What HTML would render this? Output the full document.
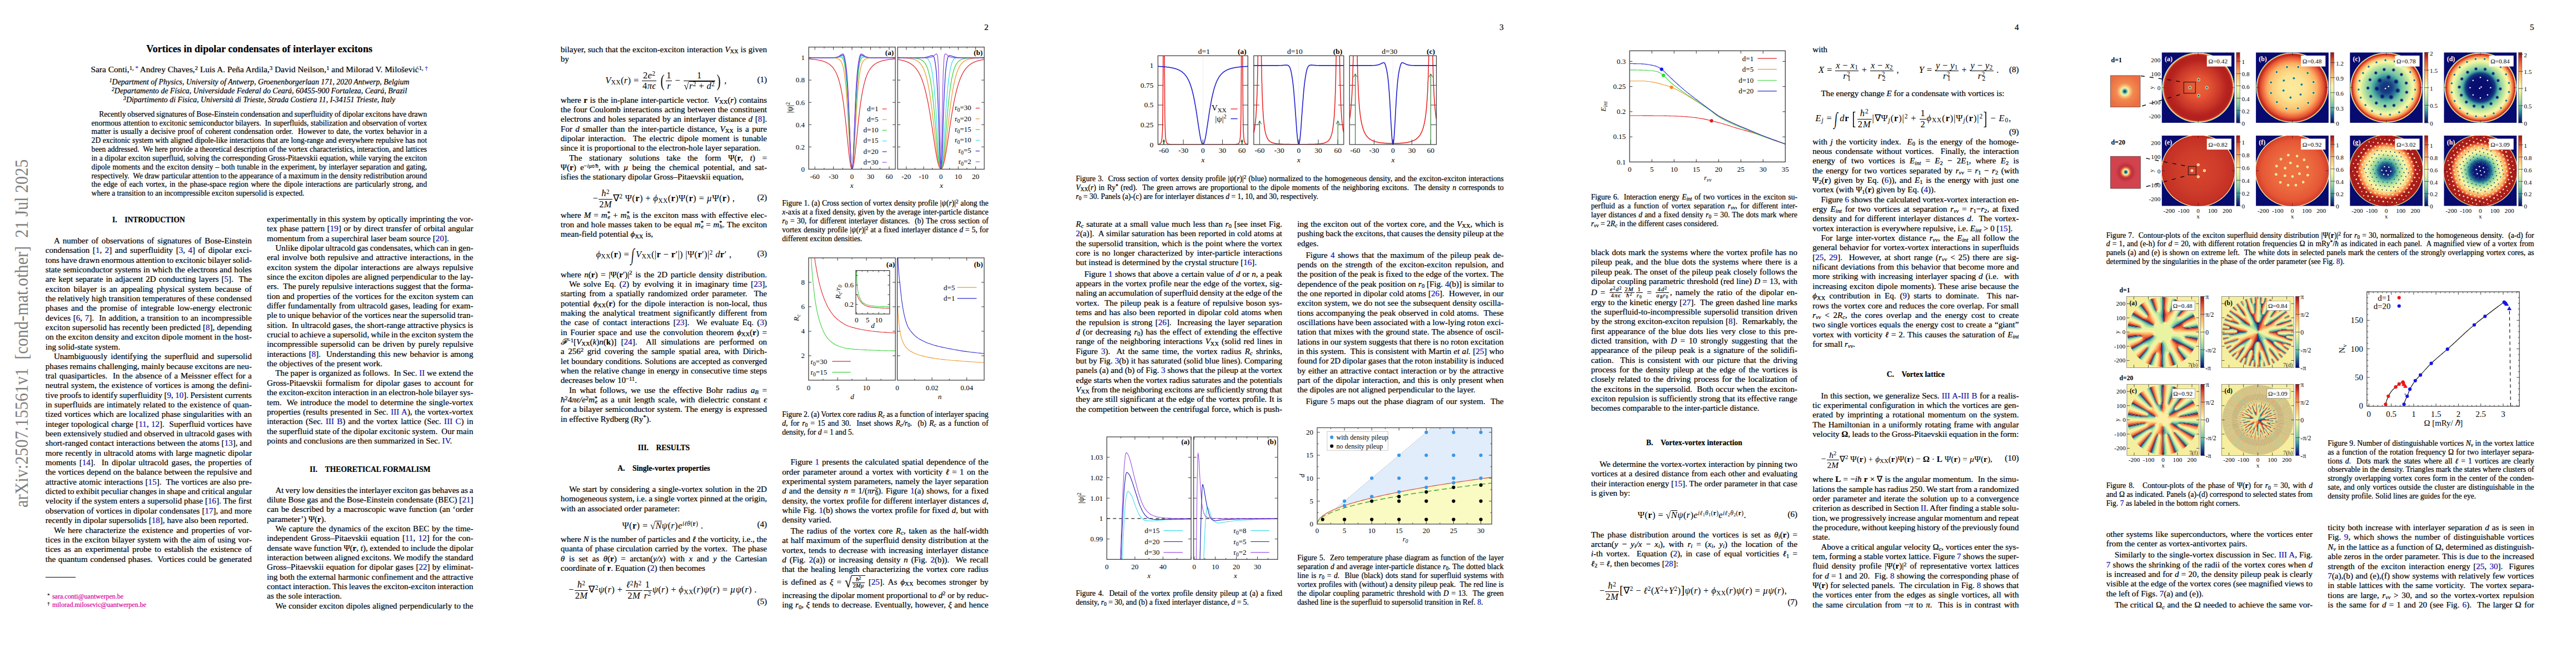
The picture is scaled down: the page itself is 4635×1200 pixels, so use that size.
<!DOCTYPE html>
<html lang="en"><head><meta charset="utf-8"><title>Vortices in dipolar condensates of interlayer excitons</title>
<style>
html,body{margin:0;padding:0;background:#fff}
body{width:4635px;height:1200px;position:relative;overflow:hidden;font-family:"Liberation Serif",serif;color:#000}
.pg{position:absolute;top:0;width:927px;height:1200px;overflow:hidden}
.l{-webkit-text-stroke-width:.22px}
.l{position:absolute;white-space:pre;height:17.354px;line-height:17.354px;font-size:15.09px}
.s{height:15.845px;line-height:15.845px;font-size:13.58px}
.g{display:inline-block;width:13.5px}
.c{text-align:center}
.r{text-align:right}
a{color:#1212aa}
.m{color:#d4009e}
.k{color:#3a3ae0}
sub.u{margin-left:-.45em}
.sq{display:inline-block;transform:scaleY(1.15)}
.ov{border-top:.8px solid #000;display:inline-block;line-height:1.0;vertical-align:baseline}
.big2{font-size:210%;vertical-align:middle;display:inline-block;transform:scaleX(.6);font-weight:100;margin:0 -2px;position:relative;top:-2px}
.int{font-size:190%;vertical-align:middle;display:inline-block;transform:scaleX(.6) skewX(-8deg);margin:0 -3px}
sub,sup{font-size:70%;line-height:0;position:relative;vertical-align:baseline}
sub{top:.22em}sup{top:-.42em}
.fr{display:inline-block;vertical-align:middle;text-align:center;line-height:1.12;margin:0 1px}
.fr>span{display:block;padding:0 1px}
.fr>span:first-child{border-bottom:.8px solid #000}
.eq{position:absolute;white-space:pre;text-align:center;font-size:15.09px;line-height:17.354px;letter-spacing:.35px}
.big{font-size:185%;vertical-align:middle;font-weight:100;display:inline-block;transform:scaleX(.7)}
svg{position:absolute;overflow:visible}
svg text{font-family:"Liberation Serif",serif}
</style></head>
<body>
<div class="pg" style="left:0px">
<div id="stamp" style="position:absolute;left:0;top:0;width:0;height:0"><div style="position:absolute;white-space:pre;font-size:30.3px;line-height:30px;color:#7f7f7f;transform-origin:0 0;transform:translate(22.7px,913px) rotate(-90deg) scale(.998,1.1)">arXiv:2507.15561v1  [cond-mat.other]  21 Jul 2025</div></div>
<div class="l c" style="left:81.80px;top:75.89px;font-size:18.10px;height:24.00px;line-height:24.00px;width:769.70px;"><b>Vortices in dipolar condensates of interlayer excitons</b></div>
<div class="l c" style="left:81.80px;top:116.14px;font-size:15.36px;width:769.70px;">Sara Conti,<sup>1,</sup><sup><a class="k"> *</a></sup> Andrey Chaves,<sup>2</sup> Luis A. Peña Ardila,<sup>3</sup> David Neilson,<sup>1</sup> and Milorad V. Milošević<sup>1,</sup><sup><a class="k"> †</a></sup></div>
<div class="l s c" style="left:81.80px;top:140.19px;font-size:13.88px;width:769.70px;"><i><sup>1</sup>Department of Physics, University of Antwerp, Groenenborgerlaan 171, 2020 Antwerp, Belgium</i></div>
<div class="l s c" style="left:81.80px;top:156.22px;font-size:13.88px;width:769.70px;"><i><sup>2</sup>Departamento de Física, Universidade Federal do Ceará, 60455-900 Fortaleza, Ceará, Brazil</i></div>
<div class="l s c" style="left:81.80px;top:172.25px;font-size:13.88px;width:769.70px;"><i><sup>3</sup>Dipartimento di Fisica, Università di Trieste, Strada Costiera 11, I-34151 Trieste, Italy</i></div>
<div class="l s" style="word-spacing:-0.48px;left:178.20px;top:197.66px;">Recently observed signatures of Bose-Einstein condensation and superfluidity of dipolar excitons have drawn</div>
<div class="l s" style="word-spacing:0.11px;left:164.60px;top:213.50px;">enormous attention to excitonic semiconductor bilayers.  In superfluids, stabilization and observation of vortex</div>
<div class="l s" style="word-spacing:0.94px;left:164.60px;top:229.35px;">matter is usually a decisive proof of coherent condensation order.  However to date, the vortex behavior in a</div>
<div class="l s" style="word-spacing:0.13px;left:164.60px;top:245.19px;">2D excitonic system with aligned dipole-like interactions that are long-range and everywhere repulsive has not</div>
<div class="l s" style="word-spacing:0.06px;left:164.60px;top:261.04px;">been addressed.  We here provide a theoretical description of the vortex characteristics, interaction, and lattices</div>
<div class="l s" style="word-spacing:0.28px;left:164.60px;top:276.88px;">in a dipolar exciton superfluid, solving the corresponding Gross-Pitaevskii equation, while varying the exciton</div>
<div class="l s" style="word-spacing:0.58px;left:164.60px;top:292.73px;">dipole moments and the exciton density – both tunable in the experiment, by interlayer separation and gating,</div>
<div class="l s" style="word-spacing:-0.05px;left:164.60px;top:308.57px;">respectively.  We draw particular attention to the appearance of a maximum in the density redistribution around</div>
<div class="l s" style="word-spacing:1.39px;left:164.60px;top:324.42px;">the edge of each vortex, in the phase-space region where the dipole interactions are particularly strong, and</div>
<div class="l s" style="left:164.60px;top:340.26px;">where a transition to an incompressible exciton supersolid is expected.</div>
<div class="l  c" style="left:81.80px;top:386.91px;font-size:13.58px;width:371.20px;"><b>I.<span class="g"></span>INTRODUCTION</b></div>
<div class="l" style="word-spacing:1.99px;left:96.90px;top:424.93px;">A number of observations of signatures of Bose-Einstein</div>
<div class="l" style="word-spacing:1.74px;left:81.80px;top:442.28px;">condensation [<a>1</a>, <a>2</a>] and superfluidity [<a>3</a>, <a>4</a>] of dipolar exci-</div>
<div class="l" style="word-spacing:-0.71px;left:81.80px;top:459.63px;">tons have drawn enormous attention to excitonic bilayer solid-</div>
<div class="l" style="word-spacing:0.23px;left:81.80px;top:476.99px;">state semiconductor systems in which the electrons and holes</div>
<div class="l" style="word-spacing:1.18px;left:81.80px;top:494.34px;">are kept separate in adjacent 2D conducting layers [<a>5</a>].  The</div>
<div class="l" style="word-spacing:2.44px;left:81.80px;top:511.70px;">exciton bilayer is an appealing physical system because of</div>
<div class="l" style="word-spacing:0.09px;left:81.80px;top:529.05px;">the relatively high transition temperatures of these condensed</div>
<div class="l" style="word-spacing:2.17px;left:81.80px;top:546.40px;">phases and the promise of integrable low-energy electronic</div>
<div class="l" style="word-spacing:0.89px;left:81.80px;top:563.76px;">devices [<a>6</a>, <a>7</a>].  In addition, a transition to an incompressible</div>
<div class="l" style="word-spacing:0.15px;left:81.80px;top:581.11px;">exciton supersolid has recently been predicted [<a>8</a>], depending</div>
<div class="l" style="word-spacing:-0.15px;left:81.80px;top:598.47px;">on the exciton density and exciton dipole moment in the host-</div>
<div class="l" style="left:81.80px;top:615.82px;">ing solid-state system.</div>
<div class="l" style="word-spacing:2.29px;left:96.90px;top:633.17px;">Unambiguously identifying the superfluid and supersolid</div>
<div class="l" style="word-spacing:-0.32px;left:81.80px;top:650.53px;">phases remains challenging, mainly because excitons are neu-</div>
<div class="l" style="word-spacing:1.04px;left:81.80px;top:667.88px;">tral quasiparticles.  In the absence of a Meissner effect for a</div>
<div class="l" style="word-spacing:0.58px;left:81.80px;top:685.24px;">neutral system, the existence of vortices is among the defini-</div>
<div class="l" style="word-spacing:-0.40px;left:81.80px;top:702.59px;">tive proofs to identify superfluidity [<a>9</a>, <a>10</a>]. Persistent currents</div>
<div class="l" style="word-spacing:0.54px;left:81.80px;top:719.94px;">in superfluids are intimately related to the existence of quan-</div>
<div class="l" style="word-spacing:0.66px;left:81.80px;top:737.30px;">tized vortices which are localized phase singularities with an</div>
<div class="l" style="word-spacing:0.55px;left:81.80px;top:754.65px;">integer topological charge [<a>11</a>, <a>12</a>].  Superfluid vortices have</div>
<div class="l" style="word-spacing:-0.08px;left:81.80px;top:772.01px;">been extensively studied and observed in ultracold gases with</div>
<div class="l" style="word-spacing:-0.09px;left:81.80px;top:789.36px;">short-ranged contact interactions between the atoms [<a>13</a>], and</div>
<div class="l" style="word-spacing:0.69px;left:81.80px;top:806.71px;">more recently in ultracold atoms with large magnetic dipolar</div>
<div class="l" style="word-spacing:1.84px;left:81.80px;top:824.07px;">moments [<a>14</a>].  In dipolar ultracold gases, the properties of</div>
<div class="l" style="word-spacing:0.26px;left:81.80px;top:841.42px;">the vortices depend on the balance between the repulsive and</div>
<div class="l" style="word-spacing:0.34px;left:81.80px;top:858.78px;">attractive atomic interactions [<a>15</a>].  The vortices are also pre-</div>
<div class="l" style="word-spacing:-0.58px;left:81.80px;top:876.13px;">dicted to exhibit peculiar changes in shape and critical angular</div>
<div class="l" style="word-spacing:0.00px;left:81.80px;top:893.48px;">velocity if the system enters a supersolid phase [<a>16</a>]. The first</div>
<div class="l" style="word-spacing:0.18px;left:81.80px;top:910.84px;">observation of vortices in dipolar condensates [<a>17</a>], and more</div>
<div class="l" style="left:81.80px;top:928.19px;">recently in dipolar supersolids [<a>18</a>], have also been reported.</div>
<div class="l" style="word-spacing:1.69px;left:96.90px;top:945.55px;">We here characterize the existence and properties of vor-</div>
<div class="l" style="word-spacing:0.54px;left:81.80px;top:962.90px;">tices in the exciton bilayer system with the aim of using vor-</div>
<div class="l" style="word-spacing:2.03px;left:81.80px;top:980.25px;">tices as an experimental probe to establish the existence of</div>
<div class="l" style="word-spacing:0.88px;left:81.80px;top:997.61px;">the quantum condensed phases.  Vortices could be generated</div>
<div style="position:absolute;left:81.8px;top:1037.6px;width:54.5px;height:0;border-top:.8px solid #000"></div>
<div class="l" style="left:85.30px;top:1066.23px;font-size:12.07px;height:14.00px;line-height:14.00px;"><sup style="color:#000">*</sup></div>
<div class="l" style="left:93.90px;top:1066.23px;font-size:12.07px;height:14.00px;line-height:14.00px;"><span class="m">sara.conti@uantwerpen.be</span></div>
<div class="l" style="left:85.30px;top:1081.33px;font-size:12.07px;height:14.00px;line-height:14.00px;"><sup style="color:#000">†</sup></div>
<div class="l" style="left:93.90px;top:1081.33px;font-size:12.07px;height:14.00px;line-height:14.00px;"><span class="m">milorad.milosevic@uantwerpen.be</span></div>
<div class="l" style="word-spacing:0.06px;left:480.30px;top:385.83px;">experimentally in this system by optically imprinting the vor-</div>
<div class="l" style="word-spacing:0.86px;left:480.30px;top:403.18px;">tex phase pattern [<a>19</a>] or by direct transfer of orbital angular</div>
<div class="l" style="left:480.30px;top:420.53px;">momentum from a superchiral laser beam source [<a>20</a>].</div>
<div class="l" style="word-spacing:-0.55px;left:495.40px;top:437.89px;">Unlike dipolar ultracold gas condensates, which can in gen-</div>
<div class="l" style="word-spacing:1.13px;left:480.30px;top:455.24px;">eral involve both repulsive and attractive interactions, in the</div>
<div class="l" style="word-spacing:1.65px;left:480.30px;top:472.60px;">exciton system the dipolar interactions are always repulsive</div>
<div class="l" style="word-spacing:0.07px;left:480.30px;top:489.95px;">since the exciton dipoles are aligned perpendicular to the lay-</div>
<div class="l" style="word-spacing:0.15px;left:480.30px;top:507.30px;">ers.  The purely repulsive interactions suggest that the forma-</div>
<div class="l" style="word-spacing:0.61px;left:480.30px;top:524.66px;">tion and properties of the vortices for the exciton system can</div>
<div class="l" style="word-spacing:0.79px;left:480.30px;top:542.01px;">differ fundamentally from ultracold gases, leading for exam-</div>
<div class="l" style="word-spacing:-0.40px;left:480.30px;top:559.37px;">ple to unique behavior of the vortices near the supersolid tran-</div>
<div class="l" style="word-spacing:-0.12px;left:480.30px;top:576.72px;">sition.  In ultracold gases, the short-range attractive physics is</div>
<div class="l" style="word-spacing:-0.61px;left:480.30px;top:594.07px;">crucial to achieve a supersolid, while in the exciton system the</div>
<div class="l" style="word-spacing:1.29px;left:480.30px;top:611.43px;">incompressible supersolid can be driven by purely repulsive</div>
<div class="l" style="word-spacing:1.22px;left:480.30px;top:628.78px;">interactions [<a>8</a>].  Understanding this new behavior is among</div>
<div class="l" style="left:480.30px;top:646.14px;">the objectives of the present work.</div>
<div class="l" style="word-spacing:-0.10px;left:495.40px;top:663.49px;">The paper is organized as follows.  In Sec. <a>II</a> we extend the</div>
<div class="l" style="word-spacing:2.00px;left:480.30px;top:680.84px;">Gross-Pitaevskii formalism for dipolar gases to account for</div>
<div class="l" style="word-spacing:-0.50px;left:480.30px;top:698.20px;">the exciton-exciton interaction in an electron-hole bilayer sys-</div>
<div class="l" style="word-spacing:0.93px;left:480.30px;top:715.55px;">tem.  We introduce the model to determine the single-vortex</div>
<div class="l" style="word-spacing:0.86px;left:480.30px;top:732.91px;">properties (results presented in Sec. <a>III A</a>), the vortex-vortex</div>
<div class="l" style="word-spacing:1.51px;left:480.30px;top:750.26px;">interaction (Sec. <a>III B</a>) and the vortex lattice (Sec. <a>III C</a>) in</div>
<div class="l" style="word-spacing:-0.19px;left:480.30px;top:767.61px;">the superfluid state of the dipolar excitonic system.  Our main</div>
<div class="l" style="left:480.30px;top:784.97px;">points and conclusions are then summarized in Sec. <a>IV</a>.</div>
<div class="l  c" style="left:480.30px;top:836.01px;font-size:13.58px;width:371.20px;"><b>II.<span class="g"></span>THEORETICAL FORMALISM</b></div>
<div class="l" style="word-spacing:-0.73px;left:495.40px;top:873.53px;">At very low densities the interlayer exciton gas behaves as a</div>
<div class="l" style="word-spacing:0.02px;left:480.30px;top:890.88px;">dilute Bose gas and the Bose-Einstein condensate (BEC) [<a>21</a>]</div>
<div class="l" style="word-spacing:0.91px;left:480.30px;top:908.23px;">can be described by a macroscopic wave function (an ‘order</div>
<div class="l" style="left:480.30px;top:925.59px;">parameter’) Ψ(<b>r</b>).</div>
<div class="l" style="word-spacing:0.81px;left:495.40px;top:942.94px;">We capture the dynamics of the exciton BEC by the time-</div>
<div class="l" style="word-spacing:1.54px;left:480.30px;top:960.30px;">independent Gross–Pitaevskii equation [<a>11</a>, <a>12</a>] for the con-</div>
<div class="l" style="word-spacing:-0.14px;left:480.30px;top:977.65px;">densate wave function Ψ(<b>r</b>, <i>t</i>), extended to include the dipolar</div>
<div class="l" style="word-spacing:-0.11px;left:480.30px;top:995.00px;">interaction between aligned excitons. We modify the standard</div>
<div class="l" style="word-spacing:0.44px;left:480.30px;top:1012.36px;">Gross–Pitaevskii equation for dipolar gases [<a>22</a>] by eliminat-</div>
<div class="l" style="word-spacing:-0.07px;left:480.30px;top:1029.71px;">ing both the external harmonic confinement and the attractive</div>
<div class="l" style="word-spacing:-0.68px;left:480.30px;top:1047.07px;">contact interaction. This leaves the exciton-exciton interaction</div>
<div class="l" style="left:480.30px;top:1064.42px;">as the sole interaction.</div>
<div class="l" style="word-spacing:0.26px;left:495.40px;top:1081.77px;">We consider exciton dipoles aligned perpendicularly to the</div>
</div>
<div class="pg" style="left:927px">
<div class="l r" style="left:81.80px;top:41.03px;width:769.70px;">2</div>
<div class="l" style="word-spacing:0.13px;left:81.80px;top:80.63px;">bilayer, such that the exciton-exciton interaction <i>V</i><sub>XX</sub> is given</div>
<div class="l" style="left:81.80px;top:97.98px;">by</div>
<div class="eq" style="left:85.8px;top:122.5px;width:371.2px;height:44px;line-height:44px;font-size:16.50px"><i>V</i><sub>XX</sub>(<i>r</i>) = <span class="fr"><span>2<i>e</i><sup>2</sup></span><span>4<i>πϵ</i></span></span> <span class="big">(</span><span class="fr"><span>1</span><span><i>r</i></span></span> − <span class="fr"><span>1</span><span><span class="sq">√</span><span class="ov"><i>r</i><sup>2</sup> + <i>d</i><sup>2</sup></span></span></span><span class="big">)</span> ,</div>
<div class="l r" style="left:81.80px;top:134.53px;width:371.20px;">(1)</div>
<div class="l" style="word-spacing:0.78px;left:81.80px;top:171.53px;">where <b>r</b> is the in-plane inter-particle vector.  <i>V</i><sub>XX</sub>(<i>r</i>) contains</div>
<div class="l" style="word-spacing:0.45px;left:81.80px;top:188.88px;">the four Coulomb interactions acting between the constituent</div>
<div class="l" style="word-spacing:0.77px;left:81.80px;top:206.23px;">electrons and holes separated by an interlayer distance <i>d</i> [<a>8</a>].</div>
<div class="l" style="word-spacing:1.75px;left:81.80px;top:223.59px;">For <i>d</i> smaller than the inter-particle distance, <i>V</i><sub>XX</sub> is a pure</div>
<div class="l" style="word-spacing:2.63px;left:81.80px;top:240.94px;">dipolar interaction.  The electric dipole moment is tunable</div>
<div class="l" style="left:81.80px;top:258.30px;">since it is proportional to the electron-hole layer separation.</div>
<div class="l" style="word-spacing:8.92px;left:96.90px;top:275.65px;">The stationary solutions take the form Ψ(<b>r</b>, <i>t</i>) =</div>
<div class="l" style="word-spacing:3.43px;left:81.80px;top:293.00px;">Ψ(<b>r</b>) e<sup>−<i>iµt/<i class="h">ħ</i></i></sup>, with <i>µ</i> being the chemical potential, and sat-</div>
<div class="l" style="left:81.80px;top:310.36px;">isfies the stationary dipolar Gross–Pitaevskii equation,</div>
<div class="eq" style="left:81.8px;top:335.1px;width:371.2px;height:44px;line-height:44px;font-size:16.50px">−<span class="fr"><span><i class="h">ħ</i><sup>2</sup></span><span>2<i>M</i></span></span>∇<sup>2</sup> Ψ(<b>r</b>) + <i>ϕ</i><sub>XX</sub>(<b>r</b>)Ψ(<b>r</b>) = <i>µ</i>Ψ(<b>r</b>) ,</div>
<div class="l r" style="left:81.80px;top:347.13px;width:371.20px;">(2)</div>
<div class="l" style="word-spacing:1.26px;left:81.80px;top:378.53px;">where <i>M</i> = <i>m</i><sup>*</sup><sub class="u"><i>e</i></sub> + <i>m</i><sup>*</sup><sub class="u"><i>h</i></sub> is the exciton mass with effective elec-</div>
<div class="l" style="word-spacing:0.61px;left:81.80px;top:395.88px;">tron and hole masses taken to be equal <i>m</i><sup>*</sup><sub class="u"><i>e</i></sub> = <i>m</i><sup>*</sup><sub class="u"><i>h</i></sub>. The exciton</div>
<div class="l" style="left:81.80px;top:413.23px;">mean-field potential <i>ϕ</i><sub>XX</sub> is,</div>
<div class="eq" style="left:81.8px;top:435.8px;width:371.2px;height:44px;line-height:44px;font-size:16.50px"><i>ϕ</i><sub>XX</sub>(<b>r</b>) = <span class="int">∫</span> <i>V</i><sub>XX</sub>(|<b>r</b> − <b>r</b>′|) |Ψ(<b>r</b>′)|<sup>2</sup> <i>d</i><b>r</b>′ ,</div>
<div class="l r" style="left:81.80px;top:447.83px;width:371.20px;">(3)</div>
<div class="l" style="word-spacing:1.79px;left:81.80px;top:485.53px;">where <i>n</i>(<b>r</b>) = |Ψ(<b>r</b>′)|<sup>2</sup> is the 2D particle density distribution.</div>
<div class="l" style="word-spacing:2.40px;left:96.90px;top:502.88px;">We solve Eq. (<a>2</a>) by evolving it in imaginary time [<a>23</a>],</div>
<div class="l" style="word-spacing:2.42px;left:81.80px;top:520.23px;">starting from a spatially randomized order parameter.  The</div>
<div class="l" style="word-spacing:1.80px;left:81.80px;top:537.59px;">potential <i>ϕ</i><sub>XX</sub>(<b>r</b>) for the dipole interaction is non-local, thus</div>
<div class="l" style="word-spacing:2.18px;left:81.80px;top:554.94px;">making the analytical treatment significantly different from</div>
<div class="l" style="word-spacing:2.60px;left:81.80px;top:572.30px;">the case of contact interactions [<a>23</a>].  We evaluate Eq. (<a>3</a>)</div>
<div class="l" style="word-spacing:1.96px;left:81.80px;top:589.65px;">in Fourier space and use the convolution theorem <i>ϕ</i><sub>XX</sub>(<b>r</b>) =</div>
<div class="l" style="word-spacing:4.45px;left:81.80px;top:607.00px;"><i>ℱ</i><sup>−1</sup>[<i>V</i><sub>XX</sub>(<i>k</i>)<i>n</i>(<b>k</b>)] [<a>24</a>].  All simulations are performed on</div>
<div class="l" style="word-spacing:2.88px;left:81.80px;top:624.36px;">a 256<sup>2</sup> grid covering the sample spatial area, with Dirich-</div>
<div class="l" style="word-spacing:0.43px;left:81.80px;top:641.71px;">let boundary conditions. Solutions are accepted as converged</div>
<div class="l" style="word-spacing:0.66px;left:81.80px;top:659.07px;">when the relative change in energy in consecutive time steps</div>
<div class="l" style="left:81.80px;top:676.42px;">decreases below 10<sup>−11</sup>.</div>
<div class="l" style="word-spacing:2.94px;left:96.90px;top:693.77px;">In what follows, we use the effective Bohr radius <i>a<sub>B</sub></i> =</div>
<div class="l" style="word-spacing:1.94px;left:81.80px;top:711.13px;"><i class="h">ħ</i><sup>2</sup>4<i>πϵ/e</i><sup>2</sup><i>m</i><sup>*</sup><sub class="u"><i>e</i></sub> as a unit length scale, with dielectric constant <i>ϵ</i></div>
<div class="l" style="word-spacing:0.88px;left:81.80px;top:728.48px;">for a bilayer semiconductor system. The energy is expressed</div>
<div class="l" style="left:81.80px;top:745.84px;">in effective Rydberg (Ry<sup>*</sup>).</div>
<div class="l  c" style="left:81.80px;top:796.51px;font-size:13.58px;width:371.20px;"><b>III.<span class="g"></span>RESULTS</b></div>
<div class="l  c" style="left:81.80px;top:833.81px;font-size:13.58px;width:371.20px;"><b>A.<span class="g"></span>Single-vortex properties</b></div>
<div class="l" style="word-spacing:0.85px;left:96.90px;top:872.03px;">We start by considering a single-vortex solution in the 2D</div>
<div class="l" style="word-spacing:-0.21px;left:81.80px;top:889.38px;">homogeneous system, i.e. a single vortex pinned at the origin,</div>
<div class="l" style="left:81.80px;top:906.73px;">with an associated order parameter:</div>
<div class="eq" style="left:79.8px;top:923.5px;width:371.2px;height:44px;line-height:44px;font-size:16.50px">Ψ(<b>r</b>) = <span class="sq">√</span><span class="ov"><i>N</i></span><i>ψ</i>(<i>r</i>)<i>e</i><sup><i>iℓθ</i>(<b>r</b>)</sup> .</div>
<div class="l r" style="left:81.80px;top:935.03px;width:371.20px;">(4)</div>
<div class="l" style="word-spacing:-0.01px;left:81.80px;top:962.13px;">where <i>N</i> is the number of particles and <i>ℓ</i> the vorticity, i.e., the</div>
<div class="l" style="word-spacing:0.68px;left:81.80px;top:979.48px;">quanta of phase circulation carried by the vortex.  The phase</div>
<div class="l" style="word-spacing:3.72px;left:81.80px;top:996.83px;"><i>θ</i> is set as <i>θ</i>(<b>r</b>) = arctan(<i>y/x</i>) with <i>x</i> and <i>y</i> the Cartesian</div>
<div class="l" style="left:81.80px;top:1014.19px;">coordinate of <b>r</b>. Equation (<a>2</a>) then becomes</div>
<div class="eq" style="left:79.8px;top:1039.1px;width:371.2px;height:44px;line-height:44px;font-size:16.50px">−<span class="fr"><span><i class="h">ħ</i><sup>2</sup></span><span>2<i>M</i></span></span>∇<sup>2</sup><i>ψ</i>(<i>r</i>) + <span class="fr"><span><i>ℓ</i><sup>2</sup><i class="h">ħ</i><sup>2</sup></span><span>2<i>M</i></span></span><span class="fr"><span>1</span><span><i>r</i><sup>2</sup></span></span><i>ψ</i>(<i>r</i>) + <i>ϕ</i><sub>XX</sub>(<i>r</i>)<i>ψ</i>(<i>r</i>) = <i>µψ</i>(<i>r</i>) .</div>
<div class="l r" style="left:81.80px;top:1074.33px;width:371.20px;">(5)</div>
<div class="l s" style="word-spacing:0.24px;left:480.30px;top:358.46px;">Figure 1. (a) Cross section of vortex density profile |<i>ψ</i>(<i>r</i>)|<sup>2</sup> along the</div>
<div class="l s" style="word-spacing:0.25px;left:480.30px;top:374.30px;"><i>x</i>-axis at a fixed density, given by the average inter-particle distance</div>
<div class="l s" style="word-spacing:1.16px;left:480.30px;top:390.15px;"><i>r</i><sub>0</sub> = 30, for different interlayer distances.  (b) The cross section of</div>
<div class="l s" style="word-spacing:0.55px;left:480.30px;top:405.99px;">vortex density profile |<i>ψ</i>(<i>r</i>)|<sup>2</sup> at a fixed interlayer distance <i>d</i> = 5, for</div>
<div class="l s" style="left:480.30px;top:421.84px;">different exciton densities.</div>
<div class="l s" style="word-spacing:-0.20px;left:480.30px;top:737.86px;">Figure 2. (a) Vortex core radius <i>R<sub>c</sub></i> as a function of interlayer spacing</div>
<div class="l s" style="word-spacing:1.60px;left:480.30px;top:753.70px;"><i>d</i>, for <i>r</i><sub>0</sub> = 15 and 30.  Inset shows <i>R<sub>c</sub>/r</i><sub>0</sub>.  (b) <i>R<sub>c</sub></i> as a function of</div>
<div class="l s" style="left:480.30px;top:769.55px;">density, for <i>d</i> = 1 and 5.</div>
<div class="l" style="word-spacing:1.07px;left:495.40px;top:823.23px;">Figure <a>1</a> presents the calculated spatial dependence of the</div>
<div class="l" style="word-spacing:1.53px;left:480.30px;top:840.58px;">order parameter around a vortex with vorticity <i>ℓ</i> = 1 on the</div>
<div class="l" style="word-spacing:0.53px;left:480.30px;top:857.93px;">experimental system parameters, namely the layer separation</div>
<div class="l" style="word-spacing:1.12px;left:480.30px;top:875.29px;"><i>d</i> and the density <i>n</i> ≡ 1/(<i>πr</i><sup>2</sup><sub class="u">0</sub>). Figure <a>1</a>(a) shows, for a fixed</div>
<div class="l" style="word-spacing:0.50px;left:480.30px;top:892.64px;">density, the vortex profile for different interlayer distances <i>d</i>,</div>
<div class="l" style="word-spacing:0.58px;left:480.30px;top:910.00px;">while Fig. <a>1</a>(b) shows the vortex profile for fixed <i>d</i>, but with</div>
<div class="l" style="left:480.30px;top:927.35px;">density varied.</div>
<div class="l" style="word-spacing:1.85px;left:495.40px;top:947.03px;">The radius of the vortex core <i>R<sub>c</sub></i>, taken as the half-width</div>
<div class="l" style="word-spacing:0.81px;left:480.30px;top:964.38px;">at half maximum of the superfluid density distribution at the</div>
<div class="l" style="word-spacing:1.59px;left:480.30px;top:981.73px;">vortex, tends to decrease with increasing interlayer distance</div>
<div class="l" style="word-spacing:2.05px;left:480.30px;top:999.09px;"><i>d</i> (Fig. <a>2</a>(a)) or increasing density <i>n</i> (Fig. <a>2</a>(b)).  We recall</div>
<div class="l" style="word-spacing:1.60px;left:480.30px;top:1016.44px;">that the healing length characterizing the vortex core radius</div>
<div class="l" style="word-spacing:2.22px;left:480.30px;top:1034.13px;">is defined as <i>ξ</i> = <span class="sq" style="font-size:150%;vertical-align:-3px">√</span><span class="ov" style="padding-top:2px;position:relative;top:.8px"><span class="fr" style="font-size:70%;line-height:1"><span><i class="h">ħ</i><sup>2</sup></span><span>2<i>Mµ</i></span></span></span> [<a>25</a>]. As <i>ϕ</i><sub>XX</sub> becomes stronger by</div>
<div class="l" style="word-spacing:-0.05px;left:480.30px;top:1062.53px;">increasing the dipolar moment proportional to <i>d</i><sup>2</sup> or by reduc-</div>
<div class="l" style="word-spacing:0.70px;left:480.30px;top:1080.33px;">ing <i>r</i><sub>0</sub>, <i>ξ</i> tends to decrease. Eventually, however, <i>ξ</i> and hence</div>
<svg width="927" height="1200" viewBox="0 0 927 1200" style="left:0;top:0"><line x1="606.0" x2="606.0" y1="84.7" y2="304.4" stroke="#ccc" stroke-width=".6" stroke-dasharray="1 1.5"/>
<clipPath id="f1a"><rect x="528.1" y="84.7" width="155.9" height="219.7"/></clipPath>
<polyline points="528.1,106.0 528.7,106.0 529.2,106.1 529.8,106.1 530.3,106.2 530.9,106.2 531.4,106.3 532.0,106.3 532.6,106.4 533.1,106.4 533.7,106.5 534.2,106.5 534.8,106.6 535.3,106.6 535.9,106.7 536.5,106.7 537.0,106.8 537.6,106.9 538.1,106.9 538.7,107.0 539.2,107.1 539.8,107.1 540.3,107.2 540.9,107.3 541.5,107.4 542.0,107.5 542.6,107.5 543.1,107.6 543.7,107.7 544.2,107.8 544.8,107.9 545.4,108.0 545.9,108.1 546.5,108.2 547.0,108.3 547.6,108.4 548.1,108.6 548.7,108.7 549.3,108.8 549.8,108.9 550.4,109.1 550.9,109.2 551.5,109.4 552.0,109.5 552.6,109.7 553.2,109.8 553.7,110.0 554.3,110.2 554.8,110.4 555.4,110.6 555.9,110.8 556.5,111.0 557.1,111.2 557.6,111.4 558.2,111.6 558.7,111.9 559.3,112.1 559.8,112.4 560.4,112.6 561.0,112.9 561.5,113.2 562.1,113.5 562.6,113.8 563.2,114.2 563.7,114.5 564.3,114.9 564.8,115.3 565.4,115.7 566.0,116.1 566.5,116.5 567.1,117.0 567.6,117.5 568.2,118.0 568.7,118.5 569.3,119.0 569.9,119.6 570.4,120.2 571.0,120.8 571.5,121.5 572.1,122.2 572.6,122.9 573.2,123.7 573.8,124.5 574.3,125.3 574.9,126.2 575.4,127.2 576.0,128.2 576.5,129.2 577.1,130.3 577.7,131.4 578.2,132.7 578.8,133.9 579.3,135.3 579.9,136.7 580.4,138.2 581.0,139.8 581.6,141.5 582.1,143.2 582.7,145.1 583.2,147.1 583.8,149.2 584.3,151.3 584.9,153.7 585.4,156.1 586.0,158.7 586.6,161.4 587.1,164.2 587.7,167.2 588.2,170.4 588.8,173.7 589.3,177.2 589.9,180.9 590.5,184.7 591.0,188.7 591.6,192.9 592.1,197.3 592.7,201.9 593.2,206.6 593.8,211.5 594.4,216.6 594.9,221.8 595.5,227.1 596.0,232.5 596.6,238.1 597.1,243.7 597.7,249.3 598.3,254.9 598.8,260.4 599.4,265.8 599.9,271.1 600.5,276.2 601.0,281.0 601.6,285.6 602.2,289.7 602.7,293.4 603.3,296.7 603.8,299.4 604.4,301.6 604.9,303.1 605.5,304.1 606.0,304.4 606.6,304.1 607.2,303.1 607.7,301.6 608.3,299.4 608.8,296.7 609.4,293.4 609.9,289.7 610.5,285.6 611.1,281.0 611.6,276.2 612.2,271.1 612.7,265.8 613.3,260.4 613.8,254.9 614.4,249.3 615.0,243.7 615.5,238.1 616.1,232.5 616.6,227.1 617.2,221.8 617.7,216.6 618.3,211.5 618.9,206.6 619.4,201.9 620.0,197.3 620.5,192.9 621.1,188.7 621.6,184.7 622.2,180.9 622.8,177.2 623.3,173.7 623.9,170.4 624.4,167.2 625.0,164.2 625.5,161.4 626.1,158.7 626.7,156.1 627.2,153.7 627.8,151.3 628.3,149.2 628.9,147.1 629.4,145.1 630.0,143.2 630.5,141.5 631.1,139.8 631.7,138.2 632.2,136.7 632.8,135.3 633.3,133.9 633.9,132.7 634.4,131.4 635.0,130.3 635.6,129.2 636.1,128.2 636.7,127.2 637.2,126.2 637.8,125.3 638.3,124.5 638.9,123.7 639.5,122.9 640.0,122.2 640.6,121.5 641.1,120.8 641.7,120.2 642.2,119.6 642.8,119.0 643.4,118.5 643.9,118.0 644.5,117.5 645.0,117.0 645.6,116.5 646.1,116.1 646.7,115.7 647.3,115.3 647.8,114.9 648.4,114.5 648.9,114.2 649.5,113.8 650.0,113.5 650.6,113.2 651.1,112.9 651.7,112.6 652.3,112.4 652.8,112.1 653.4,111.9 653.9,111.6 654.5,111.4 655.0,111.2 655.6,111.0 656.2,110.8 656.7,110.6 657.3,110.4 657.8,110.2 658.4,110.0 658.9,109.8 659.5,109.7 660.1,109.5 660.6,109.4 661.2,109.2 661.7,109.1 662.3,108.9 662.8,108.8 663.4,108.7 664.0,108.6 664.5,108.4 665.1,108.3 665.6,108.2 666.2,108.1 666.7,108.0 667.3,107.9 667.9,107.8 668.4,107.7 669.0,107.6 669.5,107.5 670.1,107.5 670.6,107.4 671.2,107.3 671.8,107.2 672.3,107.1 672.9,107.1 673.4,107.0 674.0,106.9 674.5,106.9 675.1,106.8 675.6,106.7 676.2,106.7 676.8,106.6 677.3,106.6 677.9,106.5 678.4,106.5 679.0,106.4 679.5,106.4 680.1,106.3 680.7,106.3 681.2,106.2 681.8,106.2 682.3,106.1 682.9,106.1 683.4,106.0 684.0,106.0" fill="none" stroke="#e0262b" stroke-width="1.25" clip-path="url(#f1a)"/>
<polyline points="528.1,104.0 528.7,104.0 529.2,104.0 529.8,104.0 530.3,104.0 530.9,104.0 531.4,104.0 532.0,104.0 532.6,104.0 533.1,104.0 533.7,104.0 534.2,104.0 534.8,104.0 535.3,104.0 535.9,104.0 536.5,104.0 537.0,104.0 537.6,104.0 538.1,104.0 538.7,104.0 539.2,104.0 539.8,104.0 540.3,104.0 540.9,104.0 541.5,104.0 542.0,104.0 542.6,104.0 543.1,104.0 543.7,104.0 544.2,104.0 544.8,104.0 545.4,104.0 545.9,104.0 546.5,104.0 547.0,104.0 547.6,104.0 548.1,104.0 548.7,104.0 549.3,104.0 549.8,104.0 550.4,104.0 550.9,104.0 551.5,104.0 552.0,104.0 552.6,104.0 553.2,104.0 553.7,104.0 554.3,104.0 554.8,104.0 555.4,104.0 555.9,104.0 556.5,104.0 557.1,104.0 557.6,104.0 558.2,104.0 558.7,104.1 559.3,104.1 559.8,104.1 560.4,104.1 561.0,104.1 561.5,104.1 562.1,104.1 562.6,104.1 563.2,104.1 563.7,104.1 564.3,104.1 564.8,104.1 565.4,104.1 566.0,104.1 566.5,104.1 567.1,104.1 567.6,104.1 568.2,104.1 568.7,104.1 569.3,104.2 569.9,104.2 570.4,104.2 571.0,104.2 571.5,104.2 572.1,104.3 572.6,104.3 573.2,104.3 573.8,104.4 574.3,104.4 574.9,104.4 575.4,104.5 576.0,104.6 576.5,104.6 577.1,104.7 577.7,104.8 578.2,104.9 578.8,105.1 579.3,105.2 579.9,105.4 580.4,105.6 581.0,105.8 581.6,106.0 582.1,106.3 582.7,106.7 583.2,107.1 583.8,107.5 584.3,108.0 584.9,108.6 585.4,109.3 586.0,110.1 586.6,111.0 587.1,112.1 587.7,113.3 588.2,114.7 588.8,116.2 589.3,118.0 589.9,120.1 590.5,122.4 591.0,125.1 591.6,128.1 592.1,131.5 592.7,135.3 593.2,139.6 593.8,144.4 594.4,149.7 594.9,155.5 595.5,161.9 596.0,168.9 596.6,176.5 597.1,184.6 597.7,193.2 598.3,202.3 598.8,211.8 599.4,221.6 599.9,231.6 600.5,241.6 601.0,251.5 601.6,261.0 602.2,270.1 602.7,278.5 603.3,285.9 603.8,292.3 604.4,297.5 604.9,301.3 605.5,303.6 606.0,304.4 606.6,303.6 607.2,301.3 607.7,297.5 608.3,292.3 608.8,285.9 609.4,278.5 609.9,270.1 610.5,261.0 611.1,251.5 611.6,241.6 612.2,231.6 612.7,221.6 613.3,211.8 613.8,202.3 614.4,193.2 615.0,184.6 615.5,176.5 616.1,168.9 616.6,161.9 617.2,155.5 617.7,149.7 618.3,144.4 618.9,139.6 619.4,135.3 620.0,131.5 620.5,128.1 621.1,125.1 621.6,122.4 622.2,120.1 622.8,118.0 623.3,116.2 623.9,114.7 624.4,113.3 625.0,112.1 625.5,111.0 626.1,110.1 626.7,109.3 627.2,108.6 627.8,108.0 628.3,107.5 628.9,107.1 629.4,106.7 630.0,106.3 630.5,106.0 631.1,105.8 631.7,105.6 632.2,105.4 632.8,105.2 633.3,105.1 633.9,104.9 634.4,104.8 635.0,104.7 635.6,104.6 636.1,104.6 636.7,104.5 637.2,104.4 637.8,104.4 638.3,104.4 638.9,104.3 639.5,104.3 640.0,104.3 640.6,104.2 641.1,104.2 641.7,104.2 642.2,104.2 642.8,104.2 643.4,104.1 643.9,104.1 644.5,104.1 645.0,104.1 645.6,104.1 646.1,104.1 646.7,104.1 647.3,104.1 647.8,104.1 648.4,104.1 648.9,104.1 649.5,104.1 650.0,104.1 650.6,104.1 651.1,104.1 651.7,104.1 652.3,104.1 652.8,104.1 653.4,104.1 653.9,104.0 654.5,104.0 655.0,104.0 655.6,104.0 656.2,104.0 656.7,104.0 657.3,104.0 657.8,104.0 658.4,104.0 658.9,104.0 659.5,104.0 660.1,104.0 660.6,104.0 661.2,104.0 661.7,104.0 662.3,104.0 662.8,104.0 663.4,104.0 664.0,104.0 664.5,104.0 665.1,104.0 665.6,104.0 666.2,104.0 666.7,104.0 667.3,104.0 667.9,104.0 668.4,104.0 669.0,104.0 669.5,104.0 670.1,104.0 670.6,104.0 671.2,104.0 671.8,104.0 672.3,104.0 672.9,104.0 673.4,104.0 674.0,104.0 674.5,104.0 675.1,104.0 675.6,104.0 676.2,104.0 676.8,104.0 677.3,104.0 677.9,104.0 678.4,104.0 679.0,104.0 679.5,104.0 680.1,104.0 680.7,104.0 681.2,104.0 681.8,104.0 682.3,104.0 682.9,104.0 683.4,104.0 684.0,104.0" fill="none" stroke="#f0962a" stroke-width="1.25" clip-path="url(#f1a)"/>
<polyline points="528.1,104.0 528.7,104.0 529.2,104.0 529.8,104.0 530.3,104.0 530.9,104.0 531.4,104.0 532.0,104.0 532.6,104.0 533.1,104.0 533.7,104.0 534.2,104.0 534.8,104.0 535.3,104.0 535.9,104.0 536.5,104.0 537.0,104.0 537.6,104.0 538.1,104.0 538.7,104.0 539.2,104.0 539.8,104.0 540.3,104.0 540.9,104.0 541.5,104.0 542.0,104.0 542.6,104.0 543.1,104.0 543.7,104.0 544.2,104.0 544.8,104.0 545.4,104.0 545.9,104.0 546.5,104.0 547.0,104.0 547.6,104.0 548.1,104.0 548.7,104.0 549.3,104.0 549.8,104.0 550.4,104.0 550.9,104.0 551.5,104.0 552.0,104.0 552.6,104.0 553.2,104.0 553.7,104.0 554.3,104.0 554.8,104.0 555.4,104.0 555.9,104.0 556.5,104.0 557.1,104.0 557.6,104.0 558.2,104.0 558.7,104.0 559.3,104.0 559.8,104.0 560.4,104.0 561.0,104.0 561.5,104.0 562.1,104.0 562.6,104.0 563.2,104.0 563.7,104.0 564.3,104.0 564.8,104.0 565.4,104.0 566.0,104.0 566.5,104.0 567.1,104.0 567.6,104.0 568.2,104.0 568.7,104.0 569.3,104.0 569.9,104.0 570.4,104.0 571.0,104.0 571.5,104.0 572.1,103.9 572.6,103.9 573.2,103.9 573.8,103.9 574.3,103.9 574.9,103.8 575.4,103.8 576.0,103.8 576.5,103.7 577.1,103.7 577.7,103.6 578.2,103.6 578.8,103.5 579.3,103.4 579.9,103.4 580.4,103.3 581.0,103.2 581.6,103.1 582.1,103.1 582.7,103.0 583.2,102.9 583.8,102.9 584.3,102.8 584.9,102.8 585.4,102.8 586.0,102.9 586.6,103.0 587.1,103.2 587.7,103.5 588.2,104.0 588.8,104.5 589.3,105.2 589.9,106.2 590.5,107.4 591.0,108.9 591.6,111.0 592.1,113.6 592.7,116.7 593.2,120.4 593.8,124.7 594.4,129.5 594.9,134.9 595.5,140.9 596.0,147.5 596.6,154.8 597.1,162.8 597.7,171.6 598.3,181.0 598.8,191.2 599.4,202.0 599.9,213.2 600.5,224.8 601.0,236.6 601.6,248.3 602.2,259.6 602.7,270.2 603.3,279.9 603.8,288.3 604.4,295.1 604.9,300.2 605.5,303.3 606.0,304.4 606.6,303.3 607.2,300.2 607.7,295.1 608.3,288.3 608.8,279.9 609.4,270.2 609.9,259.6 610.5,248.3 611.1,236.6 611.6,224.8 612.2,213.2 612.7,202.0 613.3,191.2 613.8,181.0 614.4,171.6 615.0,162.8 615.5,154.8 616.1,147.5 616.6,140.9 617.2,134.9 617.7,129.5 618.3,124.7 618.9,120.4 619.4,116.7 620.0,113.6 620.5,111.0 621.1,108.9 621.6,107.4 622.2,106.2 622.8,105.2 623.3,104.5 623.9,104.0 624.4,103.5 625.0,103.2 625.5,103.0 626.1,102.9 626.7,102.8 627.2,102.8 627.8,102.8 628.3,102.9 628.9,102.9 629.4,103.0 630.0,103.1 630.5,103.1 631.1,103.2 631.7,103.3 632.2,103.4 632.8,103.4 633.3,103.5 633.9,103.6 634.4,103.6 635.0,103.7 635.6,103.7 636.1,103.8 636.7,103.8 637.2,103.8 637.8,103.9 638.3,103.9 638.9,103.9 639.5,103.9 640.0,103.9 640.6,104.0 641.1,104.0 641.7,104.0 642.2,104.0 642.8,104.0 643.4,104.0 643.9,104.0 644.5,104.0 645.0,104.0 645.6,104.0 646.1,104.0 646.7,104.0 647.3,104.0 647.8,104.0 648.4,104.0 648.9,104.0 649.5,104.0 650.0,104.0 650.6,104.0 651.1,104.0 651.7,104.0 652.3,104.0 652.8,104.0 653.4,104.0 653.9,104.0 654.5,104.0 655.0,104.0 655.6,104.0 656.2,104.0 656.7,104.0 657.3,104.0 657.8,104.0 658.4,104.0 658.9,104.0 659.5,104.0 660.1,104.0 660.6,104.0 661.2,104.0 661.7,104.0 662.3,104.0 662.8,104.0 663.4,104.0 664.0,104.0 664.5,104.0 665.1,104.0 665.6,104.0 666.2,104.0 666.7,104.0 667.3,104.0 667.9,104.0 668.4,104.0 669.0,104.0 669.5,104.0 670.1,104.0 670.6,104.0 671.2,104.0 671.8,104.0 672.3,104.0 672.9,104.0 673.4,104.0 674.0,104.0 674.5,104.0 675.1,104.0 675.6,104.0 676.2,104.0 676.8,104.0 677.3,104.0 677.9,104.0 678.4,104.0 679.0,104.0 679.5,104.0 680.1,104.0 680.7,104.0 681.2,104.0 681.8,104.0 682.3,104.0 682.9,104.0 683.4,104.0 684.0,104.0" fill="none" stroke="#3cd23c" stroke-width="1.25" clip-path="url(#f1a)"/>
<polyline points="528.1,104.0 528.7,104.0 529.2,104.0 529.8,104.0 530.3,104.0 530.9,104.0 531.4,104.0 532.0,104.0 532.6,104.0 533.1,104.0 533.7,104.0 534.2,104.0 534.8,104.0 535.3,104.0 535.9,104.0 536.5,104.0 537.0,104.0 537.6,104.0 538.1,104.0 538.7,104.0 539.2,104.0 539.8,104.0 540.3,104.0 540.9,104.0 541.5,104.0 542.0,104.0 542.6,104.0 543.1,104.0 543.7,104.0 544.2,104.0 544.8,104.0 545.4,104.0 545.9,104.0 546.5,104.0 547.0,104.0 547.6,104.0 548.1,104.0 548.7,104.0 549.3,104.0 549.8,104.0 550.4,104.0 550.9,104.0 551.5,104.0 552.0,104.0 552.6,104.0 553.2,104.0 553.7,104.0 554.3,104.0 554.8,104.0 555.4,104.0 555.9,104.0 556.5,104.0 557.1,104.0 557.6,104.0 558.2,104.0 558.7,104.0 559.3,104.0 559.8,104.0 560.4,104.0 561.0,104.0 561.5,104.0 562.1,104.0 562.6,104.0 563.2,104.0 563.7,104.0 564.3,104.0 564.8,104.0 565.4,104.0 566.0,104.0 566.5,104.0 567.1,104.0 567.6,104.0 568.2,104.0 568.7,104.0 569.3,104.0 569.9,104.0 570.4,103.9 571.0,103.9 571.5,103.9 572.1,103.9 572.6,103.9 573.2,103.8 573.8,103.8 574.3,103.8 574.9,103.7 575.4,103.7 576.0,103.6 576.5,103.5 577.1,103.5 577.7,103.4 578.2,103.3 578.8,103.2 579.3,103.1 579.9,102.9 580.4,102.8 581.0,102.7 581.6,102.5 582.1,102.3 582.7,102.2 583.2,102.0 583.8,101.8 584.3,101.6 584.9,101.5 585.4,101.3 586.0,101.2 586.6,101.1 587.1,101.0 587.7,101.1 588.2,101.2 588.8,101.4 589.3,101.7 589.9,102.3 590.5,103.0 591.0,104.2 591.6,105.8 592.1,108.0 592.7,110.6 593.2,113.8 593.8,117.5 594.4,121.6 594.9,126.4 595.5,131.6 596.0,137.5 596.6,144.2 597.1,151.6 597.7,159.9 598.3,169.1 598.8,179.1 599.4,190.1 599.9,201.8 600.5,214.1 601.0,226.8 601.6,239.7 602.2,252.3 602.7,264.4 603.3,275.6 603.8,285.3 604.4,293.4 604.9,299.4 605.5,303.1 606.0,304.4 606.6,303.1 607.2,299.4 607.7,293.4 608.3,285.3 608.8,275.6 609.4,264.4 609.9,252.3 610.5,239.7 611.1,226.8 611.6,214.1 612.2,201.8 612.7,190.1 613.3,179.1 613.8,169.1 614.4,159.9 615.0,151.6 615.5,144.2 616.1,137.5 616.6,131.6 617.2,126.4 617.7,121.6 618.3,117.5 618.9,113.8 619.4,110.6 620.0,108.0 620.5,105.8 621.1,104.2 621.6,103.0 622.2,102.3 622.8,101.7 623.3,101.4 623.9,101.2 624.4,101.1 625.0,101.0 625.5,101.1 626.1,101.2 626.7,101.3 627.2,101.5 627.8,101.6 628.3,101.8 628.9,102.0 629.4,102.2 630.0,102.3 630.5,102.5 631.1,102.7 631.7,102.8 632.2,102.9 632.8,103.1 633.3,103.2 633.9,103.3 634.4,103.4 635.0,103.5 635.6,103.5 636.1,103.6 636.7,103.7 637.2,103.7 637.8,103.8 638.3,103.8 638.9,103.8 639.5,103.9 640.0,103.9 640.6,103.9 641.1,103.9 641.7,103.9 642.2,104.0 642.8,104.0 643.4,104.0 643.9,104.0 644.5,104.0 645.0,104.0 645.6,104.0 646.1,104.0 646.7,104.0 647.3,104.0 647.8,104.0 648.4,104.0 648.9,104.0 649.5,104.0 650.0,104.0 650.6,104.0 651.1,104.0 651.7,104.0 652.3,104.0 652.8,104.0 653.4,104.0 653.9,104.0 654.5,104.0 655.0,104.0 655.6,104.0 656.2,104.0 656.7,104.0 657.3,104.0 657.8,104.0 658.4,104.0 658.9,104.0 659.5,104.0 660.1,104.0 660.6,104.0 661.2,104.0 661.7,104.0 662.3,104.0 662.8,104.0 663.4,104.0 664.0,104.0 664.5,104.0 665.1,104.0 665.6,104.0 666.2,104.0 666.7,104.0 667.3,104.0 667.9,104.0 668.4,104.0 669.0,104.0 669.5,104.0 670.1,104.0 670.6,104.0 671.2,104.0 671.8,104.0 672.3,104.0 672.9,104.0 673.4,104.0 674.0,104.0 674.5,104.0 675.1,104.0 675.6,104.0 676.2,104.0 676.8,104.0 677.3,104.0 677.9,104.0 678.4,104.0 679.0,104.0 679.5,104.0 680.1,104.0 680.7,104.0 681.2,104.0 681.8,104.0 682.3,104.0 682.9,104.0 683.4,104.0 684.0,104.0" fill="none" stroke="#3ddcea" stroke-width="1.25" clip-path="url(#f1a)"/>
<polyline points="528.1,104.0 528.7,104.0 529.2,104.0 529.8,104.0 530.3,104.0 530.9,104.0 531.4,104.0 532.0,104.0 532.6,104.0 533.1,104.0 533.7,104.0 534.2,104.0 534.8,104.0 535.3,104.0 535.9,104.0 536.5,104.0 537.0,104.0 537.6,104.0 538.1,104.0 538.7,104.0 539.2,104.0 539.8,104.0 540.3,104.0 540.9,104.0 541.5,104.0 542.0,104.0 542.6,104.0 543.1,104.0 543.7,104.0 544.2,104.0 544.8,104.0 545.4,104.0 545.9,104.0 546.5,104.0 547.0,104.0 547.6,104.0 548.1,104.0 548.7,104.0 549.3,104.0 549.8,104.0 550.4,104.0 550.9,104.0 551.5,104.0 552.0,104.0 552.6,104.0 553.2,104.0 553.7,104.0 554.3,104.0 554.8,104.0 555.4,104.0 555.9,104.0 556.5,104.0 557.1,104.0 557.6,104.0 558.2,104.0 558.7,104.0 559.3,104.0 559.8,104.0 560.4,104.0 561.0,104.0 561.5,104.0 562.1,104.0 562.6,104.0 563.2,104.0 563.7,104.0 564.3,104.0 564.8,104.0 565.4,104.0 566.0,104.0 566.5,104.0 567.1,104.0 567.6,104.0 568.2,104.0 568.7,104.0 569.3,104.0 569.9,103.9 570.4,103.9 571.0,103.9 571.5,103.9 572.1,103.8 572.6,103.8 573.2,103.8 573.8,103.7 574.3,103.7 574.9,103.6 575.4,103.6 576.0,103.5 576.5,103.4 577.1,103.3 577.7,103.2 578.2,103.1 578.8,102.9 579.3,102.8 579.9,102.6 580.4,102.4 581.0,102.2 581.6,102.0 582.1,101.8 582.7,101.5 583.2,101.2 583.8,101.0 584.3,100.7 584.9,100.4 585.4,100.1 586.0,99.8 586.6,99.6 587.1,99.3 587.7,99.2 588.2,99.1 588.8,99.0 589.3,99.1 589.9,99.4 590.5,99.8 591.0,100.7 591.6,102.0 592.1,103.9 592.7,106.2 593.2,109.0 593.8,112.2 594.4,115.9 594.9,120.0 595.5,124.6 596.0,129.8 596.6,135.8 597.1,142.6 597.7,150.3 598.3,159.0 598.8,168.7 599.4,179.6 599.9,191.5 600.5,204.2 601.0,217.6 601.6,231.4 602.2,245.3 602.7,258.7 603.3,271.2 603.8,282.4 604.4,291.6 604.9,298.6 605.5,302.9 606.0,304.4 606.6,302.9 607.2,298.6 607.7,291.6 608.3,282.4 608.8,271.2 609.4,258.7 609.9,245.3 610.5,231.4 611.1,217.6 611.6,204.2 612.2,191.5 612.7,179.6 613.3,168.7 613.8,159.0 614.4,150.3 615.0,142.6 615.5,135.8 616.1,129.8 616.6,124.6 617.2,120.0 617.7,115.9 618.3,112.2 618.9,109.0 619.4,106.2 620.0,103.9 620.5,102.0 621.1,100.7 621.6,99.8 622.2,99.4 622.8,99.1 623.3,99.0 623.9,99.1 624.4,99.2 625.0,99.3 625.5,99.6 626.1,99.8 626.7,100.1 627.2,100.4 627.8,100.7 628.3,101.0 628.9,101.2 629.4,101.5 630.0,101.8 630.5,102.0 631.1,102.2 631.7,102.4 632.2,102.6 632.8,102.8 633.3,102.9 633.9,103.1 634.4,103.2 635.0,103.3 635.6,103.4 636.1,103.5 636.7,103.6 637.2,103.6 637.8,103.7 638.3,103.7 638.9,103.8 639.5,103.8 640.0,103.8 640.6,103.9 641.1,103.9 641.7,103.9 642.2,103.9 642.8,104.0 643.4,104.0 643.9,104.0 644.5,104.0 645.0,104.0 645.6,104.0 646.1,104.0 646.7,104.0 647.3,104.0 647.8,104.0 648.4,104.0 648.9,104.0 649.5,104.0 650.0,104.0 650.6,104.0 651.1,104.0 651.7,104.0 652.3,104.0 652.8,104.0 653.4,104.0 653.9,104.0 654.5,104.0 655.0,104.0 655.6,104.0 656.2,104.0 656.7,104.0 657.3,104.0 657.8,104.0 658.4,104.0 658.9,104.0 659.5,104.0 660.1,104.0 660.6,104.0 661.2,104.0 661.7,104.0 662.3,104.0 662.8,104.0 663.4,104.0 664.0,104.0 664.5,104.0 665.1,104.0 665.6,104.0 666.2,104.0 666.7,104.0 667.3,104.0 667.9,104.0 668.4,104.0 669.0,104.0 669.5,104.0 670.1,104.0 670.6,104.0 671.2,104.0 671.8,104.0 672.3,104.0 672.9,104.0 673.4,104.0 674.0,104.0 674.5,104.0 675.1,104.0 675.6,104.0 676.2,104.0 676.8,104.0 677.3,104.0 677.9,104.0 678.4,104.0 679.0,104.0 679.5,104.0 680.1,104.0 680.7,104.0 681.2,104.0 681.8,104.0 682.3,104.0 682.9,104.0 683.4,104.0 684.0,104.0" fill="none" stroke="#2a2ad2" stroke-width="1.25" clip-path="url(#f1a)"/>
<polyline points="528.1,104.0 528.7,104.0 529.2,104.0 529.8,104.0 530.3,104.0 530.9,104.0 531.4,104.0 532.0,104.0 532.6,104.0 533.1,104.0 533.7,104.0 534.2,104.0 534.8,104.0 535.3,104.0 535.9,104.0 536.5,104.0 537.0,104.0 537.6,104.0 538.1,104.0 538.7,104.0 539.2,104.0 539.8,104.0 540.3,104.0 540.9,104.0 541.5,104.0 542.0,104.0 542.6,104.0 543.1,104.0 543.7,104.0 544.2,104.0 544.8,104.0 545.4,104.0 545.9,104.0 546.5,104.0 547.0,104.0 547.6,104.0 548.1,104.0 548.7,104.0 549.3,104.0 549.8,104.0 550.4,104.0 550.9,104.0 551.5,104.0 552.0,104.0 552.6,104.0 553.2,104.0 553.7,104.0 554.3,104.0 554.8,104.0 555.4,104.0 555.9,104.0 556.5,104.0 557.1,104.0 557.6,104.0 558.2,104.0 558.7,104.0 559.3,104.0 559.8,104.0 560.4,104.0 561.0,104.0 561.5,104.0 562.1,104.0 562.6,104.0 563.2,104.0 563.7,104.0 564.3,104.0 564.8,104.0 565.4,104.0 566.0,104.0 566.5,104.0 567.1,104.0 567.6,104.0 568.2,104.0 568.7,104.0 569.3,103.9 569.9,103.9 570.4,103.9 571.0,103.9 571.5,103.8 572.1,103.8 572.6,103.8 573.2,103.7 573.8,103.7 574.3,103.6 574.9,103.5 575.4,103.4 576.0,103.3 576.5,103.2 577.1,103.1 577.7,103.0 578.2,102.8 578.8,102.7 579.3,102.5 579.9,102.3 580.4,102.0 581.0,101.8 581.6,101.5 582.1,101.2 582.7,100.9 583.2,100.5 583.8,100.2 584.3,99.8 584.9,99.4 585.4,99.0 586.0,98.6 586.6,98.2 587.1,97.9 587.7,97.6 588.2,97.3 588.8,97.1 589.3,97.0 589.9,97.1 590.5,97.4 591.0,98.1 591.6,99.3 592.1,101.0 592.7,103.2 593.2,105.7 593.8,108.7 594.4,111.9 594.9,115.6 595.5,119.7 596.0,124.4 596.6,129.7 597.1,135.9 597.7,143.0 598.3,151.2 598.8,160.6 599.4,171.2 599.9,183.0 600.5,196.0 601.0,209.9 601.6,224.4 602.2,239.1 602.7,253.6 603.3,267.4 603.8,279.7 604.4,290.0 604.9,297.9 605.5,302.7 606.0,304.4 606.6,302.7 607.2,297.9 607.7,290.0 608.3,279.7 608.8,267.4 609.4,253.6 609.9,239.1 610.5,224.4 611.1,209.9 611.6,196.0 612.2,183.0 612.7,171.2 613.3,160.6 613.8,151.2 614.4,143.0 615.0,135.9 615.5,129.7 616.1,124.4 616.6,119.7 617.2,115.6 617.7,111.9 618.3,108.7 618.9,105.7 619.4,103.2 620.0,101.0 620.5,99.3 621.1,98.1 621.6,97.4 622.2,97.1 622.8,97.0 623.3,97.1 623.9,97.3 624.4,97.6 625.0,97.9 625.5,98.2 626.1,98.6 626.7,99.0 627.2,99.4 627.8,99.8 628.3,100.2 628.9,100.5 629.4,100.9 630.0,101.2 630.5,101.5 631.1,101.8 631.7,102.0 632.2,102.3 632.8,102.5 633.3,102.7 633.9,102.8 634.4,103.0 635.0,103.1 635.6,103.2 636.1,103.3 636.7,103.4 637.2,103.5 637.8,103.6 638.3,103.7 638.9,103.7 639.5,103.8 640.0,103.8 640.6,103.8 641.1,103.9 641.7,103.9 642.2,103.9 642.8,103.9 643.4,104.0 643.9,104.0 644.5,104.0 645.0,104.0 645.6,104.0 646.1,104.0 646.7,104.0 647.3,104.0 647.8,104.0 648.4,104.0 648.9,104.0 649.5,104.0 650.0,104.0 650.6,104.0 651.1,104.0 651.7,104.0 652.3,104.0 652.8,104.0 653.4,104.0 653.9,104.0 654.5,104.0 655.0,104.0 655.6,104.0 656.2,104.0 656.7,104.0 657.3,104.0 657.8,104.0 658.4,104.0 658.9,104.0 659.5,104.0 660.1,104.0 660.6,104.0 661.2,104.0 661.7,104.0 662.3,104.0 662.8,104.0 663.4,104.0 664.0,104.0 664.5,104.0 665.1,104.0 665.6,104.0 666.2,104.0 666.7,104.0 667.3,104.0 667.9,104.0 668.4,104.0 669.0,104.0 669.5,104.0 670.1,104.0 670.6,104.0 671.2,104.0 671.8,104.0 672.3,104.0 672.9,104.0 673.4,104.0 674.0,104.0 674.5,104.0 675.1,104.0 675.6,104.0 676.2,104.0 676.8,104.0 677.3,104.0 677.9,104.0 678.4,104.0 679.0,104.0 679.5,104.0 680.1,104.0 680.7,104.0 681.2,104.0 681.8,104.0 682.3,104.0 682.9,104.0 683.4,104.0 684.0,104.0" fill="none" stroke="#9a4fe0" stroke-width="1.25" clip-path="url(#f1a)"/>
<rect x="528.1" y="84.7" width="155.9" height="219.7" fill="none" stroke="#3a3a3a" stroke-width="1.25"/>
<path d="M539.2 304.4v-5M539.2 84.7v5M572.6 304.4v-5M572.6 84.7v5M606.0 304.4v-5M606.0 84.7v5M639.5 304.4v-5M639.5 84.7v5M672.9 304.4v-5M672.9 84.7v5" stroke="#3a3a3a" stroke-width="1.00" fill="none"/>
<path d="M555.9 304.4v-2.5M555.9 84.7v2.5M589.3 304.4v-2.5M589.3 84.7v2.5M622.8 304.4v-2.5M622.8 84.7v2.5M656.2 304.4v-2.5M656.2 84.7v2.5" stroke="#3a3a3a" stroke-width="1.00" fill="none"/>
<path d="M528.1 264.3h5M684.0 264.3h-5M528.1 224.3h5M684.0 224.3h-5M528.1 184.2h5M684.0 184.2h-5M528.1 144.1h5M684.0 144.1h-5M528.1 104.0h5M684.0 104.0h-5" stroke="#3a3a3a" stroke-width="1.00" fill="none"/>
<text x="539.2" y="322.4" font-size="13" text-anchor="middle">-60</text>
<text x="572.6" y="322.4" font-size="13" text-anchor="middle">-30</text>
<text x="606.0" y="322.4" font-size="13" text-anchor="middle">0</text>
<text x="639.5" y="322.4" font-size="13" text-anchor="middle">30</text>
<text x="672.9" y="322.4" font-size="13" text-anchor="middle">60</text>
<text x="521.1" y="308.7" font-size="13" text-anchor="end">0</text>
<text x="521.1" y="268.6" font-size="13" text-anchor="end">0.2</text>
<text x="521.1" y="228.5" font-size="13" text-anchor="end">0.4</text>
<text x="521.1" y="188.5" font-size="13" text-anchor="end">0.6</text>
<text x="521.1" y="148.4" font-size="13" text-anchor="end">0.8</text>
<text x="521.1" y="108.3" font-size="13" text-anchor="end">1</text>
<text x="653.4" y="199.7" font-size="13" text-anchor="end" >d=1</text>
<line x1="660.6" x2="668.5" y1="196.0" y2="196.0" stroke="#e0262b" stroke-width="1.2"/>
<text x="653.4" y="218.9" font-size="13" text-anchor="end" >d=5</text>
<line x1="660.6" x2="668.5" y1="215.2" y2="215.2" stroke="#f0962a" stroke-width="1.2"/>
<text x="653.4" y="238.1" font-size="13" text-anchor="end" >d=10</text>
<line x1="660.6" x2="668.5" y1="234.4" y2="234.4" stroke="#3cd23c" stroke-width="1.2"/>
<text x="653.4" y="257.4" font-size="13" text-anchor="end" >d=15</text>
<line x1="660.6" x2="668.5" y1="253.7" y2="253.7" stroke="#3ddcea" stroke-width="1.2"/>
<text x="653.4" y="276.6" font-size="13" text-anchor="end" >d=20</text>
<line x1="660.6" x2="668.5" y1="272.9" y2="272.9" stroke="#2a2ad2" stroke-width="1.2"/>
<text x="653.4" y="295.8" font-size="13" text-anchor="end" >d=30</text>
<line x1="660.6" x2="668.5" y1="292.1" y2="292.1" stroke="#9a4fe0" stroke-width="1.2"/>
<text x="681.0" y="98.5" font-size="13" text-anchor="end" font-weight="bold">(a)</text>
<line x1="766.0" x2="766.0" y1="84.7" y2="304.4" stroke="#ccc" stroke-width=".6" stroke-dasharray="1 1.5"/>
<clipPath id="f1b"><rect x="688.1" y="84.7" width="155.9" height="219.7"/></clipPath>
<polyline points="688.1,107.0 688.5,107.1 688.9,107.2 689.3,107.2 689.7,107.3 690.0,107.3 690.4,107.4 690.8,107.5 691.2,107.5 691.6,107.6 692.0,107.7 692.4,107.8 692.8,107.8 693.2,107.9 693.6,108.0 693.9,108.1 694.3,108.1 694.7,108.2 695.1,108.3 695.5,108.4 695.9,108.5 696.3,108.6 696.7,108.7 697.1,108.8 697.5,108.8 697.8,108.9 698.2,109.1 698.6,109.2 699.0,109.3 699.4,109.4 699.8,109.5 700.2,109.6 700.6,109.7 701.0,109.8 701.4,110.0 701.7,110.1 702.1,110.2 702.5,110.4 702.9,110.5 703.3,110.6 703.7,110.8 704.1,110.9 704.5,111.1 704.9,111.2 705.2,111.4 705.6,111.5 706.0,111.7 706.4,111.9 706.8,112.1 707.2,112.2 707.6,112.4 708.0,112.6 708.4,112.8 708.8,113.0 709.1,113.2 709.5,113.4 709.9,113.7 710.3,113.9 710.7,114.1 711.1,114.3 711.5,114.6 711.9,114.8 712.3,115.1 712.7,115.3 713.0,115.6 713.4,115.9 713.8,116.2 714.2,116.5 714.6,116.8 715.0,117.1 715.4,117.4 715.8,117.7 716.2,118.0 716.6,118.4 716.9,118.7 717.3,119.1 717.7,119.5 718.1,119.9 718.5,120.2 718.9,120.6 719.3,121.1 719.7,121.5 720.1,121.9 720.4,122.4 720.8,122.8 721.2,123.3 721.6,123.8 722.0,124.3 722.4,124.8 722.8,125.4 723.2,125.9 723.6,126.5 724.0,127.1 724.3,127.7 724.7,128.3 725.1,128.9 725.5,129.5 725.9,130.2 726.3,130.9 726.7,131.6 727.1,132.3 727.5,133.1 727.9,133.8 728.2,134.6 728.6,135.4 729.0,136.2 729.4,137.1 729.8,138.0 730.2,138.9 730.6,139.8 731.0,140.8 731.4,141.7 731.8,142.7 732.1,143.8 732.5,144.8 732.9,145.9 733.3,147.0 733.7,148.2 734.1,149.4 734.5,150.6 734.9,151.8 735.3,153.1 735.6,154.4 736.0,155.7 736.4,157.1 736.8,158.5 737.2,160.0 737.6,161.5 738.0,163.0 738.4,164.5 738.8,166.1 739.2,167.8 739.5,169.4 739.9,171.1 740.3,172.9 740.7,174.7 741.1,176.5 741.5,178.4 741.9,180.3 742.3,182.2 742.7,184.2 743.1,186.2 743.4,188.3 743.8,190.4 744.2,192.5 744.6,194.7 745.0,196.9 745.4,199.1 745.8,201.4 746.2,203.7 746.6,206.1 747.0,208.5 747.3,210.9 747.7,213.4 748.1,215.8 748.5,218.3 748.9,220.9 749.3,223.4 749.7,226.0 750.1,228.6 750.5,231.2 750.8,233.8 751.2,236.4 751.6,239.1 752.0,241.7 752.4,244.3 752.8,247.0 753.2,249.6 753.6,252.2 754.0,254.8 754.4,257.4 754.7,260.0 755.1,262.5 755.5,265.0 755.9,267.5 756.3,269.9 756.7,272.3 757.1,274.6 757.5,276.9 757.9,279.1 758.3,281.2 758.6,283.3 759.0,285.3 759.4,287.3 759.8,289.1 760.2,290.9 760.6,292.5 761.0,294.1 761.4,295.6 761.8,297.0 762.2,298.2 762.5,299.4 762.9,300.4 763.3,301.3 763.7,302.1 764.1,302.8 764.5,303.4 764.9,303.8 765.3,304.1 765.7,304.3 766.0,304.4 766.4,304.3 766.8,304.1 767.2,303.8 767.6,303.4 768.0,302.8 768.4,302.1 768.8,301.3 769.2,300.4 769.6,299.4 769.9,298.2 770.3,297.0 770.7,295.6 771.1,294.1 771.5,292.5 771.9,290.9 772.3,289.1 772.7,287.3 773.1,285.3 773.5,283.3 773.8,281.2 774.2,279.1 774.6,276.9 775.0,274.6 775.4,272.3 775.8,269.9 776.2,267.5 776.6,265.0 777.0,262.5 777.4,260.0 777.7,257.4 778.1,254.8 778.5,252.2 778.9,249.6 779.3,247.0 779.7,244.3 780.1,241.7 780.5,239.1 780.9,236.4 781.3,233.8 781.6,231.2 782.0,228.6 782.4,226.0 782.8,223.4 783.2,220.9 783.6,218.3 784.0,215.8 784.4,213.4 784.8,210.9 785.1,208.5 785.5,206.1 785.9,203.7 786.3,201.4 786.7,199.1 787.1,196.9 787.5,194.7 787.9,192.5 788.3,190.4 788.7,188.3 789.0,186.2 789.4,184.2 789.8,182.2 790.2,180.3 790.6,178.4 791.0,176.5 791.4,174.7 791.8,172.9 792.2,171.1 792.6,169.4 792.9,167.8 793.3,166.1 793.7,164.5 794.1,163.0 794.5,161.5 794.9,160.0 795.3,158.5 795.7,157.1 796.1,155.7 796.5,154.4 796.8,153.1 797.2,151.8 797.6,150.6 798.0,149.4 798.4,148.2 798.8,147.0 799.2,145.9 799.6,144.8 800.0,143.8 800.3,142.7 800.7,141.7 801.1,140.8 801.5,139.8 801.9,138.9 802.3,138.0 802.7,137.1 803.1,136.2 803.5,135.4 803.9,134.6 804.2,133.8 804.6,133.1 805.0,132.3 805.4,131.6 805.8,130.9 806.2,130.2 806.6,129.5 807.0,128.9 807.4,128.3 807.8,127.7 808.1,127.1 808.5,126.5 808.9,125.9 809.3,125.4 809.7,124.8 810.1,124.3 810.5,123.8 810.9,123.3 811.3,122.8 811.7,122.4 812.0,121.9 812.4,121.5 812.8,121.1 813.2,120.6 813.6,120.2 814.0,119.9 814.4,119.5 814.8,119.1 815.2,118.7 815.5,118.4 815.9,118.0 816.3,117.7 816.7,117.4 817.1,117.1 817.5,116.8 817.9,116.5 818.3,116.2 818.7,115.9 819.1,115.6 819.4,115.3 819.8,115.1 820.2,114.8 820.6,114.6 821.0,114.3 821.4,114.1 821.8,113.9 822.2,113.7 822.6,113.4 823.0,113.2 823.3,113.0 823.7,112.8 824.1,112.6 824.5,112.4 824.9,112.2 825.3,112.1 825.7,111.9 826.1,111.7 826.5,111.5 826.9,111.4 827.2,111.2 827.6,111.1 828.0,110.9 828.4,110.8 828.8,110.6 829.2,110.5 829.6,110.4 830.0,110.2 830.4,110.1 830.7,110.0 831.1,109.8 831.5,109.7 831.9,109.6 832.3,109.5 832.7,109.4 833.1,109.3 833.5,109.2 833.9,109.1 834.3,108.9 834.6,108.8 835.0,108.8 835.4,108.7 835.8,108.6 836.2,108.5 836.6,108.4 837.0,108.3 837.4,108.2 837.8,108.1 838.2,108.1 838.5,108.0 838.9,107.9 839.3,107.8 839.7,107.8 840.1,107.7 840.5,107.6 840.9,107.5 841.3,107.5 841.7,107.4 842.1,107.3 842.4,107.3 842.8,107.2 843.2,107.2 843.6,107.1 844.0,107.0" fill="none" stroke="#e0262b" stroke-width="1.25" clip-path="url(#f1b)"/>
<polyline points="688.1,104.2 688.5,104.2 688.9,104.2 689.3,104.2 689.7,104.2 690.0,104.2 690.4,104.2 690.8,104.2 691.2,104.3 691.6,104.3 692.0,104.3 692.4,104.3 692.8,104.3 693.2,104.3 693.6,104.3 693.9,104.3 694.3,104.3 694.7,104.3 695.1,104.3 695.5,104.4 695.9,104.4 696.3,104.4 696.7,104.4 697.1,104.4 697.5,104.4 697.8,104.4 698.2,104.5 698.6,104.5 699.0,104.5 699.4,104.5 699.8,104.5 700.2,104.5 700.6,104.6 701.0,104.6 701.4,104.6 701.7,104.6 702.1,104.6 702.5,104.7 702.9,104.7 703.3,104.7 703.7,104.7 704.1,104.8 704.5,104.8 704.9,104.8 705.2,104.8 705.6,104.9 706.0,104.9 706.4,104.9 706.8,105.0 707.2,105.0 707.6,105.1 708.0,105.1 708.4,105.1 708.8,105.2 709.1,105.2 709.5,105.3 709.9,105.3 710.3,105.4 710.7,105.4 711.1,105.5 711.5,105.6 711.9,105.6 712.3,105.7 712.7,105.8 713.0,105.8 713.4,105.9 713.8,106.0 714.2,106.1 714.6,106.2 715.0,106.2 715.4,106.3 715.8,106.4 716.2,106.5 716.6,106.6 716.9,106.7 717.3,106.9 717.7,107.0 718.1,107.1 718.5,107.2 718.9,107.4 719.3,107.5 719.7,107.7 720.1,107.8 720.4,108.0 720.8,108.2 721.2,108.4 721.6,108.6 722.0,108.8 722.4,109.0 722.8,109.2 723.2,109.4 723.6,109.6 724.0,109.9 724.3,110.1 724.7,110.4 725.1,110.7 725.5,111.0 725.9,111.3 726.3,111.6 726.7,112.0 727.1,112.3 727.5,112.7 727.9,113.1 728.2,113.5 728.6,113.9 729.0,114.4 729.4,114.8 729.8,115.3 730.2,115.8 730.6,116.4 731.0,116.9 731.4,117.5 731.8,118.1 732.1,118.8 732.5,119.4 732.9,120.1 733.3,120.8 733.7,121.6 734.1,122.4 734.5,123.2 734.9,124.1 735.3,125.0 735.6,125.9 736.0,126.9 736.4,127.9 736.8,128.9 737.2,130.0 737.6,131.2 738.0,132.4 738.4,133.6 738.8,134.9 739.2,136.3 739.5,137.7 739.9,139.1 740.3,140.6 740.7,142.2 741.1,143.8 741.5,145.5 741.9,147.2 742.3,149.0 742.7,150.9 743.1,152.8 743.4,154.8 743.8,156.9 744.2,159.0 744.6,161.3 745.0,163.5 745.4,165.9 745.8,168.3 746.2,170.8 746.6,173.3 747.0,175.9 747.3,178.6 747.7,181.4 748.1,184.2 748.5,187.1 748.9,190.0 749.3,193.0 749.7,196.1 750.1,199.2 750.5,202.4 750.8,205.6 751.2,208.9 751.6,212.2 752.0,215.6 752.4,219.0 752.8,222.4 753.2,225.9 753.6,229.3 754.0,232.8 754.4,236.3 754.7,239.8 755.1,243.2 755.5,246.7 755.9,250.1 756.3,253.5 756.7,256.9 757.1,260.2 757.5,263.4 757.9,266.6 758.3,269.7 758.6,272.8 759.0,275.7 759.4,278.5 759.8,281.3 760.2,283.9 760.6,286.4 761.0,288.7 761.4,291.0 761.8,293.0 762.2,294.9 762.5,296.7 762.9,298.3 763.3,299.7 763.7,300.9 764.1,302.0 764.5,302.8 764.9,303.5 765.3,304.0 765.7,304.3 766.0,304.4 766.4,304.3 766.8,304.0 767.2,303.5 767.6,302.8 768.0,302.0 768.4,300.9 768.8,299.7 769.2,298.3 769.6,296.7 769.9,294.9 770.3,293.0 770.7,291.0 771.1,288.7 771.5,286.4 771.9,283.9 772.3,281.3 772.7,278.5 773.1,275.7 773.5,272.8 773.8,269.7 774.2,266.6 774.6,263.4 775.0,260.2 775.4,256.9 775.8,253.5 776.2,250.1 776.6,246.7 777.0,243.2 777.4,239.8 777.7,236.3 778.1,232.8 778.5,229.3 778.9,225.9 779.3,222.4 779.7,219.0 780.1,215.6 780.5,212.2 780.9,208.9 781.3,205.6 781.6,202.4 782.0,199.2 782.4,196.1 782.8,193.0 783.2,190.0 783.6,187.1 784.0,184.2 784.4,181.4 784.8,178.6 785.1,175.9 785.5,173.3 785.9,170.8 786.3,168.3 786.7,165.9 787.1,163.5 787.5,161.3 787.9,159.0 788.3,156.9 788.7,154.8 789.0,152.8 789.4,150.9 789.8,149.0 790.2,147.2 790.6,145.5 791.0,143.8 791.4,142.2 791.8,140.6 792.2,139.1 792.6,137.7 792.9,136.3 793.3,134.9 793.7,133.6 794.1,132.4 794.5,131.2 794.9,130.0 795.3,128.9 795.7,127.9 796.1,126.9 796.5,125.9 796.8,125.0 797.2,124.1 797.6,123.2 798.0,122.4 798.4,121.6 798.8,120.8 799.2,120.1 799.6,119.4 800.0,118.8 800.3,118.1 800.7,117.5 801.1,116.9 801.5,116.4 801.9,115.8 802.3,115.3 802.7,114.8 803.1,114.4 803.5,113.9 803.9,113.5 804.2,113.1 804.6,112.7 805.0,112.3 805.4,112.0 805.8,111.6 806.2,111.3 806.6,111.0 807.0,110.7 807.4,110.4 807.8,110.1 808.1,109.9 808.5,109.6 808.9,109.4 809.3,109.2 809.7,109.0 810.1,108.8 810.5,108.6 810.9,108.4 811.3,108.2 811.7,108.0 812.0,107.8 812.4,107.7 812.8,107.5 813.2,107.4 813.6,107.2 814.0,107.1 814.4,107.0 814.8,106.9 815.2,106.7 815.5,106.6 815.9,106.5 816.3,106.4 816.7,106.3 817.1,106.2 817.5,106.2 817.9,106.1 818.3,106.0 818.7,105.9 819.1,105.8 819.4,105.8 819.8,105.7 820.2,105.6 820.6,105.6 821.0,105.5 821.4,105.4 821.8,105.4 822.2,105.3 822.6,105.3 823.0,105.2 823.3,105.2 823.7,105.1 824.1,105.1 824.5,105.1 824.9,105.0 825.3,105.0 825.7,104.9 826.1,104.9 826.5,104.9 826.9,104.8 827.2,104.8 827.6,104.8 828.0,104.8 828.4,104.7 828.8,104.7 829.2,104.7 829.6,104.7 830.0,104.6 830.4,104.6 830.7,104.6 831.1,104.6 831.5,104.6 831.9,104.5 832.3,104.5 832.7,104.5 833.1,104.5 833.5,104.5 833.9,104.5 834.3,104.4 834.6,104.4 835.0,104.4 835.4,104.4 835.8,104.4 836.2,104.4 836.6,104.4 837.0,104.3 837.4,104.3 837.8,104.3 838.2,104.3 838.5,104.3 838.9,104.3 839.3,104.3 839.7,104.3 840.1,104.3 840.5,104.3 840.9,104.3 841.3,104.2 841.7,104.2 842.1,104.2 842.4,104.2 842.8,104.2 843.2,104.2 843.6,104.2 844.0,104.2" fill="none" stroke="#f0962a" stroke-width="1.25" clip-path="url(#f1b)"/>
<polyline points="688.1,104.1 688.5,104.1 688.9,104.1 689.3,104.1 689.7,104.1 690.0,104.1 690.4,104.1 690.8,104.1 691.2,104.1 691.6,104.1 692.0,104.1 692.4,104.1 692.8,104.1 693.2,104.1 693.6,104.1 693.9,104.1 694.3,104.1 694.7,104.1 695.1,104.1 695.5,104.1 695.9,104.1 696.3,104.1 696.7,104.1 697.1,104.1 697.5,104.1 697.8,104.1 698.2,104.1 698.6,104.1 699.0,104.1 699.4,104.1 699.8,104.1 700.2,104.1 700.6,104.1 701.0,104.1 701.4,104.1 701.7,104.1 702.1,104.1 702.5,104.1 702.9,104.2 703.3,104.2 703.7,104.2 704.1,104.2 704.5,104.2 704.9,104.2 705.2,104.2 705.6,104.2 706.0,104.2 706.4,104.2 706.8,104.2 707.2,104.2 707.6,104.2 708.0,104.2 708.4,104.2 708.8,104.3 709.1,104.3 709.5,104.3 709.9,104.3 710.3,104.3 710.7,104.3 711.1,104.3 711.5,104.3 711.9,104.4 712.3,104.4 712.7,104.4 713.0,104.4 713.4,104.4 713.8,104.4 714.2,104.5 714.6,104.5 715.0,104.5 715.4,104.5 715.8,104.5 716.2,104.6 716.6,104.6 716.9,104.6 717.3,104.6 717.7,104.7 718.1,104.7 718.5,104.7 718.9,104.8 719.3,104.8 719.7,104.9 720.1,104.9 720.4,104.9 720.8,105.0 721.2,105.0 721.6,105.1 722.0,105.2 722.4,105.2 722.8,105.3 723.2,105.3 723.6,105.4 724.0,105.5 724.3,105.6 724.7,105.7 725.1,105.7 725.5,105.8 725.9,105.9 726.3,106.0 726.7,106.1 727.1,106.3 727.5,106.4 727.9,106.5 728.2,106.7 728.6,106.8 729.0,107.0 729.4,107.1 729.8,107.3 730.2,107.5 730.6,107.7 731.0,107.9 731.4,108.1 731.8,108.3 732.1,108.6 732.5,108.9 732.9,109.1 733.3,109.4 733.7,109.8 734.1,110.1 734.5,110.4 734.9,110.8 735.3,111.2 735.6,111.6 736.0,112.1 736.4,112.6 736.8,113.1 737.2,113.6 737.6,114.2 738.0,114.8 738.4,115.4 738.8,116.1 739.2,116.8 739.5,117.6 739.9,118.4 740.3,119.2 740.7,120.1 741.1,121.1 741.5,122.1 741.9,123.1 742.3,124.3 742.7,125.5 743.1,126.7 743.4,128.0 743.8,129.4 744.2,130.9 744.6,132.5 745.0,134.1 745.4,135.8 745.8,137.7 746.2,139.6 746.6,141.6 747.0,143.7 747.3,145.9 747.7,148.2 748.1,150.6 748.5,153.1 748.9,155.8 749.3,158.6 749.7,161.4 750.1,164.4 750.5,167.5 750.8,170.8 751.2,174.1 751.6,177.6 752.0,181.2 752.4,184.9 752.8,188.7 753.2,192.6 753.6,196.6 754.0,200.7 754.4,204.9 754.7,209.2 755.1,213.5 755.5,217.9 755.9,222.4 756.3,226.9 756.7,231.5 757.1,236.0 757.5,240.6 757.9,245.1 758.3,249.6 758.6,254.0 759.0,258.4 759.4,262.7 759.8,266.9 760.2,270.9 760.6,274.8 761.0,278.5 761.4,282.1 761.8,285.4 762.2,288.6 762.5,291.4 762.9,294.1 763.3,296.4 763.7,298.5 764.1,300.3 764.5,301.8 764.9,302.9 765.3,303.7 765.7,304.2 766.0,304.4 766.4,304.2 766.8,303.7 767.2,302.9 767.6,301.8 768.0,300.3 768.4,298.5 768.8,296.4 769.2,294.1 769.6,291.4 769.9,288.6 770.3,285.4 770.7,282.1 771.1,278.5 771.5,274.8 771.9,270.9 772.3,266.9 772.7,262.7 773.1,258.4 773.5,254.0 773.8,249.6 774.2,245.1 774.6,240.6 775.0,236.0 775.4,231.5 775.8,226.9 776.2,222.4 776.6,217.9 777.0,213.5 777.4,209.2 777.7,204.9 778.1,200.7 778.5,196.6 778.9,192.6 779.3,188.7 779.7,184.9 780.1,181.2 780.5,177.6 780.9,174.1 781.3,170.8 781.6,167.5 782.0,164.4 782.4,161.4 782.8,158.6 783.2,155.8 783.6,153.1 784.0,150.6 784.4,148.2 784.8,145.9 785.1,143.7 785.5,141.6 785.9,139.6 786.3,137.7 786.7,135.8 787.1,134.1 787.5,132.5 787.9,130.9 788.3,129.4 788.7,128.0 789.0,126.7 789.4,125.5 789.8,124.3 790.2,123.1 790.6,122.1 791.0,121.1 791.4,120.1 791.8,119.2 792.2,118.4 792.6,117.6 792.9,116.8 793.3,116.1 793.7,115.4 794.1,114.8 794.5,114.2 794.9,113.6 795.3,113.1 795.7,112.6 796.1,112.1 796.5,111.6 796.8,111.2 797.2,110.8 797.6,110.4 798.0,110.1 798.4,109.8 798.8,109.4 799.2,109.1 799.6,108.9 800.0,108.6 800.3,108.3 800.7,108.1 801.1,107.9 801.5,107.7 801.9,107.5 802.3,107.3 802.7,107.1 803.1,107.0 803.5,106.8 803.9,106.7 804.2,106.5 804.6,106.4 805.0,106.3 805.4,106.1 805.8,106.0 806.2,105.9 806.6,105.8 807.0,105.7 807.4,105.7 807.8,105.6 808.1,105.5 808.5,105.4 808.9,105.3 809.3,105.3 809.7,105.2 810.1,105.2 810.5,105.1 810.9,105.0 811.3,105.0 811.7,104.9 812.0,104.9 812.4,104.9 812.8,104.8 813.2,104.8 813.6,104.7 814.0,104.7 814.4,104.7 814.8,104.6 815.2,104.6 815.5,104.6 815.9,104.6 816.3,104.5 816.7,104.5 817.1,104.5 817.5,104.5 817.9,104.5 818.3,104.4 818.7,104.4 819.1,104.4 819.4,104.4 819.8,104.4 820.2,104.4 820.6,104.3 821.0,104.3 821.4,104.3 821.8,104.3 822.2,104.3 822.6,104.3 823.0,104.3 823.3,104.3 823.7,104.2 824.1,104.2 824.5,104.2 824.9,104.2 825.3,104.2 825.7,104.2 826.1,104.2 826.5,104.2 826.9,104.2 827.2,104.2 827.6,104.2 828.0,104.2 828.4,104.2 828.8,104.2 829.2,104.2 829.6,104.1 830.0,104.1 830.4,104.1 830.7,104.1 831.1,104.1 831.5,104.1 831.9,104.1 832.3,104.1 832.7,104.1 833.1,104.1 833.5,104.1 833.9,104.1 834.3,104.1 834.6,104.1 835.0,104.1 835.4,104.1 835.8,104.1 836.2,104.1 836.6,104.1 837.0,104.1 837.4,104.1 837.8,104.1 838.2,104.1 838.5,104.1 838.9,104.1 839.3,104.1 839.7,104.1 840.1,104.1 840.5,104.1 840.9,104.1 841.3,104.1 841.7,104.1 842.1,104.1 842.4,104.1 842.8,104.1 843.2,104.1 843.6,104.1 844.0,104.1" fill="none" stroke="#3cd23c" stroke-width="1.25" clip-path="url(#f1b)"/>
<polyline points="688.1,104.0 688.5,104.0 688.9,104.0 689.3,104.0 689.7,104.0 690.0,104.0 690.4,104.0 690.8,104.0 691.2,104.0 691.6,104.0 692.0,104.0 692.4,104.0 692.8,104.0 693.2,104.0 693.6,104.0 693.9,104.0 694.3,104.0 694.7,104.0 695.1,104.0 695.5,104.0 695.9,104.0 696.3,104.0 696.7,104.0 697.1,104.0 697.5,104.0 697.8,104.0 698.2,104.0 698.6,104.0 699.0,104.0 699.4,104.0 699.8,104.0 700.2,104.0 700.6,104.0 701.0,104.0 701.4,104.0 701.7,104.0 702.1,104.0 702.5,104.0 702.9,104.0 703.3,104.0 703.7,104.0 704.1,104.0 704.5,104.0 704.9,104.0 705.2,104.0 705.6,104.0 706.0,104.0 706.4,104.0 706.8,104.0 707.2,104.0 707.6,104.0 708.0,104.0 708.4,104.0 708.8,104.0 709.1,104.0 709.5,104.0 709.9,104.0 710.3,104.0 710.7,104.0 711.1,104.0 711.5,104.0 711.9,104.0 712.3,104.0 712.7,104.0 713.0,104.0 713.4,104.0 713.8,104.0 714.2,104.0 714.6,104.0 715.0,104.0 715.4,104.0 715.8,104.0 716.2,104.0 716.6,104.0 716.9,104.0 717.3,104.0 717.7,104.0 718.1,103.9 718.5,103.9 718.9,103.9 719.3,103.9 719.7,103.9 720.1,103.9 720.4,103.9 720.8,103.9 721.2,103.9 721.6,103.9 722.0,103.9 722.4,103.8 722.8,103.8 723.2,103.8 723.6,103.8 724.0,103.8 724.3,103.8 724.7,103.8 725.1,103.7 725.5,103.7 725.9,103.7 726.3,103.7 726.7,103.7 727.1,103.6 727.5,103.6 727.9,103.6 728.2,103.6 728.6,103.6 729.0,103.6 729.4,103.5 729.8,103.5 730.2,103.5 730.6,103.5 731.0,103.5 731.4,103.5 731.8,103.4 732.1,103.4 732.5,103.4 732.9,103.4 733.3,103.4 733.7,103.4 734.1,103.4 734.5,103.4 734.9,103.5 735.3,103.5 735.6,103.5 736.0,103.5 736.4,103.6 736.8,103.6 737.2,103.7 737.6,103.8 738.0,103.9 738.4,104.0 738.8,104.1 739.2,104.2 739.5,104.3 739.9,104.5 740.3,104.7 740.7,104.9 741.1,105.2 741.5,105.5 741.9,105.8 742.3,106.1 742.7,106.5 743.1,106.9 743.4,107.4 743.8,107.9 744.2,108.5 744.6,109.2 745.0,110.0 745.4,110.8 745.8,111.8 746.2,112.8 746.6,114.0 747.0,115.2 747.3,116.5 747.7,118.0 748.1,119.5 748.5,121.2 748.9,123.0 749.3,124.9 749.7,126.9 750.1,129.1 750.5,131.4 750.8,133.8 751.2,136.4 751.6,139.2 752.0,142.2 752.4,145.3 752.8,148.6 753.2,152.1 753.6,155.8 754.0,159.7 754.4,163.8 754.7,168.1 755.1,172.6 755.5,177.4 755.9,182.4 756.3,187.5 756.7,192.9 757.1,198.5 757.5,204.2 757.9,210.1 758.3,216.1 758.6,222.2 759.0,228.4 759.4,234.6 759.8,240.8 760.2,247.0 760.6,253.2 761.0,259.2 761.4,265.0 761.8,270.6 762.2,275.9 762.5,280.9 762.9,285.5 763.3,289.8 763.7,293.5 764.1,296.8 764.5,299.5 764.9,301.6 765.3,303.2 765.7,304.1 766.0,304.4 766.4,304.1 766.8,303.2 767.2,301.6 767.6,299.5 768.0,296.8 768.4,293.5 768.8,289.8 769.2,285.5 769.6,280.9 769.9,275.9 770.3,270.6 770.7,265.0 771.1,259.2 771.5,253.2 771.9,247.0 772.3,240.8 772.7,234.6 773.1,228.4 773.5,222.2 773.8,216.1 774.2,210.1 774.6,204.2 775.0,198.5 775.4,192.9 775.8,187.5 776.2,182.4 776.6,177.4 777.0,172.6 777.4,168.1 777.7,163.8 778.1,159.7 778.5,155.8 778.9,152.1 779.3,148.6 779.7,145.3 780.1,142.2 780.5,139.2 780.9,136.4 781.3,133.8 781.6,131.4 782.0,129.1 782.4,126.9 782.8,124.9 783.2,123.0 783.6,121.2 784.0,119.5 784.4,118.0 784.8,116.5 785.1,115.2 785.5,114.0 785.9,112.8 786.3,111.8 786.7,110.8 787.1,110.0 787.5,109.2 787.9,108.5 788.3,107.9 788.7,107.4 789.0,106.9 789.4,106.5 789.8,106.1 790.2,105.8 790.6,105.5 791.0,105.2 791.4,104.9 791.8,104.7 792.2,104.5 792.6,104.3 792.9,104.2 793.3,104.1 793.7,104.0 794.1,103.9 794.5,103.8 794.9,103.7 795.3,103.6 795.7,103.6 796.1,103.5 796.5,103.5 796.8,103.5 797.2,103.5 797.6,103.4 798.0,103.4 798.4,103.4 798.8,103.4 799.2,103.4 799.6,103.4 800.0,103.4 800.3,103.4 800.7,103.5 801.1,103.5 801.5,103.5 801.9,103.5 802.3,103.5 802.7,103.5 803.1,103.6 803.5,103.6 803.9,103.6 804.2,103.6 804.6,103.6 805.0,103.6 805.4,103.7 805.8,103.7 806.2,103.7 806.6,103.7 807.0,103.7 807.4,103.8 807.8,103.8 808.1,103.8 808.5,103.8 808.9,103.8 809.3,103.8 809.7,103.8 810.1,103.9 810.5,103.9 810.9,103.9 811.3,103.9 811.7,103.9 812.0,103.9 812.4,103.9 812.8,103.9 813.2,103.9 813.6,103.9 814.0,103.9 814.4,104.0 814.8,104.0 815.2,104.0 815.5,104.0 815.9,104.0 816.3,104.0 816.7,104.0 817.1,104.0 817.5,104.0 817.9,104.0 818.3,104.0 818.7,104.0 819.1,104.0 819.4,104.0 819.8,104.0 820.2,104.0 820.6,104.0 821.0,104.0 821.4,104.0 821.8,104.0 822.2,104.0 822.6,104.0 823.0,104.0 823.3,104.0 823.7,104.0 824.1,104.0 824.5,104.0 824.9,104.0 825.3,104.0 825.7,104.0 826.1,104.0 826.5,104.0 826.9,104.0 827.2,104.0 827.6,104.0 828.0,104.0 828.4,104.0 828.8,104.0 829.2,104.0 829.6,104.0 830.0,104.0 830.4,104.0 830.7,104.0 831.1,104.0 831.5,104.0 831.9,104.0 832.3,104.0 832.7,104.0 833.1,104.0 833.5,104.0 833.9,104.0 834.3,104.0 834.6,104.0 835.0,104.0 835.4,104.0 835.8,104.0 836.2,104.0 836.6,104.0 837.0,104.0 837.4,104.0 837.8,104.0 838.2,104.0 838.5,104.0 838.9,104.0 839.3,104.0 839.7,104.0 840.1,104.0 840.5,104.0 840.9,104.0 841.3,104.0 841.7,104.0 842.1,104.0 842.4,104.0 842.8,104.0 843.2,104.0 843.6,104.0 844.0,104.0" fill="none" stroke="#3ddcea" stroke-width="1.25" clip-path="url(#f1b)"/>
<polyline points="688.1,104.0 688.5,104.0 688.9,104.0 689.3,104.0 689.7,104.0 690.0,104.0 690.4,104.0 690.8,104.0 691.2,104.0 691.6,104.0 692.0,104.0 692.4,104.0 692.8,104.0 693.2,104.0 693.6,104.0 693.9,104.0 694.3,104.0 694.7,104.0 695.1,104.0 695.5,104.0 695.9,104.0 696.3,104.0 696.7,104.0 697.1,104.0 697.5,104.0 697.8,104.0 698.2,104.0 698.6,104.0 699.0,104.0 699.4,104.0 699.8,104.0 700.2,104.0 700.6,104.0 701.0,104.0 701.4,104.0 701.7,104.0 702.1,104.0 702.5,104.0 702.9,104.0 703.3,104.0 703.7,104.0 704.1,104.0 704.5,104.0 704.9,104.0 705.2,104.0 705.6,104.0 706.0,104.0 706.4,104.0 706.8,104.0 707.2,104.0 707.6,104.0 708.0,104.0 708.4,104.0 708.8,104.0 709.1,104.0 709.5,104.0 709.9,104.0 710.3,104.0 710.7,104.0 711.1,104.0 711.5,104.0 711.9,104.0 712.3,104.0 712.7,104.0 713.0,104.0 713.4,104.0 713.8,104.0 714.2,104.0 714.6,104.0 715.0,104.0 715.4,104.0 715.8,104.0 716.2,104.0 716.6,104.0 716.9,104.0 717.3,104.0 717.7,104.0 718.1,104.0 718.5,104.0 718.9,104.0 719.3,104.0 719.7,104.0 720.1,104.0 720.4,104.0 720.8,104.0 721.2,104.0 721.6,104.0 722.0,104.0 722.4,104.0 722.8,104.0 723.2,104.0 723.6,104.0 724.0,104.0 724.3,104.0 724.7,104.0 725.1,104.0 725.5,104.0 725.9,104.0 726.3,104.0 726.7,104.0 727.1,104.0 727.5,104.0 727.9,104.0 728.2,104.0 728.6,103.9 729.0,103.9 729.4,103.9 729.8,103.9 730.2,103.9 730.6,103.9 731.0,103.9 731.4,103.9 731.8,103.8 732.1,103.8 732.5,103.8 732.9,103.8 733.3,103.7 733.7,103.7 734.1,103.7 734.5,103.7 734.9,103.6 735.3,103.6 735.6,103.5 736.0,103.5 736.4,103.5 736.8,103.4 737.2,103.4 737.6,103.3 738.0,103.2 738.4,103.2 738.8,103.1 739.2,103.0 739.5,103.0 739.9,102.9 740.3,102.8 740.7,102.7 741.1,102.6 741.5,102.5 741.9,102.4 742.3,102.3 742.7,102.2 743.1,102.1 743.4,102.0 743.8,101.8 744.2,101.7 744.6,101.6 745.0,101.4 745.4,101.3 745.8,101.2 746.2,101.0 746.6,100.9 747.0,100.7 747.3,100.6 747.7,100.5 748.1,100.4 748.5,100.3 748.9,100.2 749.3,100.1 749.7,100.1 750.1,100.0 750.5,100.0 750.8,100.1 751.2,100.2 751.6,100.4 752.0,100.6 752.4,101.0 752.8,101.4 753.2,102.2 753.6,103.1 754.0,104.3 754.4,105.8 754.7,107.5 755.1,109.5 755.5,111.7 755.9,114.1 756.3,116.9 756.7,120.0 757.1,123.5 757.5,127.4 757.9,131.8 758.3,136.8 758.6,142.5 759.0,148.8 759.4,155.8 759.8,163.7 760.2,172.3 760.6,181.6 761.0,191.7 761.4,202.4 761.8,213.7 762.2,225.3 762.5,237.0 762.9,248.6 763.3,259.8 763.7,270.4 764.1,280.0 764.5,288.4 764.9,295.2 765.3,300.3 765.7,303.4 766.0,304.4 766.4,303.4 766.8,300.3 767.2,295.2 767.6,288.4 768.0,280.0 768.4,270.4 768.8,259.8 769.2,248.6 769.6,237.0 769.9,225.3 770.3,213.7 770.7,202.4 771.1,191.7 771.5,181.6 771.9,172.3 772.3,163.7 772.7,155.8 773.1,148.8 773.5,142.5 773.8,136.8 774.2,131.8 774.6,127.4 775.0,123.5 775.4,120.0 775.8,116.9 776.2,114.1 776.6,111.7 777.0,109.5 777.4,107.5 777.7,105.8 778.1,104.3 778.5,103.1 778.9,102.2 779.3,101.4 779.7,101.0 780.1,100.6 780.5,100.4 780.9,100.2 781.3,100.1 781.6,100.0 782.0,100.0 782.4,100.1 782.8,100.1 783.2,100.2 783.6,100.3 784.0,100.4 784.4,100.5 784.8,100.6 785.1,100.7 785.5,100.9 785.9,101.0 786.3,101.2 786.7,101.3 787.1,101.4 787.5,101.6 787.9,101.7 788.3,101.8 788.7,102.0 789.0,102.1 789.4,102.2 789.8,102.3 790.2,102.4 790.6,102.5 791.0,102.6 791.4,102.7 791.8,102.8 792.2,102.9 792.6,103.0 792.9,103.0 793.3,103.1 793.7,103.2 794.1,103.2 794.5,103.3 794.9,103.4 795.3,103.4 795.7,103.5 796.1,103.5 796.5,103.5 796.8,103.6 797.2,103.6 797.6,103.7 798.0,103.7 798.4,103.7 798.8,103.7 799.2,103.8 799.6,103.8 800.0,103.8 800.3,103.8 800.7,103.9 801.1,103.9 801.5,103.9 801.9,103.9 802.3,103.9 802.7,103.9 803.1,103.9 803.5,103.9 803.9,104.0 804.2,104.0 804.6,104.0 805.0,104.0 805.4,104.0 805.8,104.0 806.2,104.0 806.6,104.0 807.0,104.0 807.4,104.0 807.8,104.0 808.1,104.0 808.5,104.0 808.9,104.0 809.3,104.0 809.7,104.0 810.1,104.0 810.5,104.0 810.9,104.0 811.3,104.0 811.7,104.0 812.0,104.0 812.4,104.0 812.8,104.0 813.2,104.0 813.6,104.0 814.0,104.0 814.4,104.0 814.8,104.0 815.2,104.0 815.5,104.0 815.9,104.0 816.3,104.0 816.7,104.0 817.1,104.0 817.5,104.0 817.9,104.0 818.3,104.0 818.7,104.0 819.1,104.0 819.4,104.0 819.8,104.0 820.2,104.0 820.6,104.0 821.0,104.0 821.4,104.0 821.8,104.0 822.2,104.0 822.6,104.0 823.0,104.0 823.3,104.0 823.7,104.0 824.1,104.0 824.5,104.0 824.9,104.0 825.3,104.0 825.7,104.0 826.1,104.0 826.5,104.0 826.9,104.0 827.2,104.0 827.6,104.0 828.0,104.0 828.4,104.0 828.8,104.0 829.2,104.0 829.6,104.0 830.0,104.0 830.4,104.0 830.7,104.0 831.1,104.0 831.5,104.0 831.9,104.0 832.3,104.0 832.7,104.0 833.1,104.0 833.5,104.0 833.9,104.0 834.3,104.0 834.6,104.0 835.0,104.0 835.4,104.0 835.8,104.0 836.2,104.0 836.6,104.0 837.0,104.0 837.4,104.0 837.8,104.0 838.2,104.0 838.5,104.0 838.9,104.0 839.3,104.0 839.7,104.0 840.1,104.0 840.5,104.0 840.9,104.0 841.3,104.0 841.7,104.0 842.1,104.0 842.4,104.0 842.8,104.0 843.2,104.0 843.6,104.0 844.0,104.0" fill="none" stroke="#2a2ad2" stroke-width="1.25" clip-path="url(#f1b)"/>
<polyline points="688.1,104.0 688.5,104.0 688.9,104.0 689.3,104.0 689.7,104.0 690.0,104.0 690.4,104.0 690.8,104.0 691.2,104.0 691.6,104.0 692.0,104.0 692.4,104.0 692.8,104.0 693.2,104.0 693.6,104.0 693.9,104.0 694.3,104.0 694.7,104.0 695.1,104.0 695.5,104.0 695.9,104.0 696.3,104.0 696.7,104.0 697.1,104.0 697.5,104.0 697.8,104.0 698.2,104.0 698.6,104.0 699.0,104.0 699.4,104.0 699.8,104.0 700.2,104.0 700.6,104.0 701.0,104.0 701.4,104.0 701.7,104.0 702.1,104.0 702.5,104.0 702.9,104.0 703.3,104.0 703.7,104.0 704.1,104.0 704.5,104.0 704.9,104.0 705.2,104.0 705.6,104.0 706.0,104.0 706.4,104.0 706.8,104.0 707.2,104.0 707.6,104.0 708.0,104.0 708.4,104.0 708.8,104.0 709.1,104.0 709.5,104.0 709.9,104.0 710.3,104.0 710.7,104.0 711.1,104.0 711.5,104.0 711.9,104.0 712.3,104.0 712.7,104.0 713.0,104.0 713.4,104.0 713.8,104.0 714.2,104.0 714.6,104.0 715.0,104.0 715.4,104.0 715.8,104.0 716.2,104.0 716.6,104.0 716.9,104.0 717.3,104.0 717.7,104.0 718.1,104.0 718.5,104.0 718.9,104.0 719.3,104.0 719.7,104.0 720.1,104.0 720.4,104.0 720.8,104.0 721.2,104.0 721.6,104.0 722.0,104.0 722.4,104.0 722.8,104.0 723.2,104.0 723.6,104.0 724.0,104.0 724.3,104.0 724.7,104.0 725.1,104.0 725.5,104.0 725.9,104.0 726.3,104.0 726.7,104.0 727.1,104.0 727.5,104.0 727.9,104.0 728.2,104.0 728.6,104.0 729.0,104.0 729.4,104.0 729.8,104.0 730.2,104.0 730.6,104.0 731.0,104.0 731.4,104.0 731.8,104.0 732.1,104.0 732.5,104.0 732.9,104.0 733.3,104.0 733.7,104.0 734.1,104.0 734.5,104.0 734.9,104.0 735.3,104.0 735.6,104.0 736.0,104.0 736.4,104.0 736.8,104.0 737.2,104.0 737.6,104.0 738.0,104.0 738.4,104.0 738.8,104.0 739.2,104.0 739.5,104.0 739.9,104.0 740.3,104.0 740.7,103.9 741.1,103.9 741.5,103.9 741.9,103.9 742.3,103.9 742.7,103.8 743.1,103.8 743.4,103.8 743.8,103.8 744.2,103.7 744.6,103.7 745.0,103.6 745.4,103.6 745.8,103.5 746.2,103.4 746.6,103.4 747.0,103.3 747.3,103.2 747.7,103.1 748.1,103.0 748.5,102.9 748.9,102.7 749.3,102.6 749.7,102.4 750.1,102.3 750.5,102.1 750.8,101.9 751.2,101.7 751.6,101.4 752.0,101.2 752.4,100.9 752.8,100.7 753.2,100.4 753.6,100.1 754.0,99.8 754.4,99.4 754.7,99.1 755.1,98.8 755.5,98.4 755.9,98.1 756.3,97.8 756.7,97.5 757.1,97.3 757.5,97.1 757.9,97.0 758.3,97.1 758.6,97.3 759.0,97.8 759.4,98.7 759.8,100.4 760.2,103.4 760.6,107.7 761.0,113.2 761.4,120.1 761.8,128.5 762.2,138.8 762.5,151.5 762.9,166.9 763.3,185.2 763.7,205.9 764.1,228.3 764.5,251.0 764.9,272.0 765.3,289.2 765.7,300.5 766.0,304.4 766.4,300.5 766.8,289.2 767.2,272.0 767.6,251.0 768.0,228.3 768.4,205.9 768.8,185.2 769.2,166.9 769.6,151.5 769.9,138.8 770.3,128.5 770.7,120.1 771.1,113.2 771.5,107.7 771.9,103.4 772.3,100.4 772.7,98.7 773.1,97.8 773.5,97.3 773.8,97.1 774.2,97.0 774.6,97.1 775.0,97.3 775.4,97.5 775.8,97.8 776.2,98.1 776.6,98.4 777.0,98.8 777.4,99.1 777.7,99.4 778.1,99.8 778.5,100.1 778.9,100.4 779.3,100.7 779.7,100.9 780.1,101.2 780.5,101.4 780.9,101.7 781.3,101.9 781.6,102.1 782.0,102.3 782.4,102.4 782.8,102.6 783.2,102.7 783.6,102.9 784.0,103.0 784.4,103.1 784.8,103.2 785.1,103.3 785.5,103.4 785.9,103.4 786.3,103.5 786.7,103.6 787.1,103.6 787.5,103.7 787.9,103.7 788.3,103.8 788.7,103.8 789.0,103.8 789.4,103.8 789.8,103.9 790.2,103.9 790.6,103.9 791.0,103.9 791.4,103.9 791.8,104.0 792.2,104.0 792.6,104.0 792.9,104.0 793.3,104.0 793.7,104.0 794.1,104.0 794.5,104.0 794.9,104.0 795.3,104.0 795.7,104.0 796.1,104.0 796.5,104.0 796.8,104.0 797.2,104.0 797.6,104.0 798.0,104.0 798.4,104.0 798.8,104.0 799.2,104.0 799.6,104.0 800.0,104.0 800.3,104.0 800.7,104.0 801.1,104.0 801.5,104.0 801.9,104.0 802.3,104.0 802.7,104.0 803.1,104.0 803.5,104.0 803.9,104.0 804.2,104.0 804.6,104.0 805.0,104.0 805.4,104.0 805.8,104.0 806.2,104.0 806.6,104.0 807.0,104.0 807.4,104.0 807.8,104.0 808.1,104.0 808.5,104.0 808.9,104.0 809.3,104.0 809.7,104.0 810.1,104.0 810.5,104.0 810.9,104.0 811.3,104.0 811.7,104.0 812.0,104.0 812.4,104.0 812.8,104.0 813.2,104.0 813.6,104.0 814.0,104.0 814.4,104.0 814.8,104.0 815.2,104.0 815.5,104.0 815.9,104.0 816.3,104.0 816.7,104.0 817.1,104.0 817.5,104.0 817.9,104.0 818.3,104.0 818.7,104.0 819.1,104.0 819.4,104.0 819.8,104.0 820.2,104.0 820.6,104.0 821.0,104.0 821.4,104.0 821.8,104.0 822.2,104.0 822.6,104.0 823.0,104.0 823.3,104.0 823.7,104.0 824.1,104.0 824.5,104.0 824.9,104.0 825.3,104.0 825.7,104.0 826.1,104.0 826.5,104.0 826.9,104.0 827.2,104.0 827.6,104.0 828.0,104.0 828.4,104.0 828.8,104.0 829.2,104.0 829.6,104.0 830.0,104.0 830.4,104.0 830.7,104.0 831.1,104.0 831.5,104.0 831.9,104.0 832.3,104.0 832.7,104.0 833.1,104.0 833.5,104.0 833.9,104.0 834.3,104.0 834.6,104.0 835.0,104.0 835.4,104.0 835.8,104.0 836.2,104.0 836.6,104.0 837.0,104.0 837.4,104.0 837.8,104.0 838.2,104.0 838.5,104.0 838.9,104.0 839.3,104.0 839.7,104.0 840.1,104.0 840.5,104.0 840.9,104.0 841.3,104.0 841.7,104.0 842.1,104.0 842.4,104.0 842.8,104.0 843.2,104.0 843.6,104.0 844.0,104.0" fill="none" stroke="#9a4fe0" stroke-width="1.25" clip-path="url(#f1b)"/>
<rect x="688.1" y="84.7" width="155.9" height="219.7" fill="none" stroke="#3a3a3a" stroke-width="1.25"/>
<path d="M703.7 304.4v-5M703.7 84.7v5M734.9 304.4v-5M734.9 84.7v5M766.0 304.4v-5M766.0 84.7v5M797.2 304.4v-5M797.2 84.7v5M828.4 304.4v-5M828.4 84.7v5" stroke="#3a3a3a" stroke-width="1.00" fill="none"/>
<path d="M719.3 304.4v-2.5M719.3 84.7v2.5M750.5 304.4v-2.5M750.5 84.7v2.5M781.6 304.4v-2.5M781.6 84.7v2.5M812.8 304.4v-2.5M812.8 84.7v2.5" stroke="#3a3a3a" stroke-width="1.00" fill="none"/>
<path d="M688.1 264.3h5M844.0 264.3h-5M688.1 224.3h5M844.0 224.3h-5M688.1 184.2h5M844.0 184.2h-5M688.1 144.1h5M844.0 144.1h-5M688.1 104.0h5M844.0 104.0h-5" stroke="#3a3a3a" stroke-width="1.00" fill="none"/>
<text x="703.7" y="322.4" font-size="13" text-anchor="middle">-20</text>
<text x="734.9" y="322.4" font-size="13" text-anchor="middle">-10</text>
<text x="766.0" y="322.4" font-size="13" text-anchor="middle">0</text>
<text x="797.2" y="322.4" font-size="13" text-anchor="middle">10</text>
<text x="828.4" y="322.4" font-size="13" text-anchor="middle">20</text>
<text x="820.6" y="198.2" font-size="13" text-anchor="end" >r<tspan font-size="10" dy="3">0</tspan><tspan dy="-3">=30</tspan></text>
<line x1="828.5" x2="835.7" y1="194.5" y2="194.5" stroke="#e0262b" stroke-width="1.2"/>
<text x="820.6" y="217.5" font-size="13" text-anchor="end" >r<tspan font-size="10" dy="3">0</tspan><tspan dy="-3">=20</tspan></text>
<line x1="828.5" x2="835.7" y1="213.8" y2="213.8" stroke="#f0962a" stroke-width="1.2"/>
<text x="820.6" y="236.8" font-size="13" text-anchor="end" >r<tspan font-size="10" dy="3">0</tspan><tspan dy="-3">=15</tspan></text>
<line x1="828.5" x2="835.7" y1="233.1" y2="233.1" stroke="#3cd23c" stroke-width="1.2"/>
<text x="820.6" y="256.1" font-size="13" text-anchor="end" >r<tspan font-size="10" dy="3">0</tspan><tspan dy="-3">=10</tspan></text>
<line x1="828.5" x2="835.7" y1="252.4" y2="252.4" stroke="#3ddcea" stroke-width="1.2"/>
<text x="820.6" y="275.4" font-size="13" text-anchor="end" >r<tspan font-size="10" dy="3">0</tspan><tspan dy="-3">=5</tspan></text>
<line x1="828.5" x2="835.7" y1="271.7" y2="271.7" stroke="#2a2ad2" stroke-width="1.2"/>
<text x="820.6" y="294.7" font-size="13" text-anchor="end" >r<tspan font-size="10" dy="3">0</tspan><tspan dy="-3">=2</tspan></text>
<line x1="828.5" x2="835.7" y1="291.0" y2="291.0" stroke="#9a4fe0" stroke-width="1.2"/>
<text x="841.0" y="98.5" font-size="13" text-anchor="end" font-weight="bold">(b)</text>
<text x="605.7" y="337.6" font-size="13" text-anchor="middle" font-style="italic">x</text>
<text x="766.9" y="337.6" font-size="13" text-anchor="middle" font-style="italic">x</text>
<text transform="translate(498.5,193.5) rotate(-90)" font-size="14" text-anchor="middle">|ψ|<tspan font-size="10" dy="-5">2</tspan></text>
<polyline points="538.7,464.0 539.2,466.9 539.6,469.8 540.0,472.6 540.5,475.5 541.0,478.4 541.5,481.2 542.0,484.1 542.5,487.0 543.0,489.8 543.5,492.7 544.1,495.6 544.7,498.4 545.3,501.3 545.9,504.1 546.5,506.9 547.2,509.7 547.9,512.6 548.7,515.4 549.4,518.2 550.3,521.0 551.1,523.8 552.0,526.6 552.9,529.3 553.9,532.1 554.9,534.8 555.9,537.5 557.0,540.2 558.1,542.9 559.3,545.6 560.5,548.2 561.8,550.9 563.2,553.5 564.7,556.0 566.2,558.4 567.7,560.8 569.4,563.2 571.2,565.5 573.1,567.8 575.1,570.0 577.2,572.1 579.3,574.0 581.5,575.9 583.7,577.6 586.1,579.3 588.6,581.0 591.1,582.6 593.7,584.0 596.3,585.3 598.9,586.4 601.6,587.3 604.3,588.2 607.1,589.1 609.9,589.8 612.7,590.6 615.6,591.3 618.5,591.9 621.4,592.5 624.3,593.0 627.1,593.5 630.0,594.0 632.8,594.5 635.7,594.9 638.6,595.3 641.5,595.7 644.4,596.0 647.3,596.4 650.2,596.7 653.1,596.9 656.0,597.2 658.9,597.5 661.8,597.7 664.7,597.9 667.6,598.1 670.5,598.3 673.4,598.5 676.3,598.7 679.2,598.8 682.1,599.0 685.0,599.1" fill="none" stroke="#e0262b" stroke-width="1.1" />
<polyline points="532.6,464.0 532.8,467.5 533.0,471.0 533.2,474.5 533.5,478.0 533.7,481.5 533.9,485.0 534.2,488.5 534.5,492.0 534.8,495.5 535.1,499.0 535.4,502.5 535.7,506.0 536.1,509.5 536.4,513.0 536.8,516.5 537.2,520.0 537.6,523.5 538.0,527.0 538.4,530.4 538.9,533.9 539.3,537.4 539.8,540.9 540.4,544.4 540.9,547.8 541.5,551.3 542.1,554.7 542.8,558.2 543.5,561.6 544.3,565.0 545.2,568.4 546.1,571.9 547.0,575.2 548.0,578.6 549.1,581.9 550.2,585.3 551.4,588.6 552.7,591.9 554.1,595.1 555.6,598.3 557.3,601.3 559.1,604.3 561.2,607.3 563.5,610.0 565.8,612.6 568.4,614.8 571.2,617.0 574.2,619.0 577.3,620.7 580.5,622.2 583.7,623.4 587.0,624.5 590.4,625.5 593.9,626.3 597.4,626.9 600.8,627.4 604.3,627.7 607.8,628.1 611.3,628.4 614.8,628.6 618.3,628.8 621.8,629.0 625.3,629.2 628.8,629.4 632.4,629.6 635.9,629.7 639.4,629.9 642.9,630.0 646.4,630.2 649.9,630.3 653.4,630.4 656.9,630.6 660.4,630.7 663.9,630.8 667.4,630.9 670.9,631.0 674.4,631.0 678.0,631.1 681.5,631.1 685.0,631.2" fill="none" stroke="#3cd23c" stroke-width="1.1" />
<rect x="527.9" y="463.9" width="156.2" height="220.1" fill="none" stroke="#3a3a3a" stroke-width="1.25"/>
<path d="M580.0 684.0v-5M580.0 463.9v5M632.0 684.0v-5M632.0 463.9v5" stroke="#3a3a3a" stroke-width="1.00" fill="none"/>
<path d="M553.9 684.0v-2.5M553.9 463.9v2.5M606.0 684.0v-2.5M606.0 463.9v2.5M658.1 684.0v-2.5M658.1 463.9v2.5" stroke="#3a3a3a" stroke-width="1.00" fill="none"/>
<path d="M527.9 640.0h5M684.1 640.0h-5M527.9 596.0h5M684.1 596.0h-5M527.9 551.9h5M684.1 551.9h-5M527.9 507.9h5M684.1 507.9h-5" stroke="#3a3a3a" stroke-width="1.00" fill="none"/>
<text x="527.9" y="702.0" font-size="13" text-anchor="middle">0</text>
<text x="580.0" y="702.0" font-size="13" text-anchor="middle">5</text>
<text x="632.0" y="702.0" font-size="13" text-anchor="middle">10</text>
<text x="520.9" y="644.3" font-size="13" text-anchor="end">2</text>
<text x="520.9" y="600.2" font-size="13" text-anchor="end">4</text>
<text x="520.9" y="556.2" font-size="13" text-anchor="end">6</text>
<text x="520.9" y="512.2" font-size="13" text-anchor="end">8</text>
<text x="531.5" y="654.5" font-size="13" text-anchor="start" >r<tspan font-size="10" dy="3">0</tspan><tspan dy="-3">=30</tspan></text>
<line x1="570.4" x2="603.6" y1="650.2" y2="650.2" stroke="#e0262b" stroke-width="1.2"/>
<text x="531.5" y="674.0" font-size="13" text-anchor="start" >r<tspan font-size="10" dy="3">0</tspan><tspan dy="-3">=15</tspan></text>
<line x1="570.4" x2="603.6" y1="669.7" y2="669.7" stroke="#3cd23c" stroke-width="1.2"/>
<text x="683.0" y="480.3" font-size="13" text-anchor="end" font-weight="bold">(a)</text>
<rect x="612.9" y="486.7" width="60.9" height="78.2" fill="#fff" stroke="#3a3a3a" stroke-width="1.25"/>
<polyline points="614.4,487.4 614.4,488.8 614.4,490.2 614.4,491.5 614.4,492.9 614.5,494.3 614.5,495.7 614.6,497.0 614.6,498.4 614.7,499.8 614.7,501.2 614.8,502.5 614.8,503.9 614.9,505.3 615.0,506.6 615.0,508.0 615.1,509.4 615.2,510.8 615.3,512.1 615.4,513.5 615.5,514.9 615.6,516.3 615.8,517.6 615.9,519.0 616.1,520.4 616.3,521.7 616.5,523.1 616.7,524.4 617.0,525.8 617.3,527.1 617.6,528.5 618.0,529.8 618.4,531.1 618.8,532.4 619.2,533.7 619.7,535.0 620.3,536.3 620.9,537.7 621.5,539.0 622.2,540.2 622.9,541.4 623.7,542.4 624.5,543.3 625.5,544.2 626.5,545.0 627.7,545.8 628.9,546.5 630.2,547.2 631.5,547.8 632.8,548.3 634.2,548.7 635.5,549.1 636.8,549.3 638.1,549.6 639.4,549.8 640.8,550.0 642.1,550.2 643.5,550.4 644.9,550.6 646.3,550.7 647.7,550.8 649.1,551.0 650.5,551.1 651.8,551.1 653.2,551.2 654.6,551.2 656.0,551.3 657.3,551.3 658.7,551.3 660.1,551.4 661.4,551.4 662.8,551.4 664.2,551.5 665.6,551.5 666.9,551.5 668.3,551.5 669.7,551.5 671.1,551.5 672.4,551.5 673.8,551.5" fill="none" stroke="#3cd23c" stroke-width="1.1" />
<polyline points="614.7,528.8 615.0,529.7 615.3,530.5 615.7,531.4 616.0,532.2 616.3,533.0 616.7,533.9 617.0,534.7 617.4,535.5 617.7,536.3 618.1,537.1 618.5,537.9 618.9,538.7 619.4,539.5 619.9,540.2 620.4,541.0 620.9,541.8 621.4,542.5 622.0,543.2 622.6,543.9 623.2,544.6 623.8,545.2 624.4,545.8 625.1,546.3 625.8,546.8 626.5,547.4 627.3,547.9 628.0,548.4 628.8,548.9 629.6,549.3 630.5,549.8 631.3,550.2 632.1,550.5 633.0,550.9 633.8,551.2 634.7,551.4 635.5,551.6 636.3,551.8 637.2,551.9 638.0,552.1 638.9,552.2 639.8,552.4 640.7,552.5 641.6,552.6 642.4,552.7 643.3,552.9 644.2,553.0 645.1,553.1 646.0,553.2 647.0,553.2 647.9,553.3 648.8,553.4 649.7,553.5 650.6,553.5 651.5,553.6 652.4,553.7 653.3,553.7 654.2,553.8 655.0,553.8 655.9,553.8 656.8,553.9 657.7,553.9 658.6,554.0 659.5,554.0 660.4,554.1 661.3,554.1 662.2,554.1 663.1,554.2 664.0,554.2 664.9,554.3 665.8,554.3 666.7,554.3 667.5,554.3 668.4,554.4 669.3,554.4 670.2,554.4 671.1,554.4 672.0,554.4 672.9,554.4 673.8,554.4" fill="none" stroke="#e0262b" stroke-width="1.1" />
<path d="M614.3 564.9v-3.5M614.3 486.7v3.5M634.1 564.9v-3.5M634.1 486.7v3.5M654.0 564.9v-3.5M654.0 486.7v3.5" stroke="#3a3a3a" stroke-width="1.00" fill="none"/>
<path d="M624.2 564.9v-2M624.2 486.7v2M644.0 564.9v-2M644.0 486.7v2M663.9 564.9v-2M663.9 486.7v2" stroke="#3a3a3a" stroke-width="1.00" fill="none"/>
<path d="M612.9 547.5h3.5M673.8 547.5h-3.5M612.9 530.1h3.5M673.8 530.1h-3.5M612.9 512.8h3.5M673.8 512.8h-3.5M612.9 495.4h3.5M673.8 495.4h-3.5" stroke="#3a3a3a" stroke-width="1.00" fill="none"/>
<text x="614.3" y="579.9" font-size="13" text-anchor="middle">0</text>
<text x="634.1" y="579.9" font-size="13" text-anchor="middle">5</text>
<text x="654.0" y="579.9" font-size="13" text-anchor="middle">10</text>
<text x="608.9" y="551.8" font-size="13" text-anchor="end">0.2</text>
<text x="608.9" y="517.1" font-size="13" text-anchor="end">0.6</text>
<text x="643.6" y="589.5" font-size="13" text-anchor="middle" font-style="italic">d</text>
<text transform="translate(585,525) rotate(-90)" font-size="13" text-anchor="middle" font-style="italic">R<tspan font-size="9.5" dy="3">c</tspan><tspan dy="-3">/r</tspan><tspan font-size="9.5" dy="3">0</tspan></text>
<polyline points="688.7,463.9 688.8,467.4 689.0,470.8 689.2,474.3 689.3,477.8 689.6,481.3 689.8,484.8 690.0,488.3 690.3,491.8 690.6,495.3 690.9,498.7 691.3,502.2 691.7,505.7 692.1,509.2 692.5,512.6 692.8,516.1 693.2,519.6 693.6,523.1 693.9,526.6 694.3,530.1 694.7,533.5 695.1,537.0 695.5,540.5 696.0,543.9 696.5,547.4 697.0,550.8 697.6,554.3 698.2,557.8 698.9,561.4 699.6,564.9 700.4,568.4 701.2,571.8 702.1,575.2 703.1,578.5 704.1,581.7 705.3,584.8 706.7,587.9 708.4,590.9 710.4,594.0 712.6,596.9 715.0,599.7 717.5,602.3 720.0,604.6 722.6,606.7 725.3,608.6 728.2,610.4 731.3,612.1 734.5,613.7 737.7,615.2 741.1,616.7 744.4,618.0 747.8,619.1 751.1,620.2 754.4,621.2 757.7,622.1 761.1,623.0 764.5,623.8 768.0,624.6 771.4,625.3 774.9,626.0 778.3,626.7 781.7,627.4 785.2,628.0 788.6,628.7 792.0,629.3 795.5,629.9 798.9,630.5 802.4,631.1 805.8,631.6 809.3,632.1 812.8,632.6 816.2,633.0 819.7,633.5 823.2,633.9 826.6,634.3 830.1,634.7 833.6,635.0 837.1,635.4 840.6,635.7 844.1,636.0" fill="none" stroke="#2a2ad2" stroke-width="1.1" />
<polyline points="688.3,552.0 688.4,554.8 688.6,557.6 688.7,560.4 688.9,563.2 689.1,566.0 689.3,568.8 689.5,571.6 689.8,574.3 690.0,577.1 690.3,579.9 690.6,582.7 690.9,585.5 691.2,588.3 691.6,591.1 692.0,593.8 692.4,596.6 692.9,599.3 693.5,602.1 694.2,604.9 695.0,607.6 695.8,610.4 696.7,613.0 697.7,615.6 698.8,618.0 700.1,620.4 701.7,622.8 703.5,625.1 705.5,627.2 707.6,629.2 709.7,630.8 711.9,632.2 714.3,633.6 716.8,634.8 719.4,636.0 722.1,637.1 724.8,638.1 727.5,639.0 730.2,639.7 732.9,640.4 735.6,641.1 738.3,641.7 741.0,642.3 743.8,642.9 746.5,643.4 749.3,643.9 752.1,644.4 754.9,644.8 757.6,645.2 760.4,645.6 763.2,646.0 766.0,646.3 768.7,646.6 771.5,646.9 774.3,647.2 777.1,647.5 779.9,647.7 782.6,648.0 785.4,648.2 788.2,648.5 791.0,648.7 793.8,648.9 796.6,649.1 799.4,649.3 802.2,649.6 805.0,649.8 807.8,650.0 810.6,650.2 813.3,650.4 816.1,650.6 818.9,650.8 821.7,651.0 824.5,651.2 827.3,651.3 830.1,651.5 832.9,651.7 835.7,651.9 838.5,652.0 841.3,652.2 844.1,652.4" fill="none" stroke="#f0962a" stroke-width="1.1" />
<rect x="687.5" y="463.9" width="156.3" height="220.1" fill="none" stroke="#3a3a3a" stroke-width="1.25"/>
<path d="M750.0 684.0v-5M750.0 463.9v5M812.5 684.0v-5M812.5 463.9v5" stroke="#3a3a3a" stroke-width="1.00" fill="none"/>
<path d="M718.8 684.0v-2.5M718.8 463.9v2.5M781.3 684.0v-2.5M781.3 463.9v2.5" stroke="#3a3a3a" stroke-width="1.00" fill="none"/>
<path d="M687.5 640.0h5M843.8 640.0h-5M687.5 596.0h5M843.8 596.0h-5M687.5 551.9h5M843.8 551.9h-5M687.5 507.9h5M843.8 507.9h-5" stroke="#3a3a3a" stroke-width="1.00" fill="none"/>
<text x="687.5" y="702.0" font-size="13" text-anchor="middle">0</text>
<text x="750.0" y="702.0" font-size="13" text-anchor="middle">0.02</text>
<text x="812.5" y="702.0" font-size="13" text-anchor="middle">0.04</text>
<text x="791.2" y="521.5" font-size="13" text-anchor="end" >d=5</text>
<line x1="795.4" x2="830.2" y1="517.2" y2="517.2" stroke="#f0962a" stroke-width="1.2"/>
<text x="791.2" y="541.2" font-size="13" text-anchor="end" >d=1</text>
<line x1="795.4" x2="830.2" y1="536.9" y2="536.9" stroke="#2a2ad2" stroke-width="1.2"/>
<text x="841.5" y="480.3" font-size="13" text-anchor="end" font-weight="bold">(b)</text>
<text x="606.4" y="718.0" font-size="13" text-anchor="middle" font-style="italic">d</text>
<text x="763.9" y="718.0" font-size="13" text-anchor="middle" font-style="italic">n</text>
<text transform="translate(510,571.7) rotate(-90)" font-size="13" text-anchor="middle" font-style="italic">R<tspan font-size="9.5" dy="3">c</tspan></text></svg>
</div>
<div class="pg" style="left:1854px">
<div class="l r" style="left:81.80px;top:41.03px;width:769.70px;">3</div>
<div class="l s" style="word-spacing:0.74px;left:81.80px;top:313.96px;">Figure 3.  Cross section of vortex density profile |<i>ψ</i>(<i>r</i>)|<sup>2</sup> (blue) normalized to the homogeneous density, and the exciton-exciton interactions</div>
<div class="l s" style="word-spacing:1.18px;left:81.80px;top:329.80px;"><i>V</i><sub>XX</sub>(<i>r</i>) in Ry<sup>*</sup> (red).  The green arrows are proportional to the dipole moments of the neighboring excitons.  The density <i>n</i> corresponds to</div>
<div class="l s" style="left:81.80px;top:345.65px;"><i>r</i><sub>0</sub> = 30. Panels (a)-(c) are for interlayer distances <i>d</i> = 1, 10, and 30, respectively.</div>
<div class="l" style="word-spacing:1.03px;left:81.80px;top:394.83px;"><i>R<sub>c</sub></i> saturate at a small value much less than <i>r</i><sub>0</sub> [see inset Fig.</div>
<div class="l" style="word-spacing:0.25px;left:81.80px;top:412.18px;"><a>2</a>(a)].  A similar saturation has been reported in cold atoms at</div>
<div class="l" style="word-spacing:0.67px;left:81.80px;top:429.53px;">the supersolid transition, which is the point where the vortex</div>
<div class="l" style="word-spacing:1.70px;left:81.80px;top:446.89px;">core is no longer characterized by inter-particle interactions</div>
<div class="l" style="left:81.80px;top:464.24px;">but instead is determined by the crystal structure [<a>16</a>].</div>
<div class="l" style="word-spacing:0.33px;left:96.90px;top:484.73px;">Figure <a>1</a> shows that above a certain value of <i>d</i> or <i>n</i>, a peak</div>
<div class="l" style="word-spacing:0.56px;left:81.80px;top:502.08px;">appears in the vortex profile near the edge of the vortex, sig-</div>
<div class="l" style="word-spacing:-0.56px;left:81.80px;top:519.43px;">naling an accumulation of superfluid density at the edge of the</div>
<div class="l" style="word-spacing:1.03px;left:81.80px;top:536.79px;">vortex.  The pileup peak is a feature of repulsive boson sys-</div>
<div class="l" style="word-spacing:1.11px;left:81.80px;top:554.14px;">tems and has also been reported in dipolar cold atoms when</div>
<div class="l" style="word-spacing:1.42px;left:81.80px;top:571.50px;">the repulsion is strong [<a>26</a>].  Increasing the layer separation</div>
<div class="l" style="word-spacing:1.23px;left:81.80px;top:588.85px;"><i>d</i> (or decreasing <i>r</i><sub>0</sub>) has the effect of extending the effective</div>
<div class="l" style="word-spacing:1.26px;left:81.80px;top:606.20px;">range of the neighboring interactions <i>V</i><sub>XX</sub> (solid red lines in</div>
<div class="l" style="word-spacing:2.25px;left:81.80px;top:623.56px;">Figure <a>3</a>).  At the same time, the vortex radius <i>R<sub>c</sub></i> shrinks,</div>
<div class="l" style="word-spacing:0.18px;left:81.80px;top:640.91px;">but by Fig. <a>3</a>(b) it has saturated (solid blue lines). Comparing</div>
<div class="l" style="word-spacing:-0.05px;left:81.80px;top:658.27px;">panels (a) and (b) of Fig. <a>3</a> shows that the pileup at the vortex</div>
<div class="l" style="word-spacing:-0.11px;left:81.80px;top:675.62px;">edge starts when the vortex radius saturates and the potentials</div>
<div class="l" style="word-spacing:-0.17px;left:81.80px;top:692.97px;"><i>V</i><sub>XX</sub> from the neighboring excitons are sufficiently strong that</div>
<div class="l" style="word-spacing:0.40px;left:81.80px;top:710.33px;">they are still significant at the edge of the vortex profile. It is</div>
<div class="l" style="word-spacing:0.19px;left:81.80px;top:727.68px;">the competition between the centrifugal force, which is push-</div>
<div class="l s" style="word-spacing:1.35px;left:81.80px;top:1060.16px;">Figure 4.  Detail of the vortex profile density pileup at (a) a fixed</div>
<div class="l s" style="left:81.80px;top:1076.00px;">density, <i>r</i><sub>0</sub> = 30, and (b) a fixed interlayer distance, <i>d</i> = 5.</div>
<div class="l" style="word-spacing:0.84px;left:480.30px;top:394.83px;">ing the exciton out of the vortex core, and the <i>V</i><sub>XX</sub>, which is</div>
<div class="l" style="word-spacing:-0.61px;left:480.30px;top:412.18px;">pushing back the excitons, that causes the density pileup at the</div>
<div class="l" style="left:480.30px;top:429.53px;">edges.</div>
<div class="l" style="word-spacing:1.52px;left:495.40px;top:450.53px;">Figure <a>4</a> shows that the maximum of the pileup peak de-</div>
<div class="l" style="word-spacing:2.17px;left:480.30px;top:467.88px;">pends on the strength of the exciton-exciton repulsion, and</div>
<div class="l" style="word-spacing:-0.03px;left:480.30px;top:485.23px;">the position of the peak is fixed to the edge of the vortex. The</div>
<div class="l" style="word-spacing:0.14px;left:480.30px;top:502.59px;">dependence of the peak position on <i>r</i><sub>0</sub> [Fig. <a>4</a>(b)] is similar to</div>
<div class="l" style="word-spacing:0.34px;left:480.30px;top:519.94px;">the one reported in dipolar cold atoms [<a>26</a>].  However, in our</div>
<div class="l" style="word-spacing:0.30px;left:480.30px;top:537.30px;">exciton system, we do not see the subsequent density oscilla-</div>
<div class="l" style="word-spacing:0.61px;left:480.30px;top:554.65px;">tions accompanying the peak observed in cold atoms.  These</div>
<div class="l" style="word-spacing:-0.08px;left:480.30px;top:572.00px;">oscillations have been associated with a low-lying roton exci-</div>
<div class="l" style="word-spacing:0.42px;left:480.30px;top:589.36px;">tation that mixes with the ground state. The absence of oscil-</div>
<div class="l" style="word-spacing:-0.07px;left:480.30px;top:606.71px;">lations in our system suggests that there is no roton excitation</div>
<div class="l" style="word-spacing:0.38px;left:480.30px;top:624.07px;">in this system.  This is consistent with Martin <i>et al.</i> [<a>25</a>] who</div>
<div class="l" style="word-spacing:-0.40px;left:480.30px;top:641.42px;">found for 2D dipolar gases that the roton instability is induced</div>
<div class="l" style="word-spacing:0.82px;left:480.30px;top:658.77px;">by either an attractive contact interaction or by the attractive</div>
<div class="l" style="word-spacing:1.15px;left:480.30px;top:676.13px;">part of the dipolar interaction, and this is only present when</div>
<div class="l" style="left:480.30px;top:693.48px;">the dipoles are not aligned perpendicular to the layer.</div>
<div class="l" style="word-spacing:1.18px;left:495.40px;top:713.53px;">Figure <a>5</a> maps out the phase diagram of our system.  The</div>
<div class="l s" style="word-spacing:0.98px;left:480.30px;top:996.46px;">Figure 5.  Zero temperature phase diagram as function of the layer</div>
<div class="l s" style="word-spacing:0.47px;left:480.30px;top:1012.30px;">separation <i>d</i> and average inter-particle distance <i>r</i><sub>0</sub>. The dotted black</div>
<div class="l s" style="word-spacing:1.25px;left:480.30px;top:1028.15px;">line is <i>r</i><sub>0</sub> = <i>d</i>.  Blue (black) dots stand for superfluid systems with</div>
<div class="l s" style="word-spacing:0.32px;left:480.30px;top:1043.99px;">vortex profiles with (without) a density pileup peak.  The red line is</div>
<div class="l s" style="word-spacing:1.19px;left:480.30px;top:1059.84px;">the dipolar coupling parametric threshold with <i>D</i> = 13.  The green</div>
<div class="l s" style="left:480.30px;top:1075.68px;">dashed line is the superfluid to supersolid transition in Ref. <a>8</a>.</div>
<svg width="927" height="1200" viewBox="0 0 927 1200" style="left:0;top:0"><clipPath id="f3a"><rect x="229.5" y="100.3" width="161.8" height="159.7"/></clipPath>
<line x1="310.4" x2="310.4" y1="100.3" y2="260.0" stroke="#bbb" stroke-width=".6" stroke-dasharray="1 1.5"/>
<path d="M229.5 224.5h10M391.3 224.5h-10M229.5 189.0h10M391.3 189.0h-10M229.5 153.4h10M391.3 153.4h-10" stroke="#3a3a3a" stroke-width="1.00" fill="none"/>
<path d="M240.1 260.0v-9M275.2 260.0v-9M310.4 260.0v-9M345.6 260.0v-9M380.7 260.0v-9" stroke="#3a3a3a" stroke-width="1.00" fill="none"/>
<polyline points="229.5,259.6 230.1,259.5 230.7,259.5 231.3,259.3 231.8,259.2 232.4,259.0 233.0,258.7 233.1,258.6 233.3,258.6 233.4,258.5 233.5,258.4 233.6,258.3 233.7,258.2 233.8,258.1 234.0,258.0 234.1,257.9 234.2,257.8 234.3,257.7 234.4,257.5 234.5,257.4 234.7,257.2 234.8,257.0 234.9,256.8 235.0,256.6 235.1,256.3 235.2,256.1 235.4,255.8 235.5,255.4 235.6,255.1 235.7,254.7 235.8,254.2 235.9,253.8 236.1,253.2 236.2,252.6 236.3,251.9 236.4,251.1 236.5,250.3 236.7,249.3 236.8,248.2 236.9,246.9 237.0,245.4 237.1,243.7 237.2,241.8 237.4,239.5 237.5,236.8 237.6,233.7 237.7,230.0 237.8,225.6 237.9,220.3 238.1,213.8 238.2,206.0 238.3,196.4 238.4,184.4 238.5,169.3 238.6,150.2 238.8,125.6 238.9,93.5 239.0,51.0 239.1,46.9 239.2,46.9 239.3,46.9 239.5,46.9 239.6,46.9 239.7,46.9 239.8,46.9 239.9,46.9 240.1,46.9 240.2,46.9 240.3,46.9 240.4,46.9 240.5,46.9 240.6,46.9 240.8,46.9 240.9,46.9 241.0,46.9 241.1,51.0 241.2,93.5 241.3,125.6 241.5,150.2 241.6,169.3 241.7,184.4 241.8,196.4 241.9,206.0 242.0,213.8 242.2,220.3 242.3,225.6 242.4,230.0 242.5,233.7 242.6,236.8 242.7,239.5 242.9,241.8 243.0,243.7 243.1,245.4 243.2,246.9 243.3,248.2 243.5,249.3 243.6,250.3 243.7,251.1 243.8,251.9 243.9,252.6 244.0,253.2 244.2,253.8 244.3,254.2 244.4,254.7 244.5,255.1 244.6,255.4 244.7,255.8 244.9,256.1 245.0,256.3 245.1,256.6 245.2,256.8 245.3,257.0 245.4,257.2 245.6,257.4 245.7,257.5 245.8,257.7 245.9,257.8 246.0,257.9 246.1,258.0 246.3,258.1 246.4,258.2 246.5,258.3 246.6,258.4 246.7,258.5 246.9,258.6 247.0,258.6 247.1,258.7 247.7,259.0 248.3,259.2 248.8,259.3 249.4,259.5 250.0,259.5 250.6,259.6 251.2,259.7 251.8,259.7 252.4,259.8 252.9,259.8 253.5,259.8 254.1,259.8 254.7,259.9 255.3,259.9 255.9,259.9 256.5,259.9 257.1,259.9 257.6,259.9 258.2,259.9 258.8,259.9 259.4,259.9 260.0,259.9 260.6,259.9 261.2,260.0 261.7,260.0 262.3,260.0 262.9,260.0 263.5,260.0 264.1,260.0 264.7,260.0 265.3,260.0 265.8,260.0 266.4,260.0 267.0,260.0 267.6,260.0 268.2,260.0 268.8,260.0 269.4,260.0 269.9,260.0 270.5,260.0 271.1,260.0 271.7,260.0 272.3,260.0 272.9,260.0 273.5,260.0 274.1,260.0 274.6,260.0 275.2,260.0 275.8,260.0 276.4,260.0 277.0,260.0 277.6,260.0 278.2,260.0 278.7,260.0 279.3,260.0 279.9,260.0 280.5,260.0 281.1,260.0 281.7,260.0 282.3,260.0 282.8,260.0 283.4,260.0 284.0,260.0 284.6,260.0 285.2,260.0 285.8,260.0 286.4,260.0 287.0,260.0 287.5,260.0 288.1,260.0 288.7,260.0 289.3,260.0 289.9,260.0 290.5,260.0 291.1,260.0 291.6,260.0 292.2,260.0 292.8,260.0 293.4,260.0 294.0,260.0 294.6,260.0 295.2,260.0 295.7,260.0 296.3,260.0 296.9,260.0 297.5,260.0 298.1,260.0 298.7,260.0 299.3,260.0 299.8,260.0 300.4,260.0 301.0,260.0 301.6,260.0 302.2,260.0 302.8,260.0 303.4,260.0 304.0,260.0 304.5,260.0 305.1,260.0 305.7,260.0 306.3,260.0 306.9,260.0 307.5,260.0 308.1,260.0 308.6,260.0 309.2,260.0 309.8,260.0 310.4,260.0 311.0,260.0 311.6,260.0 312.2,260.0 312.7,260.0 313.3,260.0 313.9,260.0 314.5,260.0 315.1,260.0 315.7,260.0 316.3,260.0 316.8,260.0 317.4,260.0 318.0,260.0 318.6,260.0 319.2,260.0 319.8,260.0 320.4,260.0 321.0,260.0 321.5,260.0 322.1,260.0 322.7,260.0 323.3,260.0 323.9,260.0 324.5,260.0 325.1,260.0 325.6,260.0 326.2,260.0 326.8,260.0 327.4,260.0 328.0,260.0 328.6,260.0 329.2,260.0 329.7,260.0 330.3,260.0 330.9,260.0 331.5,260.0 332.1,260.0 332.7,260.0 333.3,260.0 333.8,260.0 334.4,260.0 335.0,260.0 335.6,260.0 336.2,260.0 336.8,260.0 337.4,260.0 338.0,260.0 338.5,260.0 339.1,260.0 339.7,260.0 340.3,260.0 340.9,260.0 341.5,260.0 342.1,260.0 342.6,260.0 343.2,260.0 343.8,260.0 344.4,260.0 345.0,260.0 345.6,260.0 346.2,260.0 346.7,260.0 347.3,260.0 347.9,260.0 348.5,260.0 349.1,260.0 349.7,260.0 350.3,260.0 350.9,260.0 351.4,260.0 352.0,260.0 352.6,260.0 353.2,260.0 353.8,260.0 354.4,260.0 355.0,260.0 355.5,260.0 356.1,260.0 356.7,260.0 357.3,260.0 357.9,260.0 358.5,260.0 359.1,260.0 359.6,260.0 360.2,259.9 360.8,259.9 361.4,259.9 362.0,259.9 362.6,259.9 363.2,259.9 363.7,259.9 364.3,259.9 364.9,259.9 365.5,259.9 366.1,259.9 366.7,259.8 367.3,259.8 367.9,259.8 368.4,259.8 369.0,259.7 369.6,259.7 370.2,259.6 370.8,259.5 371.4,259.5 372.0,259.3 372.5,259.2 373.1,259.0 373.7,258.7 373.8,258.6 373.9,258.6 374.1,258.5 374.2,258.4 374.3,258.3 374.4,258.2 374.5,258.1 374.7,258.0 374.8,257.9 374.9,257.8 375.0,257.7 375.1,257.5 375.2,257.4 375.4,257.2 375.5,257.0 375.6,256.8 375.7,256.6 375.8,256.3 375.9,256.1 376.1,255.8 376.2,255.4 376.3,255.1 376.4,254.7 376.5,254.2 376.6,253.8 376.8,253.2 376.9,252.6 377.0,251.9 377.1,251.1 377.2,250.3 377.3,249.3 377.5,248.2 377.6,246.9 377.7,245.4 377.8,243.7 377.9,241.8 378.1,239.5 378.2,236.8 378.3,233.7 378.4,230.0 378.5,225.6 378.6,220.3 378.8,213.8 378.9,206.0 379.0,196.4 379.1,184.4 379.2,169.3 379.3,150.2 379.5,125.6 379.6,93.5 379.7,51.0 379.8,46.9 379.9,46.9 380.0,46.9 380.2,46.9 380.3,46.9 380.4,46.9 380.5,46.9 380.6,46.9 380.7,46.9 380.9,46.9 381.0,46.9 381.1,46.9 381.2,46.9 381.3,46.9 381.5,46.9 381.6,46.9 381.7,46.9 381.8,51.0 381.9,93.5 382.0,125.6 382.2,150.2 382.3,169.3 382.4,184.4 382.5,196.4 382.6,206.0 382.7,213.8 382.9,220.3 383.0,225.6 383.1,230.0 383.2,233.7 383.3,236.8 383.4,239.5 383.6,241.8 383.7,243.7 383.8,245.4 383.9,246.9 384.0,248.2 384.1,249.3 384.3,250.3 384.4,251.1 384.5,251.9 384.6,252.6 384.7,253.2 384.9,253.8 385.0,254.2 385.1,254.7 385.2,255.1 385.3,255.4 385.4,255.8 385.6,256.1 385.7,256.3 385.8,256.6 385.9,256.8 386.0,257.0 386.1,257.2 386.3,257.4 386.4,257.5 386.5,257.7 386.6,257.8 386.7,257.9 386.8,258.0 387.0,258.1 387.1,258.2 387.2,258.3 387.3,258.4 387.4,258.5 387.5,258.6 387.7,258.6 387.8,258.7 388.4,259.0 389.0,259.2 389.5,259.3 390.1,259.5 390.7,259.5 391.3,259.6" fill="none" stroke="#e81c1c" stroke-width="1.5" clip-path="url(#f3a)"/>
<polyline points="229.5,119.4 230.1,119.4 230.7,119.4 231.3,119.5 231.8,119.5 232.4,119.5 233.0,119.6 233.6,119.6 234.2,119.6 234.8,119.7 235.4,119.7 235.9,119.8 236.5,119.8 237.1,119.8 237.7,119.9 238.3,119.9 238.9,120.0 239.5,120.0 240.1,120.1 240.6,120.1 241.2,120.2 241.8,120.2 242.4,120.3 243.0,120.3 243.6,120.4 244.2,120.5 244.7,120.5 245.3,120.6 245.9,120.7 246.5,120.7 247.1,120.8 247.7,120.9 248.3,121.0 248.8,121.0 249.4,121.1 250.0,121.2 250.6,121.3 251.2,121.4 251.8,121.5 252.4,121.6 252.9,121.7 253.5,121.8 254.1,121.9 254.7,122.0 255.3,122.2 255.9,122.3 256.5,122.4 257.1,122.5 257.6,122.7 258.2,122.8 258.8,123.0 259.4,123.1 260.0,123.3 260.6,123.5 261.2,123.6 261.7,123.8 262.3,124.0 262.9,124.2 263.5,124.4 264.1,124.6 264.7,124.9 265.3,125.1 265.8,125.4 266.4,125.6 267.0,125.9 267.6,126.2 268.2,126.5 268.8,126.8 269.4,127.1 269.9,127.4 270.5,127.8 271.1,128.2 271.7,128.5 272.3,129.0 272.9,129.4 273.5,129.8 274.1,130.3 274.6,130.8 275.2,131.3 275.8,131.9 276.4,132.4 277.0,133.0 277.6,133.7 278.2,134.3 278.7,135.0 279.3,135.8 279.9,136.5 280.5,137.4 281.1,138.2 281.7,139.1 282.3,140.1 282.8,141.1 283.4,142.2 284.0,143.3 284.6,144.5 285.2,145.7 285.8,147.0 286.4,148.4 287.0,149.9 287.5,151.5 288.1,153.1 288.7,154.8 289.3,156.7 289.9,158.6 290.5,160.6 291.1,162.7 291.6,165.0 292.2,167.3 292.8,169.8 293.4,172.4 294.0,175.1 294.6,178.0 295.2,181.0 295.7,184.1 296.3,187.3 296.9,190.7 297.5,194.1 298.1,197.7 298.7,201.4 299.3,205.2 299.8,209.0 300.4,213.0 301.0,216.9 301.6,220.9 302.2,224.9 302.8,228.8 303.4,232.7 304.0,236.4 304.5,240.0 305.1,243.4 305.7,246.6 306.3,249.6 306.9,252.2 307.5,254.5 308.1,256.4 308.6,258.0 309.2,259.1 309.8,259.8 310.4,260.0 311.0,259.8 311.6,259.1 312.2,258.0 312.7,256.4 313.3,254.5 313.9,252.2 314.5,249.6 315.1,246.6 315.7,243.4 316.3,240.0 316.8,236.4 317.4,232.7 318.0,228.8 318.6,224.9 319.2,220.9 319.8,216.9 320.4,213.0 321.0,209.0 321.5,205.2 322.1,201.4 322.7,197.7 323.3,194.1 323.9,190.7 324.5,187.3 325.1,184.1 325.6,181.0 326.2,178.0 326.8,175.1 327.4,172.4 328.0,169.8 328.6,167.3 329.2,165.0 329.7,162.7 330.3,160.6 330.9,158.6 331.5,156.7 332.1,154.8 332.7,153.1 333.3,151.5 333.8,149.9 334.4,148.4 335.0,147.0 335.6,145.7 336.2,144.5 336.8,143.3 337.4,142.2 338.0,141.1 338.5,140.1 339.1,139.1 339.7,138.2 340.3,137.4 340.9,136.5 341.5,135.8 342.1,135.0 342.6,134.3 343.2,133.7 343.8,133.0 344.4,132.4 345.0,131.9 345.6,131.3 346.2,130.8 346.7,130.3 347.3,129.8 347.9,129.4 348.5,129.0 349.1,128.5 349.7,128.2 350.3,127.8 350.9,127.4 351.4,127.1 352.0,126.8 352.6,126.5 353.2,126.2 353.8,125.9 354.4,125.6 355.0,125.4 355.5,125.1 356.1,124.9 356.7,124.6 357.3,124.4 357.9,124.2 358.5,124.0 359.1,123.8 359.6,123.6 360.2,123.5 360.8,123.3 361.4,123.1 362.0,123.0 362.6,122.8 363.2,122.7 363.7,122.5 364.3,122.4 364.9,122.3 365.5,122.2 366.1,122.0 366.7,121.9 367.3,121.8 367.9,121.7 368.4,121.6 369.0,121.5 369.6,121.4 370.2,121.3 370.8,121.2 371.4,121.1 372.0,121.0 372.5,121.0 373.1,120.9 373.7,120.8 374.3,120.7 374.9,120.7 375.5,120.6 376.1,120.5 376.6,120.5 377.2,120.4 377.8,120.3 378.4,120.3 379.0,120.2 379.6,120.2 380.2,120.1 380.7,120.1 381.3,120.0 381.9,120.0 382.5,119.9 383.1,119.9 383.7,119.8 384.3,119.8 384.9,119.8 385.4,119.7 386.0,119.7 386.6,119.6 387.2,119.6 387.8,119.6 388.4,119.5 389.0,119.5 389.5,119.5 390.1,119.4 390.7,119.4 391.3,119.4" fill="none" stroke="#1f1fd0" stroke-width="1.6" clip-path="url(#f3a)"/>
<path d="M240.1 260.0V252.2M238.5 255.2L240.1 252.2L241.7 255.2" stroke="#0a6e1a" stroke-width="1.6" fill="none"/>
<path d="M380.7 260.0V252.2M379.1 255.2L380.7 252.2L382.3 255.2" stroke="#0a6e1a" stroke-width="1.6" fill="none"/>
<rect x="229.5" y="100.3" width="161.8" height="159.7" fill="none" stroke="#3a3a3a" stroke-width="1.25"/>
<text x="240.1" y="275.0" font-size="13.5" text-anchor="middle">-60</text>
<text x="275.2" y="275.0" font-size="13.5" text-anchor="middle">-30</text>
<text x="310.4" y="275.0" font-size="13.5" text-anchor="middle">0</text>
<text x="345.6" y="275.0" font-size="13.5" text-anchor="middle">30</text>
<text x="380.7" y="275.0" font-size="13.5" text-anchor="middle">60</text>
<text x="221.5" y="264.5" font-size="13.5" text-anchor="end">0</text>
<text x="221.5" y="228.9" font-size="13.5" text-anchor="end">0.25</text>
<text x="221.5" y="193.4" font-size="13.5" text-anchor="end">0.5</text>
<text x="221.5" y="157.9" font-size="13.5" text-anchor="end">0.75</text>
<text x="221.5" y="122.4" font-size="13.5" text-anchor="end">1</text>
<text x="388.8" y="96.5" font-size="13.5" text-anchor="end" font-weight="bold">(a)</text>
<text x="301.8" y="96.5" font-size="13.5" text-anchor="start" >d=1</text>
<text x="310.4" y="291.5" font-size="13.5" text-anchor="middle" font-style="italic">x</text>
<clipPath id="f3b"><rect x="401.9" y="100.3" width="161.9" height="159.7"/></clipPath>
<line x1="482.8" x2="482.8" y1="100.3" y2="260.0" stroke="#bbb" stroke-width=".6" stroke-dasharray="1 1.5"/>
<path d="M401.9 224.5h10M563.8 224.5h-10M401.9 189.0h10M563.8 189.0h-10M401.9 153.4h10M563.8 153.4h-10" stroke="#3a3a3a" stroke-width="1.00" fill="none"/>
<path d="M412.5 260.0v-9M447.7 260.0v-9M482.8 260.0v-9M518.0 260.0v-9M553.2 260.0v-9" stroke="#3a3a3a" stroke-width="1.00" fill="none"/>
<polyline points="401.9,239.1 402.5,236.4 403.1,233.3 403.7,229.7 404.2,225.4 404.8,220.2 405.4,214.0 405.5,212.6 405.7,211.2 405.8,209.7 405.9,208.1 406.0,206.5 406.1,204.7 406.2,203.0 406.4,201.1 406.5,199.2 406.6,197.2 406.7,195.0 406.8,192.8 406.9,190.5 407.1,188.1 407.2,185.5 407.3,182.8 407.4,180.0 407.5,177.1 407.6,174.0 407.8,170.7 407.9,167.2 408.0,163.6 408.1,159.7 408.2,155.6 408.4,151.2 408.5,146.6 408.6,141.7 408.7,136.5 408.8,130.9 408.9,125.0 409.1,118.6 409.2,111.7 409.3,104.4 409.4,96.4 409.5,87.8 409.6,78.4 409.8,68.3 409.9,57.2 410.0,46.9 410.1,46.9 410.2,46.9 410.3,46.9 410.5,46.9 410.6,46.9 410.7,46.9 410.8,46.9 410.9,46.9 411.1,46.9 411.2,46.9 411.3,46.9 411.4,46.9 411.5,46.9 411.6,46.9 411.8,46.9 411.9,46.9 412.0,46.9 412.1,46.9 412.2,46.9 412.3,46.9 412.5,46.9 412.6,46.9 412.7,46.9 412.8,46.9 412.9,46.9 413.0,46.9 413.2,46.9 413.3,46.9 413.4,46.9 413.5,46.9 413.6,46.9 413.7,46.9 413.9,46.9 414.0,46.9 414.1,46.9 414.2,46.9 414.3,46.9 414.5,46.9 414.6,46.9 414.7,46.9 414.8,46.9 414.9,46.9 415.0,57.2 415.2,68.3 415.3,78.4 415.4,87.8 415.5,96.4 415.6,104.4 415.7,111.7 415.9,118.6 416.0,125.0 416.1,130.9 416.2,136.5 416.3,141.7 416.4,146.6 416.6,151.2 416.7,155.6 416.8,159.7 416.9,163.5 417.0,167.2 417.2,170.7 417.3,174.0 417.4,177.1 417.5,180.0 417.6,182.8 417.7,185.5 417.9,188.1 418.0,190.5 418.1,192.8 418.2,195.0 418.3,197.1 418.4,199.2 418.6,201.1 418.7,203.0 418.8,204.7 418.9,206.4 419.0,208.1 419.1,209.6 419.3,211.2 419.4,212.6 419.5,214.0 420.1,220.2 420.7,225.3 421.3,229.7 421.8,233.3 422.4,236.4 423.0,239.1 423.6,241.4 424.2,243.3 424.8,245.0 425.4,246.5 426.0,247.9 426.5,249.0 427.1,250.0 427.7,250.9 428.3,251.7 428.9,252.4 429.5,253.0 430.1,253.6 430.6,254.1 431.2,254.6 431.8,255.0 432.4,255.4 433.0,255.7 433.6,256.0 434.2,256.3 434.7,256.5 435.3,256.8 435.9,257.0 436.5,257.2 437.1,257.3 437.7,257.5 438.3,257.7 438.9,257.8 439.4,257.9 440.0,258.0 440.6,258.1 441.2,258.2 441.8,258.3 442.4,258.4 443.0,258.5 443.5,258.6 444.1,258.7 444.7,258.7 445.3,258.8 445.9,258.8 446.5,258.9 447.1,258.9 447.7,259.0 448.2,259.0 448.8,259.1 449.4,259.1 450.0,259.2 450.6,259.2 451.2,259.2 451.8,259.2 452.3,259.3 452.9,259.3 453.5,259.3 454.1,259.4 454.7,259.4 455.3,259.4 455.9,259.4 456.5,259.4 457.0,259.5 457.6,259.5 458.2,259.5 458.8,259.5 459.4,259.5 460.0,259.5 460.6,259.5 461.1,259.6 461.7,259.6 462.3,259.6 462.9,259.6 463.5,259.6 464.1,259.6 464.7,259.6 465.3,259.6 465.8,259.6 466.4,259.6 467.0,259.7 467.6,259.7 468.2,259.7 468.8,259.7 469.4,259.7 469.9,259.7 470.5,259.7 471.1,259.7 471.7,259.7 472.3,259.7 472.9,259.7 473.5,259.7 474.1,259.7 474.6,259.7 475.2,259.7 475.8,259.7 476.4,259.7 477.0,259.7 477.6,259.7 478.2,259.7 478.7,259.7 479.3,259.7 479.9,259.7 480.5,259.7 481.1,259.7 481.7,259.7 482.3,259.7 482.8,259.7 483.4,259.7 484.0,259.7 484.6,259.7 485.2,259.7 485.8,259.7 486.4,259.7 487.0,259.7 487.5,259.7 488.1,259.7 488.7,259.7 489.3,259.7 489.9,259.7 490.5,259.7 491.1,259.7 491.6,259.7 492.2,259.7 492.8,259.7 493.4,259.7 494.0,259.7 494.6,259.7 495.2,259.7 495.8,259.7 496.3,259.7 496.9,259.7 497.5,259.7 498.1,259.7 498.7,259.7 499.3,259.6 499.9,259.6 500.4,259.6 501.0,259.6 501.6,259.6 502.2,259.6 502.8,259.6 503.4,259.6 504.0,259.6 504.6,259.6 505.1,259.5 505.7,259.5 506.3,259.5 506.9,259.5 507.5,259.5 508.1,259.5 508.7,259.5 509.2,259.4 509.8,259.4 510.4,259.4 511.0,259.4 511.6,259.4 512.2,259.3 512.8,259.3 513.4,259.3 513.9,259.2 514.5,259.2 515.1,259.2 515.7,259.2 516.3,259.1 516.9,259.1 517.5,259.0 518.0,259.0 518.6,258.9 519.2,258.9 519.8,258.8 520.4,258.8 521.0,258.7 521.6,258.7 522.2,258.6 522.7,258.5 523.3,258.4 523.9,258.3 524.5,258.2 525.1,258.1 525.7,258.0 526.3,257.9 526.8,257.8 527.4,257.7 528.0,257.5 528.6,257.3 529.2,257.2 529.8,257.0 530.4,256.8 531.0,256.5 531.5,256.3 532.1,256.0 532.7,255.7 533.3,255.4 533.9,255.0 534.5,254.6 535.1,254.1 535.6,253.6 536.2,253.0 536.8,252.4 537.4,251.7 538.0,250.9 538.6,250.0 539.2,249.0 539.7,247.9 540.3,246.5 540.9,245.0 541.5,243.3 542.1,241.4 542.7,239.1 543.3,236.4 543.9,233.3 544.4,229.7 545.0,225.3 545.6,220.2 546.2,214.0 546.3,212.6 546.4,211.2 546.6,209.6 546.7,208.1 546.8,206.4 546.9,204.7 547.0,203.0 547.1,201.1 547.3,199.2 547.4,197.1 547.5,195.0 547.6,192.8 547.7,190.5 547.8,188.1 548.0,185.5 548.1,182.8 548.2,180.0 548.3,177.1 548.4,174.0 548.5,170.7 548.7,167.2 548.8,163.5 548.9,159.7 549.0,155.6 549.1,151.2 549.3,146.6 549.4,141.7 549.5,136.5 549.6,130.9 549.7,125.0 549.8,118.6 550.0,111.7 550.1,104.4 550.2,96.4 550.3,87.8 550.4,78.4 550.5,68.3 550.7,57.2 550.8,46.9 550.9,46.9 551.0,46.9 551.1,46.9 551.2,46.9 551.4,46.9 551.5,46.9 551.6,46.9 551.7,46.9 551.8,46.9 552.0,46.9 552.1,46.9 552.2,46.9 552.3,46.9 552.4,46.9 552.5,46.9 552.7,46.9 552.8,46.9 552.9,46.9 553.0,46.9 553.1,46.9 553.2,46.9 553.4,46.9 553.5,46.9 553.6,46.9 553.7,46.9 553.8,46.9 553.9,46.9 554.1,46.9 554.2,46.9 554.3,46.9 554.4,46.9 554.5,46.9 554.6,46.9 554.8,46.9 554.9,46.9 555.0,46.9 555.1,46.9 555.2,46.9 555.4,46.9 555.5,46.9 555.6,46.9 555.7,46.9 555.8,57.2 555.9,68.3 556.1,78.4 556.2,87.8 556.3,96.4 556.4,104.4 556.5,111.7 556.6,118.6 556.8,125.0 556.9,130.9 557.0,136.5 557.1,141.7 557.2,146.6 557.3,151.2 557.5,155.6 557.6,159.7 557.7,163.6 557.8,167.2 557.9,170.7 558.1,174.0 558.2,177.1 558.3,180.0 558.4,182.8 558.5,185.5 558.6,188.1 558.8,190.5 558.9,192.8 559.0,195.0 559.1,197.2 559.2,199.2 559.3,201.1 559.5,203.0 559.6,204.7 559.7,206.5 559.8,208.1 559.9,209.7 560.0,211.2 560.2,212.6 560.3,214.0 560.9,220.2 561.5,225.4 562.0,229.7 562.6,233.3 563.2,236.4 563.8,239.1" fill="none" stroke="#e81c1c" stroke-width="1.5" clip-path="url(#f3b)"/>
<polyline points="401.9,117.9 402.5,117.9 403.1,117.9 403.7,117.9 404.2,117.9 404.8,117.9 405.4,117.9 406.0,117.9 406.6,117.9 407.2,117.9 407.8,117.9 408.4,117.9 408.9,117.9 409.5,117.9 410.1,117.9 410.7,117.9 411.3,117.9 411.9,117.9 412.5,117.9 413.0,117.9 413.6,117.9 414.2,117.9 414.8,117.9 415.4,117.9 416.0,117.9 416.6,117.9 417.2,117.9 417.7,117.9 418.3,117.9 418.9,117.9 419.5,117.9 420.1,117.9 420.7,117.9 421.3,117.9 421.8,117.9 422.4,117.9 423.0,117.9 423.6,117.9 424.2,117.9 424.8,117.9 425.4,117.9 426.0,117.9 426.5,117.9 427.1,117.9 427.7,117.9 428.3,117.9 428.9,117.9 429.5,117.9 430.1,117.9 430.6,117.9 431.2,117.9 431.8,117.9 432.4,117.9 433.0,117.9 433.6,117.9 434.2,117.9 434.7,117.9 435.3,117.9 435.9,117.9 436.5,117.9 437.1,117.9 437.7,117.9 438.3,117.9 438.9,117.9 439.4,117.9 440.0,117.9 440.6,117.9 441.2,117.9 441.8,117.9 442.4,117.9 443.0,117.9 443.5,117.9 444.1,117.9 444.7,117.9 445.3,117.9 445.9,117.9 446.5,117.9 447.1,117.8 447.7,117.8 448.2,117.8 448.8,117.8 449.4,117.8 450.0,117.8 450.6,117.7 451.2,117.7 451.8,117.7 452.3,117.6 452.9,117.6 453.5,117.6 454.1,117.5 454.7,117.5 455.3,117.4 455.9,117.4 456.5,117.3 457.0,117.3 457.6,117.2 458.2,117.2 458.8,117.1 459.4,117.1 460.0,117.1 460.6,117.1 461.1,117.1 461.7,117.2 462.3,117.3 462.9,117.4 463.5,117.6 464.1,118.0 464.7,118.4 465.3,118.9 465.8,119.7 466.4,120.6 467.0,121.8 467.6,123.4 468.2,125.3 468.8,127.6 469.4,130.2 469.9,133.2 470.5,136.5 471.1,140.3 471.7,144.4 472.3,149.0 472.9,154.1 473.5,159.7 474.1,165.9 474.6,172.6 475.2,179.7 475.8,187.4 476.4,195.4 477.0,203.6 477.6,211.9 478.2,220.2 478.7,228.2 479.3,235.8 479.9,242.6 480.5,248.6 481.1,253.4 481.7,257.0 482.3,259.3 482.8,260.0 483.4,259.3 484.0,257.0 484.6,253.4 485.2,248.6 485.8,242.6 486.4,235.8 487.0,228.2 487.5,220.2 488.1,211.9 488.7,203.6 489.3,195.4 489.9,187.4 490.5,179.7 491.1,172.6 491.6,165.9 492.2,159.7 492.8,154.1 493.4,149.0 494.0,144.4 494.6,140.3 495.2,136.5 495.8,133.2 496.3,130.2 496.9,127.6 497.5,125.3 498.1,123.4 498.7,121.8 499.3,120.6 499.9,119.7 500.4,118.9 501.0,118.4 501.6,118.0 502.2,117.6 502.8,117.4 503.4,117.3 504.0,117.2 504.6,117.1 505.1,117.1 505.7,117.1 506.3,117.1 506.9,117.1 507.5,117.2 508.1,117.2 508.7,117.3 509.2,117.3 509.8,117.4 510.4,117.4 511.0,117.5 511.6,117.5 512.2,117.6 512.8,117.6 513.4,117.6 513.9,117.7 514.5,117.7 515.1,117.7 515.7,117.8 516.3,117.8 516.9,117.8 517.5,117.8 518.0,117.8 518.6,117.8 519.2,117.9 519.8,117.9 520.4,117.9 521.0,117.9 521.6,117.9 522.2,117.9 522.7,117.9 523.3,117.9 523.9,117.9 524.5,117.9 525.1,117.9 525.7,117.9 526.3,117.9 526.8,117.9 527.4,117.9 528.0,117.9 528.6,117.9 529.2,117.9 529.8,117.9 530.4,117.9 531.0,117.9 531.5,117.9 532.1,117.9 532.7,117.9 533.3,117.9 533.9,117.9 534.5,117.9 535.1,117.9 535.6,117.9 536.2,117.9 536.8,117.9 537.4,117.9 538.0,117.9 538.6,117.9 539.2,117.9 539.7,117.9 540.3,117.9 540.9,117.9 541.5,117.9 542.1,117.9 542.7,117.9 543.3,117.9 543.9,117.9 544.4,117.9 545.0,117.9 545.6,117.9 546.2,117.9 546.8,117.9 547.4,117.9 548.0,117.9 548.5,117.9 549.1,117.9 549.7,117.9 550.3,117.9 550.9,117.9 551.5,117.9 552.1,117.9 552.7,117.9 553.2,117.9 553.8,117.9 554.4,117.9 555.0,117.9 555.6,117.9 556.2,117.9 556.8,117.9 557.3,117.9 557.9,117.9 558.5,117.9 559.1,117.9 559.7,117.9 560.3,117.9 560.9,117.9 561.5,117.9 562.0,117.9 562.6,117.9 563.2,117.9 563.8,117.9" fill="none" stroke="#1f1fd0" stroke-width="1.6" clip-path="url(#f3b)"/>
<path d="M412.5 260.0V217.4M409.3 223.4L412.5 217.4L415.7 223.4" stroke="#0a6e1a" stroke-width="1.0" fill="none"/>
<path d="M553.2 260.0V217.4M550.0 223.4L553.2 217.4L556.4 223.4" stroke="#0a6e1a" stroke-width="1.0" fill="none"/>
<rect x="401.9" y="100.3" width="161.9" height="159.7" fill="none" stroke="#3a3a3a" stroke-width="1.25"/>
<text x="412.5" y="275.0" font-size="13.5" text-anchor="middle">-60</text>
<text x="447.7" y="275.0" font-size="13.5" text-anchor="middle">-30</text>
<text x="482.8" y="275.0" font-size="13.5" text-anchor="middle">0</text>
<text x="518.0" y="275.0" font-size="13.5" text-anchor="middle">30</text>
<text x="553.2" y="275.0" font-size="13.5" text-anchor="middle">60</text>
<text x="561.3" y="96.5" font-size="13.5" text-anchor="end" font-weight="bold">(b)</text>
<text x="461.9" y="96.5" font-size="13.5" text-anchor="start" >d=10</text>
<text x="482.8" y="291.5" font-size="13.5" text-anchor="middle" font-style="italic">x</text>
<clipPath id="f3c"><rect x="574.3" y="100.3" width="156.2" height="159.7"/></clipPath>
<line x1="652.4" x2="652.4" y1="100.3" y2="260.0" stroke="#bbb" stroke-width=".6" stroke-dasharray="1 1.5"/>
<path d="M574.3 224.5h10M730.5 224.5h-10M574.3 189.0h10M730.5 189.0h-10M574.3 153.4h10M730.5 153.4h-10" stroke="#3a3a3a" stroke-width="1.00" fill="none"/>
<path d="M584.5 260.0v-9M618.4 260.0v-9M652.4 260.0v-9M686.4 260.0v-9M720.3 260.0v-9" stroke="#3a3a3a" stroke-width="1.00" fill="none"/>
<polyline points="574.3,214.9 574.9,211.2 575.4,207.1 576.0,202.5 576.6,197.1 577.1,191.0 577.7,183.7 577.8,182.1 577.9,180.5 578.0,178.8 578.1,177.0 578.3,175.2 578.4,173.3 578.5,171.3 578.6,169.2 578.7,167.1 578.8,164.9 578.9,162.6 579.1,160.2 579.2,157.7 579.3,155.0 579.4,152.3 579.5,149.5 579.6,146.5 579.7,143.3 579.8,140.0 580.0,136.6 580.1,132.9 580.2,129.1 580.3,125.1 580.4,120.8 580.5,116.3 580.6,111.5 580.8,106.5 580.9,101.1 581.0,95.4 581.1,89.3 581.2,82.7 581.3,75.8 581.4,68.2 581.5,60.2 581.7,51.4 581.8,46.9 581.9,46.9 582.0,46.9 582.1,46.9 582.2,46.9 582.3,46.9 582.4,46.9 582.6,46.9 582.7,46.9 582.8,46.9 582.9,46.9 583.0,46.9 583.1,46.9 583.2,46.9 583.4,46.9 583.5,46.9 583.6,46.9 583.7,46.9 583.8,46.9 583.9,46.9 584.0,46.9 584.1,46.9 584.3,46.9 584.4,46.9 584.5,46.9 584.6,46.9 584.7,46.9 584.8,46.9 584.9,46.9 585.1,46.9 585.2,46.9 585.3,46.9 585.4,46.9 585.5,46.9 585.6,46.9 585.7,46.9 585.8,46.9 586.0,46.9 586.1,46.9 586.2,46.9 586.3,46.9 586.4,46.9 586.5,46.9 586.6,46.9 586.8,46.9 586.9,46.9 587.0,46.9 587.1,46.9 587.2,46.9 587.3,51.4 587.4,60.1 587.5,68.2 587.7,75.7 587.8,82.7 587.9,89.3 588.0,95.4 588.1,101.1 588.2,106.5 588.3,111.5 588.4,116.3 588.6,120.8 588.7,125.0 588.8,129.1 588.9,132.9 589.0,136.5 589.1,140.0 589.2,143.3 589.4,146.4 589.5,149.4 589.6,152.3 589.7,155.0 589.8,157.6 589.9,160.1 590.0,162.6 590.1,164.9 590.3,167.1 590.4,169.2 590.5,171.3 590.6,173.2 590.7,175.1 590.8,177.0 590.9,178.7 591.1,180.4 591.2,182.1 591.3,183.7 591.8,190.9 592.4,197.1 593.0,202.4 593.5,207.1 594.1,211.2 594.7,214.8 595.2,218.1 595.8,221.0 596.4,223.6 596.9,225.9 597.5,228.1 598.1,230.0 598.6,231.8 599.2,233.5 599.8,235.0 600.3,236.4 600.9,237.7 601.5,238.8 602.0,240.0 602.6,241.0 603.2,241.9 603.7,242.8 604.3,243.7 604.9,244.4 605.4,245.2 606.0,245.9 606.6,246.5 607.1,247.1 607.7,247.7 608.3,248.2 608.8,248.7 609.4,249.2 610.0,249.6 610.5,250.1 611.1,250.5 611.7,250.8 612.2,251.2 612.8,251.5 613.3,251.9 613.9,252.2 614.5,252.5 615.0,252.7 615.6,253.0 616.2,253.2 616.7,253.5 617.3,253.7 617.9,253.9 618.4,254.1 619.0,254.3 619.6,254.5 620.1,254.7 620.7,254.9 621.3,255.0 621.8,255.2 622.4,255.3 623.0,255.4 623.5,255.6 624.1,255.7 624.7,255.8 625.2,255.9 625.8,256.1 626.4,256.2 626.9,256.3 627.5,256.4 628.1,256.5 628.6,256.5 629.2,256.6 629.8,256.7 630.3,256.8 630.9,256.9 631.5,256.9 632.0,257.0 632.6,257.1 633.2,257.1 633.7,257.2 634.3,257.2 634.9,257.3 635.4,257.3 636.0,257.4 636.6,257.4 637.1,257.5 637.7,257.5 638.3,257.6 638.8,257.6 639.4,257.6 639.9,257.7 640.5,257.7 641.1,257.7 641.6,257.8 642.2,257.8 642.8,257.8 643.3,257.8 643.9,257.8 644.5,257.9 645.0,257.9 645.6,257.9 646.2,257.9 646.7,257.9 647.3,257.9 647.9,258.0 648.4,258.0 649.0,258.0 649.6,258.0 650.1,258.0 650.7,258.0 651.3,258.0 651.8,258.0 652.4,258.0 653.0,258.0 653.5,258.0 654.1,258.0 654.7,258.0 655.2,258.0 655.8,258.0 656.4,258.0 656.9,258.0 657.5,257.9 658.1,257.9 658.6,257.9 659.2,257.9 659.8,257.9 660.3,257.9 660.9,257.8 661.5,257.8 662.0,257.8 662.6,257.8 663.2,257.8 663.7,257.7 664.3,257.7 664.9,257.7 665.4,257.6 666.0,257.6 666.5,257.6 667.1,257.5 667.7,257.5 668.2,257.4 668.8,257.4 669.4,257.3 669.9,257.3 670.5,257.2 671.1,257.2 671.6,257.1 672.2,257.1 672.8,257.0 673.3,256.9 673.9,256.9 674.5,256.8 675.0,256.7 675.6,256.6 676.2,256.5 676.7,256.5 677.3,256.4 677.9,256.3 678.4,256.2 679.0,256.1 679.6,255.9 680.1,255.8 680.7,255.7 681.3,255.6 681.8,255.4 682.4,255.3 683.0,255.2 683.5,255.0 684.1,254.9 684.7,254.7 685.2,254.5 685.8,254.3 686.4,254.1 686.9,253.9 687.5,253.7 688.1,253.5 688.6,253.2 689.2,253.0 689.8,252.7 690.3,252.5 690.9,252.2 691.5,251.9 692.0,251.5 692.6,251.2 693.1,250.8 693.7,250.5 694.3,250.1 694.8,249.6 695.4,249.2 696.0,248.7 696.5,248.2 697.1,247.7 697.7,247.1 698.2,246.5 698.8,245.9 699.4,245.2 699.9,244.4 700.5,243.7 701.1,242.8 701.6,241.9 702.2,241.0 702.8,240.0 703.3,238.8 703.9,237.7 704.5,236.4 705.0,235.0 705.6,233.5 706.2,231.8 706.7,230.0 707.3,228.1 707.9,225.9 708.4,223.6 709.0,221.0 709.6,218.1 710.1,214.8 710.7,211.2 711.3,207.1 711.8,202.4 712.4,197.1 713.0,190.9 713.5,183.7 713.6,182.1 713.7,180.4 713.9,178.7 714.0,177.0 714.1,175.1 714.2,173.2 714.3,171.3 714.4,169.2 714.5,167.1 714.7,164.9 714.8,162.6 714.9,160.1 715.0,157.6 715.1,155.0 715.2,152.3 715.3,149.4 715.4,146.4 715.6,143.3 715.7,140.0 715.8,136.5 715.9,132.9 716.0,129.1 716.1,125.0 716.2,120.8 716.4,116.3 716.5,111.5 716.6,106.5 716.7,101.1 716.8,95.4 716.9,89.3 717.0,82.7 717.1,75.7 717.3,68.2 717.4,60.1 717.5,51.4 717.6,46.9 717.7,46.9 717.8,46.9 717.9,46.9 718.0,46.9 718.2,46.9 718.3,46.9 718.4,46.9 718.5,46.9 718.6,46.9 718.7,46.9 718.8,46.9 719.0,46.9 719.1,46.9 719.2,46.9 719.3,46.9 719.4,46.9 719.5,46.9 719.6,46.9 719.7,46.9 719.9,46.9 720.0,46.9 720.1,46.9 720.2,46.9 720.3,46.9 720.4,46.9 720.5,46.9 720.7,46.9 720.8,46.9 720.9,46.9 721.0,46.9 721.1,46.9 721.2,46.9 721.3,46.9 721.4,46.9 721.6,46.9 721.7,46.9 721.8,46.9 721.9,46.9 722.0,46.9 722.1,46.9 722.2,46.9 722.4,46.9 722.5,46.9 722.6,46.9 722.7,46.9 722.8,46.9 722.9,46.9 723.0,46.9 723.1,51.4 723.3,60.2 723.4,68.2 723.5,75.8 723.6,82.7 723.7,89.3 723.8,95.4 723.9,101.1 724.0,106.5 724.2,111.5 724.3,116.3 724.4,120.8 724.5,125.1 724.6,129.1 724.7,132.9 724.8,136.6 725.0,140.0 725.1,143.3 725.2,146.5 725.3,149.5 725.4,152.3 725.5,155.0 725.6,157.7 725.7,160.2 725.9,162.6 726.0,164.9 726.1,167.1 726.2,169.2 726.3,171.3 726.4,173.3 726.5,175.2 726.7,177.0 726.8,178.8 726.9,180.5 727.0,182.1 727.1,183.7 727.7,191.0 728.2,197.1 728.8,202.5 729.4,207.1 729.9,211.2 730.5,214.9" fill="none" stroke="#e81c1c" stroke-width="1.5" clip-path="url(#f3c)"/>
<polyline points="574.3,117.9 574.9,117.9 575.4,117.9 576.0,117.9 576.6,117.9 577.1,117.9 577.7,117.9 578.3,117.9 578.8,117.9 579.4,117.9 580.0,117.9 580.5,117.9 581.1,117.9 581.7,117.9 582.2,117.9 582.8,117.9 583.4,117.9 583.9,117.9 584.5,117.9 585.1,117.9 585.6,117.9 586.2,117.9 586.8,117.9 587.3,117.9 587.9,117.9 588.4,117.9 589.0,117.9 589.6,117.9 590.1,117.9 590.7,117.9 591.3,117.9 591.8,117.9 592.4,117.9 593.0,117.9 593.5,117.9 594.1,117.9 594.7,117.9 595.2,117.9 595.8,117.9 596.4,117.9 596.9,117.9 597.5,117.9 598.1,117.9 598.6,117.9 599.2,117.9 599.8,117.9 600.3,117.9 600.9,117.9 601.5,117.9 602.0,117.9 602.6,117.9 603.2,117.9 603.7,117.9 604.3,117.9 604.9,117.9 605.4,117.9 606.0,117.9 606.6,117.9 607.1,117.9 607.7,117.9 608.3,117.9 608.8,117.9 609.4,117.9 610.0,117.9 610.5,117.9 611.1,117.9 611.7,117.9 612.2,117.9 612.8,117.9 613.3,117.9 613.9,117.9 614.5,117.9 615.0,117.8 615.6,117.8 616.2,117.8 616.7,117.8 617.3,117.8 617.9,117.7 618.4,117.7 619.0,117.7 619.6,117.6 620.1,117.6 620.7,117.5 621.3,117.5 621.8,117.4 622.4,117.3 623.0,117.2 623.5,117.1 624.1,117.0 624.7,116.9 625.2,116.8 625.8,116.6 626.4,116.5 626.9,116.3 627.5,116.1 628.1,115.9 628.6,115.6 629.2,115.4 629.8,115.1 630.3,114.8 630.9,114.6 631.5,114.3 632.0,114.0 632.6,113.7 633.2,113.4 633.7,113.2 634.3,113.0 634.9,112.9 635.4,112.8 636.0,112.8 636.6,113.0 637.1,113.5 637.7,114.4 638.3,115.6 638.8,117.2 639.4,119.0 639.9,121.1 640.5,123.5 641.1,126.1 641.6,129.0 642.2,132.3 642.8,136.1 643.3,140.5 643.9,145.6 644.5,151.4 645.0,158.0 645.6,165.6 646.2,173.9 646.7,183.1 647.3,193.0 647.9,203.2 648.4,213.7 649.0,224.0 649.6,233.7 650.1,242.5 650.7,249.8 651.3,255.4 651.8,258.8 652.4,260.0 653.0,258.8 653.5,255.4 654.1,249.8 654.7,242.5 655.2,233.7 655.8,224.0 656.4,213.7 656.9,203.2 657.5,193.0 658.1,183.1 658.6,173.9 659.2,165.6 659.8,158.0 660.3,151.4 660.9,145.6 661.5,140.5 662.0,136.1 662.6,132.3 663.2,129.0 663.7,126.1 664.3,123.5 664.9,121.1 665.4,119.0 666.0,117.2 666.5,115.6 667.1,114.4 667.7,113.5 668.2,113.0 668.8,112.8 669.4,112.8 669.9,112.9 670.5,113.0 671.1,113.2 671.6,113.4 672.2,113.7 672.8,114.0 673.3,114.3 673.9,114.6 674.5,114.8 675.0,115.1 675.6,115.4 676.2,115.6 676.7,115.9 677.3,116.1 677.9,116.3 678.4,116.5 679.0,116.6 679.6,116.8 680.1,116.9 680.7,117.0 681.3,117.1 681.8,117.2 682.4,117.3 683.0,117.4 683.5,117.5 684.1,117.5 684.7,117.6 685.2,117.6 685.8,117.7 686.4,117.7 686.9,117.7 687.5,117.8 688.1,117.8 688.6,117.8 689.2,117.8 689.8,117.8 690.3,117.9 690.9,117.9 691.5,117.9 692.0,117.9 692.6,117.9 693.1,117.9 693.7,117.9 694.3,117.9 694.8,117.9 695.4,117.9 696.0,117.9 696.5,117.9 697.1,117.9 697.7,117.9 698.2,117.9 698.8,117.9 699.4,117.9 699.9,117.9 700.5,117.9 701.1,117.9 701.6,117.9 702.2,117.9 702.8,117.9 703.3,117.9 703.9,117.9 704.5,117.9 705.0,117.9 705.6,117.9 706.2,117.9 706.7,117.9 707.3,117.9 707.9,117.9 708.4,117.9 709.0,117.9 709.6,117.9 710.1,117.9 710.7,117.9 711.3,117.9 711.8,117.9 712.4,117.9 713.0,117.9 713.5,117.9 714.1,117.9 714.7,117.9 715.2,117.9 715.8,117.9 716.4,117.9 716.9,117.9 717.5,117.9 718.0,117.9 718.6,117.9 719.2,117.9 719.7,117.9 720.3,117.9 720.9,117.9 721.4,117.9 722.0,117.9 722.6,117.9 723.1,117.9 723.7,117.9 724.3,117.9 724.8,117.9 725.4,117.9 726.0,117.9 726.5,117.9 727.1,117.9 727.7,117.9 728.2,117.9 728.8,117.9 729.4,117.9 729.9,117.9 730.5,117.9" fill="none" stroke="#1f1fd0" stroke-width="1.6" clip-path="url(#f3c)"/>
<path d="M584.5 260.0V132.8M581.3 138.8L584.5 132.8L587.7 138.8" stroke="#0a6e1a" stroke-width="1.0" fill="none"/>
<path d="M720.3 260.0V132.8M717.1 138.8L720.3 132.8L723.5 138.8" stroke="#0a6e1a" stroke-width="1.0" fill="none"/>
<rect x="574.3" y="100.3" width="156.2" height="159.7" fill="none" stroke="#3a3a3a" stroke-width="1.25"/>
<text x="584.5" y="275.0" font-size="13.5" text-anchor="middle">-60</text>
<text x="618.4" y="275.0" font-size="13.5" text-anchor="middle">-30</text>
<text x="652.4" y="275.0" font-size="13.5" text-anchor="middle">0</text>
<text x="686.4" y="275.0" font-size="13.5" text-anchor="middle">30</text>
<text x="720.3" y="275.0" font-size="13.5" text-anchor="middle">60</text>
<text x="728.0" y="96.5" font-size="13.5" text-anchor="end" font-weight="bold">(c)</text>
<text x="632.3" y="96.5" font-size="13.5" text-anchor="start" >d=30</text>
<text x="652.4" y="291.5" font-size="13.5" text-anchor="middle" font-style="italic">x</text>
<text x="352.7" y="198.5" font-size="15" text-anchor="end" >V<tspan font-size="11" dy="3.5">XX</tspan></text>
<line x1="360.5" x2="372.6" y1="196" y2="196" stroke="#e81c1c" stroke-width="1.3"/>
<text x="352.7" y="218.5" font-size="15" text-anchor="end" >|ψ|<tspan font-size="10" dy="-5.5">2</tspan></text>
<line x1="360.5" x2="372.6" y1="213.6" y2="213.6" stroke="#1f1fd0" stroke-width="1.4"/>
<clipPath id="f4a"><rect x="137.5" y="786.0" width="151.6" height="220.4"/></clipPath>
<line x1="137.5" x2="289.1" y1="932.9" y2="932.9" stroke="#222" stroke-width="1.3" stroke-dasharray="6 5"/>
<polyline points="165.2,1009.3 165.3,1007.4 165.4,1005.4 165.5,1003.5 165.6,1001.5 165.7,999.6 165.7,997.6 165.8,995.7 165.9,993.7 166.0,991.8 166.1,989.8 166.2,987.9 166.3,985.9 166.3,984.0 166.4,982.1 166.5,980.1 166.6,978.2 166.7,976.2 166.8,974.3 166.9,972.3 167.0,970.4 167.1,968.4 167.2,966.5 167.2,964.5 167.3,962.6 167.4,960.6 167.5,958.7 167.6,956.7 167.7,954.8 167.8,952.8 167.9,950.9 168.0,948.9 168.0,947.0 168.1,945.0 168.2,943.1 168.3,941.1 168.4,939.2 168.6,937.2 168.7,935.3 168.8,933.3 168.9,931.4 169.0,929.4 169.1,927.5 169.3,925.5 169.4,923.6 169.5,921.6 169.6,919.7 169.8,917.7 169.9,915.8 170.0,913.8 170.2,911.8 170.4,909.9 170.5,907.9 170.7,906.0 170.9,904.1 171.1,902.1 171.4,900.2 171.6,898.3 171.9,896.4 172.2,894.4 172.6,892.0 173.1,889.5 173.7,887.2 174.4,885.3 175.1,884.1 175.9,883.8 177.1,884.7 178.5,886.4 179.9,888.4 181.0,890.1 181.9,891.8 182.8,893.5 183.5,895.2 184.2,897.1 184.9,898.9 185.6,900.8 186.2,902.7 186.8,904.5 187.5,906.4 188.2,908.3 188.9,910.1 189.7,911.9 190.4,913.7 191.2,915.6 191.9,917.4 192.7,919.3 193.4,921.1 194.2,922.9 195.1,924.7 196.0,926.3 197.0,927.9 198.1,929.4 199.3,931.1 200.7,932.7 202.2,934.2 203.8,935.4 205.4,936.2 207.1,936.4 209.0,936.6 210.9,936.8 212.9,936.9 215.0,937.0 217.0,937.1 219.0,937.1 220.9,937.1 222.9,937.0 224.8,936.9 226.7,936.8 228.7,936.6 230.6,936.4 232.6,936.3 234.5,936.1 236.5,935.9 238.4,935.7 240.4,935.5 242.3,935.3 244.3,935.2 246.2,935.1 248.1,935.0 250.1,934.9 252.0,934.9 254.0,934.8 255.9,934.8 257.9,934.7 259.8,934.6 261.8,934.6 263.7,934.5 265.7,934.5 267.6,934.4 269.6,934.4 271.5,934.4 273.5,934.3 275.4,934.3 277.4,934.3 279.3,934.2 281.3,934.2 283.2,934.2 285.2,934.2 287.2,934.2 289.1,934.2" fill="none" stroke="#3ddcea" stroke-width="1.1" clip-path="url(#f4a)"/>
<polyline points="163.1,1009.3 163.2,1007.0 163.3,1004.6 163.3,1002.2 163.4,999.9 163.5,997.5 163.6,995.1 163.6,992.7 163.7,990.4 163.8,988.0 163.9,985.6 163.9,983.3 164.0,980.9 164.1,978.5 164.2,976.2 164.3,973.8 164.3,971.4 164.4,969.1 164.5,966.7 164.6,964.3 164.7,962.0 164.8,959.6 164.9,957.2 165.0,954.8 165.1,952.5 165.2,950.1 165.3,947.7 165.4,945.4 165.5,943.0 165.6,940.6 165.7,938.3 165.8,935.9 165.9,933.5 166.0,931.2 166.1,928.8 166.2,926.4 166.3,924.1 166.4,921.7 166.5,919.3 166.7,917.0 166.8,914.6 166.9,912.2 167.0,909.9 167.2,907.5 167.3,905.1 167.4,902.8 167.6,900.4 167.7,898.0 167.8,895.6 168.0,893.3 168.1,890.9 168.2,888.5 168.4,886.1 168.5,883.8 168.7,881.4 168.9,879.0 169.1,876.7 169.3,874.3 169.5,872.0 169.7,869.6 170.0,867.3 170.2,864.9 170.5,862.4 170.9,859.4 171.3,856.4 171.8,853.6 172.4,851.3 173.2,850.0 174.2,850.0 176.2,851.7 177.8,853.7 178.9,855.8 179.9,858.0 180.8,860.2 181.6,862.4 182.4,864.7 183.2,866.9 184.0,869.1 184.7,871.4 185.4,873.7 186.1,875.9 186.8,878.2 187.6,880.5 188.3,882.7 189.0,885.0 189.7,887.2 190.5,889.5 191.2,891.8 191.9,894.0 192.6,896.3 193.3,898.6 194.0,900.9 194.7,903.1 195.5,905.3 196.3,907.6 197.2,909.7 198.1,911.9 199.1,914.1 200.1,916.3 201.1,918.5 202.3,920.7 203.5,922.7 204.8,924.6 206.1,926.4 207.7,928.2 209.5,930.0 211.5,931.5 213.5,932.6 215.6,933.3 217.9,933.8 220.3,934.2 222.7,934.5 225.1,934.6 227.5,934.6 229.8,934.6 232.2,934.5 234.6,934.5 236.9,934.4 239.3,934.4 241.7,934.3 244.1,934.2 246.4,934.2 248.8,934.2 251.2,934.1 253.5,934.1 255.9,934.1 258.3,934.0 260.7,934.0 263.0,934.0 265.4,934.0 267.8,933.9 270.1,933.9 272.5,933.9 274.9,933.9 277.3,933.8 279.6,933.8 282.0,933.8 284.4,933.8 286.7,933.8 289.1,933.8" fill="none" stroke="#1a1ab4" stroke-width="1.1" clip-path="url(#f4a)"/>
<polyline points="161.9,1009.3 162.0,1006.5 162.1,1003.7 162.1,1000.9 162.2,998.1 162.3,995.3 162.4,992.5 162.5,989.7 162.6,986.9 162.7,984.0 162.8,981.2 162.9,978.4 163.0,975.6 163.1,972.8 163.2,970.0 163.3,967.2 163.4,964.4 163.5,961.6 163.6,958.8 163.7,956.0 163.8,953.1 163.9,950.3 164.0,947.5 164.1,944.7 164.2,941.9 164.3,939.1 164.4,936.3 164.5,933.5 164.6,930.7 164.7,927.9 164.8,925.1 165.0,922.2 165.1,919.4 165.2,916.6 165.3,913.8 165.4,911.0 165.5,908.2 165.7,905.4 165.8,902.6 165.9,899.8 166.0,897.0 166.2,894.2 166.3,891.4 166.4,888.5 166.5,885.7 166.6,882.9 166.7,880.1 166.9,877.3 167.0,874.5 167.1,871.7 167.2,868.8 167.3,866.0 167.5,863.2 167.6,860.4 167.7,857.6 167.9,854.8 168.0,852.0 168.2,849.2 168.4,846.4 168.6,843.6 168.8,840.8 169.0,838.0 169.2,835.2 169.5,832.4 169.8,829.2 170.1,825.5 170.5,821.9 171.0,818.6 171.6,816.0 172.3,814.4 173.2,814.3 175.0,816.7 176.6,819.6 177.6,822.1 178.5,824.8 179.3,827.5 180.0,830.3 180.8,833.0 181.5,835.7 182.2,838.4 182.9,841.1 183.6,843.9 184.3,846.6 184.9,849.3 185.6,852.1 186.2,854.8 186.9,857.6 187.6,860.3 188.2,863.0 188.9,865.7 189.7,868.4 190.4,871.2 191.1,873.9 191.8,876.6 192.5,879.4 193.3,882.1 194.0,884.8 194.8,887.5 195.6,890.2 196.5,892.8 197.4,895.5 198.3,898.1 199.3,900.8 200.3,903.5 201.4,906.2 202.6,908.8 203.8,911.3 205.2,913.7 206.7,915.9 208.4,918.1 210.3,920.3 212.5,922.4 214.7,924.2 217.0,925.8 219.3,927.0 221.9,928.0 224.5,928.9 227.3,929.7 230.1,930.4 232.9,930.9 235.7,931.3 238.5,931.5 241.3,931.8 244.1,932.0 246.9,932.1 249.7,932.3 252.6,932.4 255.4,932.5 258.2,932.5 261.0,932.6 263.8,932.6 266.6,932.7 269.4,932.7 272.2,932.8 275.0,932.8 277.9,932.9 280.7,932.9 283.5,932.9 286.3,932.9 289.1,932.9" fill="none" stroke="#9a4fe0" stroke-width="1.1" clip-path="url(#f4a)"/>
<rect x="137.5" y="786.0" width="151.6" height="220.4" fill="none" stroke="#3a3a3a" stroke-width="1.25"/>
<path d="M137.5 1006.4v-5M137.5 786.0v5M188.0 1006.4v-5M188.0 786.0v5M238.6 1006.4v-5M238.6 786.0v5M289.1 1006.4v-5M289.1 786.0v5" stroke="#3a3a3a" stroke-width="1.00" fill="none"/>
<path d="M162.8 1006.4v-2.5M162.8 786.0v2.5M213.3 1006.4v-2.5M213.3 786.0v2.5M263.8 1006.4v-2.5M263.8 786.0v2.5" stroke="#3a3a3a" stroke-width="1.00" fill="none"/>
<path d="M137.5 969.7h5M289.1 969.7h-5M137.5 932.9h5M289.1 932.9h-5M137.5 896.2h5M289.1 896.2h-5M137.5 859.5h5M289.1 859.5h-5M137.5 822.7h5M289.1 822.7h-5" stroke="#3a3a3a" stroke-width="1.00" fill="none"/>
<text x="137.5" y="1024.4" font-size="13" text-anchor="middle">0</text>
<text x="188.0" y="1024.4" font-size="13" text-anchor="middle">20</text>
<text x="238.6" y="1024.4" font-size="13" text-anchor="middle">40</text>
<text x="130.5" y="974.0" font-size="13" text-anchor="end">0.99</text>
<text x="130.5" y="937.2" font-size="13" text-anchor="end">1</text>
<text x="130.5" y="900.5" font-size="13" text-anchor="end">1.01</text>
<text x="130.5" y="863.8" font-size="13" text-anchor="end">1.02</text>
<text x="130.5" y="827.0" font-size="13" text-anchor="end">1.03</text>
<text x="232.4" y="959.0" font-size="13" text-anchor="end" >d=15</text>
<line x1="239.6" x2="274" y1="954.7" y2="954.7" stroke="#3ddcea" stroke-width="1.2"/>
<text x="232.4" y="978.8" font-size="13" text-anchor="end" >d=20</text>
<line x1="239.6" x2="274" y1="974.5" y2="974.5" stroke="#1a1ab4" stroke-width="1.2"/>
<text x="232.4" y="998.1" font-size="13" text-anchor="end" >d=30</text>
<line x1="239.6" x2="274" y1="993.8" y2="993.8" stroke="#9a4fe0" stroke-width="1.2"/>
<text x="286.6" y="798.8" font-size="13" text-anchor="end" font-weight="bold">(a)</text>
<clipPath id="f4b"><rect x="293.7" y="786.0" width="151.2" height="220.4"/></clipPath>
<line x1="293.7" x2="444.9" y1="932.9" y2="932.9" stroke="#222" stroke-width="1.3" stroke-dasharray="6 5"/>
<polyline points="311.8,1009.3 311.8,1007.8 311.9,1006.3 311.9,1004.8 312.0,1003.3 312.0,1001.8 312.1,1000.3 312.1,998.8 312.2,997.3 312.2,995.7 312.3,994.2 312.3,992.7 312.4,991.2 312.5,989.7 312.5,988.2 312.6,986.7 312.7,985.2 312.7,983.7 312.8,982.2 312.8,980.7 312.9,979.2 313.0,977.6 313.0,976.1 313.1,974.6 313.2,973.1 313.3,971.6 313.3,970.1 313.4,968.6 313.5,967.1 313.5,965.6 313.6,964.1 313.7,962.6 313.8,961.0 313.8,959.5 313.9,958.0 314.0,956.5 314.0,955.0 314.1,953.5 314.2,952.0 314.3,950.5 314.3,949.0 314.4,947.5 314.5,945.9 314.6,944.4 314.7,942.9 314.8,941.4 314.9,939.9 315.0,938.4 315.1,936.9 315.2,935.4 315.4,933.9 315.5,932.4 315.6,930.9 315.8,929.2 315.9,927.3 316.1,925.4 316.2,923.4 316.4,921.4 316.6,919.5 316.8,917.8 317.1,916.2 317.4,914.8 317.7,913.8 318.0,913.1 318.4,912.8 319.1,913.3 320.2,914.7 321.1,916.2 321.6,917.5 322.2,919.0 322.6,920.4 323.1,921.9 323.6,923.3 324.1,924.8 324.6,926.3 325.0,927.9 325.5,929.4 326.0,930.9 326.6,932.4 327.2,933.7 327.9,934.9 328.6,935.9 329.6,936.9 330.7,937.8 332.1,938.7 333.5,939.6 335.0,940.2 336.5,940.7 338.0,940.9 339.4,940.9 340.9,940.8 342.4,940.6 343.9,940.4 345.4,940.1 346.9,939.8 348.4,939.5 349.9,939.3 351.5,939.0 353.0,938.8 354.5,938.6 355.9,938.4 357.4,938.2 358.9,938.0 360.4,937.8 361.9,937.5 363.4,937.3 364.9,937.2 366.4,937.0 367.9,936.8 369.4,936.6 370.9,936.5 372.4,936.4 373.9,936.3 375.5,936.2 377.0,936.1 378.5,936.0 380.0,935.9 381.5,935.8 383.0,935.7 384.5,935.7 386.0,935.6 387.5,935.5 389.0,935.4 390.5,935.3 392.0,935.3 393.5,935.2 395.0,935.1 396.5,935.0 398.0,935.0 399.5,934.9 401.0,934.8 402.5,934.8 404.1,934.7 405.6,934.6 407.1,934.6 408.6,934.5 410.1,934.4 411.6,934.4 413.1,934.3 414.6,934.3 416.1,934.2 417.6,934.2 419.1,934.1 420.7,934.1 422.2,934.1 423.7,934.0 425.2,934.0 426.7,934.0 428.2,933.9 429.7,933.9 431.2,933.9 432.8,933.8 434.3,933.8 435.8,933.8 437.3,933.8 438.8,933.8 440.3,933.8 441.8,933.8 443.4,933.8 444.9,933.8" fill="none" stroke="#3ddcea" stroke-width="1.1" clip-path="url(#f4b)"/>
<polyline points="305.1,1009.3 305.1,1007.3 305.1,1005.3 305.2,1003.3 305.2,1001.2 305.3,999.2 305.3,997.2 305.4,995.2 305.4,993.1 305.5,991.1 305.5,989.1 305.6,987.1 305.6,985.0 305.7,983.0 305.7,981.0 305.8,979.0 305.8,976.9 305.9,974.9 305.9,972.9 306.0,970.9 306.1,968.8 306.1,966.8 306.2,964.8 306.2,962.8 306.3,960.7 306.3,958.7 306.4,956.7 306.4,954.7 306.5,952.6 306.5,950.6 306.6,948.6 306.6,946.6 306.7,944.5 306.8,942.5 306.8,940.5 306.9,938.5 306.9,936.4 307.0,934.4 307.0,932.4 307.1,930.4 307.2,928.3 307.2,926.3 307.3,924.3 307.3,922.3 307.4,920.2 307.5,918.2 307.5,916.2 307.6,914.2 307.7,912.1 307.8,910.1 307.8,908.1 307.9,906.1 308.0,904.0 308.1,901.9 308.2,899.5 308.3,897.0 308.4,894.3 308.4,891.7 308.5,889.0 308.6,886.3 308.7,883.7 308.9,881.3 309.0,879.0 309.1,877.0 309.3,875.2 309.5,873.7 309.7,872.6 309.9,871.9 310.1,871.6 310.5,872.4 311.1,874.5 311.7,877.1 312.2,879.3 312.6,881.3 313.0,883.3 313.3,885.3 313.6,887.3 313.9,889.3 314.2,891.3 314.6,893.3 314.9,895.3 315.3,897.3 315.6,899.3 316.0,901.3 316.4,903.3 316.7,905.3 317.1,907.3 317.5,909.3 318.0,911.3 318.4,913.3 318.9,915.2 319.4,917.2 319.9,919.2 320.4,921.3 321.0,923.4 321.6,925.6 322.3,927.6 323.1,929.6 323.9,931.3 324.8,932.8 325.9,934.0 327.5,935.2 329.5,936.2 331.6,936.7 333.5,936.7 335.5,936.5 337.5,936.3 339.5,936.1 341.5,935.8 343.6,935.5 345.6,935.3 347.7,935.1 349.7,935.0 351.7,934.8 353.7,934.7 355.8,934.6 357.8,934.5 359.8,934.4 361.8,934.3 363.9,934.3 365.9,934.2 367.9,934.1 369.9,934.0 372.0,934.0 374.0,933.9 376.0,933.9 378.0,933.8 380.1,933.8 382.1,933.8 384.1,933.7 386.1,933.7 388.2,933.7 390.2,933.7 392.2,933.6 394.2,933.6 396.3,933.6 398.3,933.6 400.3,933.6 402.3,933.5 404.4,933.5 406.4,933.5 408.4,933.5 410.4,933.5 412.5,933.5 414.5,933.4 416.5,933.4 418.5,933.4 420.6,933.4 422.6,933.4 424.6,933.4 426.6,933.4 428.7,933.4 430.7,933.4 432.7,933.4 434.7,933.3 436.8,933.3 438.8,933.3 440.8,933.3 442.9,933.3 444.9,933.3" fill="none" stroke="#1a1ab4" stroke-width="1.1" clip-path="url(#f4b)"/>
<polyline points="298.3,1009.3 298.4,1007.1 298.4,1004.9 298.4,1002.7 298.4,1000.5 298.5,998.3 298.5,996.1 298.5,993.9 298.5,991.7 298.6,989.5 298.6,987.3 298.6,985.1 298.6,982.9 298.7,980.6 298.7,978.4 298.7,976.2 298.7,974.0 298.8,971.8 298.8,969.6 298.8,967.4 298.8,965.2 298.9,963.0 298.9,960.8 298.9,958.6 298.9,956.4 299.0,954.2 299.0,952.0 299.0,949.7 299.1,947.5 299.1,945.3 299.1,943.1 299.1,940.9 299.2,938.7 299.2,936.5 299.2,934.3 299.3,932.1 299.3,929.9 299.3,927.7 299.3,925.5 299.4,923.3 299.4,921.1 299.4,918.8 299.5,916.6 299.5,914.4 299.5,912.2 299.5,910.0 299.6,907.8 299.6,905.6 299.6,903.4 299.7,901.2 299.7,899.0 299.7,896.8 299.7,894.6 299.8,892.4 299.8,890.2 299.8,888.0 299.9,885.7 299.9,883.5 299.9,881.3 300.0,879.1 300.0,876.9 300.0,874.7 300.1,872.5 300.1,870.3 300.2,868.1 300.2,865.9 300.2,863.7 300.3,861.5 300.3,859.3 300.4,857.1 300.4,854.9 300.5,852.6 300.5,850.1 300.6,847.5 300.6,844.7 300.7,841.9 300.7,838.9 300.8,836.0 300.8,833.1 300.9,830.3 300.9,827.5 301.0,825.0 301.1,822.7 301.2,820.6 301.3,818.8 301.4,817.3 301.5,816.2 301.6,815.6 301.7,815.4 301.9,816.4 302.3,818.8 302.7,821.6 302.9,824.3 303.1,826.5 303.3,828.7 303.4,830.9 303.6,833.1 303.7,835.3 303.8,837.5 303.9,839.7 304.0,841.9 304.1,844.1 304.2,846.3 304.3,848.5 304.5,850.7 304.6,852.9 304.7,855.1 304.8,857.3 305.0,859.5 305.1,861.8 305.3,864.0 305.4,866.2 305.5,868.4 305.7,870.6 305.8,872.8 306.0,875.0 306.1,877.2 306.3,879.4 306.4,881.6 306.6,883.8 306.8,886.0 306.9,888.2 307.1,890.4 307.3,892.6 307.4,894.8 307.6,897.0 307.8,899.2 308.0,901.4 308.2,903.6 308.5,905.8 308.8,908.0 309.1,910.1 309.4,912.3 309.8,914.5 310.3,916.7 310.9,918.8 311.4,920.9 312.1,923.0 313.0,925.3 314.0,927.3 315.3,928.8 316.9,929.9 319.0,930.9 321.3,931.7 323.5,932.1 325.6,932.3 327.8,932.4 330.0,932.6 332.2,932.7 334.5,932.8 336.7,932.9 338.9,932.9 341.1,932.9 343.4,932.9 345.6,932.9 347.8,932.9 350.0,932.9 352.2,932.9 354.4,932.9 356.6,932.9 358.8,932.9 361.0,932.9 363.2,932.9 365.4,932.9 367.6,932.9 369.8,932.9 372.0,932.9 374.2,932.9 376.4,932.9 378.6,932.9 380.9,932.9 383.1,932.9 385.3,932.9 387.5,932.9 389.7,932.9 391.9,932.9 394.1,932.9 396.3,932.9 398.5,932.9 400.7,932.9 402.9,932.9 405.1,932.9 407.3,932.9 409.5,932.9 411.8,932.9 414.0,932.9 416.2,932.9 418.4,932.9 420.6,932.9 422.8,932.9 425.0,932.9 427.2,932.9 429.4,932.9 431.6,932.9 433.8,932.9 436.0,932.9 438.3,932.9 440.5,932.9 442.7,932.9 444.9,932.9" fill="none" stroke="#9a4fe0" stroke-width="1.1" clip-path="url(#f4b)"/>
<rect x="293.7" y="786.0" width="151.2" height="220.4" fill="none" stroke="#3a3a3a" stroke-width="1.25"/>
<path d="M294.8 1006.4v-5M294.8 786.0v5M332.7 1006.4v-5M332.7 786.0v5M370.6 1006.4v-5M370.6 786.0v5M408.5 1006.4v-5M408.5 786.0v5" stroke="#3a3a3a" stroke-width="1.00" fill="none"/>
<path d="M313.8 1006.4v-2.5M313.8 786.0v2.5M351.7 1006.4v-2.5M351.7 786.0v2.5M389.6 1006.4v-2.5M389.6 786.0v2.5M427.5 1006.4v-2.5M427.5 786.0v2.5" stroke="#3a3a3a" stroke-width="1.00" fill="none"/>
<path d="M293.7 969.7h5M444.9 969.7h-5M293.7 932.9h5M444.9 932.9h-5M293.7 896.2h5M444.9 896.2h-5M293.7 859.5h5M444.9 859.5h-5M293.7 822.7h5M444.9 822.7h-5" stroke="#3a3a3a" stroke-width="1.00" fill="none"/>
<text x="294.8" y="1024.4" font-size="13" text-anchor="middle">0</text>
<text x="332.7" y="1024.4" font-size="13" text-anchor="middle">10</text>
<text x="370.6" y="1024.4" font-size="13" text-anchor="middle">20</text>
<text x="408.5" y="1024.4" font-size="13" text-anchor="middle">30</text>
<text x="388.6" y="959.0" font-size="13" text-anchor="end" >r<tspan font-size="10" dy="3">0</tspan><tspan dy="-3">=8</tspan></text>
<line x1="396.2" x2="429.8" y1="954.7" y2="954.7" stroke="#3ddcea" stroke-width="1.2"/>
<text x="388.6" y="978.8" font-size="13" text-anchor="end" >r<tspan font-size="10" dy="3">0</tspan><tspan dy="-3">=5</tspan></text>
<line x1="396.2" x2="429.8" y1="974.5" y2="974.5" stroke="#1a1ab4" stroke-width="1.2"/>
<text x="388.6" y="998.1" font-size="13" text-anchor="end" >r<tspan font-size="10" dy="3">0</tspan><tspan dy="-3">=2</tspan></text>
<line x1="396.2" x2="429.8" y1="993.8" y2="993.8" stroke="#9a4fe0" stroke-width="1.2"/>
<text x="442.4" y="798.8" font-size="13" text-anchor="end" font-weight="bold">(b)</text>
<text x="213.5" y="1039.5" font-size="13" text-anchor="middle" font-style="italic">x</text>
<text x="368.9" y="1039.5" font-size="13" text-anchor="middle" font-style="italic">x</text>
<text transform="translate(95.5,896) rotate(-90)" font-size="14" text-anchor="middle">|ψ|<tspan font-size="10" dy="-5">2</tspan></text>
<clipPath id="f5"><rect x="516.0" y="769.5" width="314.1" height="173.4"/></clipPath>
<polygon points="516.0,942.9 516.0,942.2 516.1,941.5 516.2,940.8 516.3,940.1 516.5,939.4 516.8,938.7 517.1,938.0 517.4,937.3 517.8,936.6 518.2,935.9 518.6,935.2 519.1,934.5 519.7,933.8 520.3,933.1 520.9,932.4 521.6,931.7 522.3,931.0 523.1,930.3 523.9,929.6 524.7,928.9 525.6,928.2 526.6,927.5 527.5,926.8 528.6,926.1 529.6,925.4 530.7,924.7 531.9,924.0 533.1,923.2 534.3,922.5 535.6,921.8 537.0,921.1 538.3,920.4 539.8,919.7 541.2,919.0 542.7,918.3 544.3,917.6 545.9,916.9 547.5,916.2 549.2,915.5 550.9,914.8 552.7,914.1 554.5,913.4 556.3,912.7 558.2,912.0 560.2,911.3 562.2,910.6 564.2,909.9 566.3,909.2 568.4,908.5 570.5,907.8 572.7,907.1 575.0,906.4 577.3,905.7 579.6,905.0 582.0,904.3 584.4,903.6 586.9,902.9 589.4,902.2 591.9,901.5 594.5,900.8 597.2,900.1 599.8,899.4 602.6,898.7 605.3,898.0 608.2,897.3 611.0,896.6 613.9,895.9 616.9,895.2 619.8,894.5 622.9,893.8 626.0,893.1 629.1,892.4 632.2,891.7 635.4,891.0 638.7,890.3 642.0,889.6 645.3,888.9 648.7,888.2 652.1,887.5 655.6,886.8 659.1,886.1 662.7,885.4 666.3,884.6 669.9,883.9 673.6,883.2 677.3,882.5 681.1,881.8 684.9,881.1 688.8,880.4 692.7,879.7 696.6,879.0 700.6,878.3 704.7,877.6 708.7,876.9 712.9,876.2 717.0,875.5 721.2,874.8 725.5,874.1 729.8,873.4 734.1,872.7 738.5,872.0 742.9,871.3 747.4,870.6 751.9,869.9 756.5,869.2 761.1,868.5 765.7,867.8 770.4,867.1 775.2,866.4 779.9,865.7 784.8,865.0 789.6,864.3 794.5,863.6 799.5,862.9 804.5,862.2 809.5,861.5 814.6,860.8 819.7,860.1 824.9,859.4 830.1,858.7 830.1,942.9 516.0,942.9" fill="#fafac3"/>
<polygon points="547.9,916.1 722.1,769.5 830.1,769.5 830.1,858.7 824.9,859.4 819.7,860.1 814.6,860.8 809.5,861.5 804.5,862.2 799.5,862.9 794.5,863.6 789.6,864.3 784.8,865.0 779.9,865.7 775.2,866.4 770.4,867.1 765.7,867.8 761.1,868.5 756.5,869.2 751.9,869.9 747.4,870.6 742.9,871.3 738.5,872.0 734.1,872.7 729.8,873.4 725.5,874.1 721.2,874.8 717.0,875.5 712.9,876.2 708.7,876.9 704.7,877.6 700.6,878.3 696.6,879.0 692.7,879.7 688.8,880.4 684.9,881.1 681.1,881.8 677.3,882.5 673.6,883.2 669.9,883.9 666.3,884.6 662.7,885.4 659.1,886.1 655.6,886.8 652.1,887.5 648.7,888.2 645.3,888.9 642.0,889.6 638.7,890.3 635.4,891.0 632.2,891.7 629.1,892.4 626.0,893.1 622.9,893.8 619.8,894.5 616.9,895.2 613.9,895.9 611.0,896.6 608.2,897.3 605.3,898.0 602.6,898.7 599.8,899.4 597.2,900.1 594.5,900.8 591.9,901.5 589.4,902.2 586.9,902.9 584.4,903.6 582.0,904.3 579.6,905.0 577.3,905.7 575.0,906.4 572.7,907.1 570.5,907.8 568.4,908.5 566.3,909.2 564.2,909.9 562.2,910.6 560.2,911.3 558.2,912.0 556.3,912.7 554.5,913.4 552.7,914.1 550.9,914.8 549.2,915.5" fill="#e1edfb"/>
<polyline points="516.0,942.9 722.1,769.5" fill="none" stroke="#777" stroke-width="1.0" stroke-dasharray="1 2.5" clip-path="url(#f5)"/>
<polyline points="516.0,942.9 516.0,942.2 516.1,941.5 516.2,940.8 516.3,940.1 516.5,939.4 516.8,938.7 517.1,938.0 517.4,937.3 517.8,936.6 518.2,935.9 518.6,935.2 519.1,934.5 519.7,933.8 520.3,933.1 520.9,932.4 521.6,931.7 522.3,931.0 523.1,930.3 523.9,929.6 524.7,928.9 525.6,928.2 526.6,927.5 527.5,926.8 528.6,926.1 529.6,925.4 530.7,924.7 531.9,924.0 533.1,923.2 534.3,922.5 535.6,921.8 537.0,921.1 538.3,920.4 539.8,919.7 541.2,919.0 542.7,918.3 544.3,917.6 545.9,916.9 547.5,916.2 549.2,915.5 550.9,914.8 552.7,914.1 554.5,913.4 556.3,912.7 558.2,912.0 560.2,911.3 562.2,910.6 564.2,909.9 566.3,909.2 568.4,908.5 570.5,907.8 572.7,907.1 575.0,906.4 577.3,905.7 579.6,905.0 582.0,904.3 584.4,903.6 586.9,902.9 589.4,902.2 591.9,901.5 594.5,900.8 597.2,900.1 599.8,899.4 602.6,898.7 605.3,898.0 608.2,897.3 611.0,896.6 613.9,895.9 616.9,895.2 619.8,894.5 622.9,893.8 626.0,893.1 629.1,892.4 632.2,891.7 635.4,891.0 638.7,890.3 642.0,889.6 645.3,888.9 648.7,888.2 652.1,887.5 655.6,886.8 659.1,886.1 662.7,885.4 666.3,884.6 669.9,883.9 673.6,883.2 677.3,882.5 681.1,881.8 684.9,881.1 688.8,880.4 692.7,879.7 696.6,879.0 700.6,878.3 704.7,877.6 708.7,876.9 712.9,876.2 717.0,875.5 721.2,874.8 725.5,874.1 729.8,873.4 734.1,872.7 738.5,872.0 742.9,871.3 747.4,870.6 751.9,869.9 756.5,869.2 761.1,868.5 765.7,867.8 770.4,867.1 775.2,866.4 779.9,865.7 784.8,865.0 789.6,864.3 794.5,863.6 799.5,862.9 804.5,862.2 809.5,861.5 814.6,860.8 819.7,860.1 824.9,859.4 830.1,858.7" fill="none" stroke="#e0403a" stroke-width="1.1" clip-path="url(#f5)"/>
<polyline points="516.0,942.9 516.0,942.3 516.1,941.7 516.2,941.1 516.3,940.4 516.5,939.8 516.8,939.2 517.1,938.6 517.4,938.0 517.8,937.4 518.2,936.7 518.6,936.1 519.1,935.5 519.7,934.9 520.3,934.3 520.9,933.7 521.6,933.1 522.3,932.4 523.1,931.8 523.9,931.2 524.7,930.6 525.6,930.0 526.6,929.4 527.5,928.7 528.6,928.1 529.6,927.5 530.7,926.9 531.9,926.3 533.1,925.7 534.3,925.1 535.6,924.4 537.0,923.8 538.3,923.2 539.8,922.6 541.2,922.0 542.7,921.4 544.3,920.7 545.9,920.1 547.5,919.5 549.2,918.9 550.9,918.3 552.7,917.7 554.5,917.1 556.3,916.4 558.2,915.8 560.2,915.2 562.2,914.6 564.2,914.0 566.3,913.4 568.4,912.7 570.5,912.1 572.7,911.5 575.0,910.9 577.3,910.3 579.6,909.7 582.0,909.1 584.4,908.4 586.9,907.8 589.4,907.2 591.9,906.6 594.5,906.0 597.2,905.4 599.8,904.7 602.6,904.1 605.3,903.5 608.2,902.9 611.0,902.3 613.9,901.7 616.9,901.1 619.8,900.4 622.9,899.8 626.0,899.2 629.1,898.6 632.2,898.0 635.4,897.4 638.7,896.7 642.0,896.1 645.3,895.5 648.7,894.9 652.1,894.3 655.6,893.7 659.1,893.1 662.7,892.4 666.3,891.8 669.9,891.2 673.6,890.6 677.3,890.0 681.1,889.4 684.9,888.7 688.8,888.1 692.7,887.5 696.6,886.9 700.6,886.3 704.7,885.7 708.7,885.1 712.9,884.4 717.0,883.8 721.2,883.2 725.5,882.6 729.8,882.0 734.1,881.4 738.5,880.7 742.9,880.1 747.4,879.5 751.9,878.9 756.5,878.3 761.1,877.7 765.7,877.1 770.4,876.4 775.2,875.8 779.9,875.2 784.8,874.6 789.6,874.0 794.5,873.4 799.5,872.7 804.5,872.1 809.5,871.5 814.6,870.9 819.7,870.3 824.9,869.7 830.1,869.1" fill="none" stroke="#2e9d2e" stroke-width="1.3" stroke-dasharray="9 5" clip-path="url(#f5)"/>
<circle cx="565.1" cy="909.9" r="3.1" fill="#3a97ea"/>
<circle cx="565.1" cy="901.6" r="3.1" fill="#3a97ea"/>
<circle cx="614.2" cy="893.4" r="3.1" fill="#3a97ea"/>
<circle cx="614.2" cy="860.3" r="3.1" fill="#3a97ea"/>
<circle cx="663.2" cy="885.1" r="3.1" fill="#3a97ea"/>
<circle cx="663.2" cy="860.3" r="3.1" fill="#3a97ea"/>
<circle cx="663.2" cy="819.0" r="3.1" fill="#3a97ea"/>
<circle cx="712.3" cy="876.8" r="3.1" fill="#3a97ea"/>
<circle cx="712.3" cy="860.3" r="3.1" fill="#3a97ea"/>
<circle cx="712.3" cy="819.0" r="3.1" fill="#3a97ea"/>
<circle cx="712.3" cy="777.8" r="3.1" fill="#3a97ea"/>
<circle cx="761.4" cy="868.6" r="3.1" fill="#3a97ea"/>
<circle cx="761.4" cy="860.3" r="3.1" fill="#3a97ea"/>
<circle cx="761.4" cy="819.0" r="3.1" fill="#3a97ea"/>
<circle cx="761.4" cy="777.8" r="3.1" fill="#3a97ea"/>
<circle cx="810.5" cy="860.3" r="3.1" fill="#3a97ea"/>
<circle cx="810.5" cy="819.0" r="3.1" fill="#3a97ea"/>
<circle cx="810.5" cy="777.8" r="3.1" fill="#3a97ea"/>
<circle cx="525.8" cy="934.6" r="3.1" fill="#000"/>
<circle cx="565.1" cy="934.6" r="3.1" fill="#000"/>
<circle cx="614.2" cy="934.6" r="3.1" fill="#000"/>
<circle cx="663.2" cy="934.6" r="3.1" fill="#000"/>
<circle cx="712.3" cy="934.6" r="3.1" fill="#000"/>
<circle cx="761.4" cy="934.6" r="3.1" fill="#000"/>
<circle cx="810.5" cy="934.6" r="3.1" fill="#000"/>
<circle cx="614.2" cy="901.6" r="3.1" fill="#000"/>
<circle cx="663.2" cy="901.6" r="3.1" fill="#000"/>
<circle cx="712.3" cy="901.6" r="3.1" fill="#000"/>
<circle cx="761.4" cy="901.6" r="3.1" fill="#000"/>
<circle cx="810.5" cy="901.6" r="3.1" fill="#000"/>
<circle cx="663.2" cy="893.4" r="3.1" fill="#000"/>
<circle cx="712.3" cy="885.1" r="3.1" fill="#000"/>
<circle cx="761.4" cy="876.8" r="3.1" fill="#000"/>
<circle cx="810.5" cy="872.7" r="3.1" fill="#000"/>
<rect x="516.0" y="769.5" width="314.1" height="173.4" fill="none" stroke="#444" stroke-width="1.25"/>
<path d="M565.1 942.9v-5M565.1 769.5v5M614.2 942.9v-5M614.2 769.5v5M663.2 942.9v-5M663.2 769.5v5M712.3 942.9v-5M712.3 769.5v5M761.4 942.9v-5M761.4 769.5v5M810.5 942.9v-5M810.5 769.5v5" stroke="#444" stroke-width="1.00" fill="none"/>
<path d="M540.5 942.9v-2.5M540.5 769.5v2.5M589.6 942.9v-2.5M589.6 769.5v2.5M638.7 942.9v-2.5M638.7 769.5v2.5M687.8 942.9v-2.5M687.8 769.5v2.5M736.9 942.9v-2.5M736.9 769.5v2.5M785.9 942.9v-2.5M785.9 769.5v2.5" stroke="#444" stroke-width="1.00" fill="none"/>
<path d="M516.0 901.6h5M830.1 901.6h-5M516.0 860.3h5M830.1 860.3h-5M516.0 819.0h5M830.1 819.0h-5M516.0 777.8h5M830.1 777.8h-5" stroke="#444" stroke-width="1.00" fill="none"/>
<path d="M516.0 922.3h2.5M830.1 922.3h-2.5M516.0 881.0h2.5M830.1 881.0h-2.5M516.0 839.7h2.5M830.1 839.7h-2.5M516.0 798.4h2.5M830.1 798.4h-2.5" stroke="#444" stroke-width="1.00" fill="none"/>
<text x="516.0" y="959.4" font-size="13" text-anchor="middle">0</text>
<text x="565.1" y="959.4" font-size="13" text-anchor="middle">5</text>
<text x="614.2" y="959.4" font-size="13" text-anchor="middle">10</text>
<text x="663.2" y="959.4" font-size="13" text-anchor="middle">15</text>
<text x="712.3" y="959.4" font-size="13" text-anchor="middle">20</text>
<text x="761.4" y="959.4" font-size="13" text-anchor="middle">25</text>
<text x="810.5" y="959.4" font-size="13" text-anchor="middle">30</text>
<text x="509.0" y="947.2" font-size="13" text-anchor="end">0</text>
<text x="509.0" y="905.9" font-size="13" text-anchor="end">5</text>
<text x="509.0" y="864.6" font-size="13" text-anchor="end">10</text>
<text x="509.0" y="823.3" font-size="13" text-anchor="end">15</text>
<text x="509.0" y="782.0" font-size="13" text-anchor="end">20</text>
<rect x="533.9" y="776.4" width="109.7" height="33.8" fill="#fff" stroke="#bbb" stroke-width=".8"/>
<circle cx="542.2" cy="786.7" r="3.1" fill="#3a97ea"/><circle cx="542.2" cy="802.6" r="3.1" fill="#000"/>
<text x="550.5" y="790.8" font-size="12.2" text-anchor="start" >with density pileup</text>
<text x="550.5" y="806.7" font-size="12.2" text-anchor="start" >no density pileup</text>
<text x="674.6" y="974" font-size="13" text-anchor="middle" font-style="italic">r<tspan font-size="9.5" dy="3">0</tspan></text>
<text transform="translate(492.5,855.7) rotate(-90)" font-size="13" text-anchor="middle" font-style="italic">d</text></svg>
</div>
<div class="pg" style="left:2781px">
<div class="l r" style="left:81.80px;top:41.03px;width:769.70px;">4</div>
<div class="l s" style="word-spacing:1.05px;left:81.80px;top:347.16px;">Figure 6.  Interaction energy <i>E<sub>int</sub></i> of two vortices in the exciton su-</div>
<div class="l s" style="word-spacing:2.13px;left:81.80px;top:363.00px;">perfluid as a function of vortex separation <i>r<sub>vv</sub></i>, for different inter-</div>
<div class="l s" style="word-spacing:0.87px;left:81.80px;top:378.85px;">layer distances <i>d</i> and a fixed density <i>r</i><sub>0</sub> = 30. The dots mark where</div>
<div class="l s" style="left:81.80px;top:394.69px;"><i>r<sub>vv</sub></i> = 2<i>R<sub>c</sub></i> in the different cases considered.</div>
<div class="l" style="word-spacing:0.94px;left:81.80px;top:446.03px;">black dots mark the systems where the vortex profile has no</div>
<div class="l" style="word-spacing:1.69px;left:81.80px;top:463.38px;">pileup peak, and the blue dots the systems where there is a</div>
<div class="l" style="word-spacing:0.51px;left:81.80px;top:480.73px;">pileup peak. The onset of the pileup peak closely follows the</div>
<div class="l" style="word-spacing:0.47px;left:81.80px;top:498.09px;">dipolar coupling parametric threshold (red line) <i>D</i> = 13, with</div>
<div class="l" style="word-spacing:2.24px;left:81.80px;top:515.73px;"><i>D</i> = <span class="fr" style="font-size:70%;line-height:1.02;letter-spacing:1.1px;margin:0 1.5px"><span><i>e</i><sup>2</sup><i>d</i><sup>2</sup></span><span>4<i>πϵ</i></span></span><span class="fr" style="font-size:70%;line-height:1.02;letter-spacing:1.1px;margin:0 1.5px"><span>2<i>M</i></span><span><i class="h">ħ</i><sup>2</sup></span></span><span class="fr" style="font-size:70%;line-height:1.02;letter-spacing:1.1px;margin:0 1.5px"><span>1</span><span><i>r</i><sub>0</sub></span></span> = <span class="fr" style="font-size:70%;line-height:1.02;letter-spacing:1.1px;margin:0 1.5px"><span>4<i>d</i><sup>2</sup></span><span><i>a<sub>B</sub>r</i><sub>0</sub></span></span>, namely the ratio of the dipolar en-</div>
<div class="l" style="word-spacing:0.40px;left:81.80px;top:535.53px;">ergy to the kinetic energy [<a>27</a>].  The green dashed line marks</div>
<div class="l" style="word-spacing:1.51px;left:81.80px;top:552.88px;">the superfluid-to-incompressible supersolid transition driven</div>
<div class="l" style="word-spacing:0.46px;left:81.80px;top:570.23px;">by the strong exciton-exciton repulsion [<a>8</a>].  Remarkably, the</div>
<div class="l" style="word-spacing:1.73px;left:81.80px;top:587.59px;">first appearance of the blue dots lies very close to this pre-</div>
<div class="l" style="word-spacing:2.61px;left:81.80px;top:604.94px;">dicted transition, with <i>D</i> = 10 strongly suggesting that the</div>
<div class="l" style="word-spacing:1.78px;left:81.80px;top:622.30px;">appearance of the pileup peak is a signature of the solidifi-</div>
<div class="l" style="word-spacing:2.26px;left:81.80px;top:639.65px;">cation.  This is consistent with our picture that the driving</div>
<div class="l" style="word-spacing:1.88px;left:81.80px;top:657.00px;">process for the density pileup at the edge of the vortices is</div>
<div class="l" style="word-spacing:1.75px;left:81.80px;top:674.36px;">closely related to the driving process for the localization of</div>
<div class="l" style="word-spacing:0.56px;left:81.80px;top:691.71px;">the excitons in the supersolid.  Both occur when the exciton-</div>
<div class="l" style="word-spacing:0.20px;left:81.80px;top:709.07px;">exciton repulsion is sufficiently strong that its effective range</div>
<div class="l" style="left:81.80px;top:726.42px;">becomes comparable to the inter-particle distance.</div>
<div class="l  c" style="left:81.80px;top:787.91px;font-size:13.58px;width:371.20px;"><b>B.<span class="g"></span>Vortex-vortex interaction</b></div>
<div class="l" style="word-spacing:0.14px;left:96.90px;top:826.83px;">We determine the vortex-vortex interaction by pinning two</div>
<div class="l" style="word-spacing:0.73px;left:81.80px;top:844.18px;">vortices at a desired distance from each other and evaluating</div>
<div class="l" style="word-spacing:-0.00px;left:81.80px;top:861.53px;">their interaction energy [<a>15</a>]. The order parameter in that case</div>
<div class="l" style="left:81.80px;top:878.89px;">is given by:</div>
<div class="eq" style="left:77.8px;top:904.8px;width:371.2px;height:44px;line-height:44px;font-size:16.50px">Ψ(<b>r</b>) = <span class="sq">√</span><span class="ov"><i>N</i></span><i>ψ</i>(<i>r</i>)<i>e</i><sup><i>iℓ</i><sub>1</sub><i>θ</i><sub>1</sub>(<b>r</b>)</sup><i>e</i><sup><i>iℓ</i><sub>2</sub><i>θ</i><sub>2</sub>(<b>r</b>)</sup>.</div>
<div class="l r" style="left:81.80px;top:916.83px;width:371.20px;">(6)</div>
<div class="l" style="word-spacing:2.32px;left:81.80px;top:953.53px;">The phase distribution around the vortices is set as <i>θ<sub>i</sub></i>(<b>r</b>) =</div>
<div class="l" style="word-spacing:3.27px;left:81.80px;top:970.88px;">arctan(<i>y</i> − <i>y<sub>i</sub>/x</i> − <i>x<sub>i</sub></i>), with <i>r<sub>i</sub></i> = (<i>x<sub>i</sub>, y<sub>i</sub></i>) the location of the</div>
<div class="l" style="word-spacing:2.49px;left:81.80px;top:988.23px;"><i>i</i>-th vortex.  Equation (<a>2</a>), in case of equal vorticities <i>ℓ</i><sub>1</sub> =</div>
<div class="l" style="left:81.80px;top:1005.59px;"><i>ℓ</i><sub>2</sub> = <i>ℓ</i>, then becomes [<a>28</a>]:</div>
<div class="eq" style="left:79.8px;top:1039.1px;width:371.2px;height:44px;line-height:44px;font-size:16.50px">−<span class="fr"><span><i class="h">ħ</i><sup>2</sup></span><span>2<i>M</i></span></span><span style="font-size:125%">[</span>∇<sup>2</sup> − <i>ℓ</i><sup>2</sup>(<i>X</i><sup>2</sup>+<i>Y</i><sup>2</sup>)<span style="font-size:125%">]</span><i>ψ</i>(<i>r</i>) + <i>ϕ</i><sub>XX</sub>(<i>r</i>)<i>ψ</i>(<i>r</i>) = <i>µψ</i>(<i>r</i>),</div>
<div class="l r" style="left:81.80px;top:1074.53px;width:371.20px;">(7)</div>
<div class="l" style="left:480.30px;top:80.53px;">with</div>
<div class="eq" style="left:480.3px;top:104.3px;width:346.2px;height:44px;line-height:44px;font-size:16.50px"><i>X</i> = <span class="fr"><span><i>x</i> − <i>x</i><sub>1</sub></span><span><i>r</i><sup>2</sup><sub class="u">1</sub></span></span> + <span class="fr"><span><i>x</i> − <i>x</i><sub>2</sub></span><span><i>r</i><sup>2</sup><sub class="u">2</sub></span></span> ,        <i>Y</i> = <span class="fr"><span><i>y</i> − <i>y</i><sub>1</sub></span><span><i>r</i><sup>2</sup><sub class="u">1</sub></span></span> + <span class="fr"><span><i>y</i> − <i>y</i><sub>2</sub></span><span><i>r</i><sup>2</sup><sub class="u">2</sub></span></span> .</div>
<div class="l r" style="left:480.30px;top:116.53px;width:371.20px;">(8)</div>
<div class="l" style="left:495.40px;top:159.73px;">The energy change <i>E</i> for a condensate with vortices is:</div>
<div class="eq" style="left:476.3px;top:190.9px;width:371.2px;height:44px;line-height:44px;font-size:16.50px;letter-spacing:0.85px"><i>E<sub>j</sub></i> = <span class="int">∫</span> <i>d</i><b>r</b> <span class="big2">[</span><span class="fr"><span><i class="h">ħ</i><sup>2</sup></span><span>2<i>M</i></span></span>|∇Ψ<i><sub>j</sub></i>(<b>r</b>)|<sup>2</sup> + <span class="fr"><span>1</span><span>2</span></span><i>ϕ</i><sub>XX</sub>(<b>r</b>)|Ψ<i><sub>j</sub></i>(<b>r</b>)|<sup>2</sup><span class="big2">]</span> − <i>E</i><sub>0</sub>,</div>
<div class="l r" style="left:480.30px;top:229.03px;width:371.20px;">(9)</div>
<div class="l" style="word-spacing:1.65px;left:480.30px;top:246.53px;">with <i>j</i> the vorticity index.  <i>E</i><sub>0</sub> is the energy of the homoge-</div>
<div class="l" style="word-spacing:2.38px;left:480.30px;top:263.88px;">neous condensate without vortices.  Finally, the interaction</div>
<div class="l" style="word-spacing:4.43px;left:480.30px;top:281.23px;">energy of two vortices is <i>E<sub>int</sub></i> = <i>E</i><sub>2</sub> − 2<i>E</i><sub>1</sub>, where <i>E</i><sub>2</sub> is</div>
<div class="l" style="word-spacing:1.70px;left:480.30px;top:298.59px;">the energy for two vortices separated by <i>r<sub>vv</sub></i> = <i>r</i><sub>1</sub> − <i>r</i><sub>2</sub> (with</div>
<div class="l" style="word-spacing:1.79px;left:480.30px;top:315.94px;">Ψ<sub>2</sub>(<b>r</b>) given by Eq. (<a>6</a>)), and <i>E</i><sub>1</sub> is the energy with just one</div>
<div class="l" style="left:480.30px;top:333.30px;">vortex (with Ψ<sub>1</sub>(<b>r</b>) given by Eq. (<a>4</a>)).</div>
<div class="l" style="word-spacing:-0.03px;left:495.40px;top:350.65px;">Figure <a>6</a> shows the calculated vortex-vortex interaction en-</div>
<div class="l" style="word-spacing:1.99px;left:480.30px;top:368.00px;">ergy <i>E<sub>int</sub></i> for two vortices at separation <i>r<sub>vv</sub></i> = <i>r</i><sub>1</sub>−<i>r</i><sub>2</sub>, at fixed</div>
<div class="l" style="word-spacing:1.29px;left:480.30px;top:385.36px;">density and for different interlayer distances <i>d</i>.  The vortex-</div>
<div class="l" style="left:480.30px;top:402.71px;">vortex interaction is everywhere repulsive, i.e. <i>E<sub>int</sub></i> &gt; 0 [<a>15</a>].</div>
<div class="l" style="word-spacing:2.27px;left:495.40px;top:420.07px;">For large inter-vortex distance <i>r<sub>vv</sub></i>, the <i>E<sub>int</sub></i> all follow the</div>
<div class="l" style="word-spacing:0.46px;left:480.30px;top:437.42px;">general behavior for vortex-vortex interactions in superfluids</div>
<div class="l" style="word-spacing:2.10px;left:480.30px;top:454.77px;">[<a>25</a>, <a>29</a>].  However, at short range (<i>r<sub>vv</sub></i> &lt; 25) there are sig-</div>
<div class="l" style="word-spacing:0.86px;left:480.30px;top:472.13px;">nificant deviations from this behavior that become more and</div>
<div class="l" style="word-spacing:1.09px;left:480.30px;top:489.48px;">more striking with increasing interlayer spacing <i>d</i> (i.e.  with</div>
<div class="l" style="word-spacing:0.91px;left:480.30px;top:506.84px;">increasing exciton dipole moments). These arise because the</div>
<div class="l" style="word-spacing:3.30px;left:480.30px;top:524.19px;"><i>ϕ</i><sub>XX</sub> contribution in Eq. (<a>9</a>) starts to dominate.  This nar-</div>
<div class="l" style="word-spacing:0.65px;left:480.30px;top:541.54px;">rows the vortex core and reduces the core overlap. For small</div>
<div class="l" style="word-spacing:2.94px;left:480.30px;top:558.90px;"><i>r<sub>vv</sub></i> &lt; 2<i>R<sub>c</sub></i>, the cores overlap and the energy cost to create</div>
<div class="l" style="word-spacing:0.72px;left:480.30px;top:576.25px;">two single vortices equals the energy cost to create a “giant”</div>
<div class="l" style="word-spacing:0.96px;left:480.30px;top:593.61px;">vortex with vorticity <i>ℓ</i> = 2. This causes the saturation of <i>E<sub>int</sub></i></div>
<div class="l" style="left:480.30px;top:610.96px;">for small <i>r<sub>vv</sub></i>.</div>
<div class="l  c" style="left:480.30px;top:665.11px;font-size:13.58px;width:371.20px;"><b>C.<span class="g"></span>Vortex lattice</b></div>
<div class="l" style="word-spacing:0.51px;left:495.40px;top:703.53px;">In this section, we generalize Secs. <a>III A</a>-<a>III B</a> for a realis-</div>
<div class="l" style="word-spacing:0.76px;left:480.30px;top:720.88px;">tic experimental configuration in which the vortices are gen-</div>
<div class="l" style="word-spacing:1.64px;left:480.30px;top:738.23px;">erated by imprinting a rotational momentum on the system.</div>
<div class="l" style="word-spacing:1.18px;left:480.30px;top:755.59px;">The Hamiltonian in a uniformly rotating frame with angular</div>
<div class="l" style="word-spacing:-0.39px;left:480.30px;top:772.94px;">velocity <b>Ω</b>, leads to the Gross-Pitaevskii equation in the form:</div>
<div class="eq" style="left:475.3px;top:804.0px;width:349.2px;height:44px;line-height:44px;font-size:15.40px;letter-spacing:0px">−<span class="fr"><span><i class="h">ħ</i><sup>2</sup></span><span>2<i>M</i></span></span>∇<sup>2</sup> Ψ(<b>r</b>) + <i>ϕ</i><sub>XX</sub>(<b>r</b>)Ψ(<b>r</b>) − <b>Ω</b> · <b>L</b> Ψ(<b>r</b>) = <i>µ</i>Ψ(<b>r</b>),</div>
<div class="l r" style="left:480.30px;top:816.03px;width:371.20px;">(10)</div>
<div class="l" style="word-spacing:0.43px;left:480.30px;top:854.23px;">where <b>L</b> = −<i>i</i><i class="h">ħ</i> <b>r</b> × ∇ is the angular momentum.  In the simu-</div>
<div class="l" style="word-spacing:-0.38px;left:480.30px;top:871.58px;">lations the sample has radius 250. We start from a randomized</div>
<div class="l" style="word-spacing:1.04px;left:480.30px;top:888.93px;">order parameter and iterate the solution up to a convergence</div>
<div class="l" style="word-spacing:-0.53px;left:480.30px;top:906.29px;">criterion as described in Section <a>II</a>. After finding a stable solu-</div>
<div class="l" style="word-spacing:-0.44px;left:480.30px;top:923.64px;">tion, we progressively increase angular momentum and repeat</div>
<div class="l" style="word-spacing:-0.87px;left:480.30px;top:941.00px;">the procedure, without keeping history of the previously found</div>
<div class="l" style="left:480.30px;top:958.35px;">state.</div>
<div class="l" style="word-spacing:-0.07px;left:495.40px;top:975.70px;">Above a critical angular velocity Ω<i><sub>c</sub></i>, vortices enter the sys-</div>
<div class="l" style="word-spacing:-0.29px;left:480.30px;top:993.06px;">tem, forming a stable vortex lattice. Figure <a>7</a> shows the super-</div>
<div class="l" style="word-spacing:2.15px;left:480.30px;top:1010.41px;">fluid density profile |Ψ(<b>r</b>)|<sup>2</sup> of representative vortex lattices</div>
<div class="l" style="word-spacing:0.48px;left:480.30px;top:1027.77px;">for <i>d</i> = 1 and 20.  Fig. <a>8</a> showing the corresponding phase of</div>
<div class="l" style="word-spacing:0.21px;left:480.30px;top:1045.12px;">Ψ(<b>r</b>) for selected panels.  The circulation in Fig. <a>8</a> shows that</div>
<div class="l" style="word-spacing:1.32px;left:480.30px;top:1062.47px;">the vortices enter from the edges as single vortices, all with</div>
<div class="l" style="word-spacing:1.71px;left:480.30px;top:1079.83px;">the same circulation from −<i>π</i> to <i>π</i>.  This is in contrast with</div>
<svg width="927" height="1200" viewBox="0 0 927 1200" style="left:0;top:0"><clipPath id="f6"><rect x="151.2" y="91.4" width="280.1" height="200.0"/></clipPath>
<polyline points="151.2,208.0 153.6,208.0 156.1,208.0 158.5,208.0 160.9,208.0 163.3,208.0 165.7,208.0 168.1,208.0 170.5,208.0 172.9,208.0 175.4,208.1 177.8,208.1 180.2,208.1 182.6,208.1 185.0,208.1 187.4,208.1 189.8,208.1 192.3,208.1 194.7,208.2 197.1,208.2 199.5,208.2 201.9,208.2 204.3,208.2 206.7,208.3 209.1,208.3 211.6,208.3 214.0,208.4 216.4,208.4 218.8,208.5 221.2,208.5 223.6,208.6 226.0,208.7 228.5,208.7 230.9,208.8 233.3,208.9 235.7,209.0 238.1,209.1 240.5,209.2 242.9,209.3 245.3,209.4 247.7,209.5 250.1,209.7 252.6,209.9 255.0,210.1 257.4,210.3 259.8,210.6 262.2,210.8 264.6,211.1 267.0,211.3 269.4,211.6 271.8,211.9 274.1,212.3 276.5,212.7 278.9,213.1 281.3,213.5 283.7,213.9 286.0,214.4 288.4,214.9 290.7,215.4 293.1,216.0 295.4,216.6 297.8,217.1 300.1,217.7 302.5,218.3 304.8,218.9 307.1,219.5 309.5,220.1 311.8,220.7 314.1,221.3 316.5,222.0 318.8,222.6 321.1,223.3 323.4,224.0 325.7,224.7 328.0,225.4 330.3,226.1 332.6,226.9 334.9,227.7 337.2,228.4 339.5,229.2 341.8,229.9 344.1,230.6 346.4,231.2 348.8,231.9 351.1,232.5 353.4,233.2 355.7,233.8 358.1,234.4 360.4,235.1 362.7,235.8 365.0,236.4 367.3,237.1 369.7,237.8 372.0,238.5 374.3,239.2 376.6,240.0 378.9,240.7 381.2,241.4 383.5,242.2 385.8,242.9 388.1,243.7 390.4,244.4 392.6,245.2 394.9,245.9 397.2,246.7 399.5,247.5 401.8,248.3 404.1,249.1 406.3,249.9 408.6,250.7 410.9,251.5 413.2,252.3 415.4,253.1 417.7,253.9 420.0,254.8 422.2,255.6 424.5,256.4 426.8,257.3 429.0,258.1 431.3,259.0" fill="none" stroke="#e0262b" stroke-width="1.1" clip-path="url(#f6)"/>
<polyline points="151.2,145.7 153.8,145.7 156.4,145.7 159.0,145.7 161.5,145.7 164.1,145.7 166.7,145.7 169.2,145.7 171.8,145.7 174.4,145.7 177.0,145.8 179.5,146.0 182.1,146.2 184.7,146.5 187.2,146.8 189.8,147.2 192.3,147.6 194.8,147.9 197.4,148.5 199.9,149.1 202.4,149.7 204.8,150.4 207.3,151.1 209.8,151.8 212.3,152.5 214.8,153.2 217.3,153.9 219.7,154.7 222.2,155.5 224.6,156.3 227.0,157.2 229.3,158.2 231.7,159.2 234.0,160.3 236.3,161.5 238.6,162.7 240.8,164.0 243.1,165.2 245.4,166.5 247.6,167.8 249.8,169.1 252.1,170.3 254.3,171.6 256.5,173.0 258.7,174.3 260.9,175.7 263.1,177.0 265.2,178.4 267.4,179.8 269.6,181.2 271.8,182.6 273.9,183.9 276.1,185.3 278.3,186.7 280.5,188.0 282.7,189.4 284.8,190.8 287.0,192.1 289.2,193.5 291.4,194.9 293.5,196.3 295.7,197.7 297.9,199.1 300.0,200.5 302.1,201.9 304.3,203.4 306.4,204.8 308.5,206.2 310.7,207.6 312.9,208.9 315.1,210.2 317.4,211.5 319.6,212.8 321.9,214.0 324.2,215.2 326.5,216.3 328.8,217.5 331.1,218.6 333.4,219.7 335.7,220.8 338.1,221.9 340.4,223.0 342.7,224.1 345.1,225.1 347.5,226.1 349.8,227.1 352.2,228.1 354.6,229.1 357.0,230.1 359.3,231.0 361.7,232.0 364.1,233.0 366.5,234.0 368.8,235.1 371.2,236.1 373.5,237.1 375.9,238.2 378.2,239.2 380.6,240.3 383.0,241.3 385.3,242.3 387.7,243.3 390.1,244.2 392.5,245.2 394.9,246.1 397.3,247.0 399.7,247.9 402.1,248.8 404.5,249.7 406.9,250.6 409.3,251.5 411.8,252.4 414.2,253.3 416.6,254.1 419.0,254.9 421.5,255.8 423.9,256.6 426.4,257.4 428.8,258.2 431.3,259.0" fill="none" stroke="#f0962a" stroke-width="1.1" clip-path="url(#f6)"/>
<polyline points="151.2,125.8 153.9,125.9 156.6,125.9 159.2,125.9 161.9,125.9 164.5,126.0 167.2,126.0 169.9,126.1 172.5,126.1 175.2,126.2 177.8,126.3 180.5,126.4 183.2,126.5 185.8,126.7 188.5,127.0 191.1,127.2 193.8,127.5 196.4,128.0 199.1,128.5 201.6,129.3 204.1,130.1 206.4,131.4 208.6,132.9 210.7,134.6 212.8,136.3 214.8,138.0 216.7,139.9 218.5,141.8 220.4,143.8 222.3,145.7 224.2,147.5 226.1,149.3 228.2,151.0 230.2,152.7 232.3,154.3 234.4,155.9 236.6,157.5 238.7,159.1 240.9,160.7 243.1,162.2 245.2,163.8 247.4,165.3 249.6,166.9 251.8,168.4 254.0,169.9 256.2,171.4 258.4,172.8 260.6,174.3 262.8,175.8 265.1,177.2 267.3,178.7 269.5,180.1 271.7,181.6 274.0,183.1 276.1,184.6 278.3,186.1 280.5,187.6 282.7,189.1 284.9,190.6 287.1,192.2 289.3,193.7 291.5,195.2 293.6,196.8 295.8,198.3 298.0,199.9 300.1,201.5 302.2,203.1 304.3,204.8 306.3,206.5 308.5,208.1 310.6,209.6 312.9,211.0 315.2,212.4 317.5,213.7 319.8,215.0 322.2,216.2 324.6,217.4 327.0,218.6 329.4,219.7 331.8,220.8 334.2,221.9 336.6,223.0 339.1,224.1 341.5,225.2 344.0,226.2 346.4,227.2 348.9,228.2 351.4,229.2 353.8,230.2 356.3,231.1 358.8,232.1 361.3,233.1 363.8,234.1 366.2,235.1 368.7,236.1 371.1,237.2 373.6,238.2 376.0,239.3 378.5,240.3 380.9,241.4 383.4,242.4 385.8,243.4 388.3,244.4 390.8,245.3 393.3,246.3 395.8,247.2 398.3,248.1 400.8,248.9 403.3,249.8 405.8,250.7 408.3,251.5 410.9,252.4 413.4,253.2 415.9,254.0 418.5,254.8 421.0,255.6 423.6,256.4 426.1,257.1 428.7,257.9 431.3,258.6" fill="none" stroke="#3cd23c" stroke-width="1.1" clip-path="url(#f6)"/>
<polyline points="151.2,114.5 153.9,114.5 156.7,114.5 159.4,114.6 162.1,114.6 164.8,114.7 167.5,114.8 170.2,114.8 172.9,114.9 175.6,115.1 178.3,115.3 181.0,115.6 183.7,116.0 186.4,116.5 189.0,116.9 191.7,117.4 194.4,118.0 197.0,118.6 199.6,119.4 202.0,120.5 204.4,121.8 206.8,123.3 209.0,124.8 211.1,126.5 213.1,128.3 215.0,130.2 216.9,132.1 218.9,134.1 220.9,135.9 222.8,137.8 224.8,139.7 226.8,141.5 228.7,143.4 230.7,145.2 232.7,147.1 234.7,148.9 236.7,150.7 238.7,152.5 240.7,154.3 242.8,156.1 244.8,157.9 246.9,159.7 248.9,161.4 251.0,163.1 253.1,164.9 255.2,166.6 257.4,168.2 259.5,169.9 261.6,171.6 263.8,173.2 265.9,174.9 268.1,176.6 270.2,178.2 272.4,179.8 274.5,181.5 276.7,183.1 278.8,184.8 281.0,186.4 283.1,188.0 285.3,189.7 287.5,191.3 289.7,192.9 291.8,194.5 294.0,196.1 296.2,197.8 298.4,199.4 300.5,201.0 302.7,202.7 304.8,204.3 307.0,205.9 309.2,207.5 311.5,208.9 313.8,210.3 316.2,211.6 318.6,212.8 321.1,214.0 323.5,215.2 325.9,216.4 328.4,217.6 330.8,218.7 333.3,219.8 335.8,221.0 338.3,222.1 340.7,223.2 343.2,224.3 345.7,225.3 348.2,226.4 350.7,227.5 353.2,228.5 355.7,229.5 358.2,230.6 360.7,231.6 363.2,232.6 365.7,233.7 368.2,234.7 370.7,235.8 373.2,236.8 375.7,237.9 378.2,238.9 380.7,240.0 383.2,241.0 385.7,242.0 388.2,243.1 390.7,244.1 393.2,245.1 395.8,246.1 398.3,247.0 400.8,248.0 403.3,249.0 405.9,250.0 408.4,250.9 410.9,251.9 413.5,252.9 416.0,253.8 418.5,254.8 421.1,255.7 423.6,256.6 426.2,257.6 428.7,258.5 431.3,259.4" fill="none" stroke="#2a2ad2" stroke-width="1.1" clip-path="url(#f6)"/>
<circle cx="208.7" cy="124.6" r="3.1" fill="#1414f0"/>
<circle cx="211.9" cy="135.6" r="3.1" fill="#28e028"/>
<circle cx="226.5" cy="157.0" r="3.1" fill="#f58a1e"/>
<circle cx="298.5" cy="217.3" r="3.1" fill="#f01414"/>
<rect x="151.2" y="91.4" width="280.1" height="200.0" fill="none" stroke="#333" stroke-width="1.25"/>
<path d="M191.2 291.4v-5M191.2 91.4v5M231.2 291.4v-5M231.2 91.4v5M271.2 291.4v-5M271.2 91.4v5M311.3 291.4v-5M311.3 91.4v5M351.3 291.4v-5M351.3 91.4v5M391.3 291.4v-5M391.3 91.4v5" stroke="#333" stroke-width="1.00" fill="none"/>
<path d="M151.2 246.2h5M431.3 246.2h-5M151.2 200.9h5M431.3 200.9h-5M151.2 155.7h5M431.3 155.7h-5M151.2 110.4h5M431.3 110.4h-5" stroke="#333" stroke-width="1.00" fill="none"/>
<text x="151.2" y="308.9" font-size="13" text-anchor="middle">0</text>
<text x="191.2" y="308.9" font-size="13" text-anchor="middle">5</text>
<text x="231.2" y="308.9" font-size="13" text-anchor="middle">10</text>
<text x="271.2" y="308.9" font-size="13" text-anchor="middle">15</text>
<text x="311.3" y="308.9" font-size="13" text-anchor="middle">20</text>
<text x="351.3" y="308.9" font-size="13" text-anchor="middle">25</text>
<text x="391.3" y="308.9" font-size="13" text-anchor="middle">30</text>
<text x="431.3" y="308.9" font-size="13" text-anchor="middle">35</text>
<text x="144.2" y="295.7" font-size="13" text-anchor="end">0.1</text>
<text x="144.2" y="250.4" font-size="13" text-anchor="end">0.15</text>
<text x="144.2" y="205.2" font-size="13" text-anchor="end">0.2</text>
<text x="144.2" y="159.9" font-size="13" text-anchor="end">0.25</text>
<text x="144.2" y="114.7" font-size="13" text-anchor="end">0.3</text>
<text x="374.2" y="109.5" font-size="13" text-anchor="end" >d=1</text>
<line x1="381.5" x2="415.9" y1="105.2" y2="105.2" stroke="#e0262b" stroke-width="1.2"/>
<text x="374.2" y="128.9" font-size="13" text-anchor="end" >d=5</text>
<line x1="381.5" x2="415.9" y1="124.6" y2="124.6" stroke="#f0962a" stroke-width="1.2"/>
<text x="374.2" y="148.8" font-size="13" text-anchor="end" >d=10</text>
<line x1="381.5" x2="415.9" y1="144.5" y2="144.5" stroke="#3cd23c" stroke-width="1.2"/>
<text x="374.2" y="168.2" font-size="13" text-anchor="end" >d=20</text>
<line x1="381.5" x2="415.9" y1="163.9" y2="163.9" stroke="#2a2ad2" stroke-width="1.2"/>
<text x="291.7" y="324" font-size="13" text-anchor="middle" font-style="italic">r<tspan font-size="9.5" dy="3">vv</tspan></text>
<text transform="translate(107.5,191.4) rotate(-90)" font-size="13" text-anchor="middle" font-style="italic">E<tspan font-size="9.5" dy="3">int</tspan></text></svg>
</div>
<div class="pg" style="left:3708px">
<div class="l r" style="left:81.80px;top:41.03px;width:769.70px;">5</div>
<div class="l s" style="word-spacing:0.73px;left:81.80px;top:415.56px;">Figure 7.  Contour-plots of the exciton superfluid density distribution |Ψ(<b>r</b>)|<sup>2</sup> for <i>r</i><sub>0</sub> = 30, normalized to the homogeneous density.  (a-d) for</div>
<div class="l s" style="word-spacing:0.79px;left:81.80px;top:431.40px;"><i>d</i> = 1, and (e-h) for <i>d</i> = 20, with different rotation frequencies Ω in mRy<sup>*</sup>/<i class="h">ħ</i> as indicated in each panel.  A magnified view of a vortex from</div>
<div class="l s" style="word-spacing:0.65px;left:81.80px;top:447.25px;">panels (a) and (e) is shown on extreme left.  The white dots in selected panels mark the centers of the strongly overlapping vortex cores, as</div>
<div class="l s" style="left:81.80px;top:463.09px;">determined by the singularities in the phase of the order parameter (see Fig. <a>8</a>).</div>
<div class="l s" style="word-spacing:1.52px;left:81.80px;top:866.46px;">Figure 8.   Contour-plots of the phase of Ψ(<b>r</b>) for <i>r</i><sub>0</sub> = 30, with <i>d</i></div>
<div class="l s" style="word-spacing:0.10px;left:81.80px;top:882.30px;">and Ω as indicated. Panels (a)-(d) correspond to selected states from</div>
<div class="l s" style="left:81.80px;top:898.15px;">Fig. <a>7</a> as labeled in the bottom right corners.</div>
<div class="l" style="word-spacing:1.11px;left:81.80px;top:952.93px;">other systems like superconductors, where the vortices enter</div>
<div class="l" style="left:81.80px;top:970.28px;">from the center as vortex-antivortex pairs.</div>
<div class="l" style="word-spacing:0.38px;left:96.90px;top:990.23px;">Similarly to the single-vortex discussion in Sec. <a>III A</a>, Fig.</div>
<div class="l" style="word-spacing:0.43px;left:81.80px;top:1007.58px;"><a>7</a> shows the shrinking of the radii of the vortex cores when <i>d</i></div>
<div class="l" style="word-spacing:0.46px;left:81.80px;top:1024.93px;">is increased and for <i>d</i> = 20, the density pileup peak is clearly</div>
<div class="l" style="word-spacing:-0.17px;left:81.80px;top:1042.29px;">visible at the edge of the vortex cores (see magnified views to</div>
<div class="l" style="left:81.80px;top:1059.64px;">the left of Figs. <a>7</a>(a) and (e)).</div>
<div class="l" style="word-spacing:0.67px;left:96.90px;top:1080.33px;">The critical Ω<i><sub>c</sub></i> and the Ω needed to achieve the same vor-</div>
<div class="l s" style="word-spacing:0.23px;left:480.30px;top:789.96px;">Figure 9. Number of distinguishable vortices <i>N<sub>v</sub></i> in the vortex lattice</div>
<div class="l s" style="word-spacing:0.85px;left:480.30px;top:805.80px;">as a function of the rotation frequency Ω for two interlayer separa-</div>
<div class="l s" style="word-spacing:1.67px;left:480.30px;top:821.65px;">tions <i>d</i>.  Dots mark the states where all <i>ℓ</i> = 1 vortices are clearly</div>
<div class="l s" style="word-spacing:-0.16px;left:480.30px;top:837.49px;">observable in the density. Triangles mark the states where clusters of</div>
<div class="l s" style="word-spacing:0.62px;left:480.30px;top:853.34px;">strongly overlapping vortex cores form in the center of the conden-</div>
<div class="l s" style="word-spacing:0.81px;left:480.30px;top:869.18px;">sate, and only vortices outside the cluster are distinguishable in the</div>
<div class="l s" style="left:480.30px;top:885.03px;">density profile. Solid lines are guides for the eye.</div>
<div class="l" style="word-spacing:1.11px;left:480.30px;top:941.13px;">ticity both increase with interlayer separation <i>d</i> as is seen in</div>
<div class="l" style="word-spacing:1.90px;left:480.30px;top:958.48px;">Fig. <a>9</a>, which shows the number of distinguishable vortices</div>
<div class="l" style="word-spacing:-0.06px;left:480.30px;top:975.83px;"><i>N<sub>v</sub></i> in the lattice as a function of Ω, determined as distinguish-</div>
<div class="l" style="word-spacing:0.20px;left:480.30px;top:993.19px;">able zeros in the order parameter. This is due to the increased</div>
<div class="l" style="word-spacing:1.68px;left:480.30px;top:1010.54px;">strength of the exciton interaction energy [<a>25</a>, <a>30</a>].  Figures</div>
<div class="l" style="word-spacing:0.55px;left:480.30px;top:1027.90px;"><a>7</a>(a),(b) and (e),(f) show systems with relatively few vortices</div>
<div class="l" style="word-spacing:0.86px;left:480.30px;top:1045.25px;">in stable lattices with the same vorticity.  The vortex separa-</div>
<div class="l" style="word-spacing:1.78px;left:480.30px;top:1062.60px;">tions are large, <i>r<sub>vv</sub></i> &gt; 30, and so the vortex-vortex repulsion</div>
<div class="l" style="word-spacing:1.38px;left:480.30px;top:1079.96px;">is the same for <i>d</i> = 1 and 20 (see Fig. <a>6</a>).  The larger Ω for</div>
<svg width="927" height="1200" viewBox="0 0 927 1200" style="left:0;top:0"><radialGradient id="vA"><stop offset="0" stop-color="#10306f"/><stop offset=".25" stop-color="#1f6a8c"/><stop offset=".45" stop-color="#5cb8a2" stop-opacity=".95"/><stop offset=".68" stop-color="#e4f2a0" stop-opacity=".75"/><stop offset="1" stop-color="#fce090" stop-opacity="0"/></radialGradient><radialGradient id="vB"><stop offset="0" stop-color="#070a6e"/><stop offset=".45" stop-color="#0b1f74" stop-opacity=".95"/><stop offset="1" stop-color="#1c4c88" stop-opacity="0"/></radialGradient><radialGradient id="vC"><stop offset="0" stop-color="#0b2a78"/><stop offset=".4" stop-color="#1f6a8e" stop-opacity=".95"/><stop offset="1" stop-color="#3c9c9c" stop-opacity="0"/></radialGradient><radialGradient id="vE"><stop offset="0" stop-color="#f0a050"/><stop offset=".3" stop-color="#f6c070"/><stop offset=".55" stop-color="#fdf0b0"/><stop offset=".8" stop-color="#fbe0a0" stop-opacity=".9"/><stop offset="1" stop-color="#f0a060" stop-opacity="0"/></radialGradient><radialGradient id="vF"><stop offset="0" stop-color="#8cc8a0"/><stop offset=".3" stop-color="#d8eca0"/><stop offset=".6" stop-color="#fdf0b0"/><stop offset=".85" stop-color="#fbd890" stop-opacity=".9"/><stop offset="1" stop-color="#f0a060" stop-opacity="0"/></radialGradient>
<radialGradient id="rg1"><stop offset="0.000" stop-color="#e9623a"/><stop offset="0.025" stop-color="#e9603a"/><stop offset="0.050" stop-color="#e85f39"/><stop offset="0.075" stop-color="#e85e39"/><stop offset="0.100" stop-color="#e75d38"/><stop offset="0.125" stop-color="#e75c38"/><stop offset="0.150" stop-color="#e75b37"/><stop offset="0.175" stop-color="#e65a37"/><stop offset="0.200" stop-color="#e65936"/><stop offset="0.225" stop-color="#e55836"/><stop offset="0.250" stop-color="#e55735"/><stop offset="0.275" stop-color="#e55535"/><stop offset="0.300" stop-color="#e45434"/><stop offset="0.325" stop-color="#e25233"/><stop offset="0.350" stop-color="#e05032"/><stop offset="0.375" stop-color="#de4d31"/><stop offset="0.400" stop-color="#dc4b30"/><stop offset="0.425" stop-color="#d9482f"/><stop offset="0.450" stop-color="#d7462e"/><stop offset="0.475" stop-color="#d5442d"/><stop offset="0.500" stop-color="#d3412c"/><stop offset="0.525" stop-color="#d13f2b"/><stop offset="0.550" stop-color="#ce3c2a"/><stop offset="0.575" stop-color="#cc3a29"/><stop offset="0.600" stop-color="#ca3828"/><stop offset="0.625" stop-color="#c73527"/><stop offset="0.650" stop-color="#c53226"/><stop offset="0.675" stop-color="#c22f25"/><stop offset="0.700" stop-color="#bf2c23"/><stop offset="0.725" stop-color="#bd2922"/><stop offset="0.750" stop-color="#ba2621"/><stop offset="0.775" stop-color="#b82420"/><stop offset="0.800" stop-color="#b5231f"/><stop offset="0.825" stop-color="#b3221e"/><stop offset="0.850" stop-color="#b1211e"/><stop offset="0.875" stop-color="#b3211e"/><stop offset="0.900" stop-color="#b4221f"/><stop offset="0.925" stop-color="#b5231f"/><stop offset="0.930" stop-color="#b5231f"/><stop offset="0.950" stop-color="#e35334"/><stop offset="0.955" stop-color="#e75d38"/><stop offset="0.975" stop-color="#fceda3"/><stop offset="0.990" stop-color="#7ecba4"/><stop offset="1.000" stop-color="#1b4a87"/></radialGradient>
<rect x="181.8" y="94.5" width="130.7" height="126.4" fill="#070a6e"/>
<clipPath id="hc2"><rect x="181.8" y="94.5" width="130.7" height="126.4"/></clipPath>
<g clip-path="url(#hc2)"><ellipse cx="247.2" cy="157.7" rx="65.3" ry="63.5" fill="url(#rg1)"/>
<circle cx="232.3" cy="157.7" r="3.7" fill="url(#vA)"/>
<circle cx="247.9" cy="143.3" r="3.7" fill="url(#vA)"/>
<circle cx="262.8" cy="157.7" r="3.7" fill="url(#vA)"/>
<circle cx="247.9" cy="172.1" r="3.7" fill="url(#vA)"/>
</g>
<path d="M194.9 94.5v3.5M194.9 220.9v-3.5M181.8 208.3h3.5M312.5 208.3h-3.5M221.0 94.5v3.5M221.0 220.9v-3.5M181.8 183.0h3.5M312.5 183.0h-3.5M247.2 94.5v5M247.2 220.9v-5M181.8 157.7h5M312.5 157.7h-5M273.3 94.5v3.5M273.3 220.9v-3.5M181.8 132.4h3.5M312.5 132.4h-3.5M299.4 94.5v3.5M299.4 220.9v-3.5M181.8 107.1h3.5M312.5 107.1h-3.5" stroke="#111" stroke-width=".7" fill="none" opacity=".8"/>
<text x="187.0" y="110.0" font-size="11.9" text-anchor="start" font-weight="bold" fill="#fff">(a)</text>
<rect x="262.8" y="100.0" width="44.2" height="19.6" fill="#fff"/>
<text x="265.5" y="114.3" font-size="11.3" text-anchor="start" >Ω=0.42</text>
<text x="179.3" y="212.8" font-size="11.3" text-anchor="end" >-200</text>
<text x="179.3" y="187.5" font-size="11.3" text-anchor="end" >-100</text>
<text x="179.3" y="162.2" font-size="11.3" text-anchor="end" >0</text>
<text x="179.3" y="136.9" font-size="11.3" text-anchor="end" >100</text>
<text x="179.3" y="111.6" font-size="11.3" text-anchor="end" >200</text>
<text transform="translate(166.8,157.7) rotate(-90)" font-size="11.3" text-anchor="middle">y</text>
<linearGradient id="cb3" x1="0" y1="0" x2="0" y2="1"><stop offset="0.000" stop-color="#a01818"/><stop offset="0.050" stop-color="#b82420"/><stop offset="0.123" stop-color="#e45434"/><stop offset="0.210" stop-color="#f48048"/><stop offset="0.300" stop-color="#fcb064"/><stop offset="0.390" stop-color="#fcd480"/><stop offset="0.474" stop-color="#fcf4ac"/><stop offset="0.560" stop-color="#e4f4a0"/><stop offset="0.650" stop-color="#b4e0a0"/><stop offset="0.740" stop-color="#7ccaa4"/><stop offset="0.825" stop-color="#3c9c9c"/><stop offset="0.910" stop-color="#1c4c88"/><stop offset="1.000" stop-color="#070a6e"/></linearGradient>
<rect x="315.9" y="94.5" width="6.2" height="126.4" fill="url(#cb3)" stroke="#333" stroke-width=".5"/>
<path d="M315.9 220.9H324.1" stroke="#222" stroke-width=".7"/>
<text x="325.6" y="225.9" font-size="11.3" text-anchor="start" >0</text>
<path d="M315.9 198.7H324.1" stroke="#222" stroke-width=".7"/>
<text x="325.6" y="203.8" font-size="11.3" text-anchor="start" >0.2</text>
<path d="M315.9 176.6H324.1" stroke="#222" stroke-width=".7"/>
<text x="325.6" y="181.6" font-size="11.3" text-anchor="start" >0.4</text>
<path d="M315.9 154.4H324.1" stroke="#222" stroke-width=".7"/>
<text x="325.6" y="159.5" font-size="11.3" text-anchor="start" >0.6</text>
<path d="M315.9 132.3H324.1" stroke="#222" stroke-width=".7"/>
<text x="325.6" y="137.3" font-size="11.3" text-anchor="start" >0.8</text>
<path d="M315.9 110.1H324.1" stroke="#222" stroke-width=".7"/>
<text x="325.6" y="115.1" font-size="11.3" text-anchor="start" >1</text>
<radialGradient id="rg4"><stop offset="0.000" stop-color="#fceb9f"/><stop offset="0.025" stop-color="#fcea9f"/><stop offset="0.050" stop-color="#fcea9e"/><stop offset="0.075" stop-color="#fce99d"/><stop offset="0.100" stop-color="#fce99c"/><stop offset="0.125" stop-color="#fce89b"/><stop offset="0.150" stop-color="#fce79b"/><stop offset="0.175" stop-color="#fce79a"/><stop offset="0.200" stop-color="#fce699"/><stop offset="0.225" stop-color="#fce698"/><stop offset="0.250" stop-color="#fce597"/><stop offset="0.275" stop-color="#fce497"/><stop offset="0.300" stop-color="#fce496"/><stop offset="0.325" stop-color="#fce395"/><stop offset="0.350" stop-color="#fce394"/><stop offset="0.375" stop-color="#fce090"/><stop offset="0.400" stop-color="#fcdd8d"/><stop offset="0.425" stop-color="#fcdb89"/><stop offset="0.450" stop-color="#fcd885"/><stop offset="0.475" stop-color="#fcd581"/><stop offset="0.500" stop-color="#fcd27f"/><stop offset="0.525" stop-color="#fccf7c"/><stop offset="0.550" stop-color="#fccd7a"/><stop offset="0.575" stop-color="#fcc776"/><stop offset="0.600" stop-color="#fcc171"/><stop offset="0.625" stop-color="#fcbb6d"/><stop offset="0.650" stop-color="#fcb668"/><stop offset="0.675" stop-color="#fcb064"/><stop offset="0.700" stop-color="#fba860"/><stop offset="0.725" stop-color="#f89b58"/><stop offset="0.750" stop-color="#f68d50"/><stop offset="0.775" stop-color="#f48048"/><stop offset="0.800" stop-color="#ef7342"/><stop offset="0.820" stop-color="#ec693d"/><stop offset="0.825" stop-color="#eb663c"/><stop offset="0.850" stop-color="#e65a37"/><stop offset="0.875" stop-color="#dc4b30"/><stop offset="0.900" stop-color="#cd3b29"/><stop offset="0.920" stop-color="#c12d24"/><stop offset="0.925" stop-color="#bf2c23"/><stop offset="0.950" stop-color="#b82420"/><stop offset="0.968" stop-color="#ee7041"/><stop offset="0.975" stop-color="#fccb79"/><stop offset="0.982" stop-color="#e5f4a0"/><stop offset="0.992" stop-color="#5ab1a0"/><stop offset="1.000" stop-color="#183e83"/></radialGradient>
<rect x="351.1" y="94.5" width="130.7" height="126.4" fill="#070a6e"/>
<clipPath id="hc5"><rect x="351.1" y="94.5" width="130.7" height="126.4"/></clipPath>
<g clip-path="url(#hc5)"><ellipse cx="416.5" cy="157.7" rx="65.3" ry="63.5" fill="url(#rg4)"/>
<circle cx="407.0" cy="120.6" r="3.9" fill="url(#vA)"/>
<circle cx="427.2" cy="120.6" r="3.9" fill="url(#vA)"/>
<circle cx="444.1" cy="131.4" r="3.9" fill="url(#vA)"/>
<circle cx="454.7" cy="147.6" r="3.9" fill="url(#vA)"/>
<circle cx="454.7" cy="167.1" r="3.9" fill="url(#vA)"/>
<circle cx="445.2" cy="185.1" r="3.9" fill="url(#vA)"/>
<circle cx="426.6" cy="194.8" r="3.9" fill="url(#vA)"/>
<circle cx="405.9" cy="195.3" r="3.9" fill="url(#vA)"/>
<circle cx="388.8" cy="183.6" r="3.9" fill="url(#vA)"/>
<circle cx="378.2" cy="167.4" r="3.9" fill="url(#vA)"/>
<circle cx="378.2" cy="148.3" r="3.9" fill="url(#vA)"/>
<circle cx="388.3" cy="129.6" r="3.9" fill="url(#vA)"/>
<circle cx="419.4" cy="140.8" r="3.9" fill="url(#vA)"/>
<circle cx="433.3" cy="152.1" r="3.9" fill="url(#vA)"/>
<circle cx="431.5" cy="170.1" r="3.9" fill="url(#vA)"/>
<circle cx="413.3" cy="175.5" r="3.9" fill="url(#vA)"/>
<circle cx="400.7" cy="162.9" r="3.9" fill="url(#vA)"/>
<circle cx="401.2" cy="144.9" r="3.9" fill="url(#vA)"/>
</g>
<path d="M364.2 94.5v3.5M364.2 220.9v-3.5M351.1 208.3h3.5M481.8 208.3h-3.5M390.3 94.5v3.5M390.3 220.9v-3.5M351.1 183.0h3.5M481.8 183.0h-3.5M416.5 94.5v5M416.5 220.9v-5M351.1 157.7h5M481.8 157.7h-5M442.6 94.5v3.5M442.6 220.9v-3.5M351.1 132.4h3.5M481.8 132.4h-3.5M468.7 94.5v3.5M468.7 220.9v-3.5M351.1 107.1h3.5M481.8 107.1h-3.5" stroke="#111" stroke-width=".7" fill="none" opacity=".8"/>
<text x="356.3" y="110.0" font-size="11.9" text-anchor="start" font-weight="bold" fill="#fff">(b)</text>
<rect x="432.1" y="100.0" width="44.2" height="19.6" fill="#fff"/>
<text x="434.8" y="114.3" font-size="11.3" text-anchor="start" >Ω=0.48</text>
<linearGradient id="cb6" x1="0" y1="0" x2="0" y2="1"><stop offset="0.000" stop-color="#a01818"/><stop offset="0.050" stop-color="#b82420"/><stop offset="0.123" stop-color="#e45434"/><stop offset="0.210" stop-color="#f48048"/><stop offset="0.300" stop-color="#fcb064"/><stop offset="0.390" stop-color="#fcd480"/><stop offset="0.474" stop-color="#fcf4ac"/><stop offset="0.560" stop-color="#e4f4a0"/><stop offset="0.650" stop-color="#b4e0a0"/><stop offset="0.740" stop-color="#7ccaa4"/><stop offset="0.825" stop-color="#3c9c9c"/><stop offset="0.910" stop-color="#1c4c88"/><stop offset="1.000" stop-color="#070a6e"/></linearGradient>
<rect x="485.2" y="94.5" width="6.2" height="126.4" fill="url(#cb6)" stroke="#333" stroke-width=".5"/>
<path d="M485.2 220.9H493.4" stroke="#222" stroke-width=".7"/>
<text x="494.9" y="225.9" font-size="11.3" text-anchor="start" >0</text>
<path d="M485.2 193.8H493.4" stroke="#222" stroke-width=".7"/>
<text x="494.9" y="198.8" font-size="11.3" text-anchor="start" >0.3</text>
<path d="M485.2 166.7H493.4" stroke="#222" stroke-width=".7"/>
<text x="494.9" y="171.8" font-size="11.3" text-anchor="start" >0.6</text>
<path d="M485.2 139.6H493.4" stroke="#222" stroke-width=".7"/>
<text x="494.9" y="144.7" font-size="11.3" text-anchor="start" >0.9</text>
<path d="M485.2 112.6H493.4" stroke="#222" stroke-width=".7"/>
<text x="494.9" y="117.6" font-size="11.3" text-anchor="start" >1.2</text>
<radialGradient id="rg7"><stop offset="0.000" stop-color="#132f7c"/><stop offset="0.025" stop-color="#13317d"/><stop offset="0.050" stop-color="#14347e"/><stop offset="0.075" stop-color="#15367f"/><stop offset="0.100" stop-color="#163880"/><stop offset="0.125" stop-color="#173b81"/><stop offset="0.150" stop-color="#173d82"/><stop offset="0.175" stop-color="#1a4786"/><stop offset="0.200" stop-color="#1f528a"/><stop offset="0.225" stop-color="#245f8d"/><stop offset="0.250" stop-color="#296b90"/><stop offset="0.275" stop-color="#2e7893"/><stop offset="0.300" stop-color="#338496"/><stop offset="0.325" stop-color="#3a969b"/><stop offset="0.350" stop-color="#45a39d"/><stop offset="0.375" stop-color="#54ad9f"/><stop offset="0.400" stop-color="#62b7a1"/><stop offset="0.420" stop-color="#6dbfa2"/><stop offset="0.425" stop-color="#6fc1a2"/><stop offset="0.450" stop-color="#79c8a4"/><stop offset="0.475" stop-color="#82cca4"/><stop offset="0.500" stop-color="#8ad0a3"/><stop offset="0.525" stop-color="#93d3a2"/><stop offset="0.550" stop-color="#9bd6a2"/><stop offset="0.575" stop-color="#a8dba1"/><stop offset="0.600" stop-color="#b4e0a0"/><stop offset="0.625" stop-color="#bfe5a0"/><stop offset="0.650" stop-color="#cae9a0"/><stop offset="0.660" stop-color="#cfeba0"/><stop offset="0.675" stop-color="#d9efa0"/><stop offset="0.700" stop-color="#e7f4a1"/><stop offset="0.725" stop-color="#f0f4a6"/><stop offset="0.740" stop-color="#f5f4a8"/><stop offset="0.750" stop-color="#f9f4ab"/><stop offset="0.775" stop-color="#fce99d"/><stop offset="0.800" stop-color="#fcda89"/><stop offset="0.820" stop-color="#fcce7b"/><stop offset="0.825" stop-color="#fcc977"/><stop offset="0.850" stop-color="#fcb064"/><stop offset="0.875" stop-color="#f68f51"/><stop offset="0.890" stop-color="#f27b46"/><stop offset="0.900" stop-color="#ed6d3f"/><stop offset="0.925" stop-color="#d8472e"/><stop offset="0.935" stop-color="#c73427"/><stop offset="0.950" stop-color="#bc2822"/><stop offset="0.955" stop-color="#b82420"/><stop offset="0.972" stop-color="#fcb064"/><stop offset="0.975" stop-color="#fcc776"/><stop offset="0.985" stop-color="#e7f4a1"/><stop offset="0.993" stop-color="#4faa9e"/><stop offset="1.000" stop-color="#132f7c"/></radialGradient>
<rect x="520.3" y="94.5" width="130.7" height="126.4" fill="#070a6e"/>
<clipPath id="hc8"><rect x="520.3" y="94.5" width="130.7" height="126.4"/></clipPath>
<g clip-path="url(#hc8)"><ellipse cx="585.6" cy="157.7" rx="65.3" ry="63.5" fill="url(#rg7)"/>
<circle cx="589.7" cy="139.3" r="5.2" fill="url(#vB)"/>
<circle cx="603.2" cy="146.9" r="5.2" fill="url(#vB)"/>
<circle cx="606.1" cy="162.9" r="5.2" fill="url(#vB)"/>
<circle cx="594.2" cy="174.6" r="5.2" fill="url(#vB)"/>
<circle cx="578.5" cy="173.4" r="5.2" fill="url(#vB)"/>
<circle cx="568.8" cy="159.5" r="5.2" fill="url(#vB)"/>
<circle cx="574.0" cy="144.9" r="5.2" fill="url(#vB)"/>
<circle cx="581.8" cy="125.1" r="3.6" fill="url(#vB)"/>
<circle cx="598.7" cy="125.8" r="3.6" fill="url(#vB)"/>
<circle cx="612.9" cy="134.1" r="3.6" fill="url(#vB)"/>
<circle cx="621.6" cy="149.4" r="3.6" fill="url(#vB)"/>
<circle cx="622.3" cy="166.0" r="3.6" fill="url(#vB)"/>
<circle cx="613.3" cy="180.2" r="3.6" fill="url(#vB)"/>
<circle cx="599.4" cy="189.6" r="3.6" fill="url(#vB)"/>
<circle cx="583.2" cy="190.8" r="3.6" fill="url(#vB)"/>
<circle cx="567.7" cy="185.4" r="3.6" fill="url(#vB)"/>
<circle cx="557.8" cy="173.4" r="3.6" fill="url(#vB)"/>
<circle cx="552.6" cy="158.4" r="3.6" fill="url(#vB)"/>
<circle cx="556.4" cy="143.5" r="3.6" fill="url(#vB)"/>
<circle cx="566.8" cy="131.2" r="3.6" fill="url(#vB)"/>
<circle cx="584.1" cy="108.2" r="3.6" fill="url(#vA)"/>
<circle cx="600.5" cy="110.5" r="3.6" fill="url(#vA)"/>
<circle cx="616.0" cy="118.3" r="3.6" fill="url(#vA)"/>
<circle cx="628.8" cy="129.6" r="3.6" fill="url(#vA)"/>
<circle cx="636.2" cy="144.4" r="3.6" fill="url(#vA)"/>
<circle cx="637.6" cy="161.3" r="3.6" fill="url(#vA)"/>
<circle cx="632.6" cy="178.2" r="3.6" fill="url(#vA)"/>
<circle cx="622.8" cy="192.6" r="3.6" fill="url(#vA)"/>
<circle cx="608.8" cy="202.0" r="3.6" fill="url(#vA)"/>
<circle cx="592.4" cy="206.5" r="3.6" fill="url(#vA)"/>
<circle cx="575.5" cy="205.6" r="3.6" fill="url(#vA)"/>
<circle cx="560.0" cy="199.8" r="3.6" fill="url(#vA)"/>
<circle cx="548.1" cy="189.0" r="3.6" fill="url(#vA)"/>
<circle cx="539.6" cy="175.7" r="3.6" fill="url(#vA)"/>
<circle cx="535.7" cy="161.1" r="3.6" fill="url(#vA)"/>
<circle cx="537.5" cy="145.3" r="3.6" fill="url(#vA)"/>
<circle cx="543.8" cy="131.4" r="3.6" fill="url(#vA)"/>
<circle cx="553.9" cy="119.9" r="3.6" fill="url(#vA)"/>
<circle cx="567.9" cy="112.1" r="3.6" fill="url(#vA)"/>
<circle cx="584.1" cy="159.3" r="1.3" fill="#fff"/>
<circle cx="589.7" cy="155.5" r="1.3" fill="#fff"/>
</g>
<path d="M533.4 94.5v3.5M533.4 220.9v-3.5M520.3 208.3h3.5M651.0 208.3h-3.5M559.5 94.5v3.5M559.5 220.9v-3.5M520.3 183.0h3.5M651.0 183.0h-3.5M585.6 94.5v5M585.6 220.9v-5M520.3 157.7h5M651.0 157.7h-5M611.8 94.5v3.5M611.8 220.9v-3.5M520.3 132.4h3.5M651.0 132.4h-3.5M637.9 94.5v3.5M637.9 220.9v-3.5M520.3 107.1h3.5M651.0 107.1h-3.5" stroke="#111" stroke-width=".7" fill="none" opacity=".8"/>
<text x="525.5" y="110.0" font-size="11.9" text-anchor="start" font-weight="bold" fill="#fff">(c)</text>
<rect x="601.3" y="100.0" width="44.2" height="19.6" fill="#fff"/>
<text x="604.0" y="114.3" font-size="11.3" text-anchor="start" >Ω=0.78</text>
<linearGradient id="cb9" x1="0" y1="0" x2="0" y2="1"><stop offset="0.000" stop-color="#a01818"/><stop offset="0.050" stop-color="#b82420"/><stop offset="0.123" stop-color="#e45434"/><stop offset="0.210" stop-color="#f48048"/><stop offset="0.300" stop-color="#fcb064"/><stop offset="0.390" stop-color="#fcd480"/><stop offset="0.474" stop-color="#fcf4ac"/><stop offset="0.560" stop-color="#e4f4a0"/><stop offset="0.650" stop-color="#b4e0a0"/><stop offset="0.740" stop-color="#7ccaa4"/><stop offset="0.825" stop-color="#3c9c9c"/><stop offset="0.910" stop-color="#1c4c88"/><stop offset="1.000" stop-color="#070a6e"/></linearGradient>
<rect x="654.4" y="94.5" width="6.2" height="126.4" fill="url(#cb9)" stroke="#333" stroke-width=".5"/>
<path d="M654.4 220.9H662.6" stroke="#222" stroke-width=".7"/>
<text x="664.1" y="225.9" font-size="11.3" text-anchor="start" >0</text>
<path d="M654.4 189.3H662.6" stroke="#222" stroke-width=".7"/>
<text x="664.1" y="194.3" font-size="11.3" text-anchor="start" >0.5</text>
<path d="M654.4 157.7H662.6" stroke="#222" stroke-width=".7"/>
<text x="664.1" y="162.7" font-size="11.3" text-anchor="start" >1</text>
<path d="M654.4 126.1H662.6" stroke="#222" stroke-width=".7"/>
<text x="664.1" y="131.1" font-size="11.3" text-anchor="start" >1.5</text>
<path d="M654.4 94.5H662.6" stroke="#222" stroke-width=".7"/>
<text x="664.1" y="99.5" font-size="11.3" text-anchor="start" >2</text>
<radialGradient id="rg10"><stop offset="0.000" stop-color="#070a6e"/><stop offset="0.025" stop-color="#070b6e"/><stop offset="0.050" stop-color="#070b6e"/><stop offset="0.075" stop-color="#080c6f"/><stop offset="0.100" stop-color="#080c6f"/><stop offset="0.125" stop-color="#080d6f"/><stop offset="0.150" stop-color="#080e6f"/><stop offset="0.175" stop-color="#080e70"/><stop offset="0.200" stop-color="#090f70"/><stop offset="0.225" stop-color="#090f70"/><stop offset="0.250" stop-color="#091070"/><stop offset="0.275" stop-color="#091171"/><stop offset="0.300" stop-color="#091171"/><stop offset="0.325" stop-color="#0c1a74"/><stop offset="0.350" stop-color="#0f2378"/><stop offset="0.375" stop-color="#122c7b"/><stop offset="0.400" stop-color="#15357f"/><stop offset="0.425" stop-color="#20578b"/><stop offset="0.450" stop-color="#307f95"/><stop offset="0.475" stop-color="#45a29d"/><stop offset="0.480" stop-color="#4ba79e"/><stop offset="0.500" stop-color="#5ab2a0"/><stop offset="0.525" stop-color="#6ec0a2"/><stop offset="0.550" stop-color="#80cca4"/><stop offset="0.575" stop-color="#90d2a3"/><stop offset="0.600" stop-color="#a0d8a1"/><stop offset="0.625" stop-color="#afdea0"/><stop offset="0.650" stop-color="#bee4a0"/><stop offset="0.675" stop-color="#cbeaa0"/><stop offset="0.700" stop-color="#d9efa0"/><stop offset="0.720" stop-color="#e3f4a0"/><stop offset="0.725" stop-color="#e6f4a1"/><stop offset="0.750" stop-color="#f0f4a6"/><stop offset="0.775" stop-color="#fbf4ac"/><stop offset="0.800" stop-color="#fce79a"/><stop offset="0.825" stop-color="#fccf7c"/><stop offset="0.850" stop-color="#fcb769"/><stop offset="0.860" stop-color="#fbac62"/><stop offset="0.875" stop-color="#f89554"/><stop offset="0.900" stop-color="#ee7041"/><stop offset="0.920" stop-color="#e35334"/><stop offset="0.925" stop-color="#dc4b30"/><stop offset="0.950" stop-color="#b72420"/><stop offset="0.970" stop-color="#f99f5a"/><stop offset="0.975" stop-color="#fcca78"/><stop offset="0.985" stop-color="#e3f4a0"/><stop offset="0.993" stop-color="#4ba79e"/><stop offset="1.000" stop-color="#122e7c"/></radialGradient>
<rect x="689.5" y="94.5" width="130.7" height="126.4" fill="#070a6e"/>
<clipPath id="hc11"><rect x="689.5" y="94.5" width="130.7" height="126.4"/></clipPath>
<g clip-path="url(#hc11)"><ellipse cx="754.9" cy="157.7" rx="65.3" ry="63.5" fill="url(#rg10)"/>
<circle cx="747.0" cy="124.0" r="3.6" fill="url(#vB)"/>
<circle cx="763.4" cy="124.6" r="3.6" fill="url(#vB)"/>
<circle cx="778.0" cy="132.3" r="3.6" fill="url(#vB)"/>
<circle cx="786.8" cy="144.9" r="3.6" fill="url(#vB)"/>
<circle cx="790.8" cy="159.9" r="3.6" fill="url(#vB)"/>
<circle cx="785.2" cy="175.2" r="3.6" fill="url(#vB)"/>
<circle cx="774.0" cy="186.5" r="3.6" fill="url(#vB)"/>
<circle cx="759.3" cy="192.1" r="3.6" fill="url(#vB)"/>
<circle cx="743.6" cy="190.8" r="3.6" fill="url(#vB)"/>
<circle cx="729.7" cy="183.6" r="3.6" fill="url(#vB)"/>
<circle cx="720.7" cy="171.2" r="3.6" fill="url(#vB)"/>
<circle cx="717.1" cy="156.6" r="3.6" fill="url(#vB)"/>
<circle cx="721.6" cy="142.0" r="3.6" fill="url(#vB)"/>
<circle cx="731.9" cy="130.0" r="3.6" fill="url(#vB)"/>
<circle cx="806.4" cy="165.5" r="3.6" fill="url(#vA)"/>
<circle cx="801.5" cy="181.1" r="3.6" fill="url(#vA)"/>
<circle cx="792.0" cy="194.3" r="3.6" fill="url(#vA)"/>
<circle cx="778.9" cy="204.0" r="3.6" fill="url(#vA)"/>
<circle cx="763.4" cy="209.2" r="3.6" fill="url(#vA)"/>
<circle cx="747.1" cy="209.3" r="3.6" fill="url(#vA)"/>
<circle cx="731.5" cy="204.4" r="3.6" fill="url(#vA)"/>
<circle cx="718.2" cy="194.9" r="3.6" fill="url(#vA)"/>
<circle cx="708.5" cy="181.7" r="3.6" fill="url(#vA)"/>
<circle cx="703.4" cy="166.2" r="3.6" fill="url(#vA)"/>
<circle cx="703.3" cy="149.9" r="3.6" fill="url(#vA)"/>
<circle cx="708.2" cy="134.3" r="3.6" fill="url(#vA)"/>
<circle cx="717.7" cy="121.1" r="3.6" fill="url(#vA)"/>
<circle cx="730.8" cy="111.4" r="3.6" fill="url(#vA)"/>
<circle cx="746.3" cy="106.2" r="3.6" fill="url(#vA)"/>
<circle cx="762.6" cy="106.1" r="3.6" fill="url(#vA)"/>
<circle cx="778.2" cy="111.0" r="3.6" fill="url(#vA)"/>
<circle cx="791.5" cy="120.5" r="3.6" fill="url(#vA)"/>
<circle cx="801.2" cy="133.7" r="3.6" fill="url(#vA)"/>
<circle cx="806.3" cy="149.2" r="3.6" fill="url(#vA)"/>
<circle cx="754.9" cy="176.1" r="1.3" fill="#fff"/>
<circle cx="741.8" cy="170.7" r="1.3" fill="#fff"/>
<circle cx="736.4" cy="157.7" r="1.3" fill="#fff"/>
<circle cx="741.8" cy="144.7" r="1.3" fill="#fff"/>
<circle cx="754.9" cy="139.3" r="1.3" fill="#fff"/>
<circle cx="767.9" cy="144.7" r="1.3" fill="#fff"/>
<circle cx="773.3" cy="157.7" r="1.3" fill="#fff"/>
<circle cx="767.9" cy="170.7" r="1.3" fill="#fff"/>
<circle cx="753.6" cy="158.9" r="1.3" fill="#fff"/>
<circle cx="756.4" cy="156.5" r="1.3" fill="#fff"/>
</g>
<path d="M702.6 94.5v3.5M702.6 220.9v-3.5M689.5 208.3h3.5M820.2 208.3h-3.5M728.7 94.5v3.5M728.7 220.9v-3.5M689.5 183.0h3.5M820.2 183.0h-3.5M754.9 94.5v5M754.9 220.9v-5M689.5 157.7h5M820.2 157.7h-5M781.0 94.5v3.5M781.0 220.9v-3.5M689.5 132.4h3.5M820.2 132.4h-3.5M807.1 94.5v3.5M807.1 220.9v-3.5M689.5 107.1h3.5M820.2 107.1h-3.5" stroke="#111" stroke-width=".7" fill="none" opacity=".8"/>
<text x="694.7" y="110.0" font-size="11.9" text-anchor="start" font-weight="bold" fill="#fff">(d)</text>
<rect x="770.5" y="100.0" width="44.2" height="19.6" fill="#fff"/>
<text x="773.2" y="114.3" font-size="11.3" text-anchor="start" >Ω=0.84</text>
<linearGradient id="cb12" x1="0" y1="0" x2="0" y2="1"><stop offset="0.000" stop-color="#a01818"/><stop offset="0.050" stop-color="#b82420"/><stop offset="0.123" stop-color="#e45434"/><stop offset="0.210" stop-color="#f48048"/><stop offset="0.300" stop-color="#fcb064"/><stop offset="0.390" stop-color="#fcd480"/><stop offset="0.474" stop-color="#fcf4ac"/><stop offset="0.560" stop-color="#e4f4a0"/><stop offset="0.650" stop-color="#b4e0a0"/><stop offset="0.740" stop-color="#7ccaa4"/><stop offset="0.825" stop-color="#3c9c9c"/><stop offset="0.910" stop-color="#1c4c88"/><stop offset="1.000" stop-color="#070a6e"/></linearGradient>
<rect x="823.6" y="94.5" width="6.2" height="126.4" fill="url(#cb12)" stroke="#333" stroke-width=".5"/>
<path d="M823.6 220.9H831.8" stroke="#222" stroke-width=".7"/>
<text x="833.3" y="225.9" font-size="11.3" text-anchor="start" >0</text>
<path d="M823.6 190.1H831.8" stroke="#222" stroke-width=".7"/>
<text x="833.3" y="195.1" font-size="11.3" text-anchor="start" >0.5</text>
<path d="M823.6 159.2H831.8" stroke="#222" stroke-width=".7"/>
<text x="833.3" y="164.3" font-size="11.3" text-anchor="start" >1</text>
<path d="M823.6 128.4H831.8" stroke="#222" stroke-width=".7"/>
<text x="833.3" y="133.4" font-size="11.3" text-anchor="start" >1.5</text>
<path d="M823.6 97.6H831.8" stroke="#222" stroke-width=".7"/>
<text x="833.3" y="102.6" font-size="11.3" text-anchor="start" >2</text>
<radialGradient id="rg13"><stop offset="0.000" stop-color="#d7462e"/><stop offset="0.025" stop-color="#d7462e"/><stop offset="0.050" stop-color="#d7452e"/><stop offset="0.075" stop-color="#d6452e"/><stop offset="0.100" stop-color="#d6442e"/><stop offset="0.125" stop-color="#d5442d"/><stop offset="0.150" stop-color="#d5442d"/><stop offset="0.175" stop-color="#d5432d"/><stop offset="0.200" stop-color="#d4432d"/><stop offset="0.225" stop-color="#d4422d"/><stop offset="0.250" stop-color="#d3422c"/><stop offset="0.275" stop-color="#d3412c"/><stop offset="0.300" stop-color="#d2412c"/><stop offset="0.325" stop-color="#d2402c"/><stop offset="0.350" stop-color="#d2402c"/><stop offset="0.375" stop-color="#d1402b"/><stop offset="0.400" stop-color="#d13f2b"/><stop offset="0.425" stop-color="#d03f2b"/><stop offset="0.450" stop-color="#d03e2b"/><stop offset="0.475" stop-color="#d03e2b"/><stop offset="0.500" stop-color="#cf3d2b"/><stop offset="0.525" stop-color="#ce3d2a"/><stop offset="0.550" stop-color="#ce3c2a"/><stop offset="0.575" stop-color="#cd3b2a"/><stop offset="0.600" stop-color="#cc3a29"/><stop offset="0.625" stop-color="#cc3a29"/><stop offset="0.650" stop-color="#cb3929"/><stop offset="0.675" stop-color="#ca3828"/><stop offset="0.700" stop-color="#ca3728"/><stop offset="0.725" stop-color="#c93728"/><stop offset="0.750" stop-color="#c83627"/><stop offset="0.775" stop-color="#c83527"/><stop offset="0.800" stop-color="#c73427"/><stop offset="0.825" stop-color="#c63426"/><stop offset="0.850" stop-color="#c63326"/><stop offset="0.875" stop-color="#c53226"/><stop offset="0.900" stop-color="#c43126"/><stop offset="0.925" stop-color="#c22f25"/><stop offset="0.950" stop-color="#c02d24"/><stop offset="0.970" stop-color="#bf2b23"/><stop offset="0.975" stop-color="#f5844a"/><stop offset="0.982" stop-color="#fce597"/><stop offset="0.992" stop-color="#fce597"/><stop offset="1.000" stop-color="#1c4d88"/></radialGradient>
<rect x="181.8" y="244.0" width="130.7" height="126.4" fill="#070a6e"/>
<clipPath id="hc14"><rect x="181.8" y="244.0" width="130.7" height="126.4"/></clipPath>
<g clip-path="url(#hc14)"><ellipse cx="247.2" cy="307.2" rx="67.3" ry="65.4" fill="url(#rg13)"/>
<circle cx="236.0" cy="307.0" r="3.0" fill="url(#vE)"/>
<circle cx="247.2" cy="296.4" r="3.0" fill="url(#vE)"/>
<circle cx="258.4" cy="307.0" r="3.0" fill="url(#vE)"/>
<circle cx="247.2" cy="318.0" r="3.0" fill="url(#vE)"/>
</g>
<path d="M194.9 244.0v3.5M194.9 370.4v-3.5M181.8 357.8h3.5M312.5 357.8h-3.5M221.0 244.0v3.5M221.0 370.4v-3.5M181.8 332.5h3.5M312.5 332.5h-3.5M247.2 244.0v5M247.2 370.4v-5M181.8 307.2h5M312.5 307.2h-5M273.3 244.0v3.5M273.3 370.4v-3.5M181.8 281.9h3.5M312.5 281.9h-3.5M299.4 244.0v3.5M299.4 370.4v-3.5M181.8 256.6h3.5M312.5 256.6h-3.5" stroke="#111" stroke-width=".7" fill="none" opacity=".8"/>
<text x="187.0" y="259.5" font-size="11.9" text-anchor="start" font-weight="bold" fill="#fff">(e)</text>
<rect x="262.8" y="249.5" width="44.2" height="19.6" fill="#fff"/>
<text x="265.5" y="263.8" font-size="11.3" text-anchor="start" >Ω=0.82</text>
<text x="194.9" y="382.6" font-size="11.3" text-anchor="middle" >-200</text>
<text x="221.0" y="382.6" font-size="11.3" text-anchor="middle" >-100</text>
<text x="247.2" y="382.6" font-size="11.3" text-anchor="middle" >0</text>
<text x="273.3" y="382.6" font-size="11.3" text-anchor="middle" >100</text>
<text x="299.4" y="382.6" font-size="11.3" text-anchor="middle" >200</text>
<text x="247.2" y="392.6" font-size="11.3" text-anchor="middle" >x</text>
<text x="179.3" y="362.3" font-size="11.3" text-anchor="end" >-200</text>
<text x="179.3" y="337.0" font-size="11.3" text-anchor="end" >-100</text>
<text x="179.3" y="311.7" font-size="11.3" text-anchor="end" >0</text>
<text x="179.3" y="286.4" font-size="11.3" text-anchor="end" >100</text>
<text x="179.3" y="261.1" font-size="11.3" text-anchor="end" >200</text>
<text transform="translate(166.8,307.2) rotate(-90)" font-size="11.3" text-anchor="middle">y</text>
<linearGradient id="cb15" x1="0" y1="0" x2="0" y2="1"><stop offset="0.000" stop-color="#a01818"/><stop offset="0.050" stop-color="#b82420"/><stop offset="0.123" stop-color="#e45434"/><stop offset="0.210" stop-color="#f48048"/><stop offset="0.300" stop-color="#fcb064"/><stop offset="0.390" stop-color="#fcd480"/><stop offset="0.474" stop-color="#fcf4ac"/><stop offset="0.560" stop-color="#e4f4a0"/><stop offset="0.650" stop-color="#b4e0a0"/><stop offset="0.740" stop-color="#7ccaa4"/><stop offset="0.825" stop-color="#3c9c9c"/><stop offset="0.910" stop-color="#1c4c88"/><stop offset="1.000" stop-color="#070a6e"/></linearGradient>
<rect x="315.9" y="244.0" width="6.2" height="126.4" fill="url(#cb15)" stroke="#333" stroke-width=".5"/>
<path d="M315.9 370.4H324.1" stroke="#222" stroke-width=".7"/>
<text x="325.6" y="375.4" font-size="11.3" text-anchor="start" >0</text>
<path d="M315.9 347.4H324.1" stroke="#222" stroke-width=".7"/>
<text x="325.6" y="352.4" font-size="11.3" text-anchor="start" >0.2</text>
<path d="M315.9 324.3H324.1" stroke="#222" stroke-width=".7"/>
<text x="325.6" y="329.3" font-size="11.3" text-anchor="start" >0.4</text>
<path d="M315.9 301.3H324.1" stroke="#222" stroke-width=".7"/>
<text x="325.6" y="306.3" font-size="11.3" text-anchor="start" >0.6</text>
<path d="M315.9 278.2H324.1" stroke="#222" stroke-width=".7"/>
<text x="325.6" y="283.3" font-size="11.3" text-anchor="start" >0.8</text>
<path d="M315.9 255.2H324.1" stroke="#222" stroke-width=".7"/>
<text x="325.6" y="260.2" font-size="11.3" text-anchor="start" >1</text>
<radialGradient id="rg16"><stop offset="0.000" stop-color="#ef7342"/><stop offset="0.025" stop-color="#ef7342"/><stop offset="0.050" stop-color="#ef7242"/><stop offset="0.075" stop-color="#ef7241"/><stop offset="0.100" stop-color="#ef7141"/><stop offset="0.125" stop-color="#ee7141"/><stop offset="0.150" stop-color="#ee7041"/><stop offset="0.175" stop-color="#ee7041"/><stop offset="0.200" stop-color="#ee6f40"/><stop offset="0.225" stop-color="#ee6f40"/><stop offset="0.250" stop-color="#ee6f40"/><stop offset="0.275" stop-color="#ed6e40"/><stop offset="0.300" stop-color="#ed6e40"/><stop offset="0.325" stop-color="#ed6d3f"/><stop offset="0.350" stop-color="#ed6d3f"/><stop offset="0.375" stop-color="#ed6c3f"/><stop offset="0.400" stop-color="#ed6c3f"/><stop offset="0.425" stop-color="#ed6b3f"/><stop offset="0.450" stop-color="#ec6b3e"/><stop offset="0.475" stop-color="#ec6b3e"/><stop offset="0.500" stop-color="#ec6a3e"/><stop offset="0.525" stop-color="#eb693d"/><stop offset="0.550" stop-color="#eb673d"/><stop offset="0.575" stop-color="#ea663c"/><stop offset="0.600" stop-color="#ea643b"/><stop offset="0.625" stop-color="#e9633b"/><stop offset="0.650" stop-color="#e9613a"/><stop offset="0.675" stop-color="#e86039"/><stop offset="0.700" stop-color="#e85e39"/><stop offset="0.725" stop-color="#e75d38"/><stop offset="0.750" stop-color="#e75b37"/><stop offset="0.775" stop-color="#e65a37"/><stop offset="0.800" stop-color="#e65836"/><stop offset="0.825" stop-color="#e55535"/><stop offset="0.850" stop-color="#e25233"/><stop offset="0.875" stop-color="#df4e32"/><stop offset="0.900" stop-color="#db4a30"/><stop offset="0.925" stop-color="#d8462e"/><stop offset="0.950" stop-color="#d4432d"/><stop offset="0.970" stop-color="#d4432d"/><stop offset="0.975" stop-color="#f79353"/><stop offset="0.982" stop-color="#fceda3"/><stop offset="0.992" stop-color="#fceda3"/><stop offset="1.000" stop-color="#1b4a87"/></radialGradient>
<rect x="351.1" y="244.0" width="130.7" height="126.4" fill="#070a6e"/>
<clipPath id="hc17"><rect x="351.1" y="244.0" width="130.7" height="126.4"/></clipPath>
<g clip-path="url(#hc17)"><ellipse cx="416.5" cy="307.2" rx="67.3" ry="65.4" fill="url(#rg16)"/>
<circle cx="409.3" cy="279.1" r="2.7" fill="url(#vF)"/>
<circle cx="425.1" cy="280.8" r="2.7" fill="url(#vF)"/>
<circle cx="437.8" cy="287.5" r="2.7" fill="url(#vF)"/>
<circle cx="443.8" cy="300.5" r="2.7" fill="url(#vF)"/>
<circle cx="444.3" cy="315.1" r="2.7" fill="url(#vF)"/>
<circle cx="436.1" cy="327.6" r="2.7" fill="url(#vF)"/>
<circle cx="422.9" cy="333.1" r="2.7" fill="url(#vF)"/>
<circle cx="409.0" cy="333.1" r="2.7" fill="url(#vF)"/>
<circle cx="395.1" cy="328.1" r="2.7" fill="url(#vF)"/>
<circle cx="387.4" cy="313.7" r="2.7" fill="url(#vF)"/>
<circle cx="388.2" cy="298.8" r="2.7" fill="url(#vF)"/>
<circle cx="396.1" cy="286.3" r="2.7" fill="url(#vF)"/>
<circle cx="413.3" cy="293.1" r="2.7" fill="url(#vF)"/>
<circle cx="425.8" cy="299.0" r="2.7" fill="url(#vF)"/>
<circle cx="429.4" cy="312.5" r="2.7" fill="url(#vF)"/>
<circle cx="416.9" cy="317.5" r="2.7" fill="url(#vF)"/>
<circle cx="403.3" cy="316.1" r="2.7" fill="url(#vF)"/>
<circle cx="403.7" cy="302.4" r="2.7" fill="url(#vF)"/>
</g>
<path d="M364.2 244.0v3.5M364.2 370.4v-3.5M351.1 357.8h3.5M481.8 357.8h-3.5M390.3 244.0v3.5M390.3 370.4v-3.5M351.1 332.5h3.5M481.8 332.5h-3.5M416.5 244.0v5M416.5 370.4v-5M351.1 307.2h5M481.8 307.2h-5M442.6 244.0v3.5M442.6 370.4v-3.5M351.1 281.9h3.5M481.8 281.9h-3.5M468.7 244.0v3.5M468.7 370.4v-3.5M351.1 256.6h3.5M481.8 256.6h-3.5" stroke="#111" stroke-width=".7" fill="none" opacity=".8"/>
<text x="356.3" y="259.5" font-size="11.9" text-anchor="start" font-weight="bold" fill="#fff">(f)</text>
<rect x="432.1" y="249.5" width="44.2" height="19.6" fill="#fff"/>
<text x="434.8" y="263.8" font-size="11.3" text-anchor="start" >Ω=0.92</text>
<text x="364.2" y="382.6" font-size="11.3" text-anchor="middle" >-200</text>
<text x="390.3" y="382.6" font-size="11.3" text-anchor="middle" >-100</text>
<text x="416.5" y="382.6" font-size="11.3" text-anchor="middle" >0</text>
<text x="442.6" y="382.6" font-size="11.3" text-anchor="middle" >100</text>
<text x="468.7" y="382.6" font-size="11.3" text-anchor="middle" >200</text>
<text x="416.5" y="392.6" font-size="11.3" text-anchor="middle" >x</text>
<linearGradient id="cb18" x1="0" y1="0" x2="0" y2="1"><stop offset="0.000" stop-color="#a01818"/><stop offset="0.050" stop-color="#b82420"/><stop offset="0.123" stop-color="#e45434"/><stop offset="0.210" stop-color="#f48048"/><stop offset="0.300" stop-color="#fcb064"/><stop offset="0.390" stop-color="#fcd480"/><stop offset="0.474" stop-color="#fcf4ac"/><stop offset="0.560" stop-color="#e4f4a0"/><stop offset="0.650" stop-color="#b4e0a0"/><stop offset="0.740" stop-color="#7ccaa4"/><stop offset="0.825" stop-color="#3c9c9c"/><stop offset="0.910" stop-color="#1c4c88"/><stop offset="1.000" stop-color="#070a6e"/></linearGradient>
<rect x="485.2" y="244.0" width="6.2" height="126.4" fill="url(#cb18)" stroke="#333" stroke-width=".5"/>
<path d="M485.2 370.4H493.4" stroke="#222" stroke-width=".7"/>
<text x="494.9" y="375.4" font-size="11.3" text-anchor="start" >0</text>
<path d="M485.2 348.2H493.4" stroke="#222" stroke-width=".7"/>
<text x="494.9" y="353.3" font-size="11.3" text-anchor="start" >0.2</text>
<path d="M485.2 326.0H493.4" stroke="#222" stroke-width=".7"/>
<text x="494.9" y="331.1" font-size="11.3" text-anchor="start" >0.4</text>
<path d="M485.2 303.9H493.4" stroke="#222" stroke-width=".7"/>
<text x="494.9" y="308.9" font-size="11.3" text-anchor="start" >0.6</text>
<path d="M485.2 281.7H493.4" stroke="#222" stroke-width=".7"/>
<text x="494.9" y="286.7" font-size="11.3" text-anchor="start" >0.8</text>
<path d="M485.2 259.5H493.4" stroke="#222" stroke-width=".7"/>
<text x="494.9" y="264.6" font-size="11.3" text-anchor="start" >1</text>
<radialGradient id="rg19"><stop offset="0.000" stop-color="#0b1773"/><stop offset="0.025" stop-color="#0c1b75"/><stop offset="0.050" stop-color="#0e1f76"/><stop offset="0.075" stop-color="#0f2378"/><stop offset="0.100" stop-color="#102779"/><stop offset="0.120" stop-color="#112a7b"/><stop offset="0.125" stop-color="#122d7c"/><stop offset="0.150" stop-color="#173d82"/><stop offset="0.175" stop-color="#1c4d88"/><stop offset="0.200" stop-color="#25628d"/><stop offset="0.220" stop-color="#2b7292"/><stop offset="0.225" stop-color="#2e7893"/><stop offset="0.250" stop-color="#3a989b"/><stop offset="0.275" stop-color="#52ac9f"/><stop offset="0.300" stop-color="#6bbea2"/><stop offset="0.325" stop-color="#83cda4"/><stop offset="0.350" stop-color="#98d5a2"/><stop offset="0.375" stop-color="#a9dca1"/><stop offset="0.400" stop-color="#bae2a0"/><stop offset="0.425" stop-color="#c9e9a0"/><stop offset="0.450" stop-color="#d8efa0"/><stop offset="0.475" stop-color="#e6f4a1"/><stop offset="0.480" stop-color="#e7f4a2"/><stop offset="0.500" stop-color="#eef4a5"/><stop offset="0.525" stop-color="#f7f4a9"/><stop offset="0.550" stop-color="#fcf0a6"/><stop offset="0.575" stop-color="#fce496"/><stop offset="0.580" stop-color="#fce293"/><stop offset="0.600" stop-color="#fcd481"/><stop offset="0.625" stop-color="#fcc373"/><stop offset="0.650" stop-color="#fcb265"/><stop offset="0.660" stop-color="#fba960"/><stop offset="0.675" stop-color="#f89655"/><stop offset="0.700" stop-color="#f17844"/><stop offset="0.720" stop-color="#e9613a"/><stop offset="0.725" stop-color="#e65b37"/><stop offset="0.750" stop-color="#c83527"/><stop offset="0.760" stop-color="#b92521"/><stop offset="0.775" stop-color="#b3211e"/><stop offset="0.800" stop-color="#a81c1b"/><stop offset="0.825" stop-color="#a81c1b"/><stop offset="0.850" stop-color="#a81c1b"/><stop offset="0.875" stop-color="#a81c1b"/><stop offset="0.900" stop-color="#a81c1b"/><stop offset="0.925" stop-color="#a81c1b"/><stop offset="0.950" stop-color="#a81c1b"/><stop offset="0.970" stop-color="#a81c1b"/><stop offset="0.975" stop-color="#ed6d40"/><stop offset="0.982" stop-color="#fcd481"/><stop offset="1.000" stop-color="#3c9b9c"/></radialGradient>
<rect x="520.3" y="244.0" width="130.7" height="126.4" fill="#070a6e"/>
<clipPath id="hc20"><rect x="520.3" y="244.0" width="130.7" height="126.4"/></clipPath>
<g clip-path="url(#hc20)"><ellipse cx="585.6" cy="307.2" rx="67.3" ry="65.4" fill="url(#rg19)"/>
<circle cx="525.3" cy="308.1" r="1.1" fill="#fce4a8"/>
<circle cx="528.5" cy="315.4" r="1.1" fill="#fce4a8"/>
<circle cx="531.8" cy="322.7" r="1.5" fill="#fce4a8"/>
<circle cx="535.1" cy="330.0" r="1.5" fill="#fce4a8"/>
<circle cx="538.4" cy="337.3" r="1.5" fill="#fce4a8"/>
<circle cx="541.7" cy="344.6" r="1.1" fill="#fce4a8"/>
<circle cx="545.0" cy="351.9" r="1.1" fill="#fce4a8"/>
<circle cx="526.6" cy="294.3" r="1.1" fill="#fce4a8"/>
<circle cx="529.9" cy="301.6" r="1.5" fill="#fce4a8"/>
<circle cx="533.2" cy="308.9" r="1.5" fill="#fce4a8"/>
<circle cx="536.5" cy="316.2" r="1.5" fill="#fce4a8"/>
<circle cx="539.8" cy="323.5" r="1.5" fill="#fce4a8"/>
<circle cx="543.1" cy="330.8" r="1.5" fill="#fce4a8"/>
<circle cx="546.4" cy="338.1" r="1.5" fill="#fce4a8"/>
<circle cx="549.7" cy="345.4" r="1.5" fill="#fce4a8"/>
<circle cx="552.9" cy="352.7" r="1.5" fill="#fce4a8"/>
<circle cx="556.2" cy="360.0" r="1.1" fill="#fce4a8"/>
<circle cx="531.3" cy="287.8" r="1.1" fill="#fce4a8"/>
<circle cx="534.6" cy="295.1" r="1.5" fill="#fce4a8"/>
<circle cx="537.9" cy="302.4" r="1.5" fill="#fce4a8"/>
<circle cx="541.2" cy="309.7" r="1.9" fill="url(#vF)"/>
<circle cx="544.5" cy="317.0" r="1.9" fill="url(#vF)"/>
<circle cx="547.8" cy="324.3" r="1.9" fill="url(#vF)"/>
<circle cx="551.0" cy="331.6" r="1.9" fill="url(#vF)"/>
<circle cx="554.3" cy="338.9" r="1.9" fill="url(#vF)"/>
<circle cx="557.6" cy="346.2" r="1.5" fill="#fce4a8"/>
<circle cx="560.9" cy="353.5" r="1.5" fill="#fce4a8"/>
<circle cx="564.2" cy="360.8" r="1.1" fill="#fce4a8"/>
<circle cx="536.0" cy="281.3" r="1.5" fill="#fce4a8"/>
<circle cx="539.3" cy="288.6" r="1.5" fill="#fce4a8"/>
<circle cx="542.6" cy="295.9" r="1.9" fill="url(#vF)"/>
<circle cx="545.8" cy="303.2" r="1.1" fill="#1f5f8c"/>
<circle cx="549.1" cy="310.5" r="1.1" fill="#1f5f8c"/>
<circle cx="552.4" cy="317.8" r="1.1" fill="#1f5f8c"/>
<circle cx="555.7" cy="325.1" r="1.1" fill="#1f5f8c"/>
<circle cx="559.0" cy="332.4" r="1.1" fill="#1f5f8c"/>
<circle cx="562.3" cy="339.7" r="1.1" fill="#1f5f8c"/>
<circle cx="565.6" cy="347.0" r="1.5" fill="#fce4a8"/>
<circle cx="568.9" cy="354.3" r="1.5" fill="#fce4a8"/>
<circle cx="572.2" cy="361.6" r="1.1" fill="#fce4a8"/>
<circle cx="540.7" cy="274.8" r="1.5" fill="#fce4a8"/>
<circle cx="543.9" cy="282.1" r="1.5" fill="#fce4a8"/>
<circle cx="547.2" cy="289.4" r="1.9" fill="url(#vF)"/>
<circle cx="550.5" cy="296.7" r="1.1" fill="#1f5f8c"/>
<circle cx="553.8" cy="304.0" r="1.1" fill="#1f5f8c"/>
<circle cx="557.1" cy="311.3" r="1.1" fill="#1f5f8c"/>
<circle cx="560.4" cy="318.6" r="1.1" fill="#1f5f8c"/>
<circle cx="563.7" cy="325.9" r="1.1" fill="#1f5f8c"/>
<circle cx="567.0" cy="333.2" r="1.1" fill="#1f5f8c"/>
<circle cx="570.3" cy="340.5" r="1.1" fill="#1f5f8c"/>
<circle cx="573.5" cy="347.8" r="1.9" fill="url(#vF)"/>
<circle cx="576.8" cy="355.1" r="1.5" fill="#fce4a8"/>
<circle cx="580.1" cy="362.3" r="1.5" fill="#fce4a8"/>
<circle cx="545.3" cy="268.3" r="1.5" fill="#fce4a8"/>
<circle cx="548.6" cy="275.6" r="1.5" fill="#fce4a8"/>
<circle cx="551.9" cy="282.9" r="1.9" fill="url(#vF)"/>
<circle cx="555.2" cy="290.2" r="1.1" fill="#1f5f8c"/>
<circle cx="558.5" cy="297.5" r="1.1" fill="#1f5f8c"/>
<circle cx="561.8" cy="304.8" r="1.1" fill="#1f5f8c"/>
<circle cx="565.1" cy="312.1" r="1.1" fill="#1f5f8c"/>
<circle cx="568.3" cy="319.4" r="1.1" fill="#1f5f8c"/>
<circle cx="571.6" cy="326.7" r="1.1" fill="#1f5f8c"/>
<circle cx="574.9" cy="334.0" r="1.1" fill="#1f5f8c"/>
<circle cx="578.2" cy="341.3" r="1.1" fill="#1f5f8c"/>
<circle cx="581.5" cy="348.6" r="1.9" fill="url(#vF)"/>
<circle cx="584.8" cy="355.9" r="1.5" fill="#fce4a8"/>
<circle cx="588.1" cy="363.1" r="1.1" fill="#fce4a8"/>
<circle cx="550.0" cy="261.8" r="1.1" fill="#fce4a8"/>
<circle cx="553.3" cy="269.1" r="1.5" fill="#fce4a8"/>
<circle cx="556.6" cy="276.4" r="1.9" fill="url(#vF)"/>
<circle cx="559.9" cy="283.7" r="1.1" fill="#1f5f8c"/>
<circle cx="563.2" cy="291.0" r="1.1" fill="#1f5f8c"/>
<circle cx="566.4" cy="298.3" r="1.1" fill="#1f5f8c"/>
<circle cx="569.7" cy="305.6" r="1.1" fill="#1f5f8c"/>
<circle cx="573.0" cy="312.9" r="1.1" fill="#1f5f8c"/>
<circle cx="576.3" cy="320.2" r="1.1" fill="#1f5f8c"/>
<circle cx="579.6" cy="327.5" r="1.1" fill="#1f5f8c"/>
<circle cx="582.9" cy="334.8" r="1.1" fill="#1f5f8c"/>
<circle cx="586.2" cy="342.1" r="1.1" fill="#1f5f8c"/>
<circle cx="589.5" cy="349.4" r="1.9" fill="url(#vF)"/>
<circle cx="592.7" cy="356.7" r="1.5" fill="#fce4a8"/>
<circle cx="596.0" cy="363.9" r="1.1" fill="#fce4a8"/>
<circle cx="554.7" cy="255.4" r="1.1" fill="#fce4a8"/>
<circle cx="558.0" cy="262.6" r="1.5" fill="#fce4a8"/>
<circle cx="561.2" cy="269.9" r="1.9" fill="url(#vF)"/>
<circle cx="564.5" cy="277.2" r="1.1" fill="#1f5f8c"/>
<circle cx="567.8" cy="284.5" r="1.1" fill="#1f5f8c"/>
<circle cx="571.1" cy="291.8" r="1.1" fill="#1f5f8c"/>
<circle cx="574.4" cy="299.1" r="1.1" fill="#1f5f8c"/>
<circle cx="577.7" cy="306.4" r="1.2" fill="#fff"/>
<circle cx="581.0" cy="313.7" r="1.2" fill="#fff"/>
<circle cx="584.3" cy="321.0" r="1.1" fill="#1f5f8c"/>
<circle cx="587.6" cy="328.3" r="1.1" fill="#1f5f8c"/>
<circle cx="590.8" cy="335.6" r="1.1" fill="#1f5f8c"/>
<circle cx="594.1" cy="342.9" r="1.1" fill="#1f5f8c"/>
<circle cx="597.4" cy="350.2" r="1.5" fill="#fce4a8"/>
<circle cx="600.7" cy="357.5" r="1.5" fill="#fce4a8"/>
<circle cx="604.0" cy="364.7" r="1.1" fill="#fce4a8"/>
<circle cx="562.6" cy="256.1" r="1.1" fill="#fce4a8"/>
<circle cx="565.9" cy="263.4" r="1.5" fill="#fce4a8"/>
<circle cx="569.2" cy="270.7" r="1.1" fill="#1f5f8c"/>
<circle cx="572.5" cy="278.0" r="1.1" fill="#1f5f8c"/>
<circle cx="575.8" cy="285.3" r="1.1" fill="#1f5f8c"/>
<circle cx="579.1" cy="292.6" r="1.1" fill="#1f5f8c"/>
<circle cx="582.4" cy="299.9" r="1.2" fill="#fff"/>
<circle cx="585.6" cy="307.2" r="1.2" fill="#fff"/>
<circle cx="588.9" cy="314.5" r="1.2" fill="#fff"/>
<circle cx="592.2" cy="321.8" r="1.1" fill="#1f5f8c"/>
<circle cx="595.5" cy="329.1" r="1.1" fill="#1f5f8c"/>
<circle cx="598.8" cy="336.4" r="1.1" fill="#1f5f8c"/>
<circle cx="602.1" cy="343.7" r="1.1" fill="#1f5f8c"/>
<circle cx="605.4" cy="351.0" r="1.5" fill="#fce4a8"/>
<circle cx="608.7" cy="358.3" r="1.1" fill="#fce4a8"/>
<circle cx="567.3" cy="249.7" r="1.1" fill="#fce4a8"/>
<circle cx="570.6" cy="256.9" r="1.5" fill="#fce4a8"/>
<circle cx="573.9" cy="264.2" r="1.5" fill="#fce4a8"/>
<circle cx="577.2" cy="271.5" r="1.1" fill="#1f5f8c"/>
<circle cx="580.5" cy="278.8" r="1.1" fill="#1f5f8c"/>
<circle cx="583.7" cy="286.1" r="1.1" fill="#1f5f8c"/>
<circle cx="587.0" cy="293.4" r="1.1" fill="#1f5f8c"/>
<circle cx="590.3" cy="300.7" r="1.2" fill="#fff"/>
<circle cx="593.6" cy="308.0" r="1.2" fill="#fff"/>
<circle cx="596.9" cy="315.3" r="1.1" fill="#1f5f8c"/>
<circle cx="600.2" cy="322.6" r="1.1" fill="#1f5f8c"/>
<circle cx="603.5" cy="329.9" r="1.1" fill="#1f5f8c"/>
<circle cx="606.8" cy="337.2" r="1.1" fill="#1f5f8c"/>
<circle cx="610.1" cy="344.5" r="1.9" fill="url(#vF)"/>
<circle cx="613.3" cy="351.8" r="1.5" fill="#fce4a8"/>
<circle cx="616.6" cy="359.0" r="1.1" fill="#fce4a8"/>
<circle cx="575.3" cy="250.5" r="1.1" fill="#fce4a8"/>
<circle cx="578.6" cy="257.7" r="1.5" fill="#fce4a8"/>
<circle cx="581.8" cy="265.0" r="1.9" fill="url(#vF)"/>
<circle cx="585.1" cy="272.3" r="1.1" fill="#1f5f8c"/>
<circle cx="588.4" cy="279.6" r="1.1" fill="#1f5f8c"/>
<circle cx="591.7" cy="286.9" r="1.1" fill="#1f5f8c"/>
<circle cx="595.0" cy="294.2" r="1.1" fill="#1f5f8c"/>
<circle cx="598.3" cy="301.5" r="1.1" fill="#1f5f8c"/>
<circle cx="601.6" cy="308.8" r="1.1" fill="#1f5f8c"/>
<circle cx="604.9" cy="316.1" r="1.1" fill="#1f5f8c"/>
<circle cx="608.1" cy="323.4" r="1.1" fill="#1f5f8c"/>
<circle cx="611.4" cy="330.7" r="1.1" fill="#1f5f8c"/>
<circle cx="614.7" cy="338.0" r="1.9" fill="url(#vF)"/>
<circle cx="618.0" cy="345.3" r="1.5" fill="#fce4a8"/>
<circle cx="621.3" cy="352.6" r="1.1" fill="#fce4a8"/>
<circle cx="583.2" cy="251.3" r="1.1" fill="#fce4a8"/>
<circle cx="586.5" cy="258.5" r="1.5" fill="#fce4a8"/>
<circle cx="589.8" cy="265.8" r="1.9" fill="url(#vF)"/>
<circle cx="593.1" cy="273.1" r="1.1" fill="#1f5f8c"/>
<circle cx="596.4" cy="280.4" r="1.1" fill="#1f5f8c"/>
<circle cx="599.7" cy="287.7" r="1.1" fill="#1f5f8c"/>
<circle cx="603.0" cy="295.0" r="1.1" fill="#1f5f8c"/>
<circle cx="606.2" cy="302.3" r="1.1" fill="#1f5f8c"/>
<circle cx="609.5" cy="309.6" r="1.1" fill="#1f5f8c"/>
<circle cx="612.8" cy="316.9" r="1.1" fill="#1f5f8c"/>
<circle cx="616.1" cy="324.2" r="1.1" fill="#1f5f8c"/>
<circle cx="619.4" cy="331.5" r="1.9" fill="url(#vF)"/>
<circle cx="622.7" cy="338.8" r="1.5" fill="#fce4a8"/>
<circle cx="626.0" cy="346.1" r="1.5" fill="#fce4a8"/>
<circle cx="591.2" cy="252.1" r="1.5" fill="#fce4a8"/>
<circle cx="594.5" cy="259.3" r="1.5" fill="#fce4a8"/>
<circle cx="597.8" cy="266.6" r="1.9" fill="url(#vF)"/>
<circle cx="601.0" cy="273.9" r="1.1" fill="#1f5f8c"/>
<circle cx="604.3" cy="281.2" r="1.1" fill="#1f5f8c"/>
<circle cx="607.6" cy="288.5" r="1.1" fill="#1f5f8c"/>
<circle cx="610.9" cy="295.8" r="1.1" fill="#1f5f8c"/>
<circle cx="614.2" cy="303.1" r="1.1" fill="#1f5f8c"/>
<circle cx="617.5" cy="310.4" r="1.1" fill="#1f5f8c"/>
<circle cx="620.8" cy="317.7" r="1.1" fill="#1f5f8c"/>
<circle cx="624.1" cy="325.0" r="1.9" fill="url(#vF)"/>
<circle cx="627.4" cy="332.3" r="1.5" fill="#fce4a8"/>
<circle cx="630.6" cy="339.6" r="1.5" fill="#fce4a8"/>
<circle cx="599.1" cy="252.8" r="1.1" fill="#fce4a8"/>
<circle cx="602.4" cy="260.1" r="1.5" fill="#fce4a8"/>
<circle cx="605.7" cy="267.4" r="1.5" fill="#fce4a8"/>
<circle cx="609.0" cy="274.7" r="1.1" fill="#1f5f8c"/>
<circle cx="612.3" cy="282.0" r="1.1" fill="#1f5f8c"/>
<circle cx="615.6" cy="289.3" r="1.1" fill="#1f5f8c"/>
<circle cx="618.9" cy="296.6" r="1.1" fill="#1f5f8c"/>
<circle cx="622.2" cy="303.9" r="1.1" fill="#1f5f8c"/>
<circle cx="625.5" cy="311.2" r="1.1" fill="#1f5f8c"/>
<circle cx="628.7" cy="318.5" r="1.9" fill="url(#vF)"/>
<circle cx="632.0" cy="325.8" r="1.5" fill="#fce4a8"/>
<circle cx="635.3" cy="333.1" r="1.5" fill="#fce4a8"/>
<circle cx="607.1" cy="253.6" r="1.1" fill="#fce4a8"/>
<circle cx="610.4" cy="260.9" r="1.5" fill="#fce4a8"/>
<circle cx="613.7" cy="268.2" r="1.5" fill="#fce4a8"/>
<circle cx="617.0" cy="275.5" r="1.9" fill="url(#vF)"/>
<circle cx="620.3" cy="282.8" r="1.9" fill="url(#vF)"/>
<circle cx="623.5" cy="290.1" r="1.9" fill="url(#vF)"/>
<circle cx="626.8" cy="297.4" r="1.9" fill="url(#vF)"/>
<circle cx="630.1" cy="304.7" r="1.9" fill="url(#vF)"/>
<circle cx="633.4" cy="312.0" r="1.5" fill="#fce4a8"/>
<circle cx="636.7" cy="319.3" r="1.5" fill="#fce4a8"/>
<circle cx="640.0" cy="326.6" r="1.1" fill="#fce4a8"/>
<circle cx="615.1" cy="254.4" r="1.1" fill="#fce4a8"/>
<circle cx="618.4" cy="261.7" r="1.5" fill="#fce4a8"/>
<circle cx="621.6" cy="269.0" r="1.5" fill="#fce4a8"/>
<circle cx="624.9" cy="276.3" r="1.5" fill="#fce4a8"/>
<circle cx="628.2" cy="283.6" r="1.5" fill="#fce4a8"/>
<circle cx="631.5" cy="290.9" r="1.5" fill="#fce4a8"/>
<circle cx="634.8" cy="298.2" r="1.5" fill="#fce4a8"/>
<circle cx="638.1" cy="305.5" r="1.5" fill="#fce4a8"/>
<circle cx="641.4" cy="312.8" r="1.5" fill="#fce4a8"/>
<circle cx="644.7" cy="320.1" r="1.1" fill="#fce4a8"/>
<circle cx="626.3" cy="262.5" r="1.1" fill="#fce4a8"/>
<circle cx="629.6" cy="269.8" r="1.1" fill="#fce4a8"/>
<circle cx="632.9" cy="277.1" r="1.5" fill="#fce4a8"/>
<circle cx="636.2" cy="284.4" r="1.5" fill="#fce4a8"/>
<circle cx="639.5" cy="291.7" r="1.5" fill="#fce4a8"/>
<circle cx="642.8" cy="299.0" r="1.1" fill="#fce4a8"/>
<circle cx="646.0" cy="306.3" r="1.1" fill="#fce4a8"/>
</g>
<path d="M533.4 244.0v3.5M533.4 370.4v-3.5M520.3 357.8h3.5M651.0 357.8h-3.5M559.5 244.0v3.5M559.5 370.4v-3.5M520.3 332.5h3.5M651.0 332.5h-3.5M585.6 244.0v5M585.6 370.4v-5M520.3 307.2h5M651.0 307.2h-5M611.8 244.0v3.5M611.8 370.4v-3.5M520.3 281.9h3.5M651.0 281.9h-3.5M637.9 244.0v3.5M637.9 370.4v-3.5M520.3 256.6h3.5M651.0 256.6h-3.5" stroke="#111" stroke-width=".7" fill="none" opacity=".8"/>
<text x="525.5" y="259.5" font-size="11.9" text-anchor="start" font-weight="bold" fill="#fff">(g)</text>
<rect x="601.3" y="249.5" width="44.2" height="19.6" fill="#fff"/>
<text x="604.0" y="263.8" font-size="11.3" text-anchor="start" >Ω=3.02</text>
<text x="533.4" y="382.6" font-size="11.3" text-anchor="middle" >-200</text>
<text x="559.5" y="382.6" font-size="11.3" text-anchor="middle" >-100</text>
<text x="585.6" y="382.6" font-size="11.3" text-anchor="middle" >0</text>
<text x="611.8" y="382.6" font-size="11.3" text-anchor="middle" >100</text>
<text x="637.9" y="382.6" font-size="11.3" text-anchor="middle" >200</text>
<text x="585.6" y="392.6" font-size="11.3" text-anchor="middle" >x</text>
<linearGradient id="cb21" x1="0" y1="0" x2="0" y2="1"><stop offset="0.000" stop-color="#a01818"/><stop offset="0.050" stop-color="#b82420"/><stop offset="0.123" stop-color="#e45434"/><stop offset="0.210" stop-color="#f48048"/><stop offset="0.300" stop-color="#fcb064"/><stop offset="0.390" stop-color="#fcd480"/><stop offset="0.474" stop-color="#fcf4ac"/><stop offset="0.560" stop-color="#e4f4a0"/><stop offset="0.650" stop-color="#b4e0a0"/><stop offset="0.740" stop-color="#7ccaa4"/><stop offset="0.825" stop-color="#3c9c9c"/><stop offset="0.910" stop-color="#1c4c88"/><stop offset="1.000" stop-color="#070a6e"/></linearGradient>
<rect x="654.4" y="244.0" width="6.2" height="126.4" fill="url(#cb21)" stroke="#333" stroke-width=".5"/>
<path d="M654.4 370.4H662.6" stroke="#222" stroke-width=".7"/>
<text x="664.1" y="375.4" font-size="11.3" text-anchor="start" >0</text>
<path d="M654.4 348.4H662.6" stroke="#222" stroke-width=".7"/>
<text x="664.1" y="353.4" font-size="11.3" text-anchor="start" >0.2</text>
<path d="M654.4 326.4H662.6" stroke="#222" stroke-width=".7"/>
<text x="664.1" y="331.5" font-size="11.3" text-anchor="start" >0.4</text>
<path d="M654.4 304.5H662.6" stroke="#222" stroke-width=".7"/>
<text x="664.1" y="309.5" font-size="11.3" text-anchor="start" >0.6</text>
<path d="M654.4 282.5H662.6" stroke="#222" stroke-width=".7"/>
<text x="664.1" y="287.5" font-size="11.3" text-anchor="start" >0.8</text>
<path d="M654.4 260.5H662.6" stroke="#222" stroke-width=".7"/>
<text x="664.1" y="265.5" font-size="11.3" text-anchor="start" >1</text>
<radialGradient id="rg22"><stop offset="0.000" stop-color="#070a6e"/><stop offset="0.025" stop-color="#080c6f"/><stop offset="0.050" stop-color="#090f70"/><stop offset="0.075" stop-color="#091171"/><stop offset="0.100" stop-color="#0a1472"/><stop offset="0.125" stop-color="#0b1673"/><stop offset="0.150" stop-color="#0c1874"/><stop offset="0.175" stop-color="#0c1b75"/><stop offset="0.200" stop-color="#0d1d76"/><stop offset="0.225" stop-color="#13307d"/><stop offset="0.250" stop-color="#194385"/><stop offset="0.275" stop-color="#215a8b"/><stop offset="0.300" stop-color="#2b7292"/><stop offset="0.325" stop-color="#3b999b"/><stop offset="0.350" stop-color="#59b1a0"/><stop offset="0.375" stop-color="#79c8a4"/><stop offset="0.400" stop-color="#93d3a2"/><stop offset="0.420" stop-color="#a8dba1"/><stop offset="0.425" stop-color="#acdda1"/><stop offset="0.450" stop-color="#c1e6a0"/><stop offset="0.475" stop-color="#d5eea0"/><stop offset="0.500" stop-color="#e6f4a1"/><stop offset="0.520" stop-color="#eff4a5"/><stop offset="0.525" stop-color="#f0f4a6"/><stop offset="0.550" stop-color="#faf4ab"/><stop offset="0.575" stop-color="#fceb9f"/><stop offset="0.600" stop-color="#fcde8e"/><stop offset="0.620" stop-color="#fcd481"/><stop offset="0.625" stop-color="#fcd17e"/><stop offset="0.650" stop-color="#fcbe6f"/><stop offset="0.675" stop-color="#fbaa61"/><stop offset="0.690" stop-color="#f99b58"/><stop offset="0.700" stop-color="#f68d50"/><stop offset="0.725" stop-color="#ed6c3f"/><stop offset="0.740" stop-color="#e55836"/><stop offset="0.750" stop-color="#db4b30"/><stop offset="0.775" stop-color="#bb2721"/><stop offset="0.780" stop-color="#b5221f"/><stop offset="0.800" stop-color="#af1f1d"/><stop offset="0.820" stop-color="#a81c1b"/><stop offset="0.825" stop-color="#a81c1b"/><stop offset="0.850" stop-color="#a81c1b"/><stop offset="0.875" stop-color="#a81c1b"/><stop offset="0.900" stop-color="#a81c1b"/><stop offset="0.925" stop-color="#a81c1b"/><stop offset="0.950" stop-color="#a81c1b"/><stop offset="0.970" stop-color="#a81c1b"/><stop offset="0.975" stop-color="#ed6d40"/><stop offset="0.982" stop-color="#fcd481"/><stop offset="1.000" stop-color="#3c9b9c"/></radialGradient>
<rect x="689.5" y="244.0" width="130.7" height="126.4" fill="#070a6e"/>
<clipPath id="hc23"><rect x="689.5" y="244.0" width="130.7" height="126.4"/></clipPath>
<g clip-path="url(#hc23)"><ellipse cx="754.9" cy="307.2" rx="67.3" ry="65.4" fill="url(#rg22)"/>
<circle cx="694.6" cy="309.2" r="1.1" fill="#fce4a8"/>
<circle cx="696.2" cy="316.6" r="1.1" fill="#fce4a8"/>
<circle cx="697.9" cy="324.0" r="1.1" fill="#fce4a8"/>
<circle cx="699.6" cy="331.5" r="1.1" fill="#fce4a8"/>
<circle cx="696.8" cy="289.2" r="1.1" fill="#fce4a8"/>
<circle cx="698.5" cy="296.6" r="1.5" fill="#fce4a8"/>
<circle cx="700.1" cy="304.1" r="1.5" fill="#fce4a8"/>
<circle cx="701.8" cy="311.5" r="1.5" fill="#fce4a8"/>
<circle cx="703.5" cy="318.9" r="1.5" fill="#fce4a8"/>
<circle cx="705.2" cy="326.3" r="1.5" fill="#fce4a8"/>
<circle cx="706.9" cy="333.7" r="1.5" fill="#fce4a8"/>
<circle cx="708.6" cy="341.1" r="1.5" fill="#fce4a8"/>
<circle cx="710.2" cy="348.5" r="1.1" fill="#fce4a8"/>
<circle cx="702.3" cy="284.1" r="1.5" fill="#fce4a8"/>
<circle cx="704.0" cy="291.5" r="1.5" fill="#fce4a8"/>
<circle cx="705.7" cy="298.9" r="1.5" fill="#fce4a8"/>
<circle cx="707.4" cy="306.3" r="1.5" fill="#fce4a8"/>
<circle cx="709.1" cy="313.7" r="1.9" fill="url(#vF)"/>
<circle cx="710.8" cy="321.1" r="1.9" fill="url(#vF)"/>
<circle cx="712.5" cy="328.5" r="1.5" fill="#fce4a8"/>
<circle cx="714.1" cy="335.9" r="1.5" fill="#fce4a8"/>
<circle cx="715.8" cy="343.4" r="1.5" fill="#fce4a8"/>
<circle cx="717.5" cy="350.8" r="1.5" fill="#fce4a8"/>
<circle cx="706.2" cy="271.5" r="1.1" fill="#fce4a8"/>
<circle cx="707.9" cy="278.9" r="1.5" fill="#fce4a8"/>
<circle cx="709.6" cy="286.3" r="1.5" fill="#fce4a8"/>
<circle cx="711.3" cy="293.7" r="1.9" fill="url(#vF)"/>
<circle cx="713.0" cy="301.1" r="1.1" fill="#1f5f8c"/>
<circle cx="714.7" cy="308.5" r="1.1" fill="#1f5f8c"/>
<circle cx="716.3" cy="316.0" r="1.1" fill="#1f5f8c"/>
<circle cx="718.0" cy="323.4" r="1.1" fill="#1f5f8c"/>
<circle cx="719.7" cy="330.8" r="1.9" fill="url(#vF)"/>
<circle cx="721.4" cy="338.2" r="1.9" fill="url(#vF)"/>
<circle cx="723.1" cy="345.6" r="1.5" fill="#fce4a8"/>
<circle cx="724.8" cy="353.0" r="1.5" fill="#fce4a8"/>
<circle cx="726.5" cy="360.4" r="1.1" fill="#fce4a8"/>
<circle cx="711.8" cy="266.3" r="1.1" fill="#fce4a8"/>
<circle cx="713.5" cy="273.7" r="1.5" fill="#fce4a8"/>
<circle cx="715.2" cy="281.1" r="1.5" fill="#fce4a8"/>
<circle cx="716.9" cy="288.6" r="1.9" fill="url(#vF)"/>
<circle cx="718.5" cy="296.0" r="1.1" fill="#1f5f8c"/>
<circle cx="720.2" cy="303.4" r="1.1" fill="#1f5f8c"/>
<circle cx="721.9" cy="310.8" r="1.1" fill="#1f5f8c"/>
<circle cx="723.6" cy="318.2" r="1.1" fill="#1f5f8c"/>
<circle cx="725.3" cy="325.6" r="1.1" fill="#1f5f8c"/>
<circle cx="727.0" cy="333.0" r="1.1" fill="#1f5f8c"/>
<circle cx="728.7" cy="340.4" r="1.9" fill="url(#vF)"/>
<circle cx="730.3" cy="347.8" r="1.5" fill="#fce4a8"/>
<circle cx="732.0" cy="355.3" r="1.5" fill="#fce4a8"/>
<circle cx="733.7" cy="362.7" r="1.1" fill="#fce4a8"/>
<circle cx="717.4" cy="261.2" r="1.1" fill="#fce4a8"/>
<circle cx="719.1" cy="268.6" r="1.5" fill="#fce4a8"/>
<circle cx="720.8" cy="276.0" r="1.9" fill="url(#vF)"/>
<circle cx="722.4" cy="283.4" r="1.1" fill="#1f5f8c"/>
<circle cx="724.1" cy="290.8" r="1.1" fill="#1f5f8c"/>
<circle cx="725.8" cy="298.2" r="1.1" fill="#1f5f8c"/>
<circle cx="727.5" cy="305.6" r="1.1" fill="#1f5f8c"/>
<circle cx="729.2" cy="313.0" r="1.1" fill="#1f5f8c"/>
<circle cx="730.9" cy="320.4" r="1.1" fill="#1f5f8c"/>
<circle cx="732.5" cy="327.9" r="1.1" fill="#1f5f8c"/>
<circle cx="734.2" cy="335.3" r="1.1" fill="#1f5f8c"/>
<circle cx="735.9" cy="342.7" r="1.1" fill="#1f5f8c"/>
<circle cx="737.6" cy="350.1" r="1.5" fill="#fce4a8"/>
<circle cx="739.3" cy="357.5" r="1.5" fill="#fce4a8"/>
<circle cx="741.0" cy="364.9" r="1.1" fill="#fce4a8"/>
<circle cx="723.0" cy="256.0" r="1.1" fill="#fce4a8"/>
<circle cx="724.6" cy="263.4" r="1.5" fill="#fce4a8"/>
<circle cx="726.3" cy="270.8" r="1.5" fill="#fce4a8"/>
<circle cx="728.0" cy="278.2" r="1.1" fill="#1f5f8c"/>
<circle cx="729.7" cy="285.6" r="1.1" fill="#1f5f8c"/>
<circle cx="731.4" cy="293.1" r="1.1" fill="#1f5f8c"/>
<circle cx="733.1" cy="300.5" r="1.1" fill="#1f5f8c"/>
<circle cx="734.8" cy="307.9" r="1.1" fill="#1f5f8c"/>
<circle cx="736.4" cy="315.3" r="1.1" fill="#1f5f8c"/>
<circle cx="738.1" cy="322.7" r="1.1" fill="#1f5f8c"/>
<circle cx="739.8" cy="330.1" r="1.1" fill="#1f5f8c"/>
<circle cx="741.5" cy="337.5" r="1.1" fill="#1f5f8c"/>
<circle cx="743.2" cy="344.9" r="1.1" fill="#1f5f8c"/>
<circle cx="744.9" cy="352.3" r="1.5" fill="#fce4a8"/>
<circle cx="746.6" cy="359.7" r="1.5" fill="#fce4a8"/>
<circle cx="748.2" cy="367.2" r="1.1" fill="#fce4a8"/>
<circle cx="730.2" cy="258.2" r="1.5" fill="#fce4a8"/>
<circle cx="731.9" cy="265.7" r="1.5" fill="#fce4a8"/>
<circle cx="733.6" cy="273.1" r="1.1" fill="#1f5f8c"/>
<circle cx="735.3" cy="280.5" r="1.1" fill="#1f5f8c"/>
<circle cx="737.0" cy="287.9" r="1.1" fill="#1f5f8c"/>
<circle cx="738.6" cy="295.3" r="1.1" fill="#1f5f8c"/>
<circle cx="740.3" cy="302.7" r="1.1" fill="#1f5f8c"/>
<circle cx="742.0" cy="310.1" r="1.1" fill="#1f5f8c"/>
<circle cx="743.7" cy="317.5" r="1.1" fill="#1f5f8c"/>
<circle cx="745.4" cy="324.9" r="1.1" fill="#1f5f8c"/>
<circle cx="747.1" cy="332.4" r="1.1" fill="#1f5f8c"/>
<circle cx="748.8" cy="339.8" r="1.1" fill="#1f5f8c"/>
<circle cx="750.4" cy="347.2" r="1.1" fill="#1f5f8c"/>
<circle cx="752.1" cy="354.6" r="1.5" fill="#fce4a8"/>
<circle cx="753.8" cy="362.0" r="1.5" fill="#fce4a8"/>
<circle cx="735.8" cy="253.1" r="1.1" fill="#fce4a8"/>
<circle cx="737.5" cy="260.5" r="1.5" fill="#fce4a8"/>
<circle cx="739.2" cy="267.9" r="1.9" fill="url(#vF)"/>
<circle cx="740.8" cy="275.3" r="1.1" fill="#1f5f8c"/>
<circle cx="742.5" cy="282.7" r="1.1" fill="#1f5f8c"/>
<circle cx="744.2" cy="290.1" r="1.1" fill="#1f5f8c"/>
<circle cx="745.9" cy="297.5" r="1.1" fill="#1f5f8c"/>
<circle cx="747.6" cy="305.0" r="1.2" fill="#fff"/>
<circle cx="749.3" cy="312.4" r="1.2" fill="#fff"/>
<circle cx="751.0" cy="319.8" r="1.1" fill="#1f5f8c"/>
<circle cx="752.6" cy="327.2" r="1.1" fill="#1f5f8c"/>
<circle cx="754.3" cy="334.6" r="1.1" fill="#1f5f8c"/>
<circle cx="756.0" cy="342.0" r="1.1" fill="#1f5f8c"/>
<circle cx="757.7" cy="349.4" r="1.9" fill="url(#vF)"/>
<circle cx="759.4" cy="356.8" r="1.5" fill="#fce4a8"/>
<circle cx="761.1" cy="364.2" r="1.1" fill="#fce4a8"/>
<circle cx="741.4" cy="247.9" r="1.1" fill="#fce4a8"/>
<circle cx="743.1" cy="255.3" r="1.5" fill="#fce4a8"/>
<circle cx="744.7" cy="262.7" r="1.5" fill="#fce4a8"/>
<circle cx="746.4" cy="270.1" r="1.1" fill="#1f5f8c"/>
<circle cx="748.1" cy="277.6" r="1.1" fill="#1f5f8c"/>
<circle cx="749.8" cy="285.0" r="1.1" fill="#1f5f8c"/>
<circle cx="751.5" cy="292.4" r="1.1" fill="#1f5f8c"/>
<circle cx="753.2" cy="299.8" r="1.2" fill="#fff"/>
<circle cx="754.9" cy="307.2" r="1.2" fill="#fff"/>
<circle cx="756.5" cy="314.6" r="1.2" fill="#fff"/>
<circle cx="758.2" cy="322.0" r="1.1" fill="#1f5f8c"/>
<circle cx="759.9" cy="329.4" r="1.1" fill="#1f5f8c"/>
<circle cx="761.6" cy="336.8" r="1.1" fill="#1f5f8c"/>
<circle cx="763.3" cy="344.3" r="1.1" fill="#1f5f8c"/>
<circle cx="765.0" cy="351.7" r="1.5" fill="#fce4a8"/>
<circle cx="766.6" cy="359.1" r="1.5" fill="#fce4a8"/>
<circle cx="768.3" cy="366.5" r="1.1" fill="#fce4a8"/>
<circle cx="748.6" cy="250.2" r="1.1" fill="#fce4a8"/>
<circle cx="750.3" cy="257.6" r="1.5" fill="#fce4a8"/>
<circle cx="752.0" cy="265.0" r="1.9" fill="url(#vF)"/>
<circle cx="753.7" cy="272.4" r="1.1" fill="#1f5f8c"/>
<circle cx="755.4" cy="279.8" r="1.1" fill="#1f5f8c"/>
<circle cx="757.1" cy="287.2" r="1.1" fill="#1f5f8c"/>
<circle cx="758.7" cy="294.6" r="1.1" fill="#1f5f8c"/>
<circle cx="760.4" cy="302.0" r="1.2" fill="#fff"/>
<circle cx="762.1" cy="309.4" r="1.2" fill="#fff"/>
<circle cx="763.8" cy="316.9" r="1.1" fill="#1f5f8c"/>
<circle cx="765.5" cy="324.3" r="1.1" fill="#1f5f8c"/>
<circle cx="767.2" cy="331.7" r="1.1" fill="#1f5f8c"/>
<circle cx="768.9" cy="339.1" r="1.1" fill="#1f5f8c"/>
<circle cx="770.5" cy="346.5" r="1.9" fill="url(#vF)"/>
<circle cx="772.2" cy="353.9" r="1.5" fill="#fce4a8"/>
<circle cx="773.9" cy="361.3" r="1.1" fill="#fce4a8"/>
<circle cx="755.9" cy="252.4" r="1.5" fill="#fce4a8"/>
<circle cx="757.6" cy="259.8" r="1.5" fill="#fce4a8"/>
<circle cx="759.3" cy="267.2" r="1.1" fill="#1f5f8c"/>
<circle cx="760.9" cy="274.6" r="1.1" fill="#1f5f8c"/>
<circle cx="762.6" cy="282.0" r="1.1" fill="#1f5f8c"/>
<circle cx="764.3" cy="289.5" r="1.1" fill="#1f5f8c"/>
<circle cx="766.0" cy="296.9" r="1.1" fill="#1f5f8c"/>
<circle cx="767.7" cy="304.3" r="1.1" fill="#1f5f8c"/>
<circle cx="769.4" cy="311.7" r="1.1" fill="#1f5f8c"/>
<circle cx="771.1" cy="319.1" r="1.1" fill="#1f5f8c"/>
<circle cx="772.7" cy="326.5" r="1.1" fill="#1f5f8c"/>
<circle cx="774.4" cy="333.9" r="1.1" fill="#1f5f8c"/>
<circle cx="776.1" cy="341.3" r="1.1" fill="#1f5f8c"/>
<circle cx="777.8" cy="348.7" r="1.5" fill="#fce4a8"/>
<circle cx="779.5" cy="356.2" r="1.5" fill="#fce4a8"/>
<circle cx="761.5" cy="247.2" r="1.1" fill="#fce4a8"/>
<circle cx="763.1" cy="254.7" r="1.5" fill="#fce4a8"/>
<circle cx="764.8" cy="262.1" r="1.5" fill="#fce4a8"/>
<circle cx="766.5" cy="269.5" r="1.1" fill="#1f5f8c"/>
<circle cx="768.2" cy="276.9" r="1.1" fill="#1f5f8c"/>
<circle cx="769.9" cy="284.3" r="1.1" fill="#1f5f8c"/>
<circle cx="771.6" cy="291.7" r="1.1" fill="#1f5f8c"/>
<circle cx="773.3" cy="299.1" r="1.1" fill="#1f5f8c"/>
<circle cx="774.9" cy="306.5" r="1.1" fill="#1f5f8c"/>
<circle cx="776.6" cy="313.9" r="1.1" fill="#1f5f8c"/>
<circle cx="778.3" cy="321.3" r="1.1" fill="#1f5f8c"/>
<circle cx="780.0" cy="328.8" r="1.1" fill="#1f5f8c"/>
<circle cx="781.7" cy="336.2" r="1.1" fill="#1f5f8c"/>
<circle cx="783.4" cy="343.6" r="1.5" fill="#fce4a8"/>
<circle cx="785.1" cy="351.0" r="1.5" fill="#fce4a8"/>
<circle cx="786.7" cy="358.4" r="1.1" fill="#fce4a8"/>
<circle cx="768.7" cy="249.5" r="1.1" fill="#fce4a8"/>
<circle cx="770.4" cy="256.9" r="1.5" fill="#fce4a8"/>
<circle cx="772.1" cy="264.3" r="1.5" fill="#fce4a8"/>
<circle cx="773.8" cy="271.7" r="1.1" fill="#1f5f8c"/>
<circle cx="775.5" cy="279.1" r="1.1" fill="#1f5f8c"/>
<circle cx="777.2" cy="286.5" r="1.1" fill="#1f5f8c"/>
<circle cx="778.8" cy="294.0" r="1.1" fill="#1f5f8c"/>
<circle cx="780.5" cy="301.4" r="1.1" fill="#1f5f8c"/>
<circle cx="782.2" cy="308.8" r="1.1" fill="#1f5f8c"/>
<circle cx="783.9" cy="316.2" r="1.1" fill="#1f5f8c"/>
<circle cx="785.6" cy="323.6" r="1.1" fill="#1f5f8c"/>
<circle cx="787.3" cy="331.0" r="1.1" fill="#1f5f8c"/>
<circle cx="788.9" cy="338.4" r="1.9" fill="url(#vF)"/>
<circle cx="790.6" cy="345.8" r="1.5" fill="#fce4a8"/>
<circle cx="792.3" cy="353.2" r="1.1" fill="#fce4a8"/>
<circle cx="776.0" cy="251.7" r="1.1" fill="#fce4a8"/>
<circle cx="777.7" cy="259.1" r="1.5" fill="#fce4a8"/>
<circle cx="779.4" cy="266.6" r="1.5" fill="#fce4a8"/>
<circle cx="781.0" cy="274.0" r="1.9" fill="url(#vF)"/>
<circle cx="782.7" cy="281.4" r="1.1" fill="#1f5f8c"/>
<circle cx="784.4" cy="288.8" r="1.1" fill="#1f5f8c"/>
<circle cx="786.1" cy="296.2" r="1.1" fill="#1f5f8c"/>
<circle cx="787.8" cy="303.6" r="1.1" fill="#1f5f8c"/>
<circle cx="789.5" cy="311.0" r="1.1" fill="#1f5f8c"/>
<circle cx="791.2" cy="318.4" r="1.1" fill="#1f5f8c"/>
<circle cx="792.8" cy="325.8" r="1.9" fill="url(#vF)"/>
<circle cx="794.5" cy="333.3" r="1.5" fill="#fce4a8"/>
<circle cx="796.2" cy="340.7" r="1.5" fill="#fce4a8"/>
<circle cx="797.9" cy="348.1" r="1.1" fill="#fce4a8"/>
<circle cx="783.2" cy="254.0" r="1.1" fill="#fce4a8"/>
<circle cx="784.9" cy="261.4" r="1.5" fill="#fce4a8"/>
<circle cx="786.6" cy="268.8" r="1.5" fill="#fce4a8"/>
<circle cx="788.3" cy="276.2" r="1.9" fill="url(#vF)"/>
<circle cx="790.0" cy="283.6" r="1.9" fill="url(#vF)"/>
<circle cx="791.7" cy="291.0" r="1.1" fill="#1f5f8c"/>
<circle cx="793.4" cy="298.4" r="1.1" fill="#1f5f8c"/>
<circle cx="795.0" cy="305.9" r="1.1" fill="#1f5f8c"/>
<circle cx="796.7" cy="313.3" r="1.1" fill="#1f5f8c"/>
<circle cx="798.4" cy="320.7" r="1.9" fill="url(#vF)"/>
<circle cx="800.1" cy="328.1" r="1.5" fill="#fce4a8"/>
<circle cx="801.8" cy="335.5" r="1.5" fill="#fce4a8"/>
<circle cx="803.5" cy="342.9" r="1.1" fill="#fce4a8"/>
<circle cx="792.2" cy="263.6" r="1.5" fill="#fce4a8"/>
<circle cx="793.9" cy="271.0" r="1.5" fill="#fce4a8"/>
<circle cx="795.6" cy="278.5" r="1.5" fill="#fce4a8"/>
<circle cx="797.2" cy="285.9" r="1.5" fill="#fce4a8"/>
<circle cx="798.9" cy="293.3" r="1.9" fill="url(#vF)"/>
<circle cx="800.6" cy="300.7" r="1.9" fill="url(#vF)"/>
<circle cx="802.3" cy="308.1" r="1.5" fill="#fce4a8"/>
<circle cx="804.0" cy="315.5" r="1.5" fill="#fce4a8"/>
<circle cx="805.7" cy="322.9" r="1.5" fill="#fce4a8"/>
<circle cx="807.4" cy="330.3" r="1.5" fill="#fce4a8"/>
<circle cx="799.5" cy="265.9" r="1.1" fill="#fce4a8"/>
<circle cx="801.1" cy="273.3" r="1.5" fill="#fce4a8"/>
<circle cx="802.8" cy="280.7" r="1.5" fill="#fce4a8"/>
<circle cx="804.5" cy="288.1" r="1.5" fill="#fce4a8"/>
<circle cx="806.2" cy="295.5" r="1.5" fill="#fce4a8"/>
<circle cx="807.9" cy="302.9" r="1.5" fill="#fce4a8"/>
<circle cx="809.6" cy="310.3" r="1.5" fill="#fce4a8"/>
<circle cx="811.2" cy="317.8" r="1.5" fill="#fce4a8"/>
<circle cx="812.9" cy="325.2" r="1.1" fill="#fce4a8"/>
<circle cx="810.1" cy="282.9" r="1.1" fill="#fce4a8"/>
<circle cx="811.8" cy="290.4" r="1.1" fill="#fce4a8"/>
<circle cx="813.5" cy="297.8" r="1.1" fill="#fce4a8"/>
<circle cx="815.1" cy="305.2" r="1.1" fill="#fce4a8"/>
</g>
<path d="M702.6 244.0v3.5M702.6 370.4v-3.5M689.5 357.8h3.5M820.2 357.8h-3.5M728.7 244.0v3.5M728.7 370.4v-3.5M689.5 332.5h3.5M820.2 332.5h-3.5M754.9 244.0v5M754.9 370.4v-5M689.5 307.2h5M820.2 307.2h-5M781.0 244.0v3.5M781.0 370.4v-3.5M689.5 281.9h3.5M820.2 281.9h-3.5M807.1 244.0v3.5M807.1 370.4v-3.5M689.5 256.6h3.5M820.2 256.6h-3.5" stroke="#111" stroke-width=".7" fill="none" opacity=".8"/>
<text x="694.7" y="259.5" font-size="11.9" text-anchor="start" font-weight="bold" fill="#fff">(h)</text>
<rect x="770.5" y="249.5" width="44.2" height="19.6" fill="#fff"/>
<text x="773.2" y="263.8" font-size="11.3" text-anchor="start" >Ω=3.09</text>
<text x="702.6" y="382.6" font-size="11.3" text-anchor="middle" >-200</text>
<text x="728.7" y="382.6" font-size="11.3" text-anchor="middle" >-100</text>
<text x="754.9" y="382.6" font-size="11.3" text-anchor="middle" >0</text>
<text x="781.0" y="382.6" font-size="11.3" text-anchor="middle" >100</text>
<text x="807.1" y="382.6" font-size="11.3" text-anchor="middle" >200</text>
<text x="754.9" y="392.6" font-size="11.3" text-anchor="middle" >x</text>
<linearGradient id="cb24" x1="0" y1="0" x2="0" y2="1"><stop offset="0.000" stop-color="#a01818"/><stop offset="0.050" stop-color="#b82420"/><stop offset="0.123" stop-color="#e45434"/><stop offset="0.210" stop-color="#f48048"/><stop offset="0.300" stop-color="#fcb064"/><stop offset="0.390" stop-color="#fcd480"/><stop offset="0.474" stop-color="#fcf4ac"/><stop offset="0.560" stop-color="#e4f4a0"/><stop offset="0.650" stop-color="#b4e0a0"/><stop offset="0.740" stop-color="#7ccaa4"/><stop offset="0.825" stop-color="#3c9c9c"/><stop offset="0.910" stop-color="#1c4c88"/><stop offset="1.000" stop-color="#070a6e"/></linearGradient>
<rect x="823.6" y="244.0" width="6.2" height="126.4" fill="url(#cb24)" stroke="#333" stroke-width=".5"/>
<path d="M823.6 370.4H831.8" stroke="#222" stroke-width=".7"/>
<text x="833.3" y="375.4" font-size="11.3" text-anchor="start" >0</text>
<path d="M823.6 348.4H831.8" stroke="#222" stroke-width=".7"/>
<text x="833.3" y="353.4" font-size="11.3" text-anchor="start" >0.2</text>
<path d="M823.6 326.4H831.8" stroke="#222" stroke-width=".7"/>
<text x="833.3" y="331.5" font-size="11.3" text-anchor="start" >0.4</text>
<path d="M823.6 304.5H831.8" stroke="#222" stroke-width=".7"/>
<text x="833.3" y="309.5" font-size="11.3" text-anchor="start" >0.6</text>
<path d="M823.6 282.5H831.8" stroke="#222" stroke-width=".7"/>
<text x="833.3" y="287.5" font-size="11.3" text-anchor="start" >0.8</text>
<path d="M823.6 260.5H831.8" stroke="#222" stroke-width=".7"/>
<text x="833.3" y="265.5" font-size="11.3" text-anchor="start" >1</text>
<radialGradient id="mg1" gradientUnits="userSpaceOnUse" cx="115.2" cy="164.4" r="30"><stop offset="0" stop-color="#0a1a70"/><stop offset=".06" stop-color="#1f5f8c"/><stop offset=".11" stop-color="#4fb0a0"/><stop offset=".17" stop-color="#b4e0a0"/><stop offset=".23" stop-color="#f4f0a8"/><stop offset=".33" stop-color="#fbc078"/><stop offset=".5" stop-color="#f28a50"/><stop offset="1" stop-color="#ec6e42"/></radialGradient>
<rect x="89.3" y="135.9" width="53.7" height="56.8" fill="url(#mg1)" stroke="#333" stroke-width=".6"/>
<radialGradient id="mg2" gradientUnits="userSpaceOnUse" cx="116.9" cy="309.5" r="20"><stop offset="0" stop-color="#0a2a90"/><stop offset=".1" stop-color="#1f6fa0"/><stop offset=".17" stop-color="#8fd0a0"/><stop offset=".24" stop-color="#fdf0a0"/><stop offset=".33" stop-color="#f9a858"/><stop offset=".45" stop-color="#d84838"/><stop offset=".6" stop-color="#b83040"/><stop offset=".85" stop-color="#cf3f4b"/><stop offset="1" stop-color="#d2434d"/></radialGradient>
<rect x="89.3" y="281.2" width="54.1" height="57.9" fill="url(#mg2)" stroke="#333" stroke-width=".6"/>
<text x="90.5" y="111.7" font-size="12" text-anchor="start" font-weight="bold">d=1</text>
<text x="90.4" y="260.3" font-size="12" text-anchor="start" font-weight="bold">d=20</text>
<rect x="221.2" y="147.6" width="21.1" height="20.2" fill="none" stroke="#111" stroke-width="1"/>
<path d="M144 136.4L220.7 147.6M146.3 190.8L220.7 168.2" stroke="#111" stroke-width="1.5" stroke-dasharray="7 9" fill="none"/>
<rect x="229.3" y="299.3" width="14" height="15.3" fill="none" stroke="#111" stroke-width="1"/>
<path d="M153.6 284.8L228.8 299.3M153.6 335.8L228.8 315.4" stroke="#111" stroke-width="1.5" stroke-dasharray="7 9" fill="none"/>
<rect x="118.5" y="533.5" width="130.0" height="127.8" fill="#f5ee9e"/>
<clipPath id="pc25"><ellipse cx="183.5" cy="597.4" rx="64.0" ry="62.9"/></clipPath>
<filter id="pb25" x="-5%" y="-5%" width="110%" height="110%"><feGaussianBlur stdDeviation="0.42"/></filter>
<g clip-path="url(#pc25)">
<g filter="url(#pb25)">
<g transform="translate(183.5,597.4) scale(1,0.9831)">
<path d="M1 -65 1 -65.5 2.6 -65.5 2 -44 2.6 -32 2.5 -17.7 1 -21.5 0.5 -27ZM-21 -62.5 -20 -62.5 -13.8 -43.5 -12.1 -40 -10.5 -37.8 -11.3 -38 -12.5 -39.2 -15 -43.8 -21.5 -61.9ZM23.5 -61.5 25 -60.8 17 -42.4 13.8 -38 12.5 -37.3 11 -37.5 12 -37.6 13.3 -38.5 15.6 -42ZM-40.5 -52 -34.5 -44.5 -28.5 -35.9 -26.7 -31.5 -27 -29.1 -27.8 -32.5 -29.8 -36 -41.5 -51ZM43.5 -49.5 44.3 -48.5 30.2 -32.5 28.1 -29.5 27.5 -27.5 27.5 -29.8 30 -33.9 43 -49.5ZM-55.5 -35.1 -38.5 -24.7 -26.7 -19.5 -15.5 -13 -20.2 -14 -37.9 -23 -56.5 -33.9ZM57 -31.6 57.5 -31.8 58.5 -30.5 39 -19.8 29.5 -12.5 17.4 -6.5 18.5 -8 21.9 -10.5 39.5 -21.5ZM-64 -14.1 -39 -9 -45.4 -9 -64.5 -12.5 -64.5 -13.5ZM38 -10 38.3 -9 39.5 -8.1 42.5 -7.5 48 -7.8 65 -10.3 65 -8.8 51.7 -7 43 -6.5 38.9 -7.5 37.9 -8.5ZM-16.5 6 -16.5 6.7 -17.5 7.8 -20.9 10.5 -42 23 -57.5 31.8 -58.5 30.5 -41.5 21.3 -29.6 13ZM-48 6.5 -41 6.5 -38.5 7.7 -38 9.5 -38.5 8.6 -40 7.7 -44 7.3 -65 10.2 -65 8.6ZM39 9 43 8.7 52.1 10 64.5 12.4 64.5 13.5 64 13.9 47 10.2ZM16.5 12.7 20.5 14 28 18.1 38.3 23 56.4 33.5 56.5 34 55.5 34.9 38 24.2 26.2 19.5 16.2 13ZM-2.5 18.9 -1.5 21 -0.8 27 -0.8 65.5 -2.4 65.5 -1.8 45.5 -2.7 32.5ZM-27 27 -27.5 30.2 -29.5 33.5 -42 48.5 -43 49.6 -43.5 49.5 -44.2 48.5 -30.9 33.5 -28.3 30ZM27.5 28.2 27.6 31 28.7 33.5 32.7 39.5 41.5 50.5 40.5 51.9 32 40.6 28 34.4 26.7 30.5 26.9 29ZM-13 38 -11.5 38 -13.6 39.5 -15.8 43 -23.3 61.5 -24.8 61 -17.5 44 -15.5 40.5ZM11 37.9 13 39.5 15.5 44.4 21.8 62 21 62.5 20.3 62.5 13.8 43Z" fill="#11297a"/>
<path d="M-0.5 -65.5 1.1 -65.5 0.7 -27 1.1 -21.5 2 -17.7 0.5 -19.3 -0.5 -21.8 -1.5 -28.7 -0.5 -42.5ZM-22.5 -62 -21.4 -62 -16.2 -47 -13.6 -41 -11.5 -38.1 -9.5 -37.5 -11.9 -37.5 -13.5 -39 -15 -41.3 -23 -61.4ZM22.5 -62 23.5 -61.5 23.5 -61.1 17.5 -45.9 14.5 -40 12 -37.8 15.2 -43.5 22 -62ZM-41.5 -51 -29.5 -35.6 -27.5 -31.8 -27.5 -29 -28.2 -31.5 -30.7 -35.5 -42.7 -50ZM42 -50.5 43.2 -49.5 29.7 -33.5 27.6 -30 27 -27.1 26.5 -29 28.5 -33.6ZM-56.5 -34 -36.5 -22.3 -20.5 -14.2 -16.6 -13 -16.4 -12.5 -19 -12.4 -21.4 -13 -28 -16 -57 -32.3ZM56.5 -33.1 57 -33 57.5 -31.7 37.5 -20.2 21 -9.8 17 -6.3 17.5 -8.2 18.5 -9.6 23.9 -14ZM-64.5 -12.6 -44 -8.9 -38.5 -9 -40.4 -8 -42 -7.9 -49.7 -8.5 -65 -11 -64.5 -11.5ZM62.5 -11.5 64.5 -11.9 65 -10.3 45.9 -7.5 41.5 -7.5 39.7 -8 38.4 -9 38.5 -9.5 40.5 -8.6 46 -8.6ZM-16 6 -16 7.2 -17.5 9.6 -22.9 14 -35 20.3 -56.4 33 -57 33 -57.5 31.7 -21.5 10.7 -18 8.2ZM-47.5 7.5 -40.5 7.5 -39 8.2 -38.5 9.1 -40.5 8.3 -44 8.3 -64.5 11.7 -65 11 -65 10.1ZM40.5 7.9 46.8 8 65 11 64.5 11.5 64.5 12.5 44.5 8.8 39 8.9 39 8.5ZM17 12 20.5 12.5 26.1 15 56.9 32 57 33 56.5 33.7 37.5 22.7 28.4 18.5 19.5 13.6 15.5 12.5ZM-2.5 18.4 -1.2 19.5 0 21.7 1.1 28 0.6 43.5 0.8 65.5 -0.9 65.5 -0.9 27 -1.3 22ZM-27 26.5 -26.3 27.5 -26.4 29.5 -28.5 33.9 -41.7 50.5 -43 50 -43.1 49.5 -29.2 33 -27.2 29.5ZM28 28.4 28.7 31.5 30.8 35 43 50 41.5 50.7 30.5 36.5 27.9 32 27.5 30ZM10.5 37.5 11.9 37.5 13.2 38.5 16 42.8 23.3 61.5 22.5 62 21.7 62 21.5 61.5 14.2 41.5 12.2 38.5ZM-12.5 38.4 -11.7 38.5 -14.7 43 -21.8 62 -22.5 62 -23.4 61.5 -17.5 46.6 -15 41.4Z" fill="#296d90"/>
<path d="M-2 -65.5 -0.4 -65.5 -0.4 -43.5 -1.3 -32 -1.2 -27 -0.1 -21 2 -17.3 0.1 -18 -1.5 -20 -3 -24.2 -3.7 -29 -3.7 -32.5 -2.3 -38.5 -1.8 -43ZM20.5 -62.5 22.2 -62 22 -61.5 15.5 -44 13.5 -40 12 -38.3ZM-23.5 -61.5 -22.9 -61.5 -15.3 -42 -12.5 -38 -11.5 -37.3 -9.9 -37 -10.5 -36.4 -12 -36.5 -13.5 -37.5 -16.5 -41.7 -24.5 -60.6 -24.6 -61ZM40.5 -51.5 42 -50.5 28.8 -34 26.7 -30 26.6 -28 27 -27 26.4 -27 25.8 -28 25.7 -29.5 27.5 -34.1ZM-43 -50 -42.5 -50 -40 -47 -30 -34.6 -28 -31 -28 -29 -28.8 -31 -31.3 -34.5 -44 -48.9ZM56 -34.5 56.7 -33 22.5 -12.8 19 -9.9 16.5 -6.5 16.5 -8.4 17.5 -10.6 19.5 -13 23 -16 26.2 -18 36 -22.3ZM-57.5 -32 -57 -32.5 -25 -14.6 -20 -12.7 -15.7 -12.5 -17 -11.5 -20 -11.2 -23.8 -12 -27.5 -13.5 -39 -20.7 -58 -31ZM64.5 -13.5 64.5 -11.8 49.1 -9 42 -8.4 38.5 -9.5 41.5 -9.3 45.5 -9.7ZM-65 -11 -46 -8.1 -42 -7.8 -38.4 -8.5 -39.5 -7.5 -41 -7 -47.5 -7 -65 -9.3ZM-15.5 5.7 -15.2 8 -16 10.1 -18.5 13.1 -22.5 16.5 -25.9 18.5 -35 21.8 -55.6 34.5 -56.5 34 -56.7 33 -36.5 21 -22 13.2 -17.5 9.4ZM41 6.9 48.7 7 64 9 65 9.2 65 11 44.5 7.8 41 7.8 38.5 8.7 39 7.7ZM-46.5 8.5 -41.5 8.2 -39.7 8.5 -39 9.1 -46.5 9.7 -64.5 13.5 -64.5 11.6ZM17.5 10.9 21 11 27.7 13.5 38.5 20.3 58 30.7 57.5 32 56.6 32 23.5 13.9 19 12.2 15.5 12ZM-2 18.1 -0.1 19 1.5 21.2 2.5 24 3.3 29 3.4 32.5 1.9 44 2.5 65.5 0.7 65.5 0.9 26.5 -0.2 21.5 -2.1 18.5ZM-26.5 26.3 -25.5 27.2 -25.3 29 -27 33.7 -39.5 50.5 -40.5 51.8 -41 51.5 -41.8 50.5 -31.2 37.5 -27.7 32.5 -26.2 29 -26.3 27.5 -26.9 26.5ZM28.5 28 28.9 30 30.7 33 44 48.5 43 50 30 33.9 28.5 31ZM11 36.8 13.5 37.5 16 40.5 19 46.5 24.9 61 23.2 61.5 15.8 42.5 13.6 39 10.7 37ZM-11.5 38.4 -14.3 45 -20.2 62.5 -21 62.5 -21.9 62 -16 46 -13.5 40.7Z" fill="#55ae9f"/>
<path d="M-4 -65.5 -2.1 -65.5 -1.7 -49 -1.9 -41 -3.5 -32.5 -3.4 -28 -2.7 -23.5 -1.4 -20 0.5 -17.8 2.5 -17 1 -16.4 -1.4 -17 -3.6 -19.5 -5.5 -24.8 -6.9 -31.5 -6.7 -33.5 -3.9 -38.5 -3.2 -42 -3.1 -49.5ZM19 -63 20.5 -62.2 14.5 -44.5 11.5 -38.4 18.5 -62.4ZM-25 -61 -24.5 -61 -18.8 -47 -15.7 -40.5 -12.5 -36.8 -11 -36.4 -9.4 -37 -9.5 -35.6 -10 -35 -11.5 -34.9 -13.5 -35.8 -17 -40 -26.2 -60ZM39 -52.6 40.5 -52 40.7 -51.5 27.8 -34.5 25.7 -29.5 25.8 -28 27 -26.5 25.5 -26.4 24.6 -27.5 24.4 -29.5 26 -34ZM-44 -49 -32 -35.4 -29 -31.4 -28.3 -29.5 -45.1 -47.5ZM55 -36 55.9 -34.5 36.6 -22.5 27 -18.2 23 -15.8 17.9 -11 16.6 -8.5 16.5 -6 15.9 -6.5 15.1 -9 16 -11.8 19 -15.6 23.2 -19.5 25.5 -20.8 31 -21.7 35 -23.3ZM-58 -31 -41 -22 -26.5 -13.2 -20.5 -11.3 -17.5 -11.4 -15.5 -12.5 -15.5 -11.7 -17.1 -10 -20 -9.4 -24.4 -10 -28.7 -11.5 -40 -19.7 -59 -29.4ZM63 -15.1 64 -15.3 64 -14 64.5 -13.4 55.4 -11.5 44 -9.4 40 -9.4 38.5 -10 45 -10.8ZM-65 -9.5 -44.5 -6.9 -40 -7.3 -38.5 -8.2 -38 -9.4 -37.8 -8.5 -38.5 -7 -40.5 -6 -45.5 -5.6 -65.5 -7.6ZM44 5.5 65.5 7.4 65.5 8 65 9.3 50 7.2 42.5 6.8 39 7.7 38.2 8.5 38 9.5 37.8 8 39 6.6ZM-15 5.9 -14 7 -13.7 8.5 -14.5 11.5 -17.5 15.3 -23.5 20.8 -25.5 21.7 -30 21.6 -34 22.8 -40 26.3 -54.6 36 -55.5 35.5 -55.9 34.5 -37.4 23 -32.5 20.5 -26 18.3 -22.5 16.2 -16.8 11 -15.4 8.5ZM-45.5 9.5 -41 9 -38.5 9.5 -45.5 10.7 -64 15.2 -64 14 -64.5 13.5ZM17.5 9.4 20 9.1 23 9.4 29 11.5 39.5 19.2 59 29.2 58.5 30.5 58 30.9 46 24.5 25.5 12.7 19 10.9 17 11.1 15.5 11.9 15.5 10.9ZM-2 17.4 0.5 17.5 3 19.8 4.5 23.2 6 29.5 6 33 3.8 39 3.3 43 4.3 65.5 2.3 65.5 1.8 44 3.2 32 2.9 27 1.2 21 -0.5 18.8 -2.4 18ZM-26.5 25.5 -25 25.3 -24 27 -24 29.8 -25 32.6 -28.5 38.4 -39 52.8 -40.5 52 -40.5 51.5 -29.7 37.5 -26.2 32 -25.3 28.5 -25.6 27 -27 26ZM29 28.8 33.8 35 45.5 47.5 44.5 48.5 44 48.7 32.5 35.5 29.5 31.3 28.8 29.5ZM11 35.7 12.5 35.6 14.2 36.5 17.5 40.5 26.5 60 26 60.5 24.8 61 16.2 41 13 37.2 11.5 36.7 10.4 37ZM-11 38.5 -18.4 63 -19.5 63 -20.3 62.5 -16 49.5 -13 41.6Z" fill="#90d2a3"/>
<path d="M-6 -65.5 -3.9 -65.5 -3 -45 -3.5 -39.4 -6.4 -33 -6.3 -29.5 -4.8 -23 -2.7 -18.5 -0.5 -16.7 2.5 -16.5 1 -14.4 -1 -13.5 -3 -13.9 -5 -15.8 -10.2 -29.5 -11.6 -31.5 -16 -35.9 -18.5 -39.6 -28.2 -59.5 -26 -60 -19.2 -44.5 -15.9 -38.5 -13 -35.6 -10.5 -35.1 -9.8 -35.5 -9.2 -37 -7.5 -36.7 -6.3 -37.5 -5.4 -39 -4.7 -41.5 -4.7 -48.5ZM17 -63.5 18.8 -63 11 -38.2 11 -40.8 12 -45.4ZM37.5 -54 38.5 -53.5 39.2 -52.5 28.3 -37.5 24.8 -31 24.7 -27.5 25.5 -26.6 27 -26.3 27.5 -24 30 -23.3 33.5 -24.3 39.5 -27.8 53.5 -37.7 54.5 -37 55 -36 35.6 -23.5 30.7 -21.5 26 -20.6 23.5 -19.3 19 -15.3 16.1 -11.5 15.3 -8.5 16.3 -6 13.9 -6.5 12.8 -7.5 12.3 -9 13.1 -12 21.4 -23 22.2 -25 23 -30.8 24.5 -34.4ZM-45.5 -47.5 -45 -47.6 -35.5 -37.5 -30.5 -32 -28.4 -29 -32.2 -32 -46.5 -46ZM-59 -29.5 -39.4 -19.5 -28.5 -11.7 -24 -10.1 -19.5 -9.6 -17 -10.2 -15 -12.5 -14.4 -10.5 -14.7 -9 -16.6 -7.5 -20.5 -7 -27.5 -8 -31.5 -9.3 -33 -10.3 -35.8 -14.5 -38.5 -16.9 -44.5 -20.4 -59.5 -27.4ZM62.5 -17 63.5 -17.3 64 -16 64 -15.1 63.5 -15 43.9 -10.5 40 -10 39 -10.4ZM-37.5 -9.1 -36.3 -8 -36.9 -6.5 -39.1 -5 -41.5 -4.4 -48.5 -4.3 -65.5 -5.5 -65.5 -7.7 -48 -5.8 -42 -5.8 -39 -6.7 -37.8 -8ZM40.5 4.5 47 4.1 65.5 5.4 65.5 7.6 49 5.8 43 5.6 39 6.6 37.8 8 37.5 9.2 36.4 8.5 36.4 7 37.9 5.5ZM-15 5.4 -12.5 5.8 -10.9 7 -10.3 9 -10.8 11 -20.2 23 -22.5 30.7 -24.5 35 -37.5 54 -38.5 53.5 -39 52.5 -28.7 38.5 -25.3 33 -24 29 -24.6 26 -25.5 25.4 -27 25.7 -28.5 23.6 -32 23.7 -38 26.8 -53.5 37.7 -54.5 37 -54.9 36 -34.6 23 -30.1 21.5 -25 21.2 -22.5 19.6 -17.5 15 -14.7 11.5 -13.8 8.5ZM17 6.9 20 6.6 23.8 7 32 9.3 33.4 10.5 35.9 14.5 38.5 16.8 44.5 20.2 59.5 27.2 59.5 28.5 59 29.4 41.5 20.5 36.6 17.5 30.5 12.7 26.5 10.7 21.5 9.4 18.5 9.3 16.5 10.1 15 12.1 14.3 10.5 14.5 8.9 15.5 7.6ZM-42 10 -39 9.9 -38.7 10 -40 10.5 -62.8 17 -63.5 17.2 -64 16 -63.9 15ZM0 14.4 2.5 14.7 4.5 16.7 10.2 31 11.5 32.5 15.5 35.4 18 38.5 21.5 44.8 28.5 59.5 26.3 60 19.2 44 15.6 38 12.5 35.7 11 35.8 10 37.1 9 36.2 8 36.1 6.7 37 5.7 38.5 4.9 42 4.9 48 6.3 65.5 4.1 65.5 3.2 43 4 38 5.7 33 5.8 30.5 4.7 24.5 2.9 20 0.5 17.7 -1 17.3 -2.7 17.5 -1.5 15.3ZM29 28.4 46.9 46 45.5 47.5 32 33.1 29.5 29.7ZM-11 39 -10.7 39.5 -11 42.1 -16 61.8 -16.5 63.5 -17.5 63.5 -18.6 63 -18.5 62.6Z" fill="#c1e6a0"/>
<path d="M-9 -65 -8 -65.5 -5.9 -65.5 -4.5 -48.3 -4.5 -43 -5 -39.6 -6 -37.6 -7.5 -36.5 -8.5 -36.7 -9 -37.5 -7.3 -39 -6.6 -43.5ZM14 -64 16 -64 16.9 -63.5 10.5 -37.9 9.7 -40.5 10 -45.2ZM-28.5 -59.5 -27.9 -59.5 -17.7 -38.5 -15.5 -35.6 -11.5 -32 -10 -30 -5 -16.7 -3.5 -14.9 -1.5 -14.1 0.5 -14.5 3 -16.6 5 -14.5 7.5 -14.2 9.5 -15.2 12 -17.5 16.7 -24 23.5 -37.1 35 -55.5 35.5 -55.5 37 -54.5 37.5 -53.6 24.7 -34.5 23.1 -30.5 22.7 -25 21.9 -23 15.4 -15 13.2 -11.5 12.8 -9.5 13.3 -7.5 14.3 -6.5 16.5 -5.5 15 -3 15.4 -0.5 17 1.2 19.5 2.2 29.5 3.8 33 3.7 43.5 1.9 65.5 2.4 65.5 5.6 49.5 4.3 43 4.3 38.5 5.3 37 6.5 36.5 7.5 36.6 8.5 37.6 9.5 36.9 11 37 12 38.5 14.1 44.5 17.7 61 24.7 59.5 27.4 40.1 18 36.1 15 32.5 10.2 28 8.3 21 6.9 17 7.2 14.8 9 14.5 12.2 12 12.4 10.3 14 9.8 16 9.9 18 11.8 24.5 14.1 29 21 39.1 31 57.9 29.5 59 28.2 59.5 21.1 44.5 17.8 38.5 15 35.2 10 31.6 4.8 18 3 15.8 1 14.9 -1 15.3 -3 17.5 -5 15.8 -7.5 15.6 -9.5 16.6 -12.1 19 -16.2 24.5 -22 35.2 -34.5 55.1 -35.5 55.5 -37.5 53.9 -24.2 34 -22.6 30.5 -21.5 25 -20.5 22.7 -13.2 14 -11.3 11 -10.9 9 -11.6 7 -12.7 6 -15.3 5 -14.1 2.5 -14.5 0 -16 -1.5 -18.5 -2.6 -29 -3.9 -33 -3.8 -38.8 -2.5 -44 -2 -65.5 -2.6 -65.5 -5.7 -43.5 -4.3 -39 -5.2 -37.5 -6.1 -36.6 -7.5 -36.7 -8.5 -37.6 -9.5 -36.8 -11 -36.9 -12 -38.5 -14.2 -45 -18.1 -61 -24.9 -59.5 -27.7 -39.9 -18 -36 -15 -32.5 -10.5 -28.5 -8.6 -21.5 -7.3 -17 -7.7 -14.9 -9.5 -14.6 -11 -15 -12.5 -12.5 -13 -11.3 -14 -10.6 -15.5 -10.5 -17.5 -11.8 -23 -13.8 -27.5 -20.5 -38.5 -30.7 -58ZM-47 -46 -46.5 -46.3 -28.4 -28.5 -30.7 -29 -33.7 -31 -48.6 -44ZM52 -40.2 53.5 -38.5 53.6 -37.5 37.8 -26.5 31.5 -23.4 28.5 -23.3 27 -24.2 26.8 -25 27.4 -26.5 28.5 -25.5 30 -25.2 32 -25.7 35 -27.3ZM62.5 -20 63 -19.5 63.5 -17 38.4 -10.5 40 -12 43.3 -13.5ZM-38.5 10 -38.5 10.5 -40.4 12 -44.9 14 -62.5 19.9 -63 19.5 -63.5 17ZM-31.5 23.4 -29.5 23.2 -28 23.7 -27.3 24.5 -27.4 26 -29.5 25.1 -32.5 25.9 -38.5 29.8 -52 40.3 -53.5 38.5 -53.6 37.5 -41.5 29 -35.3 25ZM29 27.9 30.9 28.5 34.4 31 49 44 46.6 46ZM8 35.8 9 36 10 37.5 9 37.6 7.9 38.5 7.2 40 6.8 43 7.2 49.5 9.3 65 6.1 65.5 4.7 43 5.5 38.5 6.5 36.9ZM-10.5 38.5 -9.9 39 -9.5 40.5 -9.6 43.5 -13.5 63.8 -16 64 -16.7 63.5 -11.8 45Z" fill="#e9f4a3"/>
<path d="M-11 -65 -8.7 -65 -6.5 -46.5 -6.7 -40.5 -7.5 -38.5 -8.5 -37.7 -9 -38 -8.3 -40.5 -8.7 -46 -11.9 -64.5ZM11 -64.8 13.5 -64.5 14.1 -64 10.2 -45.5 9.7 -41 10 -37.7 9 -38.4 8.4 -39.5 8 -44ZM-31 -58 -30.5 -58.1 -20.3 -38.5 -14 -28.6 -12 -24.5 -10.5 -20 -10.1 -17 -10.5 -14.5 -12 -12.9 -15 -12.9 -13.6 -15.5 -14.2 -20 -22.7 -38 -33.2 -56.5 -33 -57ZM32.5 -57 35.3 -55.5 22.8 -35.5 16.5 -22.9 13 -18.2 10 -15.1 7.5 -13.7 5 -14.1 4 -14.9 3.2 -16.5 7 -17.6 10.3 -21 21.8 -38.5ZM-49 -44 -48.5 -44.2 -34 -31.4 -28.5 -27.9 -30.5 -27.6 -33.1 -28.5 -40.9 -34 -50.5 -41.8ZM50 -42.3 52 -40.5 52 -39.9 40.5 -31 33 -26 30 -25.1 28 -25.7 28 -26.3 30.5 -26.8 34.5 -29.3ZM-61 -25 -48.7 -20 -41.4 -16.5 -37.5 -13.4 -36.8 -12 -36.8 -10.5 -37.7 -10 -38.3 -11.5 -39.5 -12.9 -43.5 -15.2 -62 -22.2 -61 -24ZM61 -22.5 62 -22.5 62.5 -19.7 43 -13.2 38 -10.5 39 -12.8 42.3 -15ZM16 -5 16.5 -5.4 17.5 -3.3 19 -2 23 -0.7 31.5 -0.2 65.5 -0.4 65.5 2.7 44.5 2.1 39 2.6 32 4.2 23.9 3.5 18 2.2 15.3 0.5 14.4 -2 14.9 -3.5ZM-34 -4 -31 -4.4 -25.5 -4 -19 -3.1 -16 -2.1 -14.5 -1 -13.6 1 -14 3 -15.5 5 -16.5 2.9 -18 1.6 -23 0.3 -65.5 0.3 -65.5 -2.8 -43.5 -2.2 -39 -2.7ZM-38 10 -38 11.1 -39 12.6 -42.5 15 -54.5 20 -62 22.5 -62.5 19.7 -43.5 13.3 -40 11.7ZM37.5 9.9 39 12.3 42 14.3 62 22 61 25 45.7 18.5 40 15.5 37 12.4 36.8 11ZM11.5 12.3 14.5 12.4 13.3 14.5 13 16 14.2 21 22.6 37.5 33.5 56.5 31 58 20.7 39 14 29.5 11.5 24.6 10 20.3 9.3 16.5 9.8 14ZM-8 15.4 -6.5 15.1 -5 15.5 -4 16.3 -3.5 17.6 -6.5 18.3 -9.8 21.5 -21.7 39 -32.3 57 -34 56.5 -35.1 55.5 -22.7 36 -16 23.5 -11.6 18ZM-30 25 -28.5 25.2 -27.9 26 -30.5 26.7 -33 28.2 -50 42.4 -52 40.5 -52 39.9 -37 28.5 -33.1 26ZM29 27.5 31.8 27.5 37.5 31 50.5 41.5 50 43 48.6 44 34.5 31.3ZM9 37.5 9.6 37.5 8.6 40.5 8.8 45 12.1 64.5 11 65 9 65 6.8 47 7 40.2 7.7 38.5ZM-10 38.2 -9.1 38.5 -8.2 40 -7.8 44.5 -9 54.1 -11 65 -11.5 64.5 -13.5 64.5 -13.8 64 -9.8 44.5 -9.6 41Z" fill="#fceea4"/>
<path d="M9.5 -65 11 -65 11.2 -64.5 8.1 -44.5 8.3 -40 9.4 -38 10.5 -37.5 9.5 -37.1 8.4 -37.5 7.5 -38.7 6.7 -43.5 8 -57.5 9 -65ZM-13.5 -64.5 -11.6 -64.5 -9.5 -52.4 -8.2 -42.5 -8.4 -39.5 -9 -38 -9.7 -44.5 -13.8 -64ZM31 -58 32.7 -57 32.5 -56.5 22 -38.6 11 -21.5 7.3 -17.5 5 -16.7 3.3 -17 6.7 -19.5 12.5 -29.8 19.6 -38ZM-34 -56.5 -33 -56.6 -25.5 -43.5 -15 -22.5 -13.3 -17 -13.5 -15 -14.5 -13.5 -14.9 -13.5 -14.8 -15.5 -15.3 -17.5 -20 -26.1 -23.7 -36.5 -34.9 -55.5ZM49 -44 50 -43 50 -42 40.5 -34 32.1 -27.5 29.9 -26.5 28 -26.4 33 -29.7ZM-50.5 -42 -35 -29.8 -31 -27.7 -28.5 -27.8 -28.5 -27.1 -30 -26.5 -32.5 -26.9 -38 -30 -52 -40.5ZM61 -24.6 61.6 -22.5 43 -15.2 39 -12.7 38.1 -11.5 38 -10.5 37.5 -11.3 38.5 -13.7 41.4 -16ZM-62 -22.4 -41.8 -14.5 -38.5 -12 -37.9 -10 -39.5 -11.7 -43.5 -13.8 -62.5 -20.2ZM17 -5.1 20 -3.4 23.5 -2.8 32 -2.8 44 -1.8 65.5 -2.4 65.5 -0.2 25 -0.2 21.5 -0.7 19 -1.7 17.5 -3ZM-46.5 -0 -29 -0.2 -22 0.2 -17.5 1.7 -16 3.5 -15.9 4.5 -18.5 3.2 -21 2.7 -32 2.8 -42 1.7 -65.5 2.3 -65.5 0.1ZM38 10 40 11.9 43.5 13.7 62.5 20 62 22.2 42 14.5 39 12.4 38 11ZM-37.5 10.4 -37.3 11.5 -38 13.1 -41.6 16 -61 24.6 -61.8 22.5 -42.5 14.9 -39.5 13ZM14.5 12.9 14.6 16 15.2 18 19.5 26.2 23.4 35.5 35.2 55.5 34 56.5 33.3 56.5 27.5 46.5 14.5 22.4 12.8 16.5 13.4 14ZM-6 17.9 -3.5 18 -5 18.8 -6.7 20.5 -12.5 30.5 -17.2 35.5 -20.2 39.5 -30.5 58 -32 57.5 -32.5 56.9 -21 37.6 -10 21.3 -7.9 19ZM-30 26.4 -28.5 26.2 -28.5 26.5 -33 29.7 -48.8 44 -50 43 -50 42.1 -38.1 32 -32.9 28ZM30 26.4 33.5 27 37.1 29 52 40.5 50.5 41.8 35.5 29.7 32 27.7 29.1 27ZM-10.5 38 -9 37.7 -7.8 38.5 -7 40 -6.5 43 -7 51.3 -8.8 65 -11 64.7 -8.3 48 -7.9 42.5 -8.8 39 -9.5 38.2ZM9.5 38 10.2 45.5 14 64 13.5 64.5 11.9 64.5 9 47.7 8.5 41.1Z" fill="#fcce7b"/>
<path d="M7.5 -65.5 9.2 -65 7.2 -50.5 6.7 -42.5 7.7 -38.5 9 -37.2 10.4 -37 9 -35.6 7.5 -36.4 6.5 -37.8 5.4 -42.5 6 -53.6ZM-15.5 -64 -13.6 -64 -13.5 -63.5 -9.5 -43.6 -9.2 -40 -9.5 -38.2ZM29.5 -59 31 -58 20.5 -39.1 18 -35.5 12.6 -29.5 7 -19.7 5.3 -18 3.5 -17.4 6.3 -22 10.3 -32 11.2 -33 15.5 -35.3 18.4 -38.5ZM-35.5 -55.5 -34.5 -55.1 -23.5 -36.4 -19.9 -26.5 -15.5 -18.4 -14.8 -16 -15 -13.5 -17.2 -18 -22.6 -25.5 -23.4 -31.5 -24.7 -35.5 -28.3 -42 -36.4 -54.5ZM47.5 -45.2 49 -43.9 33.5 -30 30 -27.5 28.2 -27ZM-52 -40.5 -35 -28.2 -30.5 -26.6 -29 -26.8 -27.9 -28 -27.6 -26.5 -28.8 -25.5 -31 -25.4 -36.5 -27.5 -53 -39ZM60 -26.1 60.5 -26 61 -24.5 42 -16.2 38.4 -13.5 37.6 -12 37.5 -10.5 36.8 -11 36.5 -12 37 -13.5 40 -16.5 46.4 -20ZM-62.5 -20.4 -43.8 -14 -39.9 -12 -38.5 -10.2 -44 -12.8 -63 -18.5ZM17.5 -5.1 22 -4.6 32.5 -5.3 39 -3.6 44 -3.1 65.5 -4.2 65.5 -2.3 44 -1.7 32 -2.6 24 -2.6 19.5 -3.4 18 -4.3ZM-62 2 -44.5 1.6 -32 2.6 -22 2.4 -18.7 3 -16.3 4.5 -21 4.3 -32.5 5.5 -40 3.3 -44.5 3 -65.5 4.1 -65.5 2.1ZM-37.5 10 -36.3 11 -36.4 12.5 -37.5 14.3 -39.4 16 -47.6 20.5 -60.5 26 -61 24.4 -46.5 18.3 -40.5 15.2 -37.7 12.5 -37.2 11ZM38.5 10.2 44.5 12.8 63 18.3 63 19.5 62.5 20.2 45.4 14.5 40 12ZM15 13 16.4 17 21.8 25.5 23.6 32.5 25.6 37 36.7 54.5 35.5 55.5 35 55.4 29.5 46.5 23 35.1 19.6 27 15 17.9 14.4 15ZM-4.5 18.4 -3.9 18.5 -6.2 22.5 -10 32.1 -11 33.2 -15.5 35.9 -17.9 38.5 -22.2 45.5 -29 59 -30.5 58.5 -30.5 57.6 -20 38.9 -12.8 30.5 -7.5 21.3ZM30 25.4 32.6 25.5 37 27.5 44.5 32.5 53 39 52 40.4 39.5 30.8 34 27.3 31 26.4 28.7 27 29 26ZM-28.5 26.5 -28 26.6 -47.5 45.3 -49 44 -34 30.5ZM-9 36.3 -7.5 36.8 -6.5 38.1 -5.4 42.5 -5.5 50.4 -7 65.5 -9 65 -6.8 48.5 -6.6 42.5 -7.1 40 -7.9 38.5 -9 37.7 -10.1 37.5ZM10 38 15.9 64 13.9 64 10 44.9 9.5 40.5Z" fill="#fbac61"/>
<path d="M6 -65.5 7.4 -65.5 5.7 -49.5 5.6 -41.5 6.8 -37.5 8.5 -35.9 9.5 -36 10.5 -37 11.5 -35.8 13.5 -35.7 16.5 -38 20.3 -44 27.7 -59.5 29.4 -59 19.5 -40 16 -35.6 10.5 -31.7 6 -21 3.5 -17.6 5.8 -26 6.7 -31.5 6.4 -34 4.5 -39.7 4.2 -43.5 5 -58.4 5.6 -65.5ZM-16 -64 -15.5 -64 -12 -49.5 -10 -40.8 -10 -38.7 -12 -44.4 -17 -62.7 -17.2 -63.5ZM-37 -54.5 -36 -54.2 -25.5 -37.4 -23.5 -32.5 -22.3 -25.5 -16.5 -17 -15.5 -14.8 -15.5 -13.5 -19.5 -18.4 -25 -23.3 -26.5 -23.8 -30.7 -24 -35.2 -25.5 -42 -29.5 -53.7 -37.5 -53.5 -38.5 -52.7 -39 -39 -29.2 -32.5 -25.8 -29 -25.6 -27.7 -26.5 -27.6 -28 -26.5 -27.8 -25.5 -28.2 -24.8 -29.5 -24.6 -31 -25.7 -35 -29.2 -41 -37.7 -53.5ZM46.5 -46.5 47.6 -45 31.7 -30 28.3 -27.5ZM59 -27.5 59.5 -27.7 60 -27 60 -26 46 -19.7 40 -16.4 37.8 -14.5 36.8 -13 36.6 -11.5 37.4 -10.5 36 -10 35.1 -10.5 35 -12 35.8 -14 39.5 -17.5 45.6 -21ZM-63 -18.7 -44.5 -13 -40.7 -11.5 -38.5 -10 -63.5 -16.9ZM31 -8.1 34 -8.4 37.5 -5.7 41 -4.6 47.5 -4.4 65.5 -5.8 65.5 -4 45 -3 39.1 -3.5 32 -5.1 20.5 -4.5 17.3 -5.5 23 -6.2ZM-49.5 3 -41.5 3.1 -32.5 5.3 -21 4.3 -16.3 5 -25 6.8 -32.5 9.1 -33.6 10 -36 14.5 -39.5 17.5 -59.5 27.7 -60.2 26 -42.5 17.8 -38.5 15.2 -36.7 13 -36.2 11.5 -37.2 9.5 -35.9 8.5 -35.9 7.5 -37.5 5.7 -40 4.7 -47.5 4.2 -65.5 5.7 -65.5 3.9ZM39.5 10.3 63.5 16.8 63.5 17.5 63 18.5 52.9 15.5 42.1 12 39.1 10.5ZM15.5 13.5 25 25 24.5 30 25.3 33.5 29.2 40.5 38.1 53.5 37 54.5 36.5 54.5 35.5 52.9 25.5 36.9 23.5 32.5 21.8 26 16 16.5 15.2 14ZM-4 18.9 -6.8 32 -6.4 34.5 -4.5 39.7 -4 44 -5.4 65.5 -7.2 65.5 -5.6 51 -5.4 42.5 -6.4 38.5 -7.5 37 -8.5 36.5 -9.5 36.6 -10.5 37.5 -11.5 36 -13 36 -14.5 36.7 -16.4 38.5 -20.2 44.5 -27.4 59.5 -28.5 59.5 -29.2 59 -29 58.6 -20 41.5 -16 36.2 -10.3 32 -6 21.8ZM28.5 24.4 30.5 24.1 33 24.4 37.7 26.5 54 37.4 53.5 38.5 53 38.9 40.5 29.8 34.5 26.2 30.5 25.4 29 26.1 28.4 27.5 27.3 25.5ZM-28.5 27 -28 27 -31.5 31.3 -46.5 46.5 -47.5 45.1ZM10.5 38.7 17.5 63.5 16.5 63.5 16 64 11 44Z" fill="#f47f48"/>
<path d="M4 -65.3 5.7 -65.5 4.3 -48 4.3 -42 4.9 -38.5 7 -32 6 -26.1 3.5 -18.3 3.1 -18.5 4.4 -31.5 3.2 -40 3 -45.4ZM-17.5 -63.5 -17 -63.3 -10.5 -39.9 -10.5 -38.7 -13 -44.2 -18.5 -62.3 -18.7 -63ZM26.5 -60 27.8 -59.5 18.5 -40.7 15 -36.4 13 -35.5 11.5 -35.7 10.9 -37 12.5 -36.5 14 -37.1 17.3 -41 26 -59.7ZM-38.5 -53.5 -37.5 -53.4 -26.5 -36.7 -25 -33.2 -24.6 -31 -24.8 -29 -25.5 -27.9 -27.1 -28 -26.2 -29 -25.7 -31 -27.2 -35.5 -39 -52.6ZM45.5 -47.5 46.5 -46.3 28.6 -28 28 -28 34 -35.5ZM-54 -37.5 -35.5 -25.7 -31.5 -24.2 -26.5 -24 -25 -23.6 -18.5 -17.5 -16 -14.3 -16 -13.8 -25.5 -20.8 -34.8 -24 -42 -28 -54.5 -36.1 -54.5 -37ZM59 -29.2 59.5 -27.6 44.5 -20.3 38.5 -16.7 35.6 -13.5 35.2 -11 36 -10.1 37.5 -10.1 37.1 -8.5 38 -7 41 -5.7 49 -5.7 65.5 -7.4 65.5 -5.7 50.9 -4.5 42.5 -4.4 38.9 -5 34.5 -7.7 33 -8 22.5 -6 19 -5.7 17.8 -6 30.5 -10.7 32.5 -12.3 35.8 -16 38.9 -18.5ZM-63.5 -17.1 -39 -10 -43.4 -10.5 -64 -15.5ZM-52.5 4.5 -45 4.2 -40.4 4.5 -36.9 6 -35.6 7.5 -35.5 8.5 -37.5 9.5 -37.3 8 -38.5 6.6 -40.5 5.7 -43.5 5.3 -65.5 7.3 -65.5 5.6ZM-19.5 5.5 -16.5 5.5 -30 10.9 -36.8 17 -41.4 20 -58.6 29 -59 29.2 -59.5 28.5 -59.5 27.5 -44.5 20.3 -38.5 16.7 -35.7 14 -34 9.6 -33.4 9ZM39 10 43.8 10.5 62.9 15 64 15.3 64 16 63.5 16.9ZM15.5 13 25.5 21.3 27.5 22.1 32.5 23 36.3 24.5 54.7 36 53.9 37.5 42 29.3 35 25.2 31 24.1 29.5 24.2 28 25 27.6 26 28.1 27.5 26.5 27.9 25.8 29.5 26.3 33 30.3 40 39.2 52.5 38.5 53.5 37.9 53.5 33 46.4 26 35.2 24.5 30.8 24.7 26 24.3 24.5 17.5 16.5ZM-3.5 18.9 -4.4 32 -3 41.3 -3 51.4 -3.8 65.5 -5.5 65.5 -4.3 50 -4.2 43 -4.8 39 -6.8 34 -7 32 -5.5 24.8ZM-28 27 -28.5 28.9 -31 32.2 -45.5 47.5 -46.5 46.4 -32.3 32ZM-13 35.9 -11.5 35.9 -10.7 37 -13.5 37.3 -16.3 40 -19.9 46.5 -26 60.2 -27 60 -27.5 59.3 -19 42.2 -16 37.9ZM11 38.8 13.5 44.8 19 63 18 63 17.5 63.5 11 40.3Z" fill="#e45534"/>
<path d="M2.5 -65.2 4.1 -65.5 3.1 -43.5 4.6 -31.5 3 -18 2.5 -18.6 2.3 -21.5 2.4 -32 1.9 -42ZM-19.5 -63 -18.5 -62.8 -13.2 -45 -10.5 -38 -12.5 -40.6 -14.5 -45.4 -20 -62.1ZM25 -61 26.3 -60 18 -42 14.6 -37.5 12.5 -36.5 11.5 -36.8 14.3 -38.5 16.7 -42ZM-39.5 -52.5 -39 -52.8 -35.5 -48 -27 -35.3 -25.7 -31 -25.9 -29.5 -26.9 -28.5 -27.5 -28.5 -26.7 -29.5 -26.6 -31.5 -27.8 -34.5 -31.3 -40 -40.4 -52ZM44.5 -48.5 45.5 -47.5 32.8 -34 27.8 -28 28.5 -30.1 30.5 -33ZM-55 -36 -54.5 -36.3 -36 -24.7 -25.4 -21 -15.9 -13.5 -18.6 -14.5 -26.5 -19.3 -34.3 -22.5 -40 -25.5 -55.5 -35ZM58.5 -30.5 59 -29.1 44.5 -21.7 38 -17.8 35.4 -15.5 32.5 -11.9 30.6 -10.5 18 -6.2 17.9 -6.5 19.5 -7.6 29.5 -12.7 40 -20.5ZM-64 -15.6 -38.5 -9.5 -45.5 -10 -64 -13.9ZM37.5 -9.6 38.5 -7.8 42 -6.6 49 -6.8 65 -8.8 65.5 -7.3 47.9 -5.5 42.2 -5.5 39.8 -6 37.9 -7 37 -8.5ZM-49.5 5.5 -43 5.3 -39.5 6 -37.5 7.5 -37.5 9.1 -39 7.3 -43 6.3 -50 6.7 -65 8.7 -65.5 8 -65.5 7.2ZM-17.5 5.9 -16.5 6 -18 7.1 -29.5 13.1 -40 20.5 -58.5 30.5 -59 29.1 -39.5 18.8 -36 16.2 -30.5 11ZM38.5 9.5 43.1 9.5 62.8 13.5 64 13.8 64 15.4ZM15.5 13 18.1 14 27 19.7 34.7 22.5 40.5 25.5 55.2 34.5 55.5 35.5 54.5 36 42 27.8 35.5 24.2 25.5 21.6ZM-3 18.5 -2.4 22.5 -2.5 32 -1.8 41.5 -1.8 50 -2.3 65.5 -3.9 65.5 -2.9 44.5 -3.2 40 -4.6 31.5ZM-27.5 26.5 -28 29.4 -30 32.5 -44 48.5 -44.5 48.5 -45.3 47.5 -31.3 32.5 -28.2 28.5ZM27 27.5 27.8 27.5 26.9 29 26.7 30.5 28.1 34.5 40.5 52 39.1 52.5 27.5 35.6 25.7 30.5 26 28.5ZM-12.5 36.9 -11 37.5 -13.5 38.3 -15.8 41 -19.3 48 -24.7 61 -26 60.5 -22.5 52 -17.5 41.8 -15 38.4ZM11 38.2 13 41 15.5 47.5 20.4 62.5 19.5 63 18.9 63 13.8 46Z" fill="#b4221f"/>
</g></g></g>
<path d="M131.5 533.5v5M131.5 661.3v-5M118.5 648.5h5M248.5 648.5h-5M157.5 533.5v5M157.5 661.3v-5M118.5 623.0h5M248.5 623.0h-5M183.5 533.5v5M183.5 661.3v-5M118.5 597.4h5M248.5 597.4h-5M209.5 533.5v5M209.5 661.3v-5M118.5 571.8h5M248.5 571.8h-5M235.5 533.5v5M235.5 661.3v-5M118.5 546.3h5M248.5 546.3h-5" stroke="#111" stroke-width=".7" fill="none"/>
<rect x="118.5" y="533.5" width="130.0" height="127.8" fill="none" stroke="#555" stroke-width=".6"/>
<text x="123.5" y="549.3" font-size="11.6" text-anchor="start" font-weight="bold">(a)</text>
<rect x="199.8" y="541.4" width="41.3" height="17.2" fill="#fff" stroke="#666" stroke-width=".5"/>
<text x="201.8" y="554.1" font-size="11.4" text-anchor="start" >Ω=0.48</text>
<text x="246.2" y="660.1" font-size="10.4" text-anchor="end" fill="#333">7(b)</text>
<text x="116.3" y="652.3" font-size="11.2" text-anchor="end" >-200</text>
<text x="116.3" y="626.8" font-size="11.2" text-anchor="end" >-100</text>
<text x="116.3" y="601.2" font-size="11.2" text-anchor="end" >0</text>
<text x="116.3" y="575.6" font-size="11.2" text-anchor="end" >100</text>
<text x="116.3" y="550.1" font-size="11.2" text-anchor="end" >200</text>
<text transform="translate(104.5,597.4) rotate(-90)" font-size="11.2" text-anchor="middle">y</text>
<linearGradient id="cb26" x1="0" y1="0" x2="0" y2="1"><stop offset="0.000" stop-color="#a01818"/><stop offset="0.050" stop-color="#b82420"/><stop offset="0.123" stop-color="#e45434"/><stop offset="0.210" stop-color="#f48048"/><stop offset="0.300" stop-color="#fcb064"/><stop offset="0.390" stop-color="#fcd480"/><stop offset="0.474" stop-color="#fcf4ac"/><stop offset="0.560" stop-color="#e4f4a0"/><stop offset="0.650" stop-color="#b4e0a0"/><stop offset="0.740" stop-color="#7ccaa4"/><stop offset="0.825" stop-color="#3c9c9c"/><stop offset="0.910" stop-color="#1c4c88"/><stop offset="1.000" stop-color="#070a6e"/></linearGradient><rect x="251.3" y="533.5" width="6.3" height="127.8" fill="url(#cb26)" stroke="#333" stroke-width=".5"/>
<path d="M251.3 533.5H259.6" stroke="#222" stroke-width=".7"/>
<text x="260.2" y="537.7" font-size="11.8" text-anchor="start" font-family="Liberation Sans, sans-serif">π</text>
<path d="M251.3 565.4H259.6" stroke="#222" stroke-width=".7"/>
<text x="260.2" y="569.6" font-size="11.8" text-anchor="start" font-family="Liberation Sans, sans-serif">π/2</text>
<path d="M251.3 597.4H259.6" stroke="#222" stroke-width=".7"/>
<text x="260.2" y="601.6" font-size="11.8" text-anchor="start" font-family="Liberation Sans, sans-serif">0</text>
<path d="M251.3 629.3H259.6" stroke="#222" stroke-width=".7"/>
<text x="260.2" y="633.5" font-size="11.8" text-anchor="start" font-family="Liberation Sans, sans-serif">-π/2</text>
<path d="M251.3 661.3H259.6" stroke="#222" stroke-width=".7"/>
<text x="260.2" y="665.5" font-size="11.8" text-anchor="start" font-family="Liberation Sans, sans-serif">-π</text>
<rect x="289.6" y="533.5" width="130.0" height="127.8" fill="#f5ee9e"/>
<clipPath id="pc27"><ellipse cx="354.6" cy="597.4" rx="64.0" ry="62.9"/></clipPath>
<filter id="pb27" x="-5%" y="-5%" width="110%" height="110%"><feGaussianBlur stdDeviation="0.42"/></filter>
<g clip-path="url(#pc27)">
<g filter="url(#pb27)">
<g transform="translate(354.6,597.4) scale(1,0.9831)">
<path d="M-4.5 -65.5 -3.9 -65.5 -3.8 -57.5 -4.9 -48.5 -4.9 -37.5 -5.5 -35.1 -7 -33.9 -7.5 -34 -6.3 -35 -5.6 -37.5 -6.1 -48.5 -4.4 -56ZM5 -65.5 5.5 -65.5 5.1 -54.5 5.9 -52.5 7 -51.7 7.5 -52 9 -51.6 10.9 -53.5 13.9 -64 14.7 -64 12 -54.4 11 -52.5 8.2 -49.5 7.7 -48 6.3 -37.5 6.8 -34.5 8.1 -33.5 7.5 -33 6 -34.4 5.5 -36.9 6.5 -49 4.5 -54.5 4.5 -62.6ZM-13.5 -64.5 -11.2 -55.5 -9.5 -52.2 -11 -53.6 -12 -56.1 -13.8 -64ZM-22.5 -62 -19.5 -53.8 -16.8 -43 -14.2 -36.5 -12.8 -34 -8.9 -29.5 -4.8 -19.5 -3.5 -17.9 -1.5 -17 -0 -18.5 1.5 -17 2.5 -17.2 4.1 -18.5 5.6 -21 9 -29.3 12.5 -32.5 14.6 -35.5 18.3 -43.5 20 -52.9 23 -61.5 23.5 -61.5 20.3 -51.5 19.9 -45.5 18.5 -41.2 14.5 -33.5 10.2 -28 6 -18.7 2.1 -13 1.2 -8 1 -1.6 -0 -3.5 -2.3 -13.5 -6 -18.7 -9.8 -27.5 -14 -34.1 -17 -40.7 -18.5 -45.4 -19.8 -52.5 -22.9 -61.5ZM-31 -58 -25.2 -48 -28 -51.5 -31 -56.9ZM31.5 -57.5 32.1 -57 28.5 -51 25 -47.2ZM-39 -53 -26 -34.9 -23.5 -30.7 -23 -28.5 -39 -52.2ZM39.5 -52.5 40.1 -52 34.8 -45 30.5 -37.4 24.3 -29 23 -26.3 23 -27.6 24.5 -30.6ZM-46 -47 -40.5 -41.5 -38.5 -38.6 -46.4 -46.5ZM46.5 -46.2 47 -45.7 42.6 -41.5 39 -38.5 38.3 -38.5ZM-52 -40.1 -36.5 -29 -20 -15.9 -16.5 -13.6 -13.5 -12.9 -16.2 -12.5 -22.6 -16 -36.5 -27.8 -52.5 -39.5ZM52.5 -39 53.1 -38.5 22.6 -16 17.4 -13 15 -12.4 13.5 -12.9 17.5 -14.2 30.5 -22.7ZM-57.5 -32 -56.7 -32 -50 -28 -46.8 -25 -57.4 -31.5ZM57.5 -31 58.1 -30.5 48.5 -25.5 47.6 -25.5ZM-61.5 -23.5 -60.2 -23.5 -51 -20.2 -43.6 -19 -34 -15.5 -36.3 -15.5 -44.5 -18.2 -52.6 -20ZM61.5 -22.5 62 -22.5 62 -21.9 61 -21.5 38.4 -14 35 -13 32 -13ZM-64 -14.9 -53.6 -12 -51 -10.5 -48.5 -8.1 -39.1 -5.5 -36.7 -4 -34.5 -1.4 -18.5 0 -32.5 0.9 -39.9 4 -45.9 5 -54.5 4 -65.5 4.3 -65.5 3.6 -60.5 3.4 -43 3.8 -38 2.3 -36 0 -37 -1.1 -37.2 -3 -38.5 -4.2 -45.5 -6.3 -49 -6.4 -52.3 -5 -56 -4.5 -65.5 -5 -65.5 -5.7 -54 -5.2 -52 -5.7 -50.8 -7 -50.7 -9 -52.5 -10.8 -56 -12.2 -63.4 -14 -64 -14.2ZM64.5 -13.5 64.5 -12.8 52.1 -10 55.6 -11.5ZM43.5 -4.5 48 -4.7 55.5 -3.7 65.5 -4.1 65.5 -3.4 56 -3.1 45 -3.7 38.5 -2.7 31 0.4 18.5 0 31 -1.2 37.9 -3.5ZM-0.5 1.9 2.7 12.5 7.5 20.7 15 39.9 22.1 62 21.4 62 21 61.1 14.2 40.5 6.4 21.5 4 17.7 1.5 16.5 0.5 17.1 0 18.5 -1.5 17.4 -3.5 18.2 -6.3 23.5 -7.8 29.5 -6.8 37.5 -8 47.4 -8.7 49.5 -12.2 54.5 -14.8 64 -15.5 64 -13.5 56.4 -12 52.5 -9.6 48.5 -8.2 42.5 -7.8 35.5 -8.7 33 -10 31.8 -10.5 31.7 -11.3 33 -12.5 32.6 -14 33.3 -17.2 38 -19.9 44.5 -21 53.8 -23.5 60.9 -24.3 61 -21.3 52.5 -20.7 49 -21.4 45.5 -19.5 40.5 -15 33 -13.5 31.9 -10.5 31 -6 19.2 -1.6 13.5ZM35.5 2.7 36.1 4 38 5.2 49.5 7.7 50.7 10 52.5 11.3 63.6 14.5 64 15.4 54.9 13 51.5 11.5 47.5 8.7 37.9 6 35.5 4.3ZM54 5 65.5 5.4 65.5 6.1 53.5 5.6 52 6.2 51 7.7 50.5 7.7 50.3 7 51.2 6ZM-52 9.5 -52.8 10.5 -55.4 11.5 -64.5 13.5 -64.5 12.9 -54.5 10.7ZM15 12 18.7 13 24.6 16.5 26.1 18 28.8 22.5 32.5 26.2 48 37 52 40 52 40.5 51.5 40.6 43.5 34.7 35 29.5 29 24.2 23.5 17.7 17.5 13.7 13.6 12.5ZM-16 12.5 -14.1 12.5 -13.5 13 -15.5 13.2 -17.5 14.2 -31.5 22.8 -53 39 -53.5 38.5 -32 22 -20.4 14.5ZM-36 13.5 -34.9 13.5 -35.9 14 -43 16.5 -62 22.5 -62 21.9 -58.2 20.5ZM31 16 34.8 16 44 19.2 52.2 20.5 60.9 23.5 61 24.4 50.5 20.7 43 20 34.5 16.7 31.5 16.5 30.5 17.1 30.3 16.5ZM46.5 24.7 49.5 27.7 57 32 57 32.9 48.9 28 46.5 25.8ZM-48.5 25.4 -47.9 25.5 -49.5 26.5 -57.8 31 -58.5 30.5ZM-25 26.5 -24.9 28.5 -26 31 -35 45.6 -39.5 51.7 -40.5 52 -34.8 44 -31 36.6 -25.7 29ZM20.5 29.9 25.5 35.5 38.5 53.5 37.9 53.5 20.1 30ZM3.5 36.3 3.9 36.5 4.4 48 3.5 55.5 3.8 65.5 3.1 65.5 2.9 56.5ZM-38.5 37.9 -37.9 38 -47 46 -47.4 45.5 -41.5 40ZM38 38.9 45.7 47 45.5 47.5 39.5 41.5 38 39.6ZM-25 46.4 -23.5 46.4 -23.4 47 -24.5 46.8 -26.2 48 -32 57.2 -32.7 57 -28.5 50ZM25.5 48.9 30.5 58.5 30 58.5 25.5 49.9 25 49ZM-7 51.9 -6 52.7 -5.3 55 -5.5 65.5 -6.2 65.5 -5.8 55ZM10 53.4 11.5 57.4 13.1 64.5 12.4 64.5Z" fill="#132f7c"/>
<path d="M-5.5 -65.5 -4.7 -65.5 -4.4 -55.5 -6 -48.5 -5.8 -37 -7 -34.4 -6.4 -38.5 -7.4 -49.5 -5.2 -54.5ZM4 -65.5 4.7 -65.5 4.3 -58 4.6 -54 6.6 -49.5 5.6 -40 5.7 -35.5 6.7 -33.5 7.5 -33 8.5 -33.5 9 -32.1 10.5 -32.2 12 -33.3 14.7 -37.5 17.3 -44 20.5 -56.9 22.4 -62 23 -61.5 19.7 -52 18.5 -44 16 -38 13 -33 8.7 -28.5 4.5 -18.8 3 -17.3 1.5 -16.9 0.3 -18 2.5 -18.7 4.3 -21 6.8 -30 5 -34.5 4.7 -37 5.2 -48 3.8 -55.5ZM13.5 -64.5 14 -64 11.5 -54.9 10 -52.3 8.5 -51.5 7.9 -52 9.4 -52.5 10.7 -54.5ZM-14.5 -64 -13.9 -64 -11.3 -54 -10 -52.2 -8.9 -52 -9 -51.4 -10.5 -51.9 -12 -54.2ZM-23.5 -61.5 -22.9 -61.5 -21 -56.2 -18.2 -44.5 -15.2 -36.5 -10 -28.2 -5.8 -18.5 -1.7 -13 -0.2 -4.5 1 -1.4 0 -1.7 -1.5 -4.1 -10.3 -25 -18 -40.4 -19.5 -45.1 -20.3 -51.5ZM31 -58 31.5 -57.5 29.5 -53.9 25 -47.7ZM-32 -57.5 -31.3 -57.5 -25.2 -47.5 -25.8 -47.5 -27.5 -49.5ZM39 -53 39.5 -52.5 33.3 -44 24.2 -30 22.5 -26.5 22.5 -28.2 24 -31.3ZM-39.5 -52.5 -33 -44 -24 -30.4 -23.5 -28.9 -29 -36 -34.3 -44.5 -39.8 -52ZM-46.5 -46.5 -38 -37.9 -47 -46ZM46 -46.9 46.5 -46.2 39.5 -39.5 38.1 -39ZM-52.5 -39.5 -36.1 -27.5 -22 -15.7 -17 -12.8 -15 -12.3 -13.5 -12.6 -13.5 -12 -14.5 -11.4 -16.6 -11.5 -24.5 -15.5 -35.5 -25.8 -53 -38.9ZM52 -39.6 52.6 -39 31 -23 18.1 -14.5 14 -13 22 -19 31 -24.2ZM-57.5 -31.6 -47.6 -25.5 -48.4 -25.5 -58 -30.9ZM57 -31.6 57.5 -31.9 57.5 -31 47 -25.3 48.9 -27ZM-61.5 -23.2 -53.5 -20.3 -43.6 -18 -37 -15.7 -33.5 -15.5 -35 -14.8 -37.6 -15 -55 -20 -62 -22.5ZM60.5 -23 61.5 -23.3 61.6 -22.5 56 -20.5 34.5 -13.5 32.9 -13.5 42.5 -17.5 51.5 -19.8ZM-64 -14.1 -53.9 -11.5 -51.4 -10 -50.7 -8.5 -51 -8.2 -52 -9.8 -53.5 -10.7 -64.5 -13.5ZM63 -14 64 -14.2 64.5 -13.5 54.5 -11.2 51.3 -9.5 51.9 -10.5 53.7 -11.5ZM-49 -6.6 -43.9 -6 -39 -4.5 -37 -2.6 -37.5 -1.5 -37.7 -2.5 -39.5 -3.9 -45.5 -5.2 -48.5 -5.3 -55 -3.9 -65.5 -4.3 -65.5 -5 -53.5 -4.7ZM43.5 -5.5 48 -5.8 55 -4.5 65.5 -4.9 65.5 -4.2 55.5 -3.8 45.5 -4.7 39 -3.7 30.1 -1 19 -0.5 21.6 -1.5 31 -2.7ZM-28 0.5 -19.5 0.3 -20.3 1 -32.5 2.6 -39.8 5 -45.5 6 -49 6 -55 4.6 -65.5 5.1 -65.5 4.4 -58 4 -48.5 4.9 -44 4.8 -39 3.7 -33.5 0.9ZM-0.5 1.4 1 2.7 5 10.3 11.5 26.6 17.5 43.9 19.7 53 22.8 61.5 22.5 62 22 61.7 19.5 54.7 15.7 42 8.8 24 6.3 18.5 2.2 12ZM36 2.8 37 3.9 39 4.8 47 6 49.5 5.8 54 4.4 65.5 4.5 65.5 5.3 57 4.8 53 5.2 51.5 5.8 50.5 7 51.1 8 51.2 9.5 53 10.9 64 13.8 64 14.6 54 12 51.3 10.5 49.5 8 38.7 5.5 36.2 4ZM-51.5 9.4 -51.5 10.1 -53.5 11.5 -64 14.3 -64.2 13.5 -54.5 11.3ZM15 11 19.6 12 28 16.1 31 14.9 34.3 15 44.5 18.2 53.1 20 61.5 22.9 61.5 23.5 51.5 20.3 43.2 19 33.5 15.8 31.5 15.8 30.3 16.5 30 17.5 28.5 17.5 28.2 19 28.6 20.5 31 23.6 36.5 28.2 52 39 52.5 39.5 52 40.1 33.4 27 29.5 23.4 25.9 18 24 16.2 17 12.4 15 12.1 13 12.5 13.6 11.5ZM-14 13 -23.3 20 -32.5 24.7 -52.4 39.5 -53 39 -32.6 23.5 -17.2 14ZM-36 14 -34.9 14 -35.8 14.5 -43 17.5 -51.5 19.7 -61.5 23.3 -61.7 22.5ZM-2.5 17.4 -1 17.4 -0.5 18.4 -2 18.6 -3.7 20.5 -5.2 24.5 -6.2 29.5 -5.9 38 -6.9 49.5 -5 53.2 -4.5 57 -4.8 65.5 -5.6 65.5 -5.3 54.5 -6.1 52.5 -8.5 51.2 -10 52.1 -11.3 54 -13.9 64 -14.7 64 -12 54.1 -8.8 49.5 -7.8 46 -6.8 37.5 -8 30.5 -7.5 27 -5 20.1ZM47 24.9 50 27.3 57.5 31.4 57.5 32 50 28 47.4 26ZM-47.5 25.4 -50 27.5 -57.5 31.7 -57.9 31ZM-24.5 26.7 -24 28 -25.5 31.8 -34 45.4 -39.5 52.5 -39.7 52 -34.3 44.5 -30.5 37.6 -25.7 30.5ZM20 29.4 21.7 30 25.5 34 39 52.3 39 53 38.5 53.1 22.7 32ZM-13.5 32.9 -12.5 32.6 -11.5 33 -14.1 34.5 -17.3 40.5 -18.7 44.5 -20.5 54.6 -22.9 61.5 -23.5 61.5 -20.3 51 -20.1 45.5 -19.5 43.1 -16.5 36.5ZM4 36.2 4.5 37.1 5.5 47.5 4.2 55.5 4.6 65.5 3.8 65.5 3.5 59.5 4.4 48ZM-38.5 38.4 -38 38.5 -46.5 46.5 -46.8 46ZM38.5 38.8 46.3 46.5 46 47 39 40.1 38.2 39ZM-24.5 46.9 -23.8 47 -26.3 49 -31 57 -32 57.5 -27.5 49.6ZM25.5 48.1 31 57.1 31 58 30.5 57.9 25.5 48.9ZM10 52.6 12 56.8 13.5 64.5 13 64.3Z" fill="#338496"/>
<path d="M-6 -65.5 -5.4 -65.5 -5.1 -57 -5.5 -53.3 -7.3 -49.5 -6.4 -39 -7 -35 -8.8 -48 -12.5 -53.5 -15.6 -64 -14.7 -64 -11.7 -53.5 -10.5 -51.9 -9 -51.4 -8.6 -52 -7.5 -51.7 -6.2 -53.5 -5.8 -56.5ZM3.5 -65.5 4 -65.5 3.7 -55 5.3 -48.5 4.7 -36 7.1 -30.5 4.5 -21.3 3 -19 1.5 -18.2 0.5 -18.5 1.9 -19.5 3.2 -21.5 4.8 -29 3.7 -36.5 4 -48.5 2.9 -56 3 -64.3 3.1 -65.5ZM12.5 -64.5 13.2 -64.5 11 -55.4 9.5 -52.7 8.5 -52.4 10.2 -55ZM21.5 -62 22.4 -62 19.3 -53 17.5 -44.4 16 -40.3 12.5 -33.8 11 -32.4 9 -31.9 8.5 -33 10 -33 11.4 -34 14.3 -39ZM-24.5 -61 -23.5 -61 -21 -53.9 -19.3 -44.5 -17.8 -40 -10.5 -25.8 -1.3 -4 -0.2 -2 1 -1 0 -0.1 -8.1 -10.5 -8.4 -15.5 -9.4 -19 -20.5 -43.9 -21.2 -52ZM30.5 -58.5 30.9 -58 27 -51 24.3 -48ZM-32.5 -57 -32 -57.2 -27.9 -50 -24.9 -46.5 -26.1 -47 -28 -49 -32.5 -56.3 -32.9 -57ZM38.5 -53.5 38.9 -53 23.8 -31 22.6 -28.5 22.6 -26 22.2 -26 21.8 -28.5 23.5 -32.3 32 -44.9ZM-40.5 -52 -39.8 -52 -35 -45.5 -24 -28.8 -30 -35.6 -34.3 -43ZM45.5 -47.5 46 -46.8 37.3 -38.5ZM-47 -46 -37.9 -37.5 -39.4 -38 -43.5 -41.5 -47.5 -45.3ZM52 -40.5 51.9 -39.5 31.5 -24.5 22.5 -19.2 16.1 -14.5 13.5 -13.5 21.2 -20.5 30 -24.7ZM-53.5 -38.5 -53 -38.9 -52.4 -38.5 -37 -27 -24 -15.3 -16.5 -11.6 -14 -11.7 -12.9 -13 -12.5 -11 -14.5 -9.9 -18 -10.5 -26.8 -15 -33.5 -22.7ZM57 -32.6 57.5 -31.9 47 -25.5 46.9 -26 48.5 -27.5ZM-58 -31 -47.8 -25 -48.6 -25 -58 -30 -58.5 -30.5ZM61 -24.1 61.5 -23.4 60.6 -23 52.1 -20 43.5 -17.8 33 -13.6 34.4 -15 42 -18.5 52 -20.8ZM-62 -22.5 -52.5 -19.2 -38.5 -15.3 -35.5 -14.7 -33.5 -15.4 -33.2 -15 -35 -13.9 -39.4 -14.5 -61.8 -21.5ZM63.5 -15 64 -15.1 64 -14.2 53 -11.2 50.7 -9 51 -10.5 53.2 -12ZM-64.5 -13.5 -53.2 -10.5 -51.5 -9.2 -51.5 -8 -51.9 -9 -53 -9.8 -64.1 -12.5ZM46 -7 49 -7.1 54 -5.3 65.5 -5.8 65.5 -4.9 54.5 -4.5 48.5 -5.7 45.5 -5.7 39 -4.7 30.3 -2.5 21 -1.3 18.9 -0.5 20.2 -2 23 -3ZM-50 -5 -47 -5.4 -41.3 -4.5 -38.5 -3.3 -37.8 -2.5 -38 -1.9 -40.5 -3.4 -46 -4.2 -56 -3.1 -65.5 -3.4 -65.5 -4.2 -55.5 -3.8ZM-19 0.5 -19 1 -20.5 2 -23.9 3 -47.5 7.4 -49 7.5 -52.5 5.7 -55 5.4 -65.5 6 -65.5 5.1 -57 4.7 -52.5 5 -48.5 6 -44.5 5.8 -39 4.7 -32.6 2.5 -22 1.4ZM0 0 9.6 10.5 9 14.5 9.3 17 13.5 27.4 14.8 33.5 18.5 43.3 20.3 52 23.5 61.5 22.8 61.5 20.5 55.3 17.3 43.5 10.7 25 2.4 5.5 0.4 2 -1 1ZM36.5 3 40 4.2 45.5 4.8 56.5 3.4 65.5 3.7 65.5 4.6 54.5 4.2 49 6.1 47 6.1 39.8 5 37.1 4ZM51 8.4 52.5 9.9 54.5 10.8 64.5 13 64.5 13.5 62.4 13.5 54.6 11.5 51.7 10ZM-51 8.9 -50.5 9.5 -50.9 10.5 -53 12 -64 15.1 -64 14.3 -53 11.3 -51.3 10ZM14 9.4 18.2 10 27.5 13.6 36.5 14.5 54.1 19.5 62 22.5 61.5 23 52.5 19.8 43.5 18 35 15.2 31.5 14.9 28.7 16.5 29.6 17.5 29.2 19 29.6 20.5 31.5 22.8 52.7 38.5 53 39 52.5 39.5 31.9 24.5 28.5 20.4 28.3 17 27.9 16.5 17 11.2 14.5 11.1 13.2 12 13 13 12.3 12.5 11.5 11.5 11.6 10.5ZM-14 13.5 -13.5 13.6 -23 22.1 -28.5 23.6 -31.5 25.2 -52 40.3 -52.4 39.5 -33.1 25 -24 20.3 -16.9 15ZM-35.5 14.4 -35 14.6 -37.2 16 -42.7 18.5 -52 20.7 -61 24 -61.5 23.5 -52.4 20 -42.5 17.3ZM-1.5 18.4 -0.5 18.5 -2.1 20 -3.3 22.5 -4.6 30.5 -5.5 48.5 -4 53.9 -3.7 59 -3.9 65.5 -4.7 65.5 -4.7 54.5 -5.3 52.5 -7.1 50 -5.9 37.5 -6.3 29.5 -4.5 22 -3.1 19.5ZM47.5 24.9 58 31 57.5 31.5 53 29 48.2 26ZM-47 25.4 -47 26 -49.6 28 -57 32.4 -57.5 32ZM-24.5 26.1 -23.5 26.5 -23.2 28 -24.5 31.9 -33.5 46.1 -38.5 53.1 -39 53 -39.2 52.5 -33.8 45 -24.8 30.5 -24.1 28ZM19.5 28.9 21 28.8 22.4 29.5 26 33.1 39.5 51.6 39.5 52.5 24.2 32.5 21.5 29.8ZM-13 33.5 -11.5 33.5 -12.5 33.9 -13.9 35.5 -16.2 40.5 -17.7 45 -19.5 54 -22.5 62 -22.9 61.5 -19.8 52 -18.5 43.5 -15.5 36.5ZM4.5 35.4 6.8 48.5 5.1 55 5.5 65.5 4.6 65.5 4.3 59.5 4.4 54 5.5 48ZM38.5 38.1 47 46 46.3 46.5 38.5 38.7ZM-38.5 39 -38 38.6 -38 39.2 -46 47 -46.3 46.5ZM-24.5 47.4 -23.9 47.5 -26.2 50 -30.5 57.9 -31 58 -31 57 -28 51.6ZM25 47.3 28 50.5 32 57.5 31 57.2ZM-9 51.3 -8 51.3 -7.9 52 -9.4 52.5 -10.7 54.5 -13.5 64.5 -13.9 64 -12 56 -10.5 52.7ZM9 51.7 10.5 52.2 12 54.6 14.6 64 13.8 64 11.3 54.5Z" fill="#74c5a3"/>
<path d="M-7 -65.5 -6.3 -65.5 -5.9 -55 -6.5 -52.8 -8 -51.8 -6.6 -55ZM2.5 -65.5 3.1 -65.5 2.9 -56.5 4.1 -48.5 3.7 -36.5 5 -29.5 3.5 -22.1 2.4 -20 1 -18.9 0.5 -19 2.2 -22.5 3 -28.5 2.4 -37 2.7 -48 2 -57 2.1 -65.5ZM11.5 -64.5 12.4 -64.5 10.5 -56 9.5 -53.5 8 -52.5 9.3 -54.5ZM-16 -64 -15.5 -64 -12.7 -54 -8.8 -48.5 -7.5 -41 -7.5 -34.9 -9.8 -46.5 -14 -55 -16.4 -63.5ZM21 -62.5 21.5 -62 15 -40.6 12 -34.6 10.9 -33.5 9.3 -33 9 -33.5 10 -33.8 11.4 -35.5 13.3 -39.5 20.5 -62.3ZM-25 -61 -24.4 -61 -21.5 -52.9 -20.3 -43.5 -9.5 -19.7 -8.5 -16.5 -7.6 -10.5 -0.5 -0.9 1.4 -0.5 3.5 1.7 10 5.4 25 10.8 35.5 13 62 21.2 62 22.2 35 14.2 27 13.6 17 9.8 14 9.6 12.2 10.5 11.9 11.5 12.6 13 11 14.5 11.1 17.5 15.4 26.5 15.9 33 20 43.6 21.2 52 24.6 61 23.5 61.1 21 54.4 18.6 44 15 34.5 13.2 27 9.5 18.2 8.8 15 8.8 10.5 0.5 0.6 -1 1 -2.5 -1.2 -10.5 -6.3 -18.9 -9 -30 -13.9 -31 -14.1 -34.5 -12.8 -37.9 -13 -62.5 -20.8 -62 -21.6 -61.5 -21.5 -37.5 -14.1 -34 -14.2 -33 -15.6 -31.3 -16 -31.3 -18 -33.4 -21 -45.5 -31.2 -54 -37.3 -53.5 -38.2 -34.3 -23.5 -31.5 -20.8 -28.3 -16.5 -26 -14.6 -17 -10.3 -14.5 -10.1 -13 -10.7 -12.6 -13 -10.7 -14 -10.6 -17.5 -22.6 -45 -21.7 -47.5 -21.7 -50 -25.3 -60.5ZM29.5 -59 30.2 -58.5 30 -58.1 24 -47.9ZM-33 -57 -27.2 -48 -25.5 -46.6 -23.9 -47 -24 -45.8 -26 -46 -28.5 -48.4 -33.5 -56.1 -33.7 -56.5ZM37.5 -54 38.2 -53.5 22.8 -31 21.7 -27.5 22.7 -25.5 22.4 -24 25 -23.5 28 -24.7 51 -41.1 51.8 -40.5 29 -24 21.5 -20.5 13.5 -13.8 15 -16.4 21.3 -24 20.6 -26.5 20.7 -28.5 23.5 -34.5ZM-41 -51.5 -40.5 -51.6 -37 -47 -30.2 -36 -24 -28.3 -26.7 -30 -31.5 -35.5 -35.3 -43 -41.3 -51ZM45 -48 45.5 -47.5 36.9 -38.5 39.5 -42.5ZM-48 -45 -47.5 -45.4 -41 -39.3 -37.5 -37 -38.8 -37 -40.6 -38 -48 -44.5ZM56 -33.1 56.5 -33.5 57 -32.6 49 -27.8 45.9 -25 46.4 -26.5 47.9 -28ZM-58.5 -30.3 -47.8 -24.5 -49 -24.5 -59 -29.4ZM61 -25 61 -24.1 59.6 -23.5 51.1 -20.5 43 -18.8 32.3 -14 35.2 -16.5 42.4 -20 50.5 -21.3ZM63.5 -16 64 -16 64 -15.1 55 -12.7 52 -11.3 50.7 -10 50.8 -8 51.5 -6.9 53.5 -6.2 65.5 -6.7 65.5 -5.8 55 -5.3 52.6 -5.5 49 -7 45.5 -6.9 22.5 -2.8 20 -1.9 18.4 -0.5 19 -2.5 21.5 -4 27.5 -5.5 37.5 -6.7 47 -8.7 53.4 -13ZM-64.5 -12.6 -55 -10.5 -52.5 -9.5 -51.9 -8.5 -55 -9.8 -64.5 -11.7ZM-49.5 -4 -45.5 -4.2 -41 -3.5 -38.6 -2.5 -38.1 -2 -38.5 -1.9 -46 -3 -55.5 -2.3 -65.5 -2.4 -65.5 -3.4 -55 -3.1ZM-18.5 0.5 -19 2.3 -22 4 -46.5 8.7 -48.5 9.5 -53.3 13 -64 16 -64 15.2 -52.5 11.7 -50.6 10 -50.6 9 -51.5 7.1 -53.5 6.3 -65.5 7 -65.5 5.9 -54 5.5 -49 7.3 -47 7.3 -23 2.7 -20 1.7ZM37 2.8 46.5 3.6 60 2.5 65.5 2.7 65.5 3.7 54.5 3.6 46.5 4.9 39.1 4 37.5 3.5 36.6 3ZM52 8.9 55.5 10.3 64.5 12 64.5 13.1 55.3 11 52 9.5 51.6 9ZM-14 14 -13.4 14 -14 15.1 -21.1 24 -22.5 30.2 -25 35 -37.5 53.3 -38.5 53.5 -24.3 31.5 -23.2 28.5 -23.6 26.5 -25 26 -25.2 25 -26 24.5 -29.5 25.3 -51.3 41 -52 40.3 -31.3 25 -28.4 23.5 -23 21.9ZM-34.5 14.3 -35 15.5 -36.3 16.5 -41.9 19.5 -51 21.3 -61 25 -61 24 -51.4 20.5 -42.5 18.4ZM30 18 30.4 20 32.5 22.3 53.5 37.9 53.5 38.5 52.6 38.5 32.8 24 29.5 20.3 29.3 18.5ZM-1 19 -0.5 19 -1.6 21.5 -2.4 25.5 -4.1 44.5 -4.1 48.5 -2.8 58.5 -2.9 65.5 -3.9 65.5 -3.8 55.5 -5.6 48 -4.7 30 -3.5 23 -2.5 20.5ZM47.5 24.4 58.5 29.9 58.5 30.5 57.5 30.5 50.9 27ZM-46.5 25.4 -46.1 25.5 -46.5 26.3 -48.9 28.5 -56.1 33 -57 33 -57 32.4 -48.5 27.3ZM19.5 28 21 27.8 22.6 28.5 27.5 33 31 37.5 35.2 44.5 40.7 51.5 40.5 52 39.8 52 39 51 25.9 33 22 29.3 19.2 28.5ZM-12.5 33.9 -11.9 34 -13.6 37 -15.7 42.5 -21 61.6 -22.2 62 -19.2 53 -17 42.5 -14.5 36.5ZM5 35.5 6.5 39.2 8.7 49 12.5 53.8 15.6 64 14.6 64 12.7 56.5 11.2 53 9.5 51.6 8.5 52 7.5 51.6 6.3 53 5.8 55 6.4 65.5 5.4 65.5 5 55 6.7 48.5ZM38 37.4 42.5 40.5 47.5 45.5 47 46ZM-37.5 38.7 -37.5 39.5 -40.5 43 -45 47.8 -45.5 47.5 -45.6 47ZM24.5 46.9 26 47 27.5 48.5 33 57 32 57.3 27.3 49.5ZM-24.5 47.9 -24 48 -29.5 58 -30.5 58.5 -28 53.1ZM-9.5 52.5 -8.5 52.1 -8.5 52.5 -10.3 55.5 -12.2 64.5 -13.2 64.5 -11.5 56.9Z" fill="#b4e0a0"/>
<path d="M-8.5 -65 -7.2 -65.5 -6.6 -57.5 -6.9 -53.5 -8 -52.3 -7.7 -56ZM1 -65.5 2.2 -65.5 2.1 -56 2.8 -47.5 2.6 -36.5 3.1 -29 2.1 -22 0.5 -19.1ZM10.5 -65 11.5 -64.5 10.5 -59.4 9.1 -54 8 -52.9 10 -64.6ZM-17.5 -63.5 -16.4 -63.5 -13.8 -54.5 -10 -47.4 -8 -37.5 -8 -34.5 -9.5 -38 -11.8 -46.5 -15.5 -55.4ZM19.5 -63 20.7 -62.5 14.5 -42.6 11.5 -35.5 10.3 -34 9 -33.5 11.2 -38.5ZM-26 -60.5 -25 -59.9 -22 -51.7 -21.6 -48.5 -22.2 -44.5 -10.5 -17.7 -10.3 -14.5 -11.5 -13.1 -12.5 -13.2 -12.2 -15.5 -12.7 -17.5 -17.1 -25.5 -19.2 -33 -22.2 -39.5 -24.5 -43 -29.5 -47.7 -34.7 -55.5 -33.7 -56.5 -28.2 -48 -26 -46.1 -24.5 -45.7 -22.8 -48 -22.7 -49.5 -26.6 -60ZM28.5 -59.5 29.4 -59 23.5 -47.9 24.5 -51.9 28 -59.5ZM36 -54.6 37.4 -54 26.3 -38.5 21.7 -31 20.7 -27.5 21.5 -25 23 -25.5 24.5 -24.9 26.5 -25.6 35.3 -32.5 42.5 -36.3 50 -42.1 51 -41 28.5 -24.9 25.4 -23.5 21.5 -23.4 12.9 -13.5 13 -16.1 17.4 -24 19.5 -30.3 21.5 -34.4 25 -40 30.7 -47ZM-41.5 -51 -35.5 -43.4 -30.6 -34.5 -26 -29.5 -23 -28 -23.5 -27.4 -25.4 -27.5 -27.1 -28.5 -33.6 -35 -35.9 -41.5 -42.3 -50ZM44 -49 44.7 -48 38.3 -41 36.4 -38 36.3 -39.5 37.5 -41.8ZM-48.5 -44.5 -48 -44.6 -40 -37.7 -37.1 -36.5 -39 -36.1 -42.5 -38 -49 -43.5ZM-54.5 -37 -54 -37.4 -46.4 -32 -33.7 -21.5 -31.2 -18 -31 -16 -31.5 -15 -33 -15.9 -32.7 -17.5 -34.5 -20 -40.9 -25 -47 -30.7 -54.5 -36ZM55.5 -34.5 56.5 -34 56.5 -33.4 47.5 -27.6 46.1 -26 46 -24.3 45 -24 44.9 -26 46.5 -28.2ZM-59 -29.5 -47 -23.5 -50.3 -24 -59.2 -28 -59.5 -28.5ZM59.5 -26 60.5 -26 60.8 -25 51.5 -21.5 42 -19.7 35 -16.3 31.5 -13.5 31.6 -15 33.5 -17 44.5 -23.3 47 -22.2 49.5 -22.3ZM-62.5 -20.8 -38 -13.1 -33.5 -13.2 -31 -14.9 -19 -9.2 -10 -6.6 -2.5 -1.3 -1.3 0.5 -1.5 1 -3.5 0.2 -12.5 -1.3 -18 -5.7 -23.5 -8.2 -29.5 -10.3 -36.5 -11 -44 -13 -63 -19.4ZM62 -17 63.5 -17.4 63.9 -16 53 -12.8 48 -8.8 36.9 -6.5 24.5 -4.7 19.5 -2.8 18 -0.2 16.1 -1 16.3 -2.5 18 -4.5 23.2 -7 28 -8.2 36 -8.2 43.5 -9.7 47.5 -11.2 53.8 -14.5ZM-64.5 -11.7 -55.9 -10 -52 -8.4 -65 -10.3ZM51 -8.2 54.5 -7.1 65 -8.1 65.5 -8 65.5 -6.7 54.5 -6 51.5 -6.9 50.9 -7.5ZM-48.5 -3 -40.5 -2.5 -38.9 -2 -38.2 -1.5 -38.5 -1.3 -65.5 -1 -65.5 -2.5 -56 -2.3ZM1.5 -1 4 -0.2 13.5 0.9 17.5 4.9 21 6.7 62.5 19.8 62.5 21 36 13.3 26.5 11.5 11.7 6.5 3 1.5 1.5 0ZM-18 0.2 -16.5 1 -16.8 3 -19 5 -22.2 6.5 -29.5 8.6 -37.5 8.8 -43 9.8 -47.5 11.3 -53.8 14.5 -63.5 17.5 -63.7 16 -53 12.8 -47.8 9 -23 4.2 -19.5 2.6ZM52 1.5 65.5 1.3 65.5 2.8 55 2.7 46 3.7 36.5 2.5 38 1.9ZM-61.5 6.5 -53.5 6.3 -51.5 7 -50.9 8 -51.5 8.3 -52.5 7.6 -55 7.3 -65 8.3 -65.5 8 -65.5 6.9ZM52 8.4 65 11 64.5 12.1 58.6 11 53.1 9.5ZM-13 13.5 -12.7 15 -13.5 17.3 -18.3 25 -23 34.9 -37 54.5 -37.7 53.5 -23.7 32.5 -22.2 29 -21.4 24ZM11.5 13.5 12.5 13.3 13.2 17.5 17.5 23.6 24.6 28 31.5 35 35.7 43 41.6 50.5 41 51.5 40.5 51.4 34.5 43.6 29.8 36 25.4 31 22 28.2 19.5 28.1 19.1 29 17.4 30 17.3 32 18.3 35.5 21.3 41.5 23.5 45.1 26.5 46 28.5 47.9 34 56 34 56.5 32.9 57 27 48 25.5 46.7 24 47 23 46.2 22 47.5 21.9 49.5 22.8 53 25.8 60.5 25 61 24.5 61 21 51.5 20.1 44.5 15.9 33.5 15.1 26.5 11 17.7 10.7 15ZM-34 14 -33.7 15.5 -35.3 17.5 -43.5 22.3 -50 22.3 -60 26.1 -61 25 -51.8 21.5 -44.5 20.2 -41.5 19.2 -36 16.3ZM30 18.5 54.5 37 53.5 38 34.4 24 31 20.9ZM-0.5 19.2 -0.1 20 -0.3 29 -1.8 37.5 -2.3 44.5 -1.6 65.5 -3 65.5 -2.9 57 -4.2 49 -4.2 44.5 -2.5 25.3 -1.6 21ZM47 24 48.8 24 53.5 26 59 28.6 59 29.5 58.5 30ZM-46 24.4 -45.2 24.5 -45 25.5 -47.1 28.5 -55.9 34.5 -56.5 34 -56.5 33.1 -47.5 27.3 -46.3 26ZM-27.5 24.4 -25.5 24.5 -25 25.7 -27 25.7 -29 26.7 -35.8 32 -43 36.2 -50.4 42 -51.5 41 -31.6 26.5ZM-11.5 33.9 -19.5 61.4 -19.9 62.5 -21 62.5 -21.2 62 -15.5 41.7 -13 35.5ZM5 34.9 6.1 35.5 7.1 37 10.2 47 14.5 55.4 16.9 63.5 16 64 15.6 64 12.3 53.5 8.5 49ZM37.5 36.8 39.5 37 41.2 38 48.5 44.5 47.5 45.2 41 39.3ZM-36.5 38 -36.5 39.2 -38 41.7 -44 48.8 -44.5 48.5 -45 47.7ZM-24 48 -23.5 48 -24 49.4 -28.5 59 -29.5 59 -29.5 57.8ZM7 51.9 8 51.6 8.2 52 7.2 53.5 6.9 55.5 7.8 65.5 6.4 65.5 5.9 60 5.9 54.5ZM-8.5 52.5 -8 52.5 -9.2 55.5 -11 65 -12.2 64.5 -11.5 60.6 -10 54.6Z" fill="#e7f4a1"/>
<path d="M-10 -65 -8.5 -64.9 -7.7 -56 -8 -53 -8.5 -53.5ZM-0.5 -65.5 0.8 -65.5 1.1 -48 0.7 -26 0 -19 -1.1 -21.5 -1.7 -28.5 -0.9 -40.5ZM9 -65 10.2 -65 8 -53 7.5 -53.5 7.5 -55.2ZM-19 -63 -17.6 -63 -15.3 -55 -11.5 -46.1 -8.2 -34.5 -9.5 -35.3 -11 -38.2ZM18 -63 19.4 -63 19 -61.8 11.5 -38.9 9 -34 9 -35.6 11.5 -44.8ZM-27 -60 -26.5 -60 -23 -51 -22.7 -48.5 -23.5 -47.2 -24.2 -51 -27.9 -59.5ZM27 -60 28.1 -59.5 23 -47.8 23 -50.9ZM-35.5 -55.5 -34.6 -55.5 -29.3 -47.5 -24.3 -43 -22 -39.5 -19 -32.9 -16.8 -25.5 -12.5 -17.3 -12.1 -15 -12.9 -13.5 -14.8 -17.5 -21.5 -26 -24.5 -25.7 -27.5 -27 -35.5 -33.7 -41.6 -36 -50 -42.6 -49 -43.7 -41 -37.1 -39 -36.1 -37.5 -36.2 -36.2 -37.5 -36.1 -39.5 -38.2 -43 -43.5 -49.3 -43 -50 -42.2 -50 -36 -41.9 -33.9 -36 -32.1 -33.5 -26.5 -28.2 -24.5 -27.3 -23 -27.9 -21.5 -26.7 -20.5 -28 -20.2 -30 -21.8 -35 -25.3 -41 -30.5 -46.9 -34 -51.9 -36 -54.9ZM35 -55.5 35.5 -55.5 36.1 -54.5 25.2 -40 21.2 -33.5 17.7 -24 13.8 -17.5 12.7 -13.5 12.2 -13.5 11.3 -15.5 12 -18.5 20 -35.1 23.5 -41 29.9 -48ZM43 -50 43.7 -49 37.7 -42 36.3 -39.5 36 -37.6 35.5 -37.8 35.4 -40 36.5 -42.3ZM49.5 -43.5 50 -42 43 -36.5 35.5 -32.4 26.6 -25.5 25 -24.9 23.5 -25.2 27.5 -27.9 34.6 -34.5 41 -36.7ZM-55 -36 -54.3 -36 -46.5 -30.5 -34.9 -20.5 -33 -18.4 -32.8 -16.5 -35 -18.7 -42.5 -24 -47 -29.2 -55.5 -35ZM55 -35.8 55.7 -34.5 46.5 -28.1 45.2 -26.5 45 -24.5 47 -23.3 48.5 -23.2 59.5 -27.5 60 -26.2 50.6 -22.5 47.5 -22.1 44.5 -22.9 42 -21.9 33 -16.5 31.7 -15 31.5 -12.8 30.3 -12 30.5 -11.5 32 -10.3 33.5 -9.9 38 -10.2 44 -11.7 52.9 -15.5 62.2 -18.5 63 -18.7 63.5 -17.3 53.5 -14.3 47.5 -11 43.1 -9.5 35 -8 27.5 -7.9 23 -6.7 18 -4.2 16.9 -3 16.4 -1.5 18 -0.1 18.4 2.5 21 4.4 62.9 18.5 63 19.5 62.5 19.9 22.4 7.5 18 5.5 12.5 1.3 4.1 0 2 -0.8 28.9 -12 29.5 -12.5 30.2 -15.5 31.8 -17.5 41 -23.9 46.7 -30ZM-59.5 -28.2 -49.5 -23.8 -46.9 -23.5 -46.9 -23 -49.5 -22.8 -54.6 -24.5 -60 -26.9ZM-63 -19.5 -39.5 -11.8 -27.6 -10 -18.9 -6.5 -12.5 -2 -3.7 0 -1.5 1 -31 12.8 -32.5 16.5 -34.2 18.5 -42 24.1 -47.1 30 -55.5 35.5 -56 34.4 -47.5 28.7 -45.8 27 -45.1 25 -47 23.2 -48.5 23.1 -59.5 27.4 -60 27 -60 26 -51 22.5 -48 21.9 -44.5 22.4 -41.5 21.2 -34.5 16.5 -33.8 15.5 -33.6 13.5 -32.6 12.5 -32.9 12 -35 10.7 -39.5 10.7 -45.5 12.3 -52.9 15.5 -62.2 18.5 -63 18.7 -63.5 17.4 -53.5 14.3 -44.5 10 -37.5 8.6 -29.5 8.3 -23.5 6.7 -18.5 4.4 -17.1 3 -16.7 1.5 -18 0.1 -18.1 -2.5 -21 -4.7 -44.8 -11.5 -54 -15.3 -63 -18ZM-65 -10.4 -52 -8 -54.5 -7.7 -65 -9ZM65 -9.5 65 -8 60.6 -7.5 54.5 -7.1 51.7 -8ZM-47 -1.5 -38 -1 -41.5 0 -65.5 0.3 -65.5 -1.1ZM55 -0 65.5 -0.1 65.5 1.4 36.3 2 37.5 1 40.3 0.5ZM-59 7.5 -54 7.3 -51.8 8 -65 9.6 -65 8.2ZM52 7.9 65 9.4 65 10.8 54.6 9ZM-12.5 13.4 -11.4 14.5 -11.3 16.5 -14 22.8 -24.5 40.5 -30.3 47.5 -35.5 55.3 -36 55 -36.7 54.5 -36.5 54.1 -22.6 34 -18.5 24.9 -13.3 16.5ZM13 13.5 14.3 16 18 20.4 26.6 27.5 34.2 35 34.9 36 35.1 39 36.2 41.5 43 50 41.5 50.5 39 47.5 35 42 31.7 35.5 27.7 31 24 27.7 18.7 25 17 23.4 13 17.4 12.4 15ZM31 18.3 40.4 24 46.5 29.7 55 35.5 54.5 37 32.9 21 31 19.2 30.6 18.5ZM0 19 1.5 22.1 2.4 30 -0.4 39 -0.2 65.5 -1.6 65.5 -1.6 56.5 -2.5 44.5 -2 37.9 -0.6 30ZM47 23.3 49 23.2 53.1 24.5 59.5 27.3 59.5 28.5 59 28.7ZM-27.5 25.8 -25.5 26.1 -28.5 28 -34.7 33.5 -41 36.3 -49.5 43 -50 43 -50.5 42 -45 37.5 -36.5 32.3ZM18 29.2 18.6 29.5 18.4 31 19.3 34 23.2 41 29.5 47.2 35.3 55.5 34 56.2 28 47.5 26 45.8 24 45.5 22.9 49 23.8 52.5 27 59.7 26 60.5 22 50.6 21.9 47.5 23 45.5 17.5 33.5 17.2 30.5ZM5.5 33.9 7.4 35 9 37.7 16.5 57.4 18.2 63 17.5 63.5 16.8 63.5 13.6 53.5 10 46.8 7.3 37.5 4.8 34.5ZM-11.5 34.4 -10.9 34.5 -11 37 -12.5 43.6 -18.5 62.7 -19.5 63 -20 62.5ZM37 36 39 35.8 41.7 37 49.5 43.5 48.5 44.3 40 37.3 38.5 36.7 37 37ZM-36 37.9 -35.7 39.5 -37 42.2 -43 49.7 -43.5 49.5 -44 48.6 -38.3 42 -36.6 39.5 -36.4 38ZM-23.5 48 -23.1 48.5 -23.5 50.5 -25 54.5 -27.3 59.5 -28.5 59.5ZM8 52.4 8.1 57.5 9.1 65 7.7 65.5 6.9 55.5 7 54ZM-8 52.9 -9.5 65 -11 65 -9 54.6Z" fill="#fceb9f"/>
<path d="M-10.5 -65 -9.9 -65 -8.5 -52.5 -10.5 -62.2 -10.9 -65ZM-1.5 -65.5 -0.6 -65.5 -0.8 -40.5 -1.6 -28.5 -0.5 -19 -1.5 -20 -2.5 -22.4 -3.5 -29 -2.1 -38.5ZM8 -65.5 8.7 -65 7.5 -52.9 7 -54 6.9 -57ZM17 -63.5 17.9 -63 17.5 -61.5 11.8 -45.5 8.5 -34 8.5 -37 10.5 -45.6 14.3 -54.5ZM-19.5 -63 -19 -62.8 -10.8 -38 -8.7 -34.5 -9 -34.1 -11 -36 -12.5 -39.3 -20 -62.5ZM26 -60.5 26.8 -60 23.2 -51.5 22.5 -47.7 22 -49 22.5 -51.8ZM-28.5 -59.5 -27.8 -59.5 -24.5 -52 -23.7 -49 -24 -48.1ZM34.5 -56 35.1 -55.5 32.5 -51.5 29 -46.8 23.7 -41 19.8 -34.5 11.7 -17.5 11.4 -15 12.5 -12.9 11 -12.7 10.2 -13.5 9.8 -15 10.5 -18.9 20 -37.5 23 -42.6 28.8 -48ZM-36 -55 -31.2 -48 -25.5 -41.5 -23 -37.6 -20.4 -31.5 -20.1 -29 -20.7 -26 -14.5 -17.2 -13.3 -14 -21.5 -22.6 -28.1 -26 -36 -32.3 -43.1 -36 -50.5 -41.8 -50 -42.7 -42 -36.3 -35.7 -34 -27 -26.8 -24.5 -25.8 -22.5 -26.3 -22.5 -28 -21.6 -28.5 -21.2 -30 -22.2 -33.5 -25.7 -39.5 -36.5 -54 -36.8 -54.5ZM42 -50.5 42.8 -50 37.8 -44 35.6 -40.5 35.2 -38.5 37 -36.5 39.5 -36.8 48.6 -44 49.5 -43.4 41.5 -37 35 -34.6 26.5 -27 24.9 -26 23.8 -26 27.3 -29 33.3 -35.5 35.5 -42.1ZM-44 -49 -43.5 -49.4 -37.5 -42.1 -36 -39.2 -36.2 -37.5 -36.6 -37.5 -36.6 -39 -37.7 -41 -44 -48.5ZM54.5 -36.6 55 -35.7 46.5 -29.8 42 -24.5 32 -17.5 30.1 -15 30 -13 31.5 -12.7 32.2 -11.5 33.5 -10.9 37.5 -11.1 43.5 -12.8 62.2 -19.5 63 -19.5 63 -18.7 40.1 -10.5 34 -9.8 32.4 -10 29.5 -11.6 28.5 -11.4 9.3 -3.5 2 -1.4 10 -8 18 -9.3 26 -13.1 31.9 -19 40 -24.7 46 -30.5ZM-55.5 -35.1 -46.7 -29 -42.3 -24 -35.3 -19 -33.4 -16.5 -43.7 -23 -46.4 -27.5 -56 -34.3ZM59.5 -28.5 59.5 -27.4 51.5 -24 48.5 -23.3 46.5 -23.7 50 -24.3ZM-60 -27 -50 -22.8 -47.5 -22.6 -46.5 -23.5 -46.2 -23 -47.5 -22 -51.6 -22.5 -60.3 -26ZM-63 -18.1 -53 -15 -43.5 -11.2 -22.4 -5.5 -18.8 -3.5 -17.9 -2.5 -17.7 -1 -18.1 -0.5 -19.5 -2.3 -22.5 -3.8 -44 -10 -53.5 -14.2 -63.5 -17.2ZM62.5 -10.1 65 -10.5 65 -9.4 62.1 -9 54.5 -8.2 51.9 -8.5ZM-65 -9 -52 -7.5 -54.5 -7 -60.8 -7.5 -65 -8ZM63.5 -1 65.5 -1 65.5 0 40 0.6 37 1.2 35.9 2 37 0.4 40.5 -0.5ZM-38.5 -0.6 -38.1 -0.5 -38.6 0 -39.7 0.5 -43 1.1 -65.5 1.2 -65.5 0.3 -45 0.1ZM18 0.6 21.5 3.1 30.5 5.5 37.5 8.8 45.9 11.5 53.5 14.8 62.8 17.5 63 18.6 22.2 5 18.7 3 18 2ZM-3 1.5 -2 1.7 -10 8 -18 9.2 -28 13.9 -33 19 -41.5 25.5 -46.4 30.5 -54.5 36.2 -55.2 35.5 -47.5 30.3 -45.1 28 -42.1 24 -33.8 18 -32.1 15.5 -32.2 13.5 -34 13.5 -34.1 12.5 -35.5 11.6 -39.5 11.8 -63 19.5 -62.6 18.5 -54 15.8 -41.5 11 -35.5 10.4 -33.7 11 -32 12.3 -31 12.3 -10.9 4ZM52.5 7.5 65 8.4 65 9.4ZM-57 8.5 -52 8.6 -65 10.6 -65 9.6ZM-12.5 12.9 -10.5 12.9 -9.6 15.5 -10.5 19.2 -13 24.5 -24 42 -29.2 47.5 -34.5 55.5 -35.5 55.5 -31 48.4 -24.3 40 -13.2 21 -11.3 16 -11.5 14.5ZM13.5 13.9 34.5 33.2 42.4 36.5 49.5 42 50 43 49.5 43.3 40.5 36.4 38.5 35.7 37.2 36 37 37 35.9 38 36.3 40 43.5 49.1 42.9 50 36.5 42.1 33.9 35 26.5 27.6 18 20.6 14.5 16.5ZM31 17.9 35 19.5 41.9 23.5 46.5 28.6 55.5 34.8 55.5 35.5 54.8 35.5 48 31 40.5 24.2ZM0.5 19 2.5 21.5 5.1 31 8 34 10 37.4 19.2 63 18 62.6 15.3 54 12 46.9 8.3 36.5 6 34.1 4.5 34.5 3 34.1 1.6 35.5 0.7 39 0.7 65.5 -0.2 65.5 -0.5 40 0 36.4 1.9 32 2.2 29.5 1.6 23.5ZM48 22.5 54 24 60 26.5 60 27 59.5 27.4 49.5 23.3 47 23.1ZM-50 23.4 -47.5 23.1 -46.5 23.5 -46.4 24 -48 23.6 -50 24.2 -59.5 28.4 -59.5 27.3ZM-26 26.4 -25.5 26.5 -35.5 36.2 -37.5 35.9 -40 36.6 -49 43.8 -49.5 43.5 -49.6 43 -42.9 37.5 -39.6 35.5 -35.5 33.9 -28.1 27.5ZM18.5 30 23.3 39 32 49 36 54.8 35.5 55.5 29.2 47 23 40.9 19 33.5ZM-10.5 34.3 -10.4 39 -12 46 -17.5 62.6 -18.7 63 -12.7 44ZM-36 37.2 -35.5 37.1 -34.9 38.5 -36 42.1 -42 49.9 -43 50 -36.3 41 -35.6 39ZM23.5 47.4 24.2 51.5 27.9 59.5 27 60 23 50 23 48ZM-23 47.8 -22.6 49 -23 51.4 -26.5 60 -27 60 -27.3 59.5 -23.8 51.5ZM8 53.3 10.1 65 9 64.8ZM-8 53.9 -7.5 53.6 -7.5 55.4 -8.5 64.6 -9.6 65Z" fill="#fcc474"/>
<path d="M-11 -65 -9 -52.9 -10 -55.6 -11.5 -63.3 -11.7 -64.5ZM-2 -65.5 -1.5 -65.5 -1.5 -59 -2 -39.1 -3.3 -29 -2.7 -23.5 -1.8 -20.5 -0.5 -19 -1 -18.8 -2.5 -19.9 -3.5 -21.8 -5.2 -30 -3.2 -37.5 -3 -48.5 -2.3 -56.5 -2.4 -65.5ZM7 -65.5 7.8 -65.5 6.8 -56 7 -52.9 6.3 -56.5ZM16.5 -63.5 17 -63.2 15 -56.4 10.2 -44.5 8 -34.4 8 -39.2 9.5 -46.2 13.3 -54ZM-20.5 -62.5 -19.9 -62.5 -11.7 -37.5 -10 -34.7 -8 -34 -8.5 -33.4 -9.7 -33.5 -11 -34.5 -13 -38ZM25.5 -60.5 26 -60.4 22.2 -51 22.5 -46.9 21.5 -48 21.5 -50.7 24 -58 25 -60.4ZM-29.5 -59 -28.5 -58.8 -25 -51.2 -24.3 -48.5ZM33.5 -56.5 34.2 -56 30 -49.5 27.5 -46.4 23.1 -42.5 18.7 -35 10.7 -19 9.9 -15.5 10.5 -13.4 11.5 -12.8 12.5 -13 13.2 -11 15 -10.4 18 -10.8 22 -12.6 25.5 -14.8 31.5 -20 39.5 -25.7 47.9 -33 54 -37.2 54.5 -36.5 47 -31.3 40.5 -25 31.5 -18.6 26.2 -13 17.4 -9 10.5 -7.8 2 -1.8 7.2 -11 8.5 -17.5 11 -23.6 22 -43.5 23 -44.8 26 -46.2 27.9 -48ZM-37 -54.5 -24 -37 -21.5 -31.5 -21.3 -29.5 -22 -28.2 -22.2 -31 -23.8 -34.5 -37.5 -54ZM41.5 -51 41.9 -50.5 35.2 -41.5 33.5 -35.6 26.8 -28.5 24 -26.3 31.7 -35.5 35.5 -43.6ZM-44.5 -48.5 -44 -48.6 -38 -41.4 -36.9 -39.5 -37 -38.2 -39.3 -42 -44.7 -48ZM48 -44.6 48.7 -44 41.5 -38 38.7 -36.5 36.5 -36.8 36.5 -37.5 38 -37 40 -37.8ZM-51 -41.5 -50.5 -41.9 -42 -35.3 -36.1 -32.5 -27.5 -25.7 -21.8 -23 -13.5 -13.8 -15.5 -15 -22.5 -21.2 -28.5 -25 -36.5 -31.3 -44.4 -36ZM-56.5 -34 -55.5 -34 -48 -29 -45.5 -26.5 -43.4 -23 -34.1 -17 -35.1 -17 -44 -21.4 -50.6 -21.5 -60.5 -25.2 -60.1 -26 -52.5 -22.8 -48.5 -21.9 -46.5 -22.5 -45.7 -24 -45.7 -25.5 -47 -27.2 -56.4 -33.5ZM58.5 -29 59 -29.2 59.5 -28.5 53 -25.5 49 -24 46.9 -24 50.5 -25.2ZM61.5 -20.1 62.5 -20.5 62.5 -19.5 41.2 -12 34.5 -10.8 33 -11 31.8 -12 32 -12.5 33 -11.8 35 -11.6 38.5 -12.3ZM-63.5 -17.2 -54.3 -14.5 -44.5 -10.2 -21.5 -3.5 -19 -1.9 -18.4 -0.5 -21.5 -2.2 -32.1 -4.5 -38.5 -7.3 -46 -9.5 -53 -13.2 -63.5 -16.4ZM63.5 -11.1 65 -11 65 -10.4 56.1 -9 52.5 -9ZM-65 -8.1 -52 -7 -53.5 -6.5 -58.3 -6.5 -65.5 -7.3 -65.5 -8ZM41.5 -1.5 65.5 -1.8 65.5 -1 42.5 -0.6 37.5 0.2 35.5 1.6 35.8 0.5 37.1 -0.5ZM-38 -0.5 -38 0.2 -38.9 1 -42.9 2 -65.5 2.1 -65.5 1.3 -41.5 0.9 -39 0.3ZM19 0.9 22.5 2.3 31.3 4 37.5 7.7 46.4 10.5 54.5 14.3 63.5 16.9 63.5 17.5 54.1 15 46.5 11.8 36.6 8.5 30.5 5.7 21 3 19 1.7 18.6 1ZM-2 1.9 -2 2.7 -6.7 10.5 -8.5 18.1 -12.5 27 -17.7 33.5 -23 42.6 -28.3 47.5 -34 56.2 -34.6 55.5 -32 51.4 -28.5 46.6 -23.8 41.5 -13.2 24.5 -10.1 17.5 -9.8 15 -10.5 13.2 -11.5 12.7 -12.5 12.9 -13.2 11 -15.5 10.3 -19 11.1 -23.5 13.3 -27.5 15.7 -39 24.8 -47.1 32 -54.5 37 -54.5 36.2 -45.5 29.7 -40.6 24.5 -33.5 19.3 -28.5 14 -19.1 9.5 -10 7.6ZM53 6.9 60 7 65.5 7.6 65.5 8 65 8.4ZM-55 9 -52.4 9 -54.4 9.5 -64.5 11.3 -65 11 -65 10.5ZM-38 11.5 -35 11.8 -34 13.1 -36.5 12.3 -40 12.8 -62.5 20.4 -62.5 19.5 -44.3 13ZM14 13.8 21 19 34 31.2 43 36 50.5 42 50 42.5 41 35.7 36.5 34.5 34.8 33.5 18.5 18.8ZM31.5 17.8 34.9 18.5 42.9 22.5 44.1 23.5 46.5 27.6 55.9 34 56 34.5 55 34.5 47.5 29.5 41.5 23.3ZM1 18.7 2 19 3.5 20.9 6.7 30 11 37.2 19.5 61.2 19.9 62.5 19.5 63 9.8 37 8.3 34.5 4.8 31 2.8 22.5ZM47.5 21.9 52 22.5 60.5 26 60 26.6 50 22.6 47.5 22.6 46.4 23.5 46.3 22.5ZM-49.5 24 -46.7 24 -50 24.8 -59 29.1 -59.5 28.5ZM-26 26.9 -32.8 35.5 -35.5 42.6 -41.5 50.6 -42.1 50 -37.3 44 -35.2 40.5 -34.9 38.5 -35.5 37.3 -36.5 37.5 -37.5 36.6 -39.5 37.1 -48.5 44.5 -49 44 -40.7 37 -38.5 36 -35 35.6ZM19 29.7 24.3 38.5 31 46.5 36.8 54.5 36 54.9 30.8 47.5 24 40.1 20 33.4ZM-10.5 33.8 -9.5 35 -9.3 37 -10.5 44.6 -14.3 54.5 -16.9 63.5 -17.5 63.5 -16 57.1 -11.2 43 -10.2 37.5ZM3 34 4.1 34.5 2.3 36 1.7 38.5 1.6 65.5 0.7 65.5 0.5 40.9 1 37 2 34.8ZM36.5 37.3 37.2 40.5 44.1 48.5 44 49 43.5 49.2 37 41.3 35.9 39 36 37.6ZM-22.5 47.7 -22 49 -22.5 52.1 -26 60.5 -26.5 60 -23.2 52ZM23.5 47.9 28.5 59.5 27.9 59.5 25 53.3ZM8.5 52.5 10.9 65 10 65ZM-7.5 52.9 -7 54 -7 57.5 -8 65.5 -8.6 65Z" fill="#f89554"/>
<path d="M-3 -65.5 -2.4 -65.5 -2.3 -58.5 -3 -39.6 -5 -29.5 -3.3 -21.5 -2.1 -19.5 -0.5 -18.5 -1.5 -18.2 -3.1 -19 -4.5 -21.2 -7.6 -31 -11 -33.2 -13.5 -36.9 -16 -43.5 -21.5 -62 -20.9 -62.5 -20.5 -61.6 -14.8 -43 -12.3 -36.5 -10 -33.7 -9 -33.3 -8 -34 -6.5 -32.9 -5.2 -34 -4.2 -37ZM6.5 -65.5 7 -65.5 6.2 -57.5 6.5 -52.7 5.7 -57ZM-12.5 -64.5 -11.7 -64.5 -9.4 -53 -10.5 -55.2ZM15.5 -64 16.1 -63.5 14 -55.9 9.2 -45 7.5 -34.4 7 -37.5 8.5 -46.7 12.8 -54.5ZM24.5 -61 25.1 -60.5 21.7 -51.5 21.3 -49 22 -47.2 24 -46.2 26 -47.1 28.2 -49.5 32.9 -57 33.6 -56.5 27.5 -47.5 23 -44.6 21.8 -43 10.2 -21.5 8.4 -16.5 7.1 -10 2 -2.3 1.6 -2.5 2 -4.6 3.5 -9.3 9.5 -23.6 16.7 -35.5 20.8 -44 21 -51.5ZM-30 -58.5 -29.5 -59 -25 -49.6 -25 -48.5ZM-37.5 -54 -24 -35 -22 -30.1 -22.4 -28.5 -22.7 -30.5 -24.2 -33.5 -38 -53.3ZM41 -51.5 41.2 -51 34.9 -42.5 32 -35.9 24 -26.8 24.5 -28.1 30.7 -36 36 -45.5ZM-45 -48 -38.5 -41 -37.5 -39.5 -37.5 -38.5 -45.3 -47.5ZM47.5 -45.2 48 -44.5 43.5 -40.5 39.5 -37.5 37.4 -37 41 -39.3ZM-51.5 -41 -51 -41.2 -42.5 -34.7 -35.9 -31 -29.5 -25.8 -22.7 -21.5 -13.5 -13.5 -17 -15 -36 -29.7 -46.9 -37ZM53 -37.5 53.5 -37.9 54 -37.3 47 -32.3 39.9 -26 32 -20.3 24.6 -14 17.2 -10.5 14.5 -10.3 13 -11 12.9 -13 14 -11.8 16.5 -11.7 23.5 -15.1ZM-56.5 -33.6 -47.9 -28 -46 -26 -45.7 -24 -48 -27.3 -57 -33ZM58 -29.6 58.5 -29.9 59 -29.3 53.4 -26.5 48.7 -24.5 47 -24.5ZM-61 -25 -49.5 -21.2 -44.1 -21.5 -34.2 -16.5 -35.4 -16.5 -44.5 -20.2 -49 -20.5 -53 -21.5 -60.9 -24.5ZM62 -21.1 62.5 -20.4 39.3 -12.5 34.5 -11.7 32.6 -12 32.3 -12.5 34 -12.2 37 -12.8ZM-64 -16 -62 -16 -55.2 -14 -46.5 -9.8 -39 -7.5 -32.5 -4.8 -22.1 -2.5 -19.8 -1.5 -18.9 -0.5 -33.1 -3 -38.5 -6.2 -47.8 -9 -53.5 -12.7ZM64.5 -12 64.5 -11.2 63.5 -11 52.9 -9.5ZM-51.5 -7.5 -52 -6.4 -54 -5.9 -65.5 -6.5 -65.5 -7.2 -54.5 -6.3 -52.5 -6.6ZM42 -2.5 65.5 -2.6 65.5 -1.9 46.5 -1.9 40 -1.3 36.5 -0.1 35.5 1 35.5 2.1 35 2.1 34.2 2 34.1 1.5 35.5 -0.5 37.3 -1.5ZM-37.5 -0.7 -37.3 0.5 -38.3 1.5 -43.8 3 -65.5 2.8 -65.5 2.1 -63.7 2 -42 1.9 -38.5 0.7ZM19 0.4 33.5 2.3 35 5 37.5 6.7 46.7 9.5 55 13.7 63.5 16 63.5 16.8 53.6 14 46.5 10.6 38.1 8 31.5 4.2 21.4 2ZM-1.5 1.8 -1.5 3.5 -4 11.9 -11.4 28.5 -16.9 34 -22.5 44.2 -27.4 47.5 -33.3 56.5 -34 56.5 -29 48.4 -22.7 42 -17.5 33.1 -12.7 27 -8.8 18.5 -7 10.5ZM53 6.4 62.4 6.5 65.5 6.9 65.5 7.6 56 6.7 52 7.1ZM-54.5 9.5 -52.7 9.5 -54.2 10 -64.5 12.1 -64.5 11.3ZM-17 10.4 -13.5 10.6 -12.8 11.5 -12.9 13 -14 11.8 -16.5 11.6 -24 15.2 -38 25.2 -48.5 34 -54 37.5 -54.2 37 -45.5 30.7 -40 25.5 -27.5 15.5 -22.3 12.5ZM-38.5 12.5 -35.5 12.4 -34.5 13.1 -40 13.7 -62.5 21 -62.5 20.4 -61.3 20ZM14 13.4 16.2 14 20 16.5 34.5 30.3 43.5 35.5 51 41.5 50.5 41.7 42.5 35.7 34.9 32ZM31 17.4 34.5 17.5 44.5 21.6 50.9 21.5 60.6 25 60.5 25.8 51 22.2 48 21.8 46.4 22.5 45.5 24.5 46.3 26.5 49.5 29.2 56.5 33.4 56 34.1 47.4 28.5 43 22.7 35.5 18.8ZM1 17.9 2.2 18 3.5 18.9 5.5 22.4 7.7 28.5 12.5 38.4 20.7 62.5 19.9 62.5 10.9 37 6.5 29.8 3.2 20.5 1.9 19 0.4 18.5ZM-49 24.5 -47.4 24.5 -58 29.5 -59 29.5 -58.9 29ZM-25.5 26.9 -26.5 29.1 -31.8 36 -35.5 43.9 -41 51.2 -41.5 51 -35.1 42 -33 35.7ZM19.5 29.9 26.2 39.5 36 52 37.4 54 37 54.5 24.5 38.9 20.5 32.6ZM-11 33.4 -9.5 33.5 -8.5 36.3 -9.5 44.7 -10.5 48.1 -13.8 55 -16 63.2 -16.9 63.5 -14.5 54.9 -11.2 47 -9.8 41 -9.3 36 -9.7 34.5ZM3.5 34.9 4 35 2.8 36.5 2.4 39.5 2.3 65.5 1.5 65.5 1.5 40.2 2 36.8ZM-39 36.9 -36.8 37 -39.5 37.7 -47.9 45 -48.5 44.5 -43.5 40ZM36.5 37.9 38.7 41.5 44.6 48 44.5 48.5 44 48.5 38 41.6ZM-22.5 46.9 -21.5 48.2 -21.5 50.6 -25 60.7 -25.8 60.5 -22.2 51ZM24.5 48.9 29.5 59 28.5 58.9 24.5 50.4ZM-7 52.9 -6.4 55 -6.5 60.1 -7 65.5 -7.8 65.5ZM9 53.1 11.5 63.9 11 65Z" fill="#e9623a"/>
<path d="M-3.5 -65.5 -3 -56.7 -3.9 -48.5 -4 -38.1 -5 -34.2 -7 -32.6 -7.5 -34 -6.5 -34 -5.6 -35 -4.8 -38 -5 -48 -3.8 -55 -3.9 -65.5ZM5.5 -65.5 6.2 -65.5 5.7 -54.5 6.2 -53 7.5 -52 7 -51.7 5.5 -53.2 5 -55.7ZM-13 -64.5 -12.5 -64.5 -10.3 -54.5 -9 -52.5 -10 -53 -11 -54.9ZM15 -64 15.5 -64 13 -55.2 9.2 -48.5 8.3 -45.5 7.1 -38.5 7.5 -33.8 6.5 -35.3 6.3 -37.5 7.5 -47.3 8.4 -50 10.6 -52 11.8 -54ZM-22 -62 -21.5 -62 -21 -60.6 -13.7 -37.5 -11 -33.3 -7.5 -31.5 -4.3 -21 -2.5 -18.6 -0.5 -18.2 -1 -17 -2.5 -17.1 -4.5 -18.8 -8.8 -29 -12.5 -33.5 -14.5 -37 -17 -43.5ZM24 -61 24.4 -61 20.8 -50.5 21 -44.4 17 -36 9.8 -24 4.2 -10.5 1.5 -2 1 -2.5 0.9 -5.5 1.8 -13 5.8 -18.5 10 -27.9 14.8 -34 17.7 -39.5 19.8 -45 20 -49.6 21 -53.9 23.5 -60.7ZM-30.5 -58.5 -25 -47.9 -30.5 -57.5ZM32.5 -57 32.9 -57 30.5 -52.9 27 -48 25.1 -46.5 23.5 -46.5 23.4 -47 24.5 -46.8 26.7 -48.5 32 -57ZM-38.5 -53.5 -26 -36.5 -23.5 -32.3 -22.8 -29.5 -38.5 -52.8ZM40 -52 40.6 -51.5 34.3 -43 31 -36.4 23.5 -26.7 24 -28.5 30.2 -37 34.5 -44.6ZM-45.5 -47.5 -38.5 -40 -38 -38.7 -45.8 -47ZM47 -45.7 47.5 -45.1 43 -41 39.2 -38 38.2 -38ZM-52 -40.5 -37 -30.5 -13.9 -13 -16.3 -13.5 -21.1 -16.5 -37 -29.3 -52 -40ZM53.5 -38.5 53 -37.5 23.5 -15 17.5 -11.9 15 -11.5 13.5 -12.2 13.5 -12.6 17 -12.9 22 -15.7ZM-57 -33 -49 -28 -46.5 -25.7 -46.5 -24.6 -49 -27.3 -57 -32.2ZM58.5 -30.5 58.5 -29.9 57.8 -29.5 48.6 -25 47.5 -25ZM-61 -24.6 -50.5 -20.7 -43.4 -20 -33.5 -16 -35.7 -16 -44.5 -19.2 -52 -20.5 -60.4 -23.5 -61 -23.8ZM61 -21.6 62 -21.9 61.8 -21 39.5 -13.5 35.9 -12.5 32.6 -12.5ZM-64 -15.7 -53.1 -12.5 -48 -9.2 -39.2 -6.5 -33 -3.1 -22.4 -1.5 -19.3 -0.5 -35 -1.1 -36.4 -3.5 -38.5 -5.2 -48.7 -8 -53 -11.8 -64 -14.9ZM63.5 -12.6 64.5 -12.7 64.5 -12 53 -9.7 56.1 -11ZM-51 -7.6 -51 -6.5 -53.5 -5.4 -65.5 -5.8 -65.5 -6.5 -54 -5.8 -52.5 -6.1ZM43 -3.5 48 -3.7 56 -3.1 65.5 -3.4 65.5 -2.7 62.7 -2.5 47 -2.8 40.5 -2.3 36 -0.8 34.3 1.5 35.5 2.4 35.1 3.5 35.7 4.5 37.5 5.8 47.2 8.5 53 12.3 64 15.4 64 16 54.4 13.5 47 9.7 38.1 7 35.4 5.5 32.8 2.5 19.4 0.5 31.5 0.2 37.6 -2.5ZM-37.5 -1 -36 -1 -35.7 -0.5 -36.4 1 -38.4 2.5 -41.5 3.5 -47 4.1 -55.5 3.3 -65.5 3.6 -65.5 2.9 -47 3.2 -42 2.7 -38 1.3 -37.1 0ZM-1 1.9 -0.7 6 -1.2 13.5 -5.8 19 -10 30.5 -9.9 31.5 -8 34.4 -7.7 36.5 -9 46.9 -12.7 54 -15.5 64 -16 64 -14 55.7 -10.2 47 -8.8 40.5 -8.7 35 -9.6 33.5 -11 33.1 -11 32 -11.5 31.6 -14 32.2 -15.8 34 -20.3 42.5 -21.3 45.5 -21 51.3 -24.4 61 -25 61 -25 60.5 -22.2 53.5 -21.3 49.5 -21.8 47.5 -24 46.2 -25.5 46.7 -27 48 -32.8 57 -33.3 56.5 -27.5 47.7 -22.5 44 -17 34.1 -11.3 28 -4.3 12ZM55 5.5 65 6 65.5 6.1 65.5 6.8 54 6.1 52 6.7 51.4 7.5 51.5 6.6 52.4 6ZM-54 9.9 -52.8 10 -55.8 11 -64.5 12.8 -64.1 12ZM-16 11.5 -14 11.8 -13.5 12.6 -15 12.4 -18 13.3 -30 20.7 -53.5 38.5 -53.5 37.5 -26.9 17 -20.2 13ZM-36.5 13 -35.5 13 -35.6 13.5 -39 14.2 -62 21.8 -61.9 21 -41.1 14ZM13.5 13 17.3 13.5 22.2 16.5 25 19 29.4 24.5 33.5 28.3 45.4 36 51.5 41 51 41.1 42.5 34.9 35.4 31 29 25.5 21.5 17.8 16.5 14.2ZM1 16.4 2.5 16.5 4 17.5 6.5 21.6 15 42.6 21 60.9 21 62.5 11.7 36.5 8 29.4 4.2 20 2.5 18.2 0.2 18ZM32 16.5 35.4 17 44 20.3 51.6 21 60.1 24 61 24.4 61 25 50 21.3 44 21.6 35 17.7 31 17.1ZM46 23.8 46.2 25.5 48 27.3 57 33 56.5 33.5 47.9 28 45.5 25ZM-48.5 24.9 -47.8 25 -58.5 30.5 -58.2 29.5ZM-25.5 27.5 -26 29.6 -31.2 37 -34.5 43.6 -40.5 51.8 -41 51.5 -35.2 43.5 -31.5 35.5ZM20 30 36.5 51.5 38 53.5 37.5 54 25 38ZM3.5 35.4 3.1 39.5 3.5 48 2.8 56.5 3.1 65.5 2.4 65.5 2.4 39.5ZM-38.5 37.4 -37 37.5 -38.5 37.7 -40 38.7 -47.4 45.5 -47.9 45 -42.4 40ZM37.5 38.9 45.2 47.5 45 48 40 43 37.5 39.8ZM25 48.9 30 58.4 29.5 59 25 50.1 24.6 49ZM-6.5 52.9 -5.9 55 -5.9 60.5 -6.3 65.5 -7 65.5 -6.3 57ZM9.5 53.4 12.3 64.5 11.5 64.2Z" fill="#b82420"/>
</g></g></g>
<path d="M302.6 533.5v5M302.6 661.3v-5M289.6 648.5h5M419.6 648.5h-5M328.6 533.5v5M328.6 661.3v-5M289.6 623.0h5M419.6 623.0h-5M354.6 533.5v5M354.6 661.3v-5M289.6 597.4h5M419.6 597.4h-5M380.6 533.5v5M380.6 661.3v-5M289.6 571.8h5M419.6 571.8h-5M406.6 533.5v5M406.6 661.3v-5M289.6 546.3h5M419.6 546.3h-5" stroke="#111" stroke-width=".7" fill="none"/>
<rect x="289.6" y="533.5" width="130.0" height="127.8" fill="none" stroke="#555" stroke-width=".6"/>
<text x="294.6" y="549.3" font-size="11.6" text-anchor="start" font-weight="bold">(b)</text>
<rect x="370.9" y="541.4" width="41.3" height="17.2" fill="#fff" stroke="#666" stroke-width=".5"/>
<text x="372.9" y="554.1" font-size="11.4" text-anchor="start" >Ω=0.84</text>
<text x="417.3" y="660.1" font-size="10.4" text-anchor="end" fill="#333">7(d)</text>
<linearGradient id="cb28" x1="0" y1="0" x2="0" y2="1"><stop offset="0.000" stop-color="#a01818"/><stop offset="0.050" stop-color="#b82420"/><stop offset="0.123" stop-color="#e45434"/><stop offset="0.210" stop-color="#f48048"/><stop offset="0.300" stop-color="#fcb064"/><stop offset="0.390" stop-color="#fcd480"/><stop offset="0.474" stop-color="#fcf4ac"/><stop offset="0.560" stop-color="#e4f4a0"/><stop offset="0.650" stop-color="#b4e0a0"/><stop offset="0.740" stop-color="#7ccaa4"/><stop offset="0.825" stop-color="#3c9c9c"/><stop offset="0.910" stop-color="#1c4c88"/><stop offset="1.000" stop-color="#070a6e"/></linearGradient><rect x="422.4" y="533.5" width="6.3" height="127.8" fill="url(#cb28)" stroke="#333" stroke-width=".5"/>
<path d="M422.4 533.5H430.7" stroke="#222" stroke-width=".7"/>
<text x="431.3" y="537.7" font-size="11.8" text-anchor="start" font-family="Liberation Sans, sans-serif">π</text>
<path d="M422.4 565.4H430.7" stroke="#222" stroke-width=".7"/>
<text x="431.3" y="569.6" font-size="11.8" text-anchor="start" font-family="Liberation Sans, sans-serif">π/2</text>
<path d="M422.4 597.4H430.7" stroke="#222" stroke-width=".7"/>
<text x="431.3" y="601.6" font-size="11.8" text-anchor="start" font-family="Liberation Sans, sans-serif">0</text>
<path d="M422.4 629.3H430.7" stroke="#222" stroke-width=".7"/>
<text x="431.3" y="633.5" font-size="11.8" text-anchor="start" font-family="Liberation Sans, sans-serif">-π/2</text>
<path d="M422.4 661.3H430.7" stroke="#222" stroke-width=".7"/>
<text x="431.3" y="665.5" font-size="11.8" text-anchor="start" font-family="Liberation Sans, sans-serif">-π</text>
<rect x="119.0" y="691.5" width="130.0" height="127.8" fill="#f5ee9e"/>
<clipPath id="pc29"><ellipse cx="184.0" cy="755.4" rx="64.0" ry="62.9"/></clipPath>
<filter id="pb29" x="-5%" y="-5%" width="110%" height="110%"><feGaussianBlur stdDeviation="0.42"/></filter>
<g clip-path="url(#pc29)">
<g filter="url(#pb29)">
<g transform="translate(184.0,755.4) scale(1,0.9831)">
<path d="M-2 -65.5 -0.4 -65.5 -0.5 -42.5 -1 -31.2 -2.3 -24.5 -3 -14.9 -4 -23.5 -2.2 -29.5 -1.6 -34ZM21 -62.5 22.1 -62 22 -61.6 11.5 -32.6 9.4 -28 20.5 -62.3ZM-23.5 -61.5 -22.8 -61.5 -22.5 -60.8 -12.3 -33 -10.4 -29.5 -9 -28.2 -7.5 -28 -8 -27.6 -9 -27.6 -10.4 -28.5 -13 -32.6 -24 -60.2 -24.3 -61ZM41 -51.5 41.9 -50.5 21.8 -26 20.1 -22.5 20.1 -21 21 -20 19.9 -20 19.3 -21 19.5 -23 21.5 -26.9 39 -49.5ZM-43 -50 -42.2 -50 -26 -30.5 -22 -25.4 -20.8 -23 -43.5 -49ZM56 -34.5 56.5 -34 56.5 -33 36.5 -21.5 28.2 -17 20 -13.9 12.6 -9.5 10.5 -8.8 18.5 -15.1 24 -16.3 28 -17.8ZM-57 -32.9 -29 -16.5 -22 -11.3 -15 -7 -13.8 -6 -14 -5.6 -21.4 -9 -27.5 -14.4 -31 -16.7 -57.5 -31.3ZM63 -13 64.5 -13.3 64.5 -11.7 63.7 -11.5 34.9 -6.5 30.5 -6.1 27.9 -6.5 34.5 -7.2ZM-64.5 -11.6 -34 -6.3 -31 -6.3 -29.5 -6.7 -28 -8 -28 -7.5 -28.6 -6.5 -31 -5.7 -38.2 -6 -65 -10 -65 -11ZM29.5 5.5 36.8 5.5 64.3 9.5 65 9.6 65 11 35.5 6.2 30 6.1 28 7.1 28 6.3ZM-35 6 -30 6 -38 7.2 -64.1 12.5 -64.5 12.6 -64.9 11ZM14 5.9 21.4 9 29.5 15.7 57.1 31 57.5 32 57 32.8 32.5 18.5ZM-16 9.5 -14.4 9.5 -32.5 19.2 -56.1 33.5 -56.5 33.7 -57 33 -56.7 32 -44.5 25 -21.3 12ZM0 11.7 0.4 12.5 0.9 21 0.2 32 1.1 65.5 -0.6 65.5 -0.7 19.5ZM-21 21.9 -21 23.2 -22 25.5 -29 35 -41.5 50.8 -43 50 -24.7 28 -22.2 24.5ZM20 21.7 25.3 28.5 43.5 49.4 43 50 42 50.2 26.5 31.5 21.5 25.1 20 22.6ZM7 25.9 8.3 26 10 27.5 12.5 32.4 23.5 60.7 23.5 61.5 22.5 62 11.3 31.5 9.2 27.5ZM-9 26.4 -8.4 26.5 -10.2 28.5 -12.2 33.5 -21.5 61.6 -22.5 62 -23.2 61.5 -23 60.9 -13 33.1 -11 28.6Z" fill="#11297a"/>
<path d="M-3.5 -65.5 -1.9 -65.5 -1.5 -39.5 -2 -30.4 -3.8 -24 -3.5 -15.3 -5.9 -25 -3.4 -29 -2.6 -33ZM19.5 -63 20.7 -62.5 20.5 -61.8 9 -27.8 9 -29.5 11 -36.7 19 -62.8ZM-25 -61 -24 -60.6 -12.7 -32 -10 -28.2 -8.5 -27.5 -7.5 -27.9 -7.2 -27.5 -7.5 -26.5 -8.7 -26.5 -10.5 -27.5 -13.5 -31.7 -25.5 -59.8 -25.8 -60.5ZM39.5 -52.5 40.8 -51.5 25.3 -32 20.3 -25 19.2 -21.5 19.5 -20.5 20.8 -19.5 20.5 -18 23 -17.1 27 -18.3 55 -35.8 56 -34.5 28.4 -18 24.9 -16.5 19 -15.2 10 -8.9 11 -10.5 18.2 -18 18.5 -22.7 20.5 -26.9ZM-44 -49 -43.5 -49.2 -42 -47.5 -25 -28 -21.2 -23 -21.5 -22.8 -44.7 -48ZM-58 -31 -57.5 -31.5 -31.4 -17 -27 -14 -22.5 -9.8 -14 -5.6 -14 -5.2 -17.8 -6 -23.4 -8 -24.7 -9 -26.8 -12.5 -29.5 -14.7 -58.3 -30 -58.5 -30.5ZM63 -14.6 64 -14.8 64.5 -13.2 63.7 -13 33.1 -7 29.5 -6.7 28.8 -7ZM-65 -10.1 -35.5 -5.7 -30 -5.8 -28.1 -7 -28 -8 -27.4 -8 -27.1 -7 -27.8 -6 -29.9 -5 -37.5 -5 -65 -8.5ZM30.5 4.5 40.7 5 64.9 8 65 9.7 33.5 5.2 29 5.6 27.8 6.5 27.5 7.6 26.9 7 27.5 5.6ZM13.5 5.5 17.6 6 23.1 8 26.2 12 29.5 14.7 58.5 30 58.5 30.5 57.5 31.4 40.5 22 28.4 15 21.5 9.2ZM-33.5 6.5 -29.5 6.5 -63.7 14 -64.5 13.5 -64.5 12.4ZM-15 9.9 -14.5 9.6 -14.5 10.1 -19.7 14 -30 18.8 -55.5 35 -56.5 34 -56.3 33.5 -33.1 19.5ZM0.5 11 1.5 13.9 2.7 21 1.3 28 1.1 32 2.6 65.5 0.9 65.5 0.3 33.5 0.8 21.5ZM20.5 21.9 44.5 48.2 43.5 49.5 23.5 26.5 20.5 22.6ZM-20.5 22.1 -21 25.1 -23 28.5 -40.5 52 -41.5 50.6 -23.7 28ZM7 25.4 8 25.2 9.5 25.9 12 29.3 25 60.2 25 61 23.5 61.1 11.2 29.5 9.5 27ZM-9 27 -8.5 27 -10.8 32 -20 62.1 -20.1 62.5 -21 62.5 -21.7 62 -13 35.7 -11 30.2Z" fill="#296d90"/>
<path d="M-5 -65.5 -3.5 -65.5 -2.5 -41 -2.5 -33.5 -3 -30 -5.7 -25 -3.7 -15.5 -4 -15.4 -7.9 -23.5 -12 -27.7 -14.5 -31.7 -27.2 -59.5 -27 -60 -25.7 -60.5 -12.8 -30.5 -10.5 -27.6 -8 -26.6 -7.3 -27 -7.1 -28 -6 -27.7 -4.8 -28.5 -3.8 -30.5 -3.4 -33.5ZM17.5 -63.5 18 -63 19.2 -63 8.5 -27.4 8.5 -30.3 9.5 -34.8ZM38.5 -53.5 39.5 -52.4 24.8 -33 19.7 -25.5 18.3 -21.5 18.7 -18 10 -9.3 10.5 -11.3 15.9 -18.5 18 -24.2 20.5 -28.6 38 -53.4ZM-45 -48 -44.5 -48 -27.5 -29.5 -21.5 -22.7 -21.5 -22.1 -46 -47ZM54 -37.2 54.5 -37 55 -35.7 29.4 -19.5 26.4 -18 23.5 -17.2 21.5 -17.3 20.2 -18 20.8 -19.5 22 -18.3 23.5 -18.1 28 -19.8ZM-58.5 -30.2 -30.6 -15.5 -27 -12.7 -23.5 -8.3 -13.5 -5 -15.5 -4.5 -24.5 -5.7 -30 -4 -34.5 -3.9 -65.5 -6.9 -65.5 -8 -65 -8.6 -32.5 -4.7 -29 -5.3 -27.2 -7 -28 -8.5 -26.9 -9 -26.7 -10.5 -29 -13.3 -35 -16.8 -59 -28.5ZM62 -16 63.5 -16.4 64 -16 64 -14.7 34.2 -8 27.9 -7 32.4 -8.5ZM32 3.5 65.5 6.4 65.5 8 65 8.1 38.5 4.8 32 4.4 28 5.3 27 6.5 27.5 8 26.5 8.2 26.1 9 27.1 11.5 30.5 14.2 59.3 28.5 58.5 30.1 30 15 26.7 12.5 23.9 9 22.5 7.9 14 5.1 17 4.8 24 5.7 28.4 4ZM-32.5 7 -30.1 7 -33.4 8 -64 15.7 -64 13.9ZM-14 9.9 -14 10.5 -15.5 12.3 -19.3 15.5 -28 18.8 -54.5 36.3 -55.5 35.5 -55 34.5 -34.6 21.5 -27.7 17.5 -19.5 13.8ZM1 11 3 14.8 5.3 23 2.8 26.5 2.1 30.5 4.3 65.5 2.5 65.4 1.2 32 1.5 27 2.5 21.5ZM-20.5 21.4 -19.8 22.5 -20 24.6 -23 30.1 -39 52.8 -40.5 52 -22.7 28 -20.8 24.5ZM21 21.8 45.7 47 45 48 44.5 48.4 40.5 44 21.5 23 20.8 22ZM6.5 23.9 8 23.9 10 25 12.5 28.4 26.5 59.4 26.7 60 26 60.5 25 60.6 11.8 29 9 25.6 7.5 25.2 6.5 26 6.2 24.5ZM-8.5 27.1 -18.5 62.9 -19.5 63 -20.3 62.5 -20 61.6 -11 32.4Z" fill="#55ae9f"/>
<path d="M-7 -65.5 -5.1 -65.5 -3.4 -38 -3.5 -32.5 -3.9 -30 -5 -28.2 -6 -27.7 -6.6 -28 -5.4 -29 -4.7 -30.5 -4.3 -35ZM16 -64 16.5 -63.5 17.5 -63.5 17.5 -63 9.7 -35.5 8 -27.7 7.8 -30.5 8.5 -34.8ZM-28.5 -59.5 -27 -59.5 -14.4 -31.5 -11.8 -27.5 -8 -24 -4 -14.8 -6 -16.5 -9.8 -23 -15 -30.5 -28.9 -59ZM37 -54.5 38.2 -53.5 20.8 -29 18.2 -24.5 16 -18.3 10.7 -11.5 9.5 -9.1 9.2 -10.5 10 -12.9 14.3 -19.5 19 -28.1 36.5 -54.5ZM-46 -47 -21.5 -21.7 -27 -26 -47.1 -45.5ZM53 -38.7 53.5 -38.5 54 -37 30.9 -21.5 25.4 -18.5 23 -18 21.5 -18.6 21.4 -19.5 23.5 -18.9 28.5 -21.2ZM-59.5 -28.5 -58.7 -28.5 -31.5 -15 -27.5 -11.9 -26.6 -10 -26.8 -9 -27.5 -8.7 -27.7 -10.5 -28.4 -11.5 -31.5 -13.8 -60 -27 -59.5 -27.5ZM62.5 -18 63 -18.2 63.5 -17.5 63.5 -16.3 28 -7.5 34.3 -10ZM-65.4 -7 -34 -3.9 -29.5 -4.2 -24.5 -5.9 -13.3 -4.5 -16.5 -3.4 -24 -3.7 -30.5 -2.9 -37.8 -3 -65.5 -5.1ZM32 2.5 65.5 4.6 65.5 6.5 34.5 3.6 29.5 3.8 24 6 17 4.8 14 4.9 14 4.4 16.5 3.6 23.5 3.7ZM-31.5 7.4 -30.2 7.5 -35.4 9.5 -63.5 17.5 -63.5 16.5 -64 16 -63.6 15.5ZM26.5 8.2 27 8.1 27.1 10 27.8 11 30 12.8 60 26.8 59.5 28.5 30 14 26.5 10.8 25.9 9ZM-13.5 9.8 -13.5 11 -14.5 12.8 -19 17.6 -20 18.1 -24 18.2 -27.5 19.6 -34 23.8 -53.5 37.8 -54.5 37 -54.3 36 -31.1 20.5 -26.6 18 -19 15.1 -16 12.7ZM1 10.9 1.7 11 3.5 12.8 7.3 20.5 11.5 24.9 13 27.2 28.5 59.5 26.6 60 12.3 28 9.5 24.7 7 24.1 6 25.8 5 25.7 4.1 26.5 3.1 29.5 3.3 36.5 6.2 65.5 4.2 65.5 2 31.1 2.5 27.1 4.7 23.5 4.9 22.5 2.8 14.5ZM-21 21 -19.5 20.8 -18.9 22.5 -19 24.2 -20.5 27.9 -37.5 53.8 -38.5 53.5 -39 52.6 -21.1 27 -19.7 23 -20.2 21.5ZM21 21.2 23 22.5 26.8 26 47 46 45.5 47ZM-8 27 -16.5 62.4 -16.8 63.5 -17.5 63.5 -18.7 63 -18.5 62.3 -10 32.1Z" fill="#90d2a3"/>
<path d="M-9 -65 -6.9 -65.5 -4.5 -39.4 -4.5 -31.2 -5.4 -29 -6.5 -28.4 -7 -28.5 -6.2 -29 -5.6 -30.5 -5.4 -34.5ZM14 -64 15.9 -64 8.3 -33.5 7.7 -29.5 8 -27 6.9 -29.5 7.5 -35.6 13.5 -63.5ZM-29.5 -59 -28.7 -59 -28.5 -58.5 -14.4 -29.5 -9.5 -22.8 -5.9 -16.5 -3.5 -14.5 -5.5 -14.5 -7.4 -16 -13.5 -25.5 -30.5 -57.6 -30.5 -58.5ZM35 -55.5 36.7 -54.5 18.7 -27.5 14.5 -19.5 10.2 -13 9.3 -11 9 -8.7 8.3 -9.5 8 -11.5 10 -16.6ZM-47.5 -45.5 -47 -45.7 -21.5 -21.2 -23.7 -22 -27 -24.5 -48.4 -44 -48.5 -44.5ZM52 -40.5 53 -38.5 32 -23.5 25.6 -19.5 23 -18.9 21.6 -19.5 24 -19.8 27.5 -21.8ZM-60 -27 -31.7 -14 -28 -11.1 -27.6 -10 -27.8 -9 -29.5 -11.4 -32.5 -13.2 -60.5 -25ZM62 -20 62.5 -20.2 63 -19.5 63 -18 33.5 -9.7 27.6 -7.5 29.1 -9 32.4 -10.5ZM-65 -5.2 -33 -2.9 -24 -3.9 -16 -3.5 -13 -4.5 -14 -2.8 -16.5 -1.9 -31 -1.6 -65.5 -3 -65.5 -5.2ZM27.5 1.5 40.2 1.5 65.5 2.5 65.5 4.7 33 2.6 29.5 2.7 23.5 3.8 16 3.7 13.5 4.6 13.3 4 14 3.2 17 2ZM-30 7.4 -29.5 7.2 -29.5 7.6 -30.5 8.5 -35 10.5 -63 19.5 -63 18 -63.5 17.3 -36.5 9.8ZM27.5 8.4 28.5 10.5 32 12.8 61 25 60 27 31 13.5 27.5 10.7 27 9.5ZM-13 9.5 -12.6 11 -13 12.8 -16.9 19.5 -18 24.8 -20 29.3 -35.8 55 -37 54.5 -37.5 53.5 -20.4 27.5 -18.9 23.5 -19.5 21 -20.5 20.7 -21 21 -21.5 19.7 -22.5 19.2 -24 19.3 -26.5 20.3 -32.5 24.3 -52.4 39.5 -53.5 38.5 -53.5 37.6 -28.3 20 -25 18.5 -19 17.4 -14.7 13ZM1 10.4 2.8 10.5 5 12.2 13 24.8 30.3 58.5 29.5 59 28.3 59.5 12.8 27 11 24.5 7.4 21 3.8 13.5ZM21 20.6 23.1 21.5 27.5 25 48.5 44.5 47 46 25.5 24.8 20.8 21ZM4.5 26 6 26 4.3 28 4.1 32.5 8 65.5 6 65.5 3.5 39.7 3 29.8 3.5 27.4ZM-7.5 26.6 -8 32.3 -14.5 62.8 -14.8 64 -16 64 -17 63.5Z" fill="#c1e6a0"/>
<path d="M-11 -65 -8.9 -65 -7 -50.3 -5.3 -34 -5.5 -30.6 -6.5 -28.9 -7.3 -37.5 -12 -64.5ZM11 -65 11.5 -64.5 13.5 -64.5 13.9 -64 7.2 -33.5 7 -29 8.1 -26.5 7.5 -26.3 6.5 -26.9 5.9 -28 5.5 -32.6ZM-31 -58 -30.5 -58.1 -16.2 -30.5 -9.3 -19 -6.5 -15.3 -3.4 -14 -4.5 -12.6 -6.3 -12.5 -8.2 -13.5 -10.5 -15.8 -13 -19.3 -17.6 -29.5 -33.2 -56.5 -33 -57ZM32.5 -57 34 -56.5 35 -55.5 9.7 -15.5 8.2 -11.5 8.2 -10 9 -8.4 6.7 -8.5 5.5 -10 5.3 -12 8 -19.1 9.5 -21.5 13.5 -25.1 15.7 -28ZM-49 -44 -48.5 -44.4 -26 -23.8 -23 -21.7 -20.5 -20.9 -22 -20.2 -24.6 -21 -32 -26.5 -50.5 -42ZM50 -42.7 52 -40.2 27.2 -21.5 23.5 -19.7 22.5 -19.5 21.5 -20 23.5 -20.7 27 -23.3ZM-61 -25 -59.9 -25 -34 -14 -29.6 -11.5 -28.2 -9.5 -28.5 -9 -30 -10.3 -34 -12.2 -62 -22.5 -61 -24ZM60.5 -22.6 61.5 -22.9 62 -22.5 62.5 -19.9 33.5 -10.8 29.5 -9.2 27.5 -7.5 27 -7.5 27.8 -9.5 31 -11.5ZM-12.5 -4.5 -11.9 -2.5 -13 -0.5 -15.1 0.5 -18.5 1 -24.5 1 -36.5 -0.1 -65.5 -0.1 -65.5 -3.2 -33.5 -1.8 -18.5 -1.9 -14.5 -2.7ZM19.5 -1 32.5 -0.3 65.5 -0.4 65.5 2.7 29.5 1.5 16.5 2.3 14 3.3 13 4.9 12.5 4.8 11.6 3 12.7 1 15 -0.1ZM-29 7 -28.8 8 -29.5 9.1 -33.4 11.5 -62 22.2 -63 19.2 -34.5 10.2 -31 8.7ZM3.5 7.9 5.5 8.4 7 9.8 12.5 18.6 17.3 29.5 32.9 57 31.5 57.5 30.5 58.5 30 58.3 12.7 24.5 5 12.5 3 10.7 0.9 10 2 8.5ZM28 8.5 30 10.2 33.5 11.8 62 22.2 61 24 61 25 32.3 13 28.5 10.6 27.6 9ZM-12.5 9.2 -11.3 10 -10.8 11.5 -11 13.6 -12 16.3 -22 36.5 -33 56 -33.3 56.5 -34 56.5 -36 54.9 -19.7 28.5 -17.9 24 -17.2 19.5 -13.2 13ZM-24.5 19.4 -22 19.3 -21.2 20 -21.5 20.9 -22.5 20.5 -24 20.7 -27.5 22.7 -50.5 41.7 -52 40.5 -52.5 39.3 -51.5 38.5 -30.9 23ZM20.5 19.8 23 20 27.6 23 50.4 42 50 43 48.4 44.5 26 23.9 22.5 21.2 19.9 20.5ZM5.5 26.4 6 26.5 5.4 29 5.7 33.5 11 65 8 65.3 4 32.4 4.2 28.5ZM-7 26.9 -6.4 28.5 -6.5 31.9 -11.5 62.4 -11.9 64.5 -13.5 64.5 -14 64 -15 64Z" fill="#e9f4a3"/>
<path d="M8 -65.5 8.5 -65 11 -65 11 -64.5 6.3 -37.5 5.6 -30.5 5.8 -28.5 6.6 -27 7.5 -26.4 8.6 -26.5 9.5 -25.3 10.5 -25.3 12 -26.1 14.8 -29.5 29.8 -58.5 30.5 -58.5 32.6 -57 15.5 -27.5 9.5 -21 7.3 -17 5.8 -13 5.7 -10.5 7 -8.7 9.1 -8 8.5 -5.5 9.2 -4 10.5 -3.2 12.5 -3 23.5 -4.5 28.5 -2.3 33 -1.9 65.5 -3.3 65.5 -0.2 32.5 -0.2 21 -0.9 15 0.1 12.3 2 11.9 3.5 12.5 5.2 11 6 10.2 7.5 10.7 10 16.3 18.5 16.4 23 18.3 28 35.4 55.5 34 56.5 32.5 56.8 18 31.1 12.4 19 7 10.4 5.5 8.9 4 8.3 2.5 8.6 0.3 10 -1.5 7.4 -4 6.5 -5.5 6.8 -6.8 8 -8.5 14.6 -10 18.5 -14.7 26 -31 58 -33.6 56.5 -19.7 32 -11.7 15 -11.1 11 -12 9.5 -13 9 -11.5 7 -11.5 5.5 -12.5 4.5 -14.5 3.8 -25 4.1 -29.5 2.3 -33.5 1.6 -65.5 2.7 -65.5 -0.4 -36 -0.2 -24 0.8 -18 0.7 -13.5 -0.5 -12.1 -2.5 -12.4 -4.5 -10 -5.1 -8.8 -6 -8.4 -8 -9.3 -10 -16.5 -19 -17.2 -24.5 -19.2 -29 -35.6 -55 -34 -56.5 -33 -56.7 -18 -30.4 -13.3 -20.5 -10.7 -16.5 -8.5 -14.1 -6.5 -12.8 -4.5 -12.8 -3 -14 -1 -12.2 0 -12.2 1.5 -13.1 3.6 -16.5 5.4 -22 5.3 -24 4 -28.8 4 -33.5ZM-13.5 -64.5 -11.7 -64.5 -11.5 -63.4 -7 -36.5 -6.5 -31.5 -7 -29 -14.8 -64ZM48 -44.8 50 -43 50 -42.3 27.4 -23.5 24 -21 22 -20.2 24.5 -23ZM-50.5 -42 -27 -22.7 -22.5 -20.3 -21.5 -20.2 -20.5 -20.9 -20.1 -20.5 -20.1 -19.5 -21.5 -18.8 -23.5 -19 -26.6 -20.5 -31 -23.5 -52 -39.5 -52 -40.5ZM60.5 -25.6 61.5 -22.6 32 -11.8 28 -9.5 27.2 -8.5 27 -6.9 25.7 -7.5 25.6 -8.5 26.5 -10.1 30.6 -13ZM-62 -22.5 -34.4 -12.5 -30.2 -10.5 -28.5 -9 -62.5 -19.6ZM-28.5 6.8 -27.5 7.5 -28 9.3 -32 12.5 -61 24.9 -62 21.9 -33 11.2 -29.5 8.9ZM28 8.5 63 19.5 62 22.5 33.7 12 29.5 10ZM20 18.3 23 18.5 27.5 21 52 39.6 52 40.5 50 42.1 25.5 21.6 22 19.8 20.5 19.8 19.5 20.5 19.1 19ZM-23.5 20.5 -22.2 20.5 -21.5 21 -24 21.9 -27 24.1 -48.8 44 -50 43 -50.7 41.5 -29.5 24 -25.9 21.5ZM-7 26.4 -5.9 27 -5.2 29 -5.5 36.9 -9 65 -11 65 -12.1 64.5 -6.7 33 -6.5 29ZM6 26.8 14 64 13.5 64.5 11.5 64.5 11 65 5.5 32.6 5.4 28.5Z" fill="#fceea4"/>
<path d="M6 -65.5 8 -65.5 8.1 -65 4.1 -33.5 4.1 -28.5 5.6 -24 5.7 -22.5 5 -19.4 3 -14.7 1.5 -12.6 -0.5 -11.8 -2 -12.5 -2.7 -14 -0.5 -14.2 1 -15.5 2.3 -18 3.1 -21.5 3 -35.3ZM-16 -64 -14.6 -64 -14.5 -63.7 -8 -33.5 -7.5 -29 -9.5 -35.1 -16.5 -62.5 -16.7 -63.5ZM28.5 -59.5 30 -58.5 15.5 -30.6 12 -25.9 10.5 -25.2 9 -25.4 9 -26.3 10 -26.1 11.5 -26.9 13.9 -30 28 -59.4ZM-36 -55 -35.5 -55.2 -18.5 -27.9 -17 -24.3 -15.9 -18.5 -8.1 -8.5 -7.9 -6.5 -9 -5.2 -10.5 -4.8 -12.4 -5 -11.1 -6.5 -11.3 -9 -13.3 -12 -17.5 -15.9 -19 -16.8 -24 -18 -27 -19.5 -53.5 -38.2 -52 -39.8 -27.5 -21.2 -23.5 -19.1 -22 -18.9 -20.5 -19.3 -20 -21 -19 -21 -18.2 -22 -18.2 -24 -18.8 -26 -22.7 -32.5 -37.3 -54ZM46.5 -46.1 48 -45 48 -44.5 22 -20.7 22.5 -22 25.5 -25.3ZM59 -27.2 59.5 -27.4 60 -27 60.5 -25.4 30.5 -12.8 27 -10.5 25.7 -8 26.8 -6.5 26.4 -5.5 26.9 -4.5 30 -3.1 38 -3.2 65.5 -5.3 65.5 -3.1 32 -1.8 27.5 -2.5 23 -4.2 11 -2.7 9.5 -3.2 8.4 -4.5 8.3 -6 9 -7.6 10.5 -5.8 13 -5.1 17 -5.6 21.5 -7.1 23 -8.1 26.2 -11.5 29.3 -13.5ZM-63 -19.5 -62.5 -19.8 -61.4 -19.5 -29.3 -9 -33.6 -9.5 -62.3 -17.5 -63 -17.7ZM-40 1.5 -31 1.8 -24.5 3.9 -14 3.6 -11 5 -10.5 6 -10.9 7 -13 8.5 -13.5 6.8 -15.5 5.6 -19.5 5.6 -23.5 6.6 -25 7.5 -28.5 11.5 -31.6 13.5 -60 26.6 -61 24.7 -37 14.7 -30 11.2 -27.7 8.5 -27.6 7.5 -28.5 6.5 -28 5 -30 3.3 -34.5 2.6 -65.5 4.7 -65.5 2.5ZM12 5.5 12.5 5.5 11.8 7.5 12.3 9.5 14.3 12.5 17 15.1 19 16.2 23.5 17.5 28 20 53.5 38.2 52 39.9 27 20.7 22 18.3 20.5 18.3 19.5 18.8 19.2 19.5 19.5 20.5 18 21 17.6 22 18.2 25.5 22.7 33 37 54.2 35.5 55.5 24.5 38.5 17.5 26.6 16.4 23.5 15.9 18.5 11.5 12 10.1 9 10.3 6.5ZM-6 5.8 -4 5.6 -2 6.4 -0.5 8.1 0.1 10 -3 9.8 -5.3 12 -8.5 20.2 -14.2 27.5 -29 58.8 -29.5 59 -31 57.8 -15 26.3 -10.3 18.5 -8.3 13 -7.5 7.1ZM29 8.3 34.6 9.5 63.4 17.5 63 19.5 34 10.5 29.7 9 28.7 8.5ZM-23 21.4 -22.2 21.5 -28.5 26.9 -47.5 45.5 -49 44 -30.5 27 -25.1 22.5ZM-7 26 -5.8 26 -4.9 27 -4.1 32 -7 65.3 -8 65.5 -9.2 65 -5.1 31.5 -5.6 27.5ZM6.5 26.5 16 64 13.8 64 7 32.7Z" fill="#fcce7b"/>
<path d="M4.5 -65.5 6.1 -65.5 2.9 -32.5 3.3 -22 2.5 -18.2 1.5 -16 0 -14.3 -2 -13.9 -2.3 -14 -2.1 -14.5 -0.6 -15.5 0.3 -17 1.4 -21 2 -35.8 4 -63.3 4.2 -65.5ZM-17.5 -63.5 -16.5 -63.3 -8 -29.3 -10.5 -35.2 -18.4 -63ZM26.5 -60 28.2 -59.5 15 -32 11.6 -27 10.5 -26.3 9 -26.4 11.5 -28 13.4 -31ZM-37.5 -54 -31 -45 -19.5 -27.5 -18 -23 -18.9 -21 -19.8 -21 -19 -23 -20.4 -27 -38.8 -53ZM45.5 -47.5 46.6 -46 22 -21.4 21.6 -21.5 25.5 -26.7ZM-53.5 -38.4 -27.5 -19.9 -24.5 -18.3 -19 -17.1 -17.5 -16.2 -14 -13 -11.5 -9.8 -10.8 -8 -11.3 -6 -12.2 -5.5 -12.2 -7.5 -12.9 -9 -17 -13.2 -19.5 -14.9 -28.9 -19.5 -54.2 -36.5 -54.5 -37ZM59 -29.1 59.5 -28.5 59.5 -27.2 29 -13.3 26 -11.2 23.2 -8 21.8 -7 17.2 -5.5 13 -4.9 10.8 -5.5 9.5 -7.1 9.5 -8 11 -6.8 13 -6.6 19 -8.2 29 -14.5ZM-63.5 -17.5 -63 -17.9 -34.5 -9.8 -28.5 -8.5 -31 -8.3 -35.4 -9 -63.5 -16ZM64.5 -7 65.5 -7.1 65.5 -5.2 36.3 -3 31 -3 28.5 -3.5 26.8 -4.5 26.3 -5.5 27 -6.5 27.5 -5.2 29 -4.3 33 -3.9ZM-44 3 -35 2.6 -30.7 3 -28.2 4.5 -27.9 5.5 -28.5 6.1 -30 4.2 -34.5 3.6 -65.5 6.5 -65.5 4.5ZM-19.5 5.5 -16.5 5.4 -14.5 5.8 -13.5 6.6 -13 8 -13.5 8.1 -15 7.1 -17 6.8 -22.5 8.2 -31.4 14.5 -59.5 28.3 -60 26.4 -33 14.2 -28.5 11.4 -24.8 7ZM12.5 5.9 12.7 7.5 13.8 9.5 17 12.8 27.5 18.5 54.2 36.5 54.5 37 53.5 38.4 27.5 19.7 24 17.8 19 16.4 17 15.4 14.5 12.9 12.4 10 11.8 7.5ZM28 8 31 7.9 34.4 8.5 64 16 63.5 16.5 63.5 17.5 63 17.6ZM-2 9.5 -0.3 10 -2.5 11.4 -3.8 13 -7 23 -10.5 24.5 -13.4 28 -27.4 59.5 -28.5 59.5 -29.3 59 -29 58.4 -14.5 27.8 -12.5 24.7 -8.6 20 -5 11.2 -3.8 10ZM18 20.8 18.5 20.5 18.9 21 18.3 23 20.7 28 38.5 53.2 37 54.5 19.5 28.1 17.5 23.2ZM-23 22 -22.5 21.8 -22.5 22.2 -46 46.6 -46.5 46.5 -47.5 45.3ZM-6.5 24.3 -5 24.9 -4 26.3 -3.2 31 -5.2 65.5 -7.2 65.5 -4.1 30.5 -4.9 27 -6 26 -7 26ZM7 27.1 9 32.4 17.7 63 17.5 63.5 16.5 63.5 16 64 7 28.5Z" fill="#fbac61"/>
<path d="M2.5 -65.5 4.3 -65.5 1.8 -32 1.6 -22 0.1 -16.5 -1.1 -15 -2.5 -14.5 -0.7 -17.5 0.1 -23ZM-19.5 -63 -18.3 -63 -8.5 -29.2 -10 -31.5 -12 -36.9 -20 -62.4ZM25 -61 26.5 -60 16 -36.5 12 -28.6 10.4 -27 9.5 -26.9 10.7 -28 12.7 -31.5ZM-39 -53 -37.5 -51.5 -21 -28.2 -19 -23.8 -19 -22.5 -19.5 -21.5 -20 -21.5 -19.6 -22 -19.8 -24 -22.3 -28.5 -40.1 -52ZM44.5 -48.5 45.5 -47.4 26.8 -28 22.8 -23.5 21.5 -21.3 21.2 -21.5 22 -23.6 25 -27.5 44 -48.5ZM-54.5 -36.9 -28.5 -19.3 -17.9 -14 -13 -9.3 -12.1 -7 -12.4 -5.5 -13.6 -8 -17 -11.2 -55.5 -35.4ZM58 -30.5 58.5 -30.5 59 -29 29.5 -14.7 20 -8.5 13.7 -6.5 12 -6.5 10 -7.5 13.5 -7.8 17.5 -9.3ZM-64 -16 -34 -8.7 -29 -8 -31 -7.7 -34.7 -8 -62.1 -14 -64 -14.4ZM63 -8.5 65 -8.7 65.5 -7 35.9 -4 30.1 -4 28.4 -4.5 27.3 -5.5 27.5 -6 28.5 -5.2 30 -4.8 34 -4.8ZM-42 4 -34.5 3.5 -31 3.9 -29 5 -29 6.5 -29.3 5.5 -30.5 4.7 -34 4.4 -65.5 8 -65.5 6.4ZM13 6 14.8 9 19 12.4 55.5 35.4 54.5 36.9 28.5 19.2 17.7 13.5 13.5 9.2 12.8 7.5ZM-19 7 -15.1 7 -14 7.6 -14 8.2 -17.5 8.1 -21.5 9.4 -34 17 -58.1 29.5 -59 29.5 -59.5 28.2 -33 15.3 -28.5 12.7 -23.3 8.5ZM29 7.4 36.3 8 63.6 14 64 14.1 64 16ZM-1 10.5 0 10.6 -1.7 12 -2.7 14 -4 20.5 -3.9 23 -2.5 27.6 -2.3 31.5 -3.5 65.5 -5.3 65.5 -3.2 30 -4.3 26 -6 24.6 -6.5 24.6 -7.5 26 -8.5 25 -10 25.4 -12.7 28.5 -26 60.5 -27 60 -27.5 59.4 -14 29 -11.2 25 -7.1 22.5 -4 13.2 -2.8 11.5ZM19 21 19.2 23.5 21.7 28 39.7 52 38.5 53.5 20 27 18.4 23.5 18.4 22ZM-22.5 22.3 -23 23.6 -35.5 37.5 -45 47.9 -45.5 47.5 -46.2 46.5ZM7.5 27.2 10 32.7 19.4 63 17.5 63Z" fill="#f47f48"/>
<path d="M1 -65.5 2.6 -65.5 1 -33.8 -0 -20.5 -1 -16.6 -2.5 -14.9 -1.6 -18 0.1 -35ZM-21 -62.5 -19.9 -62.5 -11.7 -36 -8.5 -28.7 -10.5 -30.9 -12.5 -35.6 -21.5 -62ZM23.5 -61.5 25 -60.8 13 -32.1 11 -28.4 9.7 -27.5 12.3 -32.5ZM-40.5 -52 -39.9 -52 -22 -28.1 -20 -24.5 -20 -21.5 -20.2 -23.5 -22.3 -27 -41.3 -51ZM43 -49.7 44.2 -48.5 23.8 -26 21.4 -22.5 20.9 -20.5 21 -23.2 23.5 -27ZM-55.5 -35.5 -29.5 -18.8 -18.6 -12.5 -14 -8.6 -12.8 -6 -16.5 -9.2 -27 -16.2 -56.2 -34ZM57.5 -32 58.3 -30.5 27.5 -14.7 19.2 -10 14 -7.9 12 -7.6 10 -8 14 -9.2 29.5 -16.7ZM-64 -14.6 -36 -8.3 -29.1 -7.5 -31.5 -7 -36.7 -7.5 -62.2 -12.5 -64.5 -13ZM63 -10 65 -10.3 65 -8.6 36.5 -5 30 -4.9 28 -5.5 27.7 -6 30.5 -5.4 35 -5.7ZM-36.5 4.5 -31.6 4.5 -30 5 -29.5 5.7 -31.5 5.1 -35.5 5.2 -65 9.6 -65 8.5 -65.5 8ZM13.5 6.4 16 8.7 26.5 15.7 56.3 34 55.5 35.5 28 17.8 19 12.5 14.5 8.7 13.5 7.4ZM29 6.9 32 6.7 38.5 7.5 64.1 12.5 64.5 12.6 64.5 13.5 64 14.2 37.5 8.3ZM-17.5 8 -15 8 -14 8.6 -16.5 8.8 -20.5 10.3 -57.7 31 -58.5 30.5 -58.5 29.5 -31 15.3 -22 9.5ZM-0.5 11 -0.1 11 -1.7 15 -2.2 20 -1.4 31.5 -2 65.5 -3.7 65.5 -2.2 31.5 -2.7 27 -4 23 -4.2 21 -3 14.6 -2 12.4ZM19 21.7 22.7 28 41 51.1 40.5 52 39.5 52 22 28.5 19.5 24.3ZM-22 22.4 -22 23.1 -24.5 26.5 -44 49 -45 47.7ZM-9 25 -7.8 25.5 -10 26.3 -12.3 29.5 -24.5 61 -25 61 -26 60.2 -14 31.2 -11.5 26.7ZM8 27.1 9.5 29.3 11 33 20.9 62.5 20 62.5 19.5 63Z" fill="#e45534"/>
<path d="M-0.5 -65.5 1.1 -65.5 0.5 -43.1 0 -32.5 -1.5 -18.5 -2.5 -15.3 -2.5 -23.9 -1.2 -30 -0.7 -35ZM-22.5 -62 -21.4 -62 -12.3 -35 -10.3 -30.5 -8.2 -28.5 -8.5 -28.3 -10.5 -29.7 -13 -34.6 -22.5 -60.4 -22.9 -61.5ZM22 -62 23.5 -61.3 12.5 -33 9.5 -27.5ZM-41.5 -51 -23 -28.1 -20.5 -24.1 -20.5 -22.7 -21.7 -25 -24.8 -29 -42.4 -50ZM42 -50.5 43 -50 43 -49.5 23.2 -26.5 21.2 -23.5 20.4 -20.5 20 -22 20.4 -23.5 22.5 -27ZM-56.5 -34 -25.1 -15 -16.1 -9 -13.3 -6 -21 -10.5 -31 -17.7 -57 -32.8ZM56.5 -33.1 57 -33 57.5 -31.9 33 -18.5 14.9 -9.5 12.4 -8.5 10.2 -8.5 20 -14 25.5 -15.8 30.5 -18.2ZM-64.5 -13.1 -35 -7.2 -30 -7.1 -28.5 -8 -28.5 -7.5 -30 -6.5 -31.5 -6.3 -39 -7 -64.5 -11.5ZM63 -11.5 64.5 -11.8 65 -11 65 -10.2 63.7 -10 33 -5.5 29.6 -5.5 28.1 -6 36.5 -6.8ZM-37.5 5.5 -32.5 5.2 -30.5 5.7 -37 6.2 -65 11 -65 9.5ZM30.5 6 37.8 6.5 64.2 11 64.5 12.7 34 6.8 30 6.6 28.5 7.1 28.2 7 28.7 6.5ZM14 6.3 21.1 10.5 30.5 17.3 57 32.7 56.5 34 24.5 14.5 16.4 9 14 6.9ZM-17 8.9 -13.5 9 -15.5 9.3 -20 11.4 -56.4 32 -57 32.3 -57.5 32 -57.9 31 -30 15.8 -22 11ZM0 11 -0.7 18.5 -0.4 65.5 -2.1 65.5 -1.4 32 -2.3 20 -1.5 13.9ZM19.5 21.1 20.1 23 22.2 26 42 50 41.5 51 41 51.4 23 28.4 20 23.9ZM-21.5 22 -22 24.2 -25 28.4 -43 50 -44 48.9 -25.7 28 -22.2 23.5ZM-9.5 26 -7.9 26 -9.8 27 -11.7 30 -23 61.4 -23.5 61.5 -24.6 61 -24.5 60.7 -14 33.4 -11.5 28.1ZM7.5 26.4 9.5 28 11.5 32.1 22.4 62 20.8 62.5 10.8 32.5 9.3 29Z" fill="#b4221f"/>
</g></g></g>
<path d="M132.0 691.5v5M132.0 819.3v-5M119.0 806.5h5M249.0 806.5h-5M158.0 691.5v5M158.0 819.3v-5M119.0 781.0h5M249.0 781.0h-5M184.0 691.5v5M184.0 819.3v-5M119.0 755.4h5M249.0 755.4h-5M210.0 691.5v5M210.0 819.3v-5M119.0 729.8h5M249.0 729.8h-5M236.0 691.5v5M236.0 819.3v-5M119.0 704.3h5M249.0 704.3h-5" stroke="#111" stroke-width=".7" fill="none"/>
<rect x="119.0" y="691.5" width="130.0" height="127.8" fill="none" stroke="#555" stroke-width=".6"/>
<text x="124.0" y="707.3" font-size="11.6" text-anchor="start" font-weight="bold">(c)</text>
<rect x="200.3" y="699.4" width="41.3" height="17.2" fill="#fff" stroke="#666" stroke-width=".5"/>
<text x="202.3" y="712.1" font-size="11.4" text-anchor="start" >Ω=0.92</text>
<text x="246.7" y="818.1" font-size="10.4" text-anchor="end" fill="#333">7(f)</text>
<text x="132.0" y="831.1" font-size="11.2" text-anchor="middle" >-200</text>
<text x="158.0" y="831.1" font-size="11.2" text-anchor="middle" >-100</text>
<text x="184.0" y="831.1" font-size="11.2" text-anchor="middle" >0</text>
<text x="210.0" y="831.1" font-size="11.2" text-anchor="middle" >100</text>
<text x="236.0" y="831.1" font-size="11.2" text-anchor="middle" >200</text>
<text x="184.0" y="841.0" font-size="11.2" text-anchor="middle" >x</text>
<text x="116.8" y="810.3" font-size="11.2" text-anchor="end" >-200</text>
<text x="116.8" y="784.8" font-size="11.2" text-anchor="end" >-100</text>
<text x="116.8" y="759.2" font-size="11.2" text-anchor="end" >0</text>
<text x="116.8" y="733.6" font-size="11.2" text-anchor="end" >100</text>
<text x="116.8" y="708.1" font-size="11.2" text-anchor="end" >200</text>
<text transform="translate(105.0,755.4) rotate(-90)" font-size="11.2" text-anchor="middle">y</text>
<linearGradient id="cb30" x1="0" y1="0" x2="0" y2="1"><stop offset="0.000" stop-color="#a01818"/><stop offset="0.050" stop-color="#b82420"/><stop offset="0.123" stop-color="#e45434"/><stop offset="0.210" stop-color="#f48048"/><stop offset="0.300" stop-color="#fcb064"/><stop offset="0.390" stop-color="#fcd480"/><stop offset="0.474" stop-color="#fcf4ac"/><stop offset="0.560" stop-color="#e4f4a0"/><stop offset="0.650" stop-color="#b4e0a0"/><stop offset="0.740" stop-color="#7ccaa4"/><stop offset="0.825" stop-color="#3c9c9c"/><stop offset="0.910" stop-color="#1c4c88"/><stop offset="1.000" stop-color="#070a6e"/></linearGradient><rect x="251.8" y="691.5" width="6.3" height="127.8" fill="url(#cb30)" stroke="#333" stroke-width=".5"/>
<path d="M251.8 691.5H260.1" stroke="#222" stroke-width=".7"/>
<text x="260.7" y="695.7" font-size="11.8" text-anchor="start" font-family="Liberation Sans, sans-serif">π</text>
<path d="M251.8 723.4H260.1" stroke="#222" stroke-width=".7"/>
<text x="260.7" y="727.6" font-size="11.8" text-anchor="start" font-family="Liberation Sans, sans-serif">π/2</text>
<path d="M251.8 755.4H260.1" stroke="#222" stroke-width=".7"/>
<text x="260.7" y="759.6" font-size="11.8" text-anchor="start" font-family="Liberation Sans, sans-serif">0</text>
<path d="M251.8 787.3H260.1" stroke="#222" stroke-width=".7"/>
<text x="260.7" y="791.5" font-size="11.8" text-anchor="start" font-family="Liberation Sans, sans-serif">-π/2</text>
<path d="M251.8 819.3H260.1" stroke="#222" stroke-width=".7"/>
<text x="260.7" y="823.5" font-size="11.8" text-anchor="start" font-family="Liberation Sans, sans-serif">-π</text>
<rect x="289.6" y="691.5" width="130.0" height="127.8" fill="#f5ee9e"/>
<clipPath id="pc31"><ellipse cx="354.6" cy="755.4" rx="64.0" ry="62.9"/></clipPath>
<filter id="pb31" x="-5%" y="-5%" width="110%" height="110%"><feGaussianBlur stdDeviation="0.42"/></filter>
<g clip-path="url(#pc31)">
<ellipse cx="354.6" cy="755.4" rx="65.0" ry="65.0" fill="#ece29c"/><circle cx="354.6" cy="755.4" r="55.5" fill="none" stroke="#f08a48" stroke-width="17" stroke-dasharray="1.1 1.5" stroke-dashoffset="0" opacity="0.62"/><circle cx="354.6" cy="755.4" r="55.5" fill="none" stroke="#5cb8a0" stroke-width="17" stroke-dasharray="0.8 1.8" stroke-dashoffset="-1.25" opacity="0.55"/><circle cx="354.6" cy="755.4" r="39" fill="none" stroke="#ec7840" stroke-width="16" stroke-dasharray="1.1 1.5" stroke-dashoffset="0" opacity="0.7"/><circle cx="354.6" cy="755.4" r="39" fill="none" stroke="#48a8a0" stroke-width="16" stroke-dasharray=".8 1.8" stroke-dashoffset="-1.25" opacity="0.6"/>
<g filter="url(#pb31)">
<g transform="translate(354.6,755.4) scale(1,0.9831)">
<path d="M-3.5 -34 -2.4 -25 -2.5 -15.4 -3.1 -20.5 -2.9 -24.5ZM7 -32.2 6.2 -28.5 6 -23 3.8 -16.5 3.5 -12.9 2.9 -14 3 -16.7 5.2 -22 6 -29.1ZM14.5 -30.2 9 -18.4 10 -22.2 13 -28.4ZM-8 -29.8 -7 -28.3 -6 -23.4ZM2.5 -29 1.5 -20.9 1.5 -26ZM-18 -28.4 -16.7 -25.5 -12 -19 -12 -18.2 -17.5 -26ZM21 -27.5 21.6 -27.5 18.7 -25ZM-10.5 -27.1 -7.1 -17 -4 -12.1 -2.5 -7.7 -4 -9.1 -7.5 -15.8 -10.5 -24.4ZM-23.5 -23.1 -20.7 -20 -23 -21.7 -23.9 -23ZM16.5 -22.6 17 -22.5 9.3 -14 5.3 -7.5 5 -5.3 4.5 -5.3 4 -7 5 -9.7 9.5 -15.8 12.1 -18 14.8 -21.5ZM21 -22.7 20.5 -21 17 -17.1 17 -17.8ZM-20.5 -19.8 -17 -18.1 -9.5 -9.9 -11.9 -11.5 -16.5 -16.7 -20.1 -19ZM23 -18.1 23.5 -18.4 23.6 -18 19.6 -15 11.5 -10.4 15.8 -14 19 -15.2ZM-23.5 -17.8 -17.6 -13 -18.5 -13 -20.6 -14.5ZM28.5 -17.6 30 -17.5 27.5 -16.6 27.4 -17ZM-29.5 -13.8 -27.4 -13 -27.5 -12.5ZM23 -12.5 24.4 -12.5 24.6 -12 21.5 -11.2 17.8 -8.5 19.3 -10.5ZM-26 -12.2 -22.4 -11 -15.4 -7.5 -12.5 -4.6 -7.8 -2.5 -17.5 -2.4 -28.7 -4.5 -16.5 -3 -15 -3.2 -14.1 -4 -14.2 -5.5 -15.5 -6.8 -26.4 -12ZM30 -10.6 31 -10.6 31 -10 27.5 -9.3 22.6 -7 17 -6.2 14.5 -5.4 12.7 -4 12 -2.5 13.5 -1.1 17 -0.8 23 -3 30 -3.3 32.5 -4.1 32.9 -3 32.5 -2.8 22 -2.3 19.7 -1 19.7 0 21 0.8 25 1.2 27 0.8 27.5 2.7 25.5 1.9 21.7 1.5 18.5 0.2 10.5 -0.7 8 -0.3 6.5 1 6.6 4 8.5 6.1 15 9.8 25.5 13.7 22.5 13.6 18 11.2 15.5 11.2 11.5 8.6 8 7.7 3.5 2.5 -0 0 10.5 -2.6 12.5 -5 16.1 -7 21.5 -7.2ZM-28.5 -9.6 -27.5 -8.7 -23.5 -7.4 -29 -8.2ZM-25 0.5 -20.7 0.5 -23.7 1 -32.7 1.5ZM-16 3 -13 3 -25 6 -26 4.8 -28.6 4.5 -23.5 4.8ZM30 3.3 34.5 3.2 34.6 4.5ZM-31 5 -28.7 5 -32.5 5.7ZM15.5 4.8 30.8 6.5 27.5 6.6 23 5.7 21.5 6.5 21.6 7.5 22.5 8.4 26.5 10 28 11.3 22 8.5 20.5 6.8ZM-8 5.5 -6.5 5.1 -6.2 5.5 -9.6 8 -14.5 9.7 -23 15.9 -23.2 15.5 -21.7 14 -15.5 9.5ZM0.5 7.5 1.5 7.5 0.6 9 0.1 17.5 1.5 31 -0.7 18 -0.7 10ZM-20.5 8.5 -19.3 8.5 -21.6 9.5 -30.1 12.5ZM8 9.9 8.5 9.7 8.7 11.5 10.3 14 14.5 18 17.8 23.5 20.3 26 19.5 26.1 18.5 25.1 13.3 17.5 9.5 14.5 8 11.8ZM-10.5 10.8 -11 12.9 -15.5 19 -20 24.1 -20.5 24 -15.8 18.5ZM15.5 12.3 17.5 14.7 23 19.2 26.3 21 24 20.6 17.6 15.5 16 13.8ZM-4.5 12.8 -8 23.3 -10 26.1 -10.3 26 -7.7 21 -6.5 15.4ZM28 14.7 30.8 16 30 16.1ZM4 15.3 8 23.5 9.5 29.2 7.7 24 5.5 20.5ZM-18.5 16.4 -17.9 16.5 -21.5 19.5 -23.8 20ZM-26.5 17.9 -25.8 18 -28 19.7ZM10 17.6 11.2 20.5 14 24.7 11.5 22.1 10 18.8ZM-10.5 18.4 -13.5 25.5 -13 22.2ZM19 20.3 21.5 22.5 21 22.6ZM-3 20.7 -4.6 31.5 -4.5 36.5 -5 30.7ZM4.5 22.9 5.3 28.5 5 33.8ZM-14 25.4 -13.6 25.5 -15 28.3ZM-18 26.2 -19.1 29 -19.1 28ZM-11 27.2 -12 32.8 -12 30ZM-8 28.3 -8 30 -8.7 31.5ZM13.5 29 15.7 32.5 14 31Z" fill="#1a4786"/>
<path d="M0 -36.6 -0.5 -28.4 -0.8 -34.5ZM-13 -34.5 -12.3 -30.5 -7.8 -16.5 -3.9 -9 -2 -7.5 -2.5 -6.7 -3.8 -7 -5.3 -8.5 -8.5 -15.5 -9.2 -19.5 -11 -23.5 -11.2 -26.5 -13.2 -31.5ZM2.5 -34.6 2.5 -29 1.3 -24 1.5 -20 0.8 -21.5 0.8 -26.5 2.3 -29.5ZM-4 -34.4 -3 -25 -3 -15.5 -4.1 -21 -3.5 -24ZM7.5 -34 5.8 -28.5 5.5 -23.4 2.8 -15.5 3.5 -11.7 2.5 -12.4 2 -13.7 2.3 -18.5 4.3 -21.5 6 -31.8ZM10 -32.6 10 -30.8 8.5 -26.5ZM-9 -31 -7.5 -28.1 -6 -22.7 -9 -29.8ZM-16 -30.2 -14.5 -27.5 -14.5 -26.6 -16.4 -30ZM13.5 -30.2 14.2 -30 9.2 -20.5 8.8 -18.5 9.5 -17.3 11 -17.8 13.2 -20.5 14.4 -22.5 14.5 -25 14.7 -23 16 -22.8 20.3 -28 20.2 -28.5 21.7 -28 9.3 -15.5 4.7 -9 4.1 -7 4.5 -5.5 6.5 -3.7 9.5 -4.2 16 -8.2 18.9 -11 22.5 -13.3 23.5 -14.7 23.5 -13.5 25 -12.5 22.5 -12.3 19 -10.3 17.8 -9 18.5 -7.6 22.5 -8.2 29 -10.8 31 -12.2 31 -10.5 29 -10.3 20.5 -7 17 -7.2 13 -5.4 11.8 -4 11.5 -2.7 0.5 -0.3 0.5 -1.7 3.5 -11.3 6 -12.5 7.8 -15 8.7 -17 8.3 -19 9 -21.6ZM17 -29.4 17 -28.5 15 -25 14.6 -25ZM-18.5 -28.6 -17.2 -25.5 -11.5 -17.2 -13 -18.5 -18 -25.8 -18.6 -27ZM-22 -25.3 -18.2 -21 -22.2 -25ZM26.5 -25.1 27 -24.9 25 -23.1ZM21.5 -24.2 21.9 -24 16.7 -17.5 16.2 -16 17 -15.1 18 -15.2 22.5 -18.5 25 -20 25.1 -19.5 19.5 -15.5 16 -14.1 11.5 -10.9 15.2 -15 16.5 -18ZM-24 -23.1 -21.5 -20.1 -17 -17.2 -12.4 -12 -9.3 -9.5 -10.5 -9.5 -12.7 -11 -16.5 -15.8 -23.5 -21.3 -24.4 -23ZM27 -21.5 27.5 -21.9 27.6 -21.5 26.5 -20.5 25 -20ZM-28 -20.2 -16.5 -11.9 -17.8 -12 -21.1 -14 -23.5 -16.7ZM29 -19.3 30.6 -18 28.5 -17.7 24.5 -15.2 24.3 -15.5ZM-29.5 -17.7 -25.5 -14.7 -28.9 -16.5 -29.8 -17.5ZM30 -15.1 30.7 -15 26.6 -13 25.1 -13ZM-32 -14.2 -30.9 -14 -31 -13.5 -32.4 -14ZM-30.5 -13.7 -22.6 -10.5 -15.9 -7 -14.5 -6 -14.2 -5 -22.5 -9.8 -31 -13.5ZM-29 -8 -26.9 -8 -22.4 -6.5 -30.1 -7.5ZM30.5 -7.5 32.6 -7.5 26.5 -6.5ZM-34.5 -5.7 -17.5 -2.4 -12.5 -2.8 -7.5 -2 -9.5 -1.2 -17.8 -1.5 -31.7 -4.5ZM32 -4.5 32.9 -4.5 32.5 -4.1 31.2 -3.5 21.5 -2.8 18 -0.9 13.6 -1 11.6 -2.5 12.5 -2.7 14 -1.8 16.5 -1.8 22 -3.5 29 -3.7ZM20 -0.6 21 0.3 23 0.4 30.5 -0.3 37 0 28.5 0.1 26.5 1.1 25 1.2 20.5 0.6 19.8 0ZM-24.5 1 -20.5 0.9 -22.4 1.5 -29.5 2.1 -36.5 1.5 -30 1.7ZM7 2.4 8.5 4.5 15 8.7 23 12.3 32.6 15.5 30.1 15.5 14.5 9.5 7.5 5.5 6.4 3.5ZM29.5 2.8 34.6 3 33.5 3.4ZM-15 3.5 -13.5 3.3 -14.2 4 -23.5 6.2 -27.6 8.5 -30 9.1 -32.6 9 -27 7.8 -25.1 6.5 -25 5.6ZM15.5 4 25.3 5 33.1 6.5 23.5 5.2 20 5.6 15 4.5ZM-28.5 5 -26 5.2 -32.8 6ZM-6 5.4 -6 6.1 -8.8 9.5 -11 14.3 -15.5 20 -22 26.9 -22.2 26.5 -16.4 20 -10.8 12.5 -10.4 11 -11.1 10 -12 9.6 -14 10.4 -20 14.2 -28 20.4 -28.1 20 -15 10 -10 8.1ZM1.5 7.9 2 13 1.1 18 3 36.4 1 26.2 0.2 18 0.5 9.5ZM22.5 7.9 26.8 9.5 31.2 12 30 12 22.8 8.5 22 8ZM-20.5 9 -19.3 9 -21.2 10 -26.5 11.7 -30 13.5 -30.1 13 -28.4 12ZM33 9.7 35.1 10 35 10.5ZM8.5 10.4 15.5 18.1 17.7 22.5 21.1 26 21 26.5 18 23.6 14.1 17.5 10 13.7ZM31.5 12.3 33.7 13 32.5 13ZM16.5 12.9 24 19.3 26.3 20.5 25 20.5 23.4 19.5 17.3 14.5 16.4 13.5ZM-4.5 13.3 -4.5 14.7 -7.5 24.3 -9.7 26.5 -11.5 32.6 -11 28.3 -7.7 22.5 -6 16.3ZM-26 14.4 -25.4 14.5 -29 16.5 -30.4 16.5ZM3.5 14.8 4.5 14.9 5.5 16.1 8.5 23.1 11.5 32 11.5 34.1 8.3 24 4.6 16ZM24.5 15.7 28.7 18.5 27.9 18.5ZM-18.5 17 -18 16.6 -17.9 17 -21.4 20.5 -22 22.4 -22.5 20.5 -23.9 20.5 -22 19.8ZM10.5 17.5 12.2 21 16.5 26.8 17.5 29.8 15.2 25.5 11.5 21 10.5 18.9ZM-10 18.4 -13.5 26.7 -15.5 29.8 -12.5 22.5ZM19 19.8 23.3 24 23 24.2ZM-2.5 20.6 -3.9 29.5 -4 35.7 -4.5 30.6ZM-26 22 -25.3 22 -27 23.3ZM5 23 6.1 29 5.5 34.4ZM-16.5 24.8 -19 30.1 -18.5 27.8ZM-7 25.7 -7 28.1 -8.5 32.8ZM13 26.9 15 31.4 13 28.1Z" fill="#74c5a3"/>
<path d="M-5 -36.6 -3.5 -25 -4 -21 -3.5 -15.4 -5.8 -21 -7.5 -23.6 -11.4 -35 -10.8 -35 -6.8 -24 -5.5 -22.2 -4.2 -23.5 -5.4 -36.5ZM-2.5 -36.6 -1.5 -35.1 -0.5 -35 -0.8 -29.5 -0.3 -28 0.5 -27.6 1.3 -28.5 2 -35.9 2.6 -36.5 2.1 -29 0.7 -25 0.8 -21.5 1.1 -20.5 2 -20 3.3 -21 3.8 -23 5 -31.5 4.9 -36.5 5.5 -36.5 5.3 -33.5 6 -33 6.8 -33.5 7.5 -36 8.1 -36 5.8 -31 4.5 -22 2.3 -18 2 -14 3 -12.1 4.9 -13 6.2 -15 8 -21.7 11.8 -29 12.9 -34.5 13.3 -34 12.7 -32 13 -30.6 14.4 -31.5 15.4 -33.5 15.8 -33 14.5 -30.9 13 -29.7 9.2 -22 8.3 -19 8.9 -17 6.5 -12.9 3.5 -10.4 0.2 -0.5 -1 -0.5 -3.6 -2 -5.9 -5.5 -8.5 -7.7 -11.4 -8.5 -15 -10.8 -18.8 -11.5 -22.5 -13.5 -24.1 -13.5 -29.5 -15.9 -33 -16.4 -31 -16.2 -30.3 -17 -31.8 -18.5 -31.5 -18.9 -26 -14.8 -24 -14.1 -23 -14.5 -24 -16.3 -30.1 -20.5 -30 -21.1 -24.5 -17.5 -19 -12.7 -16.5 -11.7 -15.5 -12.5 -16.1 -14 -18.5 -16.2 -24.5 -20.9 -26.6 -21.5 -28.5 -22.8 -28.5 -23.5 -26 -21.7 -24.8 -22 -27 -25 -26.5 -25.3 -23.2 -21 -16.7 -16 -12.5 -10.9 -10 -9.4 -8 -10 -8.1 -12 -9.6 -14.5 -13.5 -17.7 -18.9 -25.5 -22.5 -28.5 -22.2 -29 -20.5 -27.2 -19.5 -27.1 -19.2 -28 -20.6 -30.5 -20 -30.5 -18.1 -26 -13.8 -19.5 -11.5 -17.1 -10.5 -17.1 -10 -18.5 -11.2 -21.5 -15 -26.1 -18.3 -32 -17.5 -31.8 -14.2 -26 -12.5 -24.6 -11.7 -25.5 -12.3 -27.5 -13.7 -30.5 -15.8 -33 -15.5 -33.5 -14 -32.1 -13.5 -34.1 -13.2 -31.5 -11.5 -27.2 -11.1 -24 -9.4 -20 -8.8 -16.5 -5.6 -9.5 -4.5 -7.8 -3 -6.8 -0.5 -7.6 0.6 -10 0.6 -18ZM-8.5 -36 -7.8 -36 -7 -30.5ZM10.5 -35.1 8 -26.2 8 -28.5 10 -34.7ZM18 -32.1 18.5 -32 14.3 -24.5 14.5 -23 15.5 -23.2 17.2 -25 19.1 -28 20 -30.5 20.5 -30.5 20 -29 20.6 -28 16.7 -23.5 14.5 -22.5 11.2 -18 9.5 -17.2 9.1 -17.5 9.3 -18 10.6 -18.5 12.3 -21 14.5 -26.6ZM24 -27.7 24.5 -27.4 16.2 -17.5 15.4 -15 11 -10.9 11.5 -12.5 16 -18.7ZM-25 -27 -24.5 -27.4 -19 -21.5 -18.5 -20.1ZM26 -25.6 26.5 -25 23 -21.8 22.6 -22ZM28.5 -23.5 28.5 -22.7 27 -21.5 19.2 -16 17.5 -15.2 16.7 -15.5ZM30 -21.2 28.6 -18.5 24.5 -15.7 22.5 -13.2 18.5 -10.7 16 -8.1 9 -3.8 7 -3.4 5.6 -4 5.5 -5 7.5 -5.4 15 -9.2 21.5 -13.8ZM31 -19.1 31.6 -19 31 -18.5 29.4 -18.5ZM32.5 -17 32.9 -16.5 26.6 -13.5 24.2 -13ZM-34 -14.6 -22.9 -10 -14.6 -5 -20.2 -6.5 -22.5 -8.8 -34 -14ZM34 -14.5 34 -13.9 31.5 -12.8 29.4 -11 20 -7.5 18.3 -8 28 -11.3ZM35 -12 35 -11.4 33.7 -11 31.3 -11ZM-35 -11.9 -29.3 -9.5 -35 -11ZM34.5 -9 35.5 -9.2 35.1 -8.5 25.7 -6.5 27.5 -7.5ZM-36 -8.6 -21.3 -6.5 -22.5 -5.8 -24.5 -5.9 -35.9 -8ZM-36.5 -6 -33 -4.8 -18 -1.6 -9.5 -1.3 -7 -2.1 -6.3 -1 -7.5 0.2 -10 0.9 -18 -0.1 -21 -1.3 -26 -2 -28.5 -3.3 -33.4 -4 -36.5 -5.5ZM34 -6 36 -6.3 36.5 -5.9 30.5 -4 23 -3.6 16.5 -1.8 14 -1.8 12.8 -2.5 23.5 -4.7 30 -4.7ZM-36.5 -3.6 -34.5 -3.5 -36.5 -3.2ZM33 -3.6 36.6 -3.5 34.5 -3.1ZM-36.5 -1 -27.3 -1 -29 -0.5 -36.5 -0.4ZM28.5 -1 36.5 -1 36.5 -0.4 29 -0.4 25.2 0.5 21 0.2 20.3 -0.5ZM-20 0.9 -20.1 1.5 -21.5 2.1 -30.8 3 -36.6 2 -30 2.2ZM27.5 2 36.6 2 33 2.8ZM7.5 2.4 12.5 4.3 15 7.2 22 10.8 33.6 15.5 29 14.5 15.5 9 8.4 4.5 7.4 3.5ZM16 3 24.7 4 31.9 5.5 36.1 7 24 4.8 16 4 14.5 4.6 14 4 14.3 3.5ZM-13 3.4 -12.5 3.5 -13 4.5 -16 6 -22 6.8 -29.9 10 -35 10.5 -35.1 10 -27 8.3 -22.9 6 -16.5 4.7ZM-36.5 4.5 -33.5 4.5 -36.5 5.1ZM-29 5.5 -26 5.6 -36 7.8 -36 7.3ZM-5.5 5.4 -5 6.5 -5.4 8 -9.9 15 -20.5 26.6 -23.5 28.5 -11.2 14.5 -9.7 12 -9 9.5ZM22 7 28.3 9 29 10.2 34.6 13 30 11.5 27 9.6 22.9 8ZM2 7.9 7 16.5 9.5 23.1 12.6 34.5 12 34.3 8.8 24 5.6 16.5 4.5 14.9 3.5 14.7 2.5 15.5 2.2 17.5 2.5 25 4 36.5 3.4 36.5 2.5 32 1 18.3 1.8 13 1.5 8.5ZM-18.5 8.4 -19 9.7 -22.3 11.5 -26 12.3 -32.6 15.5 -33.6 15.5 -28.3 12.5 -22 10.3ZM29 8.5 35.5 9.4 35.5 10 30 8.7 28.6 9ZM-13 9.8 -11.1 10 -20 15.3 -29 22.1 -29.6 22 -20.5 14.5ZM9 9.9 17 18 21.2 20.5 26 25.9 25.5 26.3 19 19.6 18 19.4 17.5 19.8 18.3 22 23.9 28 23.5 28.5 18.5 23.4 15.8 18.5 10.5 12.9ZM-32.5 11.9 -31.7 12 -32.5 12.5 -34.6 13ZM16.5 12.4 29.6 22 29 22.2 23.7 19 17 13.5ZM-24 13.5 -24.4 14.5 -26.5 16 -32 18.2 -31.8 17.5 -27.5 15.8ZM-4 13.1 -3.5 13.5 -3.5 15.2 -6.1 23.5 -7 31.1 -8.8 35.5 -9.3 35.5 -6.8 27 -7.5 25.2 -8.5 25.8 -12 35.1 -10.5 28.4 -9.5 26.2 -7.3 23.5ZM24 14.8 28.5 17.4 31.1 20 25 16ZM-17 16.2 -17 17.1 -22 23.5 -25 26.8 -25.5 26.5 -21.7 22 -21.4 20.5ZM11 17.8 17 26.1 19.4 31 19 31.5 15.7 25.5 12 20.6ZM-9.5 18.4 -9.5 19.8 -13.5 28.3 -16.5 32.6 -17.1 32.5 -13.7 27ZM-24 21 -23 20.6 -22.9 21 -27.5 24.5 -27.8 24ZM-2 20.6 -2 25.4 -3.2 30.5 -3.5 36.5 -4 36.5 -4 30.9ZM25.5 22.3 27.9 24 27.5 24.5ZM-15 23.4 -19 31.4 -19.5 31 -18.5 28.9ZM5.5 23.2 10 35.5 9.4 35.5 8.2 31.5 7 29.8 6.1 30.5 6.8 36 6.3 36 5.7 31.5 6 29 5.1 23.5ZM12.5 25.1 17.1 32.5 16.5 32.7 14.5 29.9ZM20 27.5 21.6 29.5 21.5 30.1ZM-0.5 27.9 -0.1 33 -1 36.6ZM-13.5 31.2 -13.5 32.3 -14.5 34.1Z" fill="#d8efa0"/>
<path d="M-6 -36.5 -5.4 -36.5 -5 -33.5 -4.5 -22.8 -5.7 -28.5 -5.3 -31.5ZM-3 -36.6 -1.8 -34 0.7 -18 0.8 -10 0.1 -8 -1 -7.3 -1.5 -7.5 -0.7 -18ZM1.5 -36.5 2.1 -36.5 1 -28ZM4.5 -36.6 5 -30.6 3.6 -22 2.5 -20.3 4.2 -30.5ZM7 -36 7.5 -36 6.5 -33.3ZM-9 -35.6 -8.5 -35.8 -7.2 -30.5 -8 -31.5ZM10 -35.6 7.5 -25.5 7.1 -26.5 7.5 -29.3ZM-12 -35 -11.4 -35 -7.6 -24 -5.5 -20.6 -3.5 -14.9 -5.1 -16 -8.5 -23.8ZM12.5 -34.6 12.9 -34.5 11.5 -28.3 8.2 -22 6.5 -15.4 4.5 -12.8 4.2 -13 7.5 -23.2 10.2 -27ZM15 -33.6 15.4 -33.5 13.9 -31ZM-16 -33.1 -13.5 -30.2 -12 -26.7 -12 -24.9 -14.3 -30 -16.5 -33ZM17.5 -32.6 17.5 -31.5 13.8 -25 13 -22.1 10 -18 14 -27.2ZM-18.5 -32 -14.6 -25.5 -11.5 -22.2 -10 -18.9 -10 -17.5 -10.5 -17.4 -12.3 -21.5 -16 -26.4 -18.7 -31.5ZM20 -31.1 19 -27.7 15.5 -23.3ZM-21 -30 -20.5 -30.2 -20 -29.5 -19.5 -27.4ZM-23 -28.6 -19 -25.7 -13.7 -18 -10 -15.2 -8 -11.9 -8 -9.8 -8.5 -9.6 -10.2 -13 -15.5 -18.6 -18.3 -23.5ZM23.5 -28.1 24 -27.8 16.2 -19 11.2 -12 10.6 -10 10.9 -9.5 12.5 -9.3 14.5 -10.3 20.5 -14.2 29.5 -21.5 30 -21.3 21.8 -14 14.9 -9 8 -5.4 6 -5.2 6 -5.7 9.9 -9.5 10 -11.8 11 -13.7 15.5 -19.5ZM-25 -27 -18.5 -19.6 -20.9 -21.5 -25.4 -26.5ZM25.5 -26.1 26 -25.6 22.1 -21.5 22 -20.7 22 -22.1ZM-27 -25 -25.1 -23 -27.3 -24.5ZM27.5 -23.5 28 -23.9 28.5 -23.4 24.7 -20.5 21.5 -18.8 18 -16 17 -16 21.5 -20.1 24 -20.8ZM-29 -22.5 -28.5 -22.8 -24 -20.6 -17 -15 -15.5 -13 -15.5 -12.2 -16 -12 -17 -13.8 -23.5 -19.2ZM-30.5 -20.6 -24.3 -16.5 -23 -15.1 -23 -14.3 -24.5 -15.9 -30.4 -20ZM32.5 -17.5 32.5 -17 24.3 -13.5 28.5 -16ZM-33 -16.4 -30 -16.1 -25 -13.7 -22.5 -13.7 -18 -11.2 -15.5 -11.2 -11.5 -8.7 -8 -7.8 -3.3 -2.5 -0.5 -0.3 -0.5 0.6 -2.9 3.5 -3 7 -4.4 10.5 -6.6 12.5 -9.3 16.5 -11.6 18 -14.5 21.9 -16.5 23 -20 27.2 -22.5 28.9 -22.8 28.5 -15.2 21 -9.7 14.5 -5.4 7.5 -4.8 4 -6.5 2.9 -10 3.7 -12.9 6 -16.6 8 -18.1 10 -22.8 13 -24 15 -26 16.5 -29 18.5 -30 18.1 -32 18.6 -26 15.7 -23.6 13.5 -24 12.8 -25 12.7 -33 16.3 -33 15.7 -26.5 12.5 -21 10.8 -18.9 9.5 -18.1 8 -19 7.2 -22 7.8 -29.5 10.8 -31.5 12.5 -34 13.7 -34 13.1 -32 12.3 -31.1 11 -32 10.5 -35 11.2 -35 10.7 -29 9.7 -20.9 6.5 -15.5 5.7 -13 4.3 -12.6 2.5 -13.5 1.6 -17 1.4 -21.5 3.1 -30.5 3.7 -36.5 5.6 -36.5 5.1 -33 4.3 -32.6 3.5 -34 2.8 -36.5 2.9 -36.5 2.4 -31.5 2.9 -23 2.4 -20.5 1.8 -19.8 1 -20.5 -0.3 -23 -0.8 -26 -0.7 -29.5 0.2 -37 0.1 -36.5 -0.4 -28 -0.6 -27.1 -1.5 -27.5 -2.3 -29.5 -2.8 -33 -3.1 -36.5 -2.5 -36.5 -3.1 -34.5 -3.5 -35 -4.5 -36.5 -4.9 -36.5 -5.4 -33.5 -4.1 -29.5 -3.5 -26 -2.1 -21.6 -1.5 -18 -0.2 -9.5 0.6 -7.5 -0 -6.6 -1.5 -8 -4.7 -14.5 -8.8 -22.5 -12.4 -33 -15.9ZM33.5 -15 33.9 -14.5 28.5 -11.5 19 -8.2 20.8 -9.5 27.5 -11.9ZM-34 -14 -22.7 -9 -20.5 -6.9 -14.9 -4.5 -23.6 -5 -36 -7.4 -36 -8.1 -23.5 -5.8 -21.5 -6.5 -21.8 -7.5 -23 -8.3 -34 -13.4ZM33.5 -12.1 34.5 -12.5 35 -12 31.9 -11.5ZM-35 -11.1 -29.4 -9 -35 -10.3ZM34 -9.5 35.5 -9.9 35.5 -9.3 34.5 -9 26.5 -7.1 25.6 -6.5 25.6 -5.5 29 -5.3 36 -7 36 -6.4 28.7 -4.5 24 -4.8 16.5 -3 12.9 -3 15.1 -4 23.5 -5.9 28.3 -8.5ZM34 -4 36.6 -4 34 -3.5ZM26 -1.5 31 -1.9 36.5 -1.6 36.5 -1 30 -1.2 21.5 -0.4 20.6 -0.5 21 -1.1ZM27.5 1.5 36.6 1.5 32.5 2.1ZM8 1.8 18 1.9 25.5 3.3 35.7 6 36 6.6 25.5 4.2 17 3.1 15 3.2 14.1 4 14.3 5 15.5 6.3 23 10.3 33.2 14.5 33.5 15.2 22.3 11 16.3 8 14 6.5 12.5 4.6 7.7 2.5ZM-27.5 5.9 -26 5.9 -27.1 6.5 -36 8.5 -36 7.9ZM22.5 6.8 35.5 8.8 35.5 9.4 30 8.2 28.6 9 30 10.3 34.7 12 34.5 12.6 29.5 10.6 28 9 22.2 7ZM2 7.3 3.5 7.5 4.5 8.5 8 15.5 12.9 31.5 13 34.6 6.9 16.5 4 12.2ZM9.5 9.6 12.1 11 16.5 16.2 22.8 21 26.4 25.5 26 26 21 20.3 16.5 17.7 9.5 10.2ZM-12 10.4 -11.5 10.8 -16 15 -18.5 15.3 -29.1 22.5 -26.6 20 -20.4 15.5ZM16.5 11.9 20.6 14 24.5 17.8 30 21.5 29.5 21.8 25 19ZM-3.5 12.6 -2.5 13.5 -2.5 17 -4.8 22 -6.4 32 -8.5 36.1 -8.5 34.5 -6.3 28.5 -6.1 23.5 -3.8 16.5ZM24 14.3 28.5 16.5 31.3 19 31 19.5ZM3 15 3.7 21 3.2 25 4.5 36.5 4 36.5 3.5 34 2.4 25 2.1 17ZM-16.5 15.6 -15.9 16 -16.5 17.6 -22 24.5 -24.5 27.1 -25 27.1 -17.3 17.5ZM11 17.3 13 18.9 17.5 25.4 20 31 19.4 31 17.2 26.5ZM-9 17.8 -8.7 19.5 -10 23.1 -13 29.1 -16.5 33.1 -12.8 27ZM-29.5 18.9 -29.3 19.5 -30.5 20.6ZM17.5 19.8 24.3 27.5 24 28 19 22.9 17.5 20.7ZM-2 20.3 -1.4 20.5 -1 21.8 -1 25.3 -2.3 29 -2.9 36.5 -3.5 36.5 -3.1 29.5 -1.8 23.5ZM-23.5 21.4 -23 21.1 -23 21.6 -27 25 -27.4 24.5ZM5.5 22.5 6.5 23.9 9.5 31.5 10.6 35 10 35.3 8.7 31 7 28.4ZM26.5 22.3 28.2 23.5 28 24 26 22.5ZM-14.5 23.4 -15.5 26.5 -18.5 31.7 -19 31.5ZM12.5 24.9 14 26.1 17.5 32.6 17 32.5ZM-8.5 25.9 -11 35 -11.5 35 -10 29.2ZM20 27.4 21.1 28 22 29.6ZM0 27.9 0.5 29.5 0.6 34 -0.5 36.6ZM6.5 30.3 7.5 36 6.9 36 6.5 33.9ZM-13 30.9 -13 32.4 -14 34.1Z" fill="#fcde8e"/>
<path d="M4 -36.5 4 -29.5 2.5 -20.9 2.5 -24.7 3.8 -30.5ZM-9.5 -35.5 -9 -35 -9 -33.3ZM-3 -35.5 -0.6 -18 -1.5 -7.9 -3.1 -13.5 -5.6 -15.5 -9 -23.4 -11.7 -33 -5.3 -16.5 -3 -14.1 -1.7 -15.5 -1.5 -17.5ZM8.5 -33.5 7.1 -27 7.1 -26 8 -25.1 9.7 -27 11.5 -33.4 11.5 -31.4 10 -26.7 7.7 -23.5 4 -13 4.5 -16.2 6.8 -23.5 7 -29.3ZM-5.5 -32.8 -5.8 -28.5 -5 -23 -6.9 -29.5 -5.7 -30.5ZM-15.5 -31.6 -13.1 -27.5 -13.5 -27.4 -15.9 -31.5ZM15.5 -30.2 10 -18.8 10 -19.7 13 -26.3ZM18.5 -29.6 18.5 -28.4 16.5 -25.2ZM-17.5 -29.3 -15.8 -26 -12 -21.1 -11 -18.2 -16.5 -26.2ZM-22.5 -27.6 -19 -24.4 -15.4 -18.5 -10 -12.9 -9 -11.3 -9 -10 -16.5 -18.7 -17.7 -22 -23 -27.5ZM22 -27.2 22.3 -27 11.3 -14 10.1 -12 10.1 -10.5 10.5 -10.1 13 -10.3 28.3 -20.5 20.9 -14.5 14.9 -10.5 13 -9.5 10 -9.3 6 -5.8 6 -6.9 10.5 -14.4 15.5 -20.5ZM-25.5 -26.5 -23.5 -24.5 -24 -24.4ZM25 -26.1 25.4 -26 25 -25.5 23 -23.4 22.5 -23.5ZM-23.5 -24.5 -19.5 -19.7 -22.5 -22.5ZM27.5 -24.1 28 -24 27.5 -23.5 26.2 -23ZM25.5 -22.5 26.2 -22.5 24.5 -21.3ZM21.5 -22 22 -20.8 23.5 -20.5 22 -20.3 17.2 -16.5 20.9 -20.5ZM-26.5 -20.7 -22.1 -18 -17.2 -14 -16.5 -12.7ZM-29 -18.9 -24.8 -16 -27.1 -17 -29.1 -18.5ZM30 -17.1 31.1 -17 25.7 -15ZM-31.5 -15.2 -29.5 -15 -14.6 -9 -8.1 -5 -7 -2.9 -16 -8.6ZM30.5 -14 31.4 -14 27.7 -12 19 -8.8 21.5 -10.5 27 -12.2ZM-30.5 -11.8 -21.9 -7.5 -27.5 -9.5ZM30.5 -9.5 34 -9.5 27.5 -8.3 24 -6 13 -3.5 15.6 -5 22.5 -6.3 26.8 -8.5ZM-34 -6.8 -14.8 -4 -16.5 -3.7 -24.3 -4.5 -32.1 -6ZM32 -6.5 33.7 -6.5 30.2 -5.5 25.7 -5.5ZM-33.5 -3.1 -28.1 -2.5 -36.5 -2.4ZM24.5 -2 31 -2.4 34.4 -2 21 -1.2ZM-26.5 -0.6 -21.5 -0.6 -20.5 0.1 -24 -0.2 -29 0.6 -36.5 0.5 -29 0.3ZM-0.5 0.5 0.1 0.5 1.2 5 4.5 6.4 6.6 9 7.2 12 9.5 16.5 9.8 20 11.7 24 11.3 25.5 11.8 27.5 14.2 32 13.2 32.5 13 33.6 12.8 31 8.1 16 4.3 8.5 3 7.3 1.6 7 1 5.6 -1 7.1 -2.1 10.5 -1.4 14 -1.6 18.5 -0.5 21.2 -0.3 26.5 0.2 27.5 -1.9 28 -1.1 26 -1.1 21 -2.5 19.8 -3.5 20.5 -4.7 24.5 -5.7 32 -5.5 33.8 -6.8 32.5 -5.7 29.5 -5 22.8 -2.8 18 -2.3 15 -2.7 13 -4.5 12.1 -5.9 13 -7.4 15.5 -8.5 21.3 -13 30.8 -14.3 30.5 -12.7 28.5 -8.7 20 -8.6 18.5 -9.5 17.6 -10.5 17.7 -11.7 19 -13.9 22.5 -14 24.1 -15.5 22.9 -17.3 24.5 -19.8 28 -20 29.6 -21.4 28 -20 27.2 -16.5 23 -14.5 21.8 -11.6 18 -9 16 -6.5 12.2 -4.3 10 -3.1 6.5 -4 4.1 -5.2 5 -7 4.3 -9.5 5.1 -16 8.9 -29 19.7 -29.8 18.5 -25 15.8 -23.6 14.5 -22.9 13 -19 10.7 -16.9 8 -12.5 5.6 -10.1 3.5 -7 2.7 -4 3.4ZM9.5 0.5 17.9 1 34.1 5 17 1.8 7.5 2 7.9 1ZM-17.5 1.4 -13.6 1.5 -12.7 2.5 -16 2.2 -22.7 4 -29.5 4.1 -33.5 5 -31.5 3.9 -22 3.2ZM14.5 5 20 7.5 23 9.7 31.7 13.5 30.3 13.5 22.3 10 15.9 6.5ZM22 6.4 31.8 7.5 27.5 7.7ZM-29 7 -27.3 7 -29.1 7.5 -33.8 8ZM-21 7.5 -18.5 7.4 -18.4 8 -19.5 7.7 -21.5 8.2 -30.8 12 -30.1 11ZM9.5 8.9 11.5 9.5 13.5 11 16.2 15 23.1 20.5 24.5 22.5 24 22.6 21.5 19.7 16.8 16.5 11.5 10.6 8.9 9.5ZM-11.5 10.9 -16.5 18.5 -22 25.1 -23 25.5 -16.7 18 -16 16 -17.5 15.3 -22 18.5 -25.4 20 -18.9 15.5 -16 14.8ZM32.5 10.8 34.8 11.5 35 12 32 11ZM17 11.5 21.7 14 24 16.8 28.5 20.3 23.5 17 21 14.4 17 12ZM-27 13.5 -25.9 13.5 -30 15.4 -30.1 15ZM26 14.6 29.5 16.5 30 17.9 25.9 15ZM3.5 15.7 4.9 21.5 7 23.7 9.9 31.5 9.5 31.6 8 28.4 6.4 23.5 4.5 22.1 3.7 24 4.5 35.8 3.3 25ZM11 16.8 13.5 18.6 18.6 26 18.9 27 18.5 28 17.2 25 12.7 18.5 10.7 17ZM-26 20.4 -25.5 20.1 -25.3 20.5 -26.5 21.3ZM19 21.2 24.4 27 24 27.1 20.5 23.5ZM-23.5 22 -23 22 -26.5 25.5 -26.8 25ZM-14.5 24.1 -14.5 25.6 -17 29.9 -17 29ZM14.5 26.1 17 30.5 17 31.3 14.5 27ZM-8.5 27 -8.5 28.6 -10 33.4 -10 31.8ZM0.5 27.9 1.6 35 0.5 35.5ZM-2 28.1 -2.5 36.5 -2.5 30.5ZM7.5 33.3 8 36 7.5 35.7Z" fill="#f89554"/>
<path d="M-3 -33.6 -1.5 -18 -1.5 -16.3 -2.9 -13.5 -2 -7.9 -7 -16.6 -9.5 -23.2 -10.7 -28 -6.1 -16.5 -5 -14.7 -3.5 -14.1 -2.4 -15.5 -2.1 -17ZM7.5 -32.2 6.6 -27.5 7 -24.2 3.5 -13.5 4 -17.3 6.2 -23.5 6.5 -29.2ZM-7.5 -29.8 -6.5 -29.1 -6 -24.7ZM14.5 -29.6 14.8 -29.5 9.5 -18.5 10 -21ZM3 -29.3 2 -20.7 2 -25.3ZM-23.5 -28.1 -18.2 -22.5 -23.5 -27.5ZM-17 -27.2 -16.1 -25.5 -16.5 -25.4 -17 -26.2ZM21 -27 21.7 -27 19.7 -25.5ZM-16 -25.5 -13 -21.5 -11.5 -18.3 -16 -24.7ZM18.5 -24.1 18.9 -24 18.5 -23.5 10.2 -14 5.4 -5.5 5 -6.5 5.5 -8.1 9.5 -14.4ZM-23 -23.1 -22.1 -22 -23 -22.4 -23.4 -23ZM21 -22 21 -20.7 18 -17.6 17.8 -18ZM-17 -20.5 -16.4 -18.5 -10 -11.6 -9.5 -10.3 -16.5 -17.6 -19.2 -19 -18 -19.1ZM-25.5 -19.7 -22.3 -17.5 -22.5 -17.1 -25.8 -19.5ZM24.5 -18.5 25.2 -18.5 20.5 -15 13.5 -10.5 11.7 -10ZM-22 -17.2 -17 -12.8 -20.8 -15.5 -22.4 -17ZM28.5 -17.1 29.7 -17 27.5 -16.1 27.4 -16.5ZM-28.5 -13.9 -26.5 -12.7 -28.6 -13.5ZM-26 -12.7 -15.7 -8.5 -8.1 -3.5 -7.5 -2.5 -12.5 -4.4 -15 -7.3 -26.4 -12.5ZM24.5 -12 26.4 -12 22 -10.8 19 -9.2 21.3 -11ZM-28.5 -10.2 -23.6 -8 -28.3 -9ZM30 -10 34.2 -10 31.5 -9.9 27 -8.7ZM26 -8.6 26.9 -8.5 23.1 -6.5 16.5 -5.3 13 -3.5 12.7 -4 16 -6 22 -6.7ZM-31.5 -5.7 -17 -3.7 -15 -3.7 -14.5 -4.5 -14 -4 -14.5 -3.4 -16.7 -3 -24.6 -4ZM31.5 -3 33 -2.4 20.2 -1.5 23.7 -2.5ZM8.5 -0.6 10.5 -0.8 18 0.1 21 1.4 26 2 27.7 3 18 1.1 10.5 0.6 8.5 0.8 6.8 2 6.6 0.5ZM-26 -0 -21.3 0 -28 0.8ZM0.5 0.4 3.9 2.5 5.8 5.5 8 7.5 11.3 8.5 15 10.9 17.3 11 23.5 13.6 23 15.7 21.5 13.8 18 11.7 16.5 11.5 15.5 12.5 15.7 13.5 23.5 20.2 26.5 21.6 25 21.7 24.5 22.6 23.5 20.8 16.5 15.2 13.4 11 11 9.3 9.5 9 7.8 10.5 9.2 14 13.5 17.8 17.3 23.5 20.3 26.5 19.1 27.5 19 28.2 18.3 25.5 13.9 19 11.5 16.7 11 16.6 9.8 18 11.7 22.5 13.7 24.5 12.5 24.3 12 24.8 9.5 19 9.3 16 7.5 12.7 6.2 8.5 4 6.2 2 5.8 1.5 7.2 -0.3 8.5 -0.7 10.5 -0.7 18 1 30.1 0.7 28 -0.2 27 -0.3 22 -1.6 19 -1.5 14 -2.2 11 -1.5 7.8 0.4 5ZM-17.5 2.4 -14.5 2.2 -13.5 2.6 -22.1 4.5 -24.5 4.7 -28.2 4 -23.5 4.1ZM30 3.9 33.3 4 34.1 4.5ZM-31 4.5 -28.2 4.5 -32 5.2 -32.4 5ZM-8 4.4 -6.5 4.3 -5.9 5 -7.5 5.3 -14.5 8.8 -23.3 15 -22.1 13.5 -15.6 8.5ZM15 4.9 20.1 6.5 22.5 8.9 28 11.8 22.7 9.5ZM22 5.9 31.3 7 27 7ZM-20.5 8 -18.5 8 -30.2 12ZM-11 10.9 -11.5 12.5 -20 23.4 -19.5 22 -15.7 17.5 -14.6 15ZM33.5 10.8 34.9 11 35 11.6ZM-5 12.3 -4 12.5 -5.4 13.5 -6.3 15 -8.5 22.8 -10.5 26.1 -10.9 26 -8.2 20.5 -7.5 15.6ZM28 15.2 30.5 16.1 30.5 16.7 30 17.1ZM4 15.9 5.3 20 8 25 9 29.2 6.7 23 5.5 22 4.5 22.8 4.2 22.5 4.8 22ZM-19 16.3 -18.7 16.5 -21.8 19 -23.7 19.5ZM-27 17.8 -26.6 18 -28.5 19.7 -28.5 19ZM-10.5 17.9 -9.4 18 -10.5 18.3 -11.8 20 -14.3 25.5 -13.5 21.8ZM-3 20 -2.4 20 -3.7 22 -4.8 28.5 -5 36.5 -5.5 30.7 -4.5 23.6ZM4 22.8 4.7 28.5 4.5 33.1ZM-24.5 23.5 -24 23.1 -23.9 23.5 -26 25.6 -26.5 25.5ZM23.5 25.4 25 27 23.5 26 23.1 25.5ZM-11 26.1 -12.5 33.2 -12.6 30ZM-19 26.8 -18.6 27 -19.5 29.2 -19.7 28ZM13 29 15 32.3 13.5 31.4ZM1.5 30.4 2 35.4 1.3 34.5Z" fill="#cc3a29"/>
</g></g></g>
<path d="M302.6 691.5v5M302.6 819.3v-5M289.6 806.5h5M419.6 806.5h-5M328.6 691.5v5M328.6 819.3v-5M289.6 781.0h5M419.6 781.0h-5M354.6 691.5v5M354.6 819.3v-5M289.6 755.4h5M419.6 755.4h-5M380.6 691.5v5M380.6 819.3v-5M289.6 729.8h5M419.6 729.8h-5M406.6 691.5v5M406.6 819.3v-5M289.6 704.3h5M419.6 704.3h-5" stroke="#111" stroke-width=".7" fill="none"/>
<rect x="289.6" y="691.5" width="130.0" height="127.8" fill="none" stroke="#555" stroke-width=".6"/>
<text x="294.6" y="707.3" font-size="11.6" text-anchor="start" font-weight="bold">(d)</text>
<rect x="370.9" y="699.4" width="41.3" height="17.2" fill="#fff" stroke="#666" stroke-width=".5"/>
<text x="372.9" y="712.1" font-size="11.4" text-anchor="start" >Ω=3.09</text>
<text x="417.3" y="818.1" font-size="10.4" text-anchor="end" fill="#333">7(h)</text>
<text x="302.6" y="831.1" font-size="11.2" text-anchor="middle" >-200</text>
<text x="328.6" y="831.1" font-size="11.2" text-anchor="middle" >-100</text>
<text x="354.6" y="831.1" font-size="11.2" text-anchor="middle" >0</text>
<text x="380.6" y="831.1" font-size="11.2" text-anchor="middle" >100</text>
<text x="406.6" y="831.1" font-size="11.2" text-anchor="middle" >200</text>
<text x="354.6" y="841.0" font-size="11.2" text-anchor="middle" >x</text>
<linearGradient id="cb32" x1="0" y1="0" x2="0" y2="1"><stop offset="0.000" stop-color="#a01818"/><stop offset="0.050" stop-color="#b82420"/><stop offset="0.123" stop-color="#e45434"/><stop offset="0.210" stop-color="#f48048"/><stop offset="0.300" stop-color="#fcb064"/><stop offset="0.390" stop-color="#fcd480"/><stop offset="0.474" stop-color="#fcf4ac"/><stop offset="0.560" stop-color="#e4f4a0"/><stop offset="0.650" stop-color="#b4e0a0"/><stop offset="0.740" stop-color="#7ccaa4"/><stop offset="0.825" stop-color="#3c9c9c"/><stop offset="0.910" stop-color="#1c4c88"/><stop offset="1.000" stop-color="#070a6e"/></linearGradient><rect x="422.4" y="691.5" width="6.3" height="127.8" fill="url(#cb32)" stroke="#333" stroke-width=".5"/>
<path d="M422.4 691.5H430.7" stroke="#222" stroke-width=".7"/>
<text x="431.3" y="695.7" font-size="11.8" text-anchor="start" font-family="Liberation Sans, sans-serif">π</text>
<path d="M422.4 723.4H430.7" stroke="#222" stroke-width=".7"/>
<text x="431.3" y="727.6" font-size="11.8" text-anchor="start" font-family="Liberation Sans, sans-serif">π/2</text>
<path d="M422.4 755.4H430.7" stroke="#222" stroke-width=".7"/>
<text x="431.3" y="759.6" font-size="11.8" text-anchor="start" font-family="Liberation Sans, sans-serif">0</text>
<path d="M422.4 787.3H430.7" stroke="#222" stroke-width=".7"/>
<text x="431.3" y="791.5" font-size="11.8" text-anchor="start" font-family="Liberation Sans, sans-serif">-π/2</text>
<path d="M422.4 819.3H430.7" stroke="#222" stroke-width=".7"/>
<text x="431.3" y="823.5" font-size="11.8" text-anchor="start" font-family="Liberation Sans, sans-serif">-π</text>
<text x="105.5" y="526.0" font-size="11.7" text-anchor="start" font-weight="bold">d=1</text>
<text x="105.5" y="684.0" font-size="11.7" text-anchor="start" font-weight="bold">d=20</text>
<polyline points="584.4,727.3 584.8,726.0 585.1,724.7 585.5,723.4 585.9,722.1 586.3,720.8 586.7,719.5 587.2,718.2 587.7,716.9 588.2,715.7 588.7,714.4 589.2,713.2 589.8,712.0 590.5,710.8 591.2,709.6 591.9,708.4 592.6,707.3 593.4,706.1 594.1,705.0 595.0,703.9 595.8,702.9 596.7,701.9 597.6,700.9 598.6,699.9 599.5,699.0 600.6,698.1 601.6,697.1 602.6,696.2 603.6,695.3 604.6,694.4 605.6,693.4 606.6,692.5 607.6,691.7 608.7,690.9 609.8,690.1 611.0,689.4 612.2,688.7 613.4,688.1 614.7,687.6 616.0,687.3" fill="none" stroke="#000" stroke-width="1.1" />
<polyline points="617.6,727.3 618.5,724.1 619.5,721.0 620.7,717.9 622.2,715.0 623.6,712.0 624.8,708.9 625.9,705.7 627.0,702.6 628.4,699.7 629.9,696.7 631.6,693.9 633.4,691.1 635.3,688.3 637.2,685.7 639.2,683.1 641.4,680.6 643.7,678.2 646.1,675.9 648.3,673.4 650.5,671.0 652.7,668.5 654.9,666.0 657.1,663.6 659.4,661.1 661.6,658.7 663.9,656.3 666.2,654.0 668.6,651.7 671.0,649.5 673.5,647.3 675.9,645.1 678.4,642.9 681.0,640.8 683.5,638.6 686.0,636.5 688.5,634.4 691.1,632.2 693.6,630.1 696.0,627.9 698.5,625.7 701.0,623.4 703.4,621.2 705.8,619.0 708.3,616.7 710.7,614.5 713.1,612.2 715.5,610.0 717.9,607.7 720.4,605.5 722.8,603.2 725.2,601.0 727.6,598.7 730.1,596.5 732.5,594.3 735.0,592.1 737.5,589.9 740.0,587.8 742.5,585.6 745.0,583.5 747.6,581.4 750.1,579.3 752.7,577.3 755.3,575.2 757.9,573.2 760.6,571.2 763.2,569.2 765.8,567.2 768.4,565.2 771.1,563.2 773.7,561.2 776.3,559.2 779.0,557.2 781.6,555.2 784.3,553.3 787.0,551.3 789.6,549.4 792.3,547.4 795.0,545.5 797.7,543.6" fill="none" stroke="#000" stroke-width="1.1" />
<path d="M807.4 559.4L809.4 731.0" stroke="#000" stroke-width="1.1" stroke-dasharray="6 5" fill="none"/>
<path d="M619.6 707.5v3.5" stroke="#224" stroke-width="1"/>
<circle cx="584.4" cy="727.3" r="3.1" fill="#f01414"/>
<circle cx="589.3" cy="712.8" r="3.1" fill="#f01414"/>
<circle cx="602.6" cy="696.2" r="3.1" fill="#f01414"/>
<circle cx="608.7" cy="690.9" r="3.1" fill="#f01414"/>
<circle cx="615.6" cy="687.3" r="3.1" fill="#f01414"/>
<circle cx="616.4" cy="689.3" r="3.1" fill="#f01414"/>
<path d="M617.2 687.3L621.2 694.5H613.2Z" fill="#f01414"/>
<path d="M620.0 690.5L624.0 697.7H616.0Z" fill="#f01414"/>
<circle cx="617.6" cy="727.3" r="3.1" fill="#1414f0"/>
<circle cx="623.3" cy="712.8" r="3.1" fill="#1414f0"/>
<circle cx="628.1" cy="700.2" r="3.1" fill="#1414f0"/>
<circle cx="637.8" cy="684.8" r="3.1" fill="#1414f0"/>
<circle cx="647.1" cy="674.7" r="3.1" fill="#1414f0"/>
<circle cx="666.6" cy="653.7" r="3.1" fill="#1414f0"/>
<circle cx="695.7" cy="628.2" r="3.1" fill="#1414f0"/>
<circle cx="743.9" cy="584.5" r="3.1" fill="#1414f0"/>
<circle cx="763.3" cy="569.1" r="3.1" fill="#1414f0"/>
<circle cx="797.7" cy="543.6" r="3.1" fill="#1414f0"/>
<circle cx="799.3" cy="545.2" r="3.1" fill="#1414f0"/>
<path d="M802.1 542.8L806.1 550.0H798.1Z" fill="#1414f0"/>
<path d="M807.0 550.9L811.0 558.1H803.0Z" fill="#1414f0"/>
<rect x="550.8" y="525.0" width="274.4" height="206.0" fill="none" stroke="#444" stroke-width="1.25"/>
<path d="M554.3 731.0v-5M554.3 525.0v5M594.6 731.0v-5M594.6 525.0v5M634.9 731.0v-5M634.9 525.0v5M675.1 731.0v-5M675.1 525.0v5M715.4 731.0v-5M715.4 525.0v5M755.7 731.0v-5M755.7 525.0v5M796.0 731.0v-5M796.0 525.0v5" stroke="#444" stroke-width="1.00" fill="none"/>
<path d="M562.3 731.0v-2.5M562.3 525.0v2.5M570.4 731.0v-2.5M570.4 525.0v2.5M578.4 731.0v-2.5M578.4 525.0v2.5M586.5 731.0v-2.5M586.5 525.0v2.5M602.6 731.0v-2.5M602.6 525.0v2.5M610.7 731.0v-2.5M610.7 525.0v2.5M618.7 731.0v-2.5M618.7 525.0v2.5M626.8 731.0v-2.5M626.8 525.0v2.5M642.9 731.0v-2.5M642.9 525.0v2.5M651.0 731.0v-2.5M651.0 525.0v2.5M659.0 731.0v-2.5M659.0 525.0v2.5M667.1 731.0v-2.5M667.1 525.0v2.5M683.2 731.0v-2.5M683.2 525.0v2.5M691.3 731.0v-2.5M691.3 525.0v2.5M699.3 731.0v-2.5M699.3 525.0v2.5M707.4 731.0v-2.5M707.4 525.0v2.5M723.5 731.0v-2.5M723.5 525.0v2.5M731.6 731.0v-2.5M731.6 525.0v2.5M739.6 731.0v-2.5M739.6 525.0v2.5M747.7 731.0v-2.5M747.7 525.0v2.5M763.8 731.0v-2.5M763.8 525.0v2.5M771.9 731.0v-2.5M771.9 525.0v2.5M779.9 731.0v-2.5M779.9 525.0v2.5M788.0 731.0v-2.5M788.0 525.0v2.5M804.1 731.0v-2.5M804.1 525.0v2.5M812.1 731.0v-2.5M812.1 525.0v2.5M820.2 731.0v-2.5M820.2 525.0v2.5" stroke="#444" stroke-width="1.00" fill="none"/>
<path d="M550.8 730.3h5M825.2 730.3h-5M550.8 679.0h5M825.2 679.0h-5M550.8 627.6h5M825.2 627.6h-5M550.8 576.3h5M825.2 576.3h-5M550.8 525.0h5M825.2 525.0h-5" stroke="#444" stroke-width="1.00" fill="none"/>
<path d="M550.8 720.0h2.5M825.2 720.0h-2.5M550.8 709.8h2.5M825.2 709.8h-2.5M550.8 699.5h2.5M825.2 699.5h-2.5M550.8 689.2h2.5M825.2 689.2h-2.5M550.8 668.7h2.5M825.2 668.7h-2.5M550.8 658.4h2.5M825.2 658.4h-2.5M550.8 648.2h2.5M825.2 648.2h-2.5M550.8 637.9h2.5M825.2 637.9h-2.5M550.8 617.4h2.5M825.2 617.4h-2.5M550.8 607.1h2.5M825.2 607.1h-2.5M550.8 596.8h2.5M825.2 596.8h-2.5M550.8 586.6h2.5M825.2 586.6h-2.5M550.8 566.1h2.5M825.2 566.1h-2.5M550.8 555.8h2.5M825.2 555.8h-2.5M550.8 545.5h2.5M825.2 545.5h-2.5M550.8 535.3h2.5M825.2 535.3h-2.5" stroke="#444" stroke-width="1.00" fill="none"/>
<text x="554.3" y="749.5" font-size="14.8" text-anchor="middle">0</text>
<text x="594.6" y="749.5" font-size="14.8" text-anchor="middle">0.5</text>
<text x="634.9" y="749.5" font-size="14.8" text-anchor="middle">1</text>
<text x="675.1" y="749.5" font-size="14.8" text-anchor="middle">1.5</text>
<text x="715.4" y="749.5" font-size="14.8" text-anchor="middle">2</text>
<text x="755.7" y="749.5" font-size="14.8" text-anchor="middle">2.5</text>
<text x="796.0" y="749.5" font-size="14.8" text-anchor="middle">3</text>
<text x="543.8" y="735.2" font-size="14.8" text-anchor="end">0</text>
<text x="543.8" y="683.8" font-size="14.8" text-anchor="end">50</text>
<text x="543.8" y="632.5" font-size="14.8" text-anchor="end">100</text>
<text x="543.8" y="581.2" font-size="14.8" text-anchor="end">150</text>
<text x="593.3" y="540.5" font-size="14.8" text-anchor="end" >d=1</text>
<text x="593.3" y="555.5" font-size="14.8" text-anchor="end" >d=20</text>
<circle cx="608.7" cy="535.5" r="3.1" fill="#f01414"/><circle cx="608.7" cy="550.5" r="3.1" fill="#1414f0"/>
<text x="688.4" y="766.0" font-size="14.8" text-anchor="middle" >Ω [mRy/ <tspan font-style="italic">ℏ</tspan>]</text>
<text transform="translate(510.5,627.4) rotate(-90)" font-size="14.8" text-anchor="middle">N<tspan font-size="11" dy="3.5">v</tspan></text></svg>
</div>
</body></html>
